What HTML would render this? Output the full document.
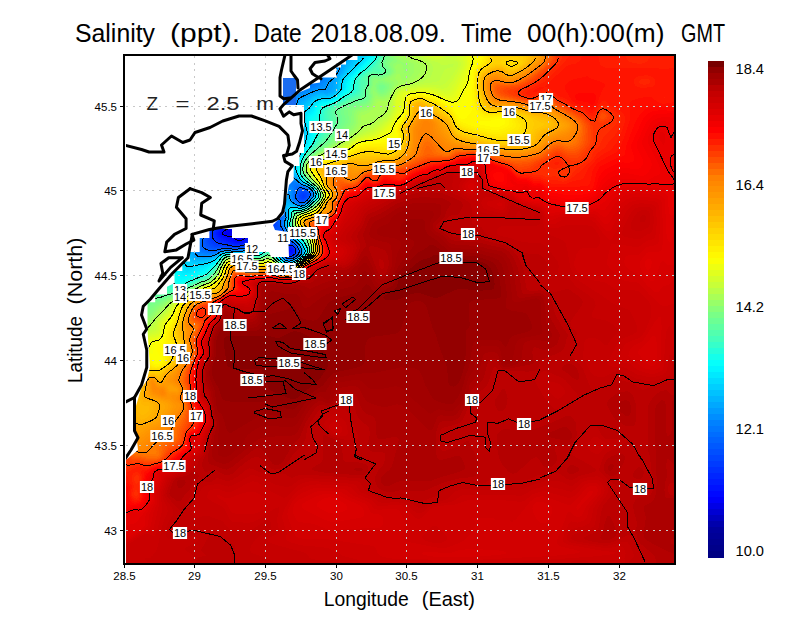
<!DOCTYPE html>
<html><head><meta charset="utf-8"><style>
html,body{margin:0;padding:0;background:#fff;}
svg{display:block;}
text{font-family:"Liberation Sans",sans-serif;}
</style></head><body>
<svg width="800" height="618" viewBox="0 0 800 618">
<rect x="0" y="0" width="800" height="618" fill="#fff"/>
<g font-size="25"><text x="75" y="42" textLength="80" lengthAdjust="spacingAndGlyphs">Salinity</text><text x="170" y="42" textLength="70" lengthAdjust="spacingAndGlyphs">(ppt).</text><text x="253.6" y="42" textLength="48" lengthAdjust="spacingAndGlyphs">Date</text><text x="310.5" y="42" textLength="135.3" lengthAdjust="spacingAndGlyphs">2018.08.09.</text><text x="461" y="42" textLength="51" lengthAdjust="spacingAndGlyphs">Time</text><text x="527" y="42" textLength="137.4" lengthAdjust="spacingAndGlyphs">00(h):00(m)</text><text x="681" y="42" textLength="44" lengthAdjust="spacingAndGlyphs">GMT</text></g>
<defs><clipPath id="pc"><rect x="126" y="56" width="548" height="507"/></clipPath></defs>
<g clip-path="url(#pc)">
<g shape-rendering="crispEdges">
<rect x="123" y="54" width="554" height="512" fill="#0000f1"/>
<path fill="#0000fa" d="M127.0 56.0 675.0 56.0 675.0 564.0 125.0 564.0 125.0 56.0zM228.0 230.0 224.6 232.0 224.7 234.0 227.0 234.7 231.0 234.8 233.3 234.0 233.9 232.0 233.3 230.0 231.0 229.4 229.0 229.7zM236.5 236.0 237.1 238.0 239.0 238.8 242.8 238.0 243.0 236.0 239.0 235.2 237.0 235.6z"/>
<path fill="#0003ff" d="M127.0 56.0 675.0 56.0 675.0 564.0 125.0 564.0 125.0 56.0zM222.0 174.0 223.0 176.5 224.6 174.0 223.0 172.0zM230.7 228.0 225.6 230.0 223.0 231.8 222.5 234.0 225.0 235.5 233.0 237.5 237.0 240.1 242.1 240.0 245.3 238.0 246.3 236.0 245.0 234.2 238.2 232.0 235.0 227.9 231.0 227.9z"/>
<path fill="#0008ff" d="M127.0 56.0 675.0 56.0 675.0 564.0 125.0 564.0 125.0 56.0zM221.2 172.0 221.0 176.3 223.0 177.7 224.9 176.0 225.3 174.0 225.0 172.7 223.0 170.8zM234.7 226.0 229.0 227.7 223.9 230.0 221.4 232.0 221.0 234.0 223.2 236.0 230.3 238.0 235.0 240.5 237.0 241.2 241.0 241.2 244.2 240.0 246.9 238.0 248.4 236.0 248.6 234.0 241.0 231.0 239.4 230.0 237.0 226.3 235.0 225.9z"/>
<path fill="#000dff" d="M127.0 56.0 675.0 56.0 675.0 564.0 125.0 564.0 125.0 56.0zM220.8 170.0 219.8 174.0 220.3 178.0 221.0 178.8 223.0 178.6 225.0 176.6 225.8 174.0 225.0 171.6 223.0 169.8 221.0 169.8zM231.1 226.0 223.0 229.7 221.0 231.3 219.9 234.0 221.0 235.7 236.2 242.0 241.0 242.0 245.0 240.4 248.2 238.0 250.0 236.0 251.0 233.5 249.9 232.0 242.9 230.0 240.5 228.0 239.0 225.0 237.0 224.4 233.0 225.4z"/>
<path fill="#0012ff" d="M127.0 56.0 675.0 56.0 675.0 564.0 125.0 564.0 125.0 56.0zM219.2 170.0 219.0 178.0 220.3 180.0 223.0 179.3 225.0 177.3 226.2 174.0 225.0 170.8 223.0 169.0 221.0 168.5zM234.3 224.0 221.2 230.0 219.3 232.0 219.0 234.2 221.0 236.8 229.0 239.7 233.5 242.0 237.0 242.8 243.0 242.1 249.3 238.0 253.0 234.0 253.4 232.0 251.0 230.6 245.0 229.2 243.0 228.1 241.0 223.6 239.0 222.9 235.0 223.8zM290.4 250.0 290.0 252.0 291.0 252.8 292.1 252.0 291.9 250.0 291.0 249.5z"/>
<path fill="#0017ff" d="M127.0 56.0 675.0 56.0 675.0 564.0 125.0 564.0 125.0 56.0zM218.5 168.0 217.6 172.0 218.1 180.0 219.0 181.2 221.0 181.0 223.0 180.0 226.1 176.0 226.6 174.0 226.1 172.0 223.0 168.3 221.0 167.4 219.0 167.5zM237.6 222.0 221.0 229.4 218.3 232.0 218.0 234.0 218.8 236.0 221.0 237.8 233.0 242.6 237.0 243.5 243.0 242.6 247.0 240.6 250.4 238.0 254.5 234.0 255.7 232.0 254.8 230.0 245.0 227.5 243.7 226.0 242.8 222.0 241.0 221.4 239.0 221.6zM289.2 250.0 289.0 252.3 291.0 253.8 293.0 252.4 293.2 250.0 291.0 248.5z"/>
<path fill="#001cff" d="M127.0 56.0 675.0 56.0 675.0 564.0 125.0 564.0 125.0 56.0zM217.5 166.0 216.4 170.0 216.5 180.0 217.0 182.3 219.0 182.7 223.0 180.5 225.0 178.4 227.0 174.0 225.0 169.5 223.0 167.6 219.0 165.7zM241.1 220.0 233.0 223.0 221.0 228.6 217.4 232.0 217.1 234.0 217.8 236.0 221.0 238.7 233.0 243.4 239.0 244.0 245.0 242.3 248.8 240.0 255.8 234.0 257.5 232.0 258.0 230.0 255.0 228.4 249.0 227.5 245.8 226.0 244.9 224.0 244.9 222.0 243.9 220.0 243.0 219.8zM290.3 248.0 289.0 249.1 288.4 252.0 289.6 254.0 292.0 254.0 293.8 252.0 293.7 250.0 293.0 248.7 291.0 247.7z"/>
<path fill="#0021ff" d="M127.0 56.0 675.0 56.0 675.0 564.0 125.0 564.0 125.0 56.0zM216.2 164.0 215.2 168.0 215.3 182.0 215.9 184.0 217.0 184.8 221.0 182.5 225.0 178.9 226.9 176.0 227.0 172.4 225.0 168.9 223.0 167.0 217.0 163.4zM238.3 220.0 219.0 229.1 216.4 232.0 216.1 234.0 216.7 236.0 219.0 238.6 232.5 244.0 239.0 244.4 245.0 242.9 254.7 236.0 259.0 232.0 260.2 230.0 259.0 227.9 248.5 226.0 246.6 224.0 246.7 220.0 245.0 218.2 239.0 219.7zM289.0 248.0 287.9 252.0 288.6 254.0 291.0 254.8 293.1 254.0 294.3 252.0 294.3 250.0 293.1 248.0 291.0 247.1 289.0 248.0z"/>
<path fill="#0026ff" d="M127.0 56.0 675.0 56.0 675.0 564.0 125.0 564.0 125.0 56.0zM214.7 162.0 214.0 170.0 214.5 186.0 215.0 186.7 217.0 186.3 225.0 179.3 227.2 176.0 227.5 174.0 227.0 171.5 223.0 166.4 217.0 161.7 215.0 161.6zM241.4 218.0 219.4 228.0 216.7 230.0 215.4 232.0 215.2 234.0 217.0 238.0 219.0 239.7 230.3 244.0 237.0 245.0 243.4 244.0 247.7 242.0 255.7 236.0 261.9 230.0 262.4 228.0 259.0 226.5 251.0 225.4 249.0 224.5 248.0 222.0 248.5 218.0 247.0 216.7 243.0 217.4zM288.5 248.0 287.4 252.0 288.1 254.0 289.0 254.8 291.0 255.2 293.6 254.0 294.8 252.0 294.8 250.0 293.7 248.0 291.0 246.6 289.0 247.2z"/>
<path fill="#002bff" d="M127.0 56.0 675.0 56.0 675.0 564.0 125.0 564.0 125.0 56.0zM213.9 160.0 212.8 164.0 212.7 184.0 213.5 188.0 215.0 188.6 225.0 179.7 227.4 176.0 227.8 174.0 227.0 170.8 225.0 167.8 217.0 160.5 215.0 159.6zM244.5 216.0 219.0 227.4 215.6 230.0 214.4 232.0 214.1 234.0 215.0 236.9 217.0 239.5 221.0 241.7 235.0 245.4 239.0 245.3 244.7 244.0 248.6 242.0 256.6 236.0 261.3 232.0 264.6 228.0 263.0 225.9 250.8 224.0 249.5 222.0 250.4 216.0 249.0 215.1 245.0 215.8zM290.9 246.0 289.0 246.4 288.0 248.0 287.0 252.0 287.6 254.0 289.0 255.3 291.0 255.7 294.1 254.0 295.2 252.0 295.2 250.0 294.2 248.0 291.0 246.0z"/>
<path fill="#0030ff" d="M127.0 56.0 675.0 56.0 675.0 564.0 125.0 564.0 125.0 56.0zM211.4 160.0 211.1 184.0 212.0 190.0 213.0 190.6 215.0 190.0 225.0 180.2 227.7 176.0 228.1 174.0 227.0 170.1 225.0 167.2 217.0 159.6 215.0 158.4 213.0 158.2zM247.7 214.0 239.0 217.3 219.0 226.4 214.4 230.0 212.9 234.0 213.3 236.0 215.0 239.1 219.0 242.2 235.0 245.9 243.0 244.9 249.0 242.3 260.0 234.0 266.2 228.0 266.6 226.0 263.0 224.7 253.0 223.4 251.0 222.0 252.1 214.0 249.0 213.7zM288.7 246.0 286.8 250.0 287.0 254.0 289.0 255.9 291.0 256.1 294.6 254.0 295.6 252.0 295.6 250.0 294.7 248.0 292.2 246.0 289.0 245.7z"/>
<path fill="#0035ff" d="M127.0 56.0 675.0 56.0 675.0 564.0 125.0 564.0 125.0 142.0 137.0 142.0 193.0 198.0 197.0 194.0 197.0 192.0 201.0 188.0 201.0 192.0 203.0 192.8 209.0 193.2 213.0 192.2 225.0 180.5 227.9 176.0 228.3 174.0 228.1 172.0 226.0 168.0 215.7 158.0 211.0 156.6 203.0 157.3 201.0 158.0 201.0 162.0 193.0 154.0 193.0 152.0 183.0 142.0 181.0 142.0 179.0 140.0 177.0 140.0 173.0 136.0 171.0 136.0 169.0 134.0 167.0 134.0 165.0 132.0 163.0 132.0 161.0 130.0 159.0 130.0 157.0 128.0 155.0 128.0 151.0 124.0 149.0 124.0 147.0 122.0 145.0 122.0 143.0 120.0 141.0 120.0 139.0 118.0 137.0 118.0 135.0 116.0 133.0 116.0 129.0 112.0 127.0 112.0 125.0 110.0 125.0 56.0zM251.0 212.0 241.0 215.6 217.0 226.5 213.3 230.0 211.8 234.0 212.0 236.0 214.0 240.0 216.0 242.0 219.0 243.4 235.0 246.3 239.7 246.0 245.0 244.7 250.2 242.0 260.9 234.0 265.6 230.0 268.8 226.0 266.6 224.0 257.0 223.1 253.0 222.0 252.3 220.0 254.1 214.0 253.6 212.0 251.0 212.0zM288.0 246.0 286.5 250.0 286.3 252.0 287.0 254.5 289.0 256.2 291.0 256.3 295.0 254.1 295.9 252.0 295.1 248.0 293.0 245.9 289.0 245.1z"/>
<path fill="#003aff" d="M127.0 56.0 675.0 56.0 675.0 564.0 125.0 564.0 125.0 152.1 127.0 152.6 131.0 155.6 189.5 214.0 193.0 216.9 195.0 216.5 197.0 214.2 209.6 196.0 215.0 191.7 225.0 180.9 227.2 178.0 228.6 174.0 227.6 170.0 225.0 166.2 217.0 158.1 209.7 154.0 191.1 132.0 181.3 126.0 167.0 118.9 159.3 114.0 145.0 106.9 137.3 102.0 125.0 96.3 125.0 56.0zM248.0 212.0 217.0 225.2 213.0 229.0 210.8 234.0 211.0 237.3 212.2 240.0 213.8 242.0 217.0 244.1 235.0 246.6 241.0 246.1 245.0 245.1 249.0 243.3 259.1 236.0 266.7 230.0 270.5 226.0 270.6 224.0 269.0 223.4 257.0 222.1 255.0 221.4 253.7 220.0 253.9 218.0 256.1 212.0 255.0 210.2 249.0 211.6zM287.3 246.0 286.0 252.0 287.0 255.1 289.0 256.5 291.0 256.6 293.0 256.0 295.0 254.4 296.3 252.0 295.5 248.0 293.0 245.5 289.0 244.4z"/>
<path fill="#003fff" d="M127.0 56.0 675.0 56.0 675.0 564.0 125.0 564.0 125.0 153.5 127.0 154.3 131.0 157.4 189.0 215.4 193.0 218.6 195.0 218.2 197.0 216.1 209.3 198.0 225.0 181.3 227.4 178.0 228.8 174.0 228.0 170.0 225.3 166.0 217.5 158.0 211.2 154.0 209.3 152.0 203.8 146.0 193.0 131.8 183.0 125.5 145.0 105.3 136.3 100.0 125.0 95.0 125.0 56.0zM302.9 194.0 301.4 196.0 302.5 198.0 303.4 198.0 305.3 196.0 305.0 194.9 303.0 193.9zM250.8 210.0 217.0 223.8 211.5 230.0 209.7 236.0 210.6 240.0 211.9 242.0 214.0 244.0 217.0 245.2 235.0 246.9 243.0 246.1 247.0 244.8 251.8 242.0 265.2 232.0 272.2 226.0 273.2 224.0 271.0 222.5 269.0 222.0 259.0 221.4 255.4 220.0 255.0 218.0 258.1 210.0 257.0 208.6 251.0 209.9zM288.3 244.0 287.0 245.1 286.2 248.0 285.6 252.0 286.0 254.0 287.3 256.0 289.0 256.8 293.0 256.3 295.8 254.0 296.6 252.0 296.6 250.0 294.1 246.0 289.0 243.7z"/>
<path fill="#0044ff" d="M127.0 56.0 675.0 56.0 675.0 564.0 125.0 564.0 125.0 154.6 127.0 155.4 130.2 158.0 189.0 216.7 193.0 219.8 195.0 219.1 197.0 217.0 210.1 198.0 225.0 181.7 227.7 178.0 229.1 174.0 228.3 170.0 225.9 166.0 218.1 158.0 210.1 152.0 193.0 130.7 182.3 124.0 169.0 117.3 138.3 100.0 125.0 93.8 125.0 56.0zM300.9 194.0 300.3 196.0 301.0 198.4 303.0 199.1 305.3 198.0 306.5 196.0 306.1 194.0 305.0 193.1 303.0 192.7 301.0 193.9zM253.8 208.0 229.0 218.1 219.0 220.2 213.0 226.6 209.0 234.0 208.7 238.0 210.1 242.0 211.8 244.0 215.0 245.9 235.0 247.3 245.0 246.0 249.5 244.0 258.0 238.0 274.1 226.0 275.0 224.0 273.0 221.7 259.0 220.3 257.0 219.3 256.4 218.0 256.7 216.0 260.2 208.0 259.0 207.0 255.0 207.6zM286.8 244.0 285.3 252.0 285.6 254.0 287.0 256.2 289.0 257.1 293.0 256.5 296.1 254.0 297.0 252.0 296.2 248.0 294.6 246.0 289.0 243.1 287.0 243.5z"/>
<path fill="#0049ff" d="M127.0 56.0 675.0 56.0 675.0 564.0 125.0 564.0 125.0 155.6 129.0 158.0 189.0 217.9 193.0 220.6 195.0 220.1 197.0 218.0 210.9 198.0 227.0 179.4 228.9 176.0 229.4 174.0 228.6 170.0 226.4 166.0 218.7 158.0 210.9 152.0 205.4 146.0 193.0 129.6 183.0 123.4 169.0 116.3 139.0 99.4 125.0 93.0 125.0 56.0zM301.8 192.0 300.0 194.0 299.3 196.0 299.7 198.0 301.0 199.5 303.0 200.0 306.1 198.0 307.3 196.0 307.0 193.6 305.2 192.0 303.0 191.6zM256.6 206.0 229.0 216.8 225.0 216.8 223.9 216.0 223.0 213.3 221.0 214.9 213.0 225.5 208.4 234.0 207.7 238.0 208.5 242.0 209.8 244.0 213.0 246.3 215.0 246.8 225.0 246.6 235.0 247.6 246.2 246.0 251.0 243.6 271.0 228.9 275.8 226.0 276.2 224.0 275.5 222.0 273.0 220.5 261.0 219.6 257.9 218.0 257.8 216.0 261.8 208.0 262.2 206.0 261.0 205.2 257.0 205.9zM286.8 242.0 285.0 252.0 285.3 254.0 286.4 256.0 289.0 257.5 291.0 257.4 295.0 255.6 296.5 254.0 297.3 252.0 296.5 248.0 293.0 244.5 287.0 241.8z"/>
<path fill="#004eff" d="M127.0 56.0 675.0 56.0 675.0 564.0 125.0 564.0 125.0 156.5 127.0 157.4 130.0 160.0 189.0 219.0 191.0 220.7 193.0 221.5 195.0 220.7 197.0 218.7 209.8 200.0 225.3 182.0 228.2 178.0 229.6 174.0 229.0 170.0 226.9 166.0 219.2 158.0 211.4 152.0 206.0 146.0 198.2 136.0 195.0 130.5 193.0 128.7 183.0 122.6 147.0 103.4 139.0 98.6 129.0 93.5 125.0 92.1 125.0 56.0zM300.4 192.0 298.6 196.0 298.8 198.0 300.5 200.0 303.0 200.6 305.0 199.7 306.9 198.0 307.9 196.0 308.0 194.0 307.0 192.4 303.0 190.9 301.0 191.4zM228.4 202.0 225.0 206.0 211.0 227.5 207.7 234.0 206.8 238.0 207.1 242.0 208.1 244.0 211.0 246.4 215.0 247.7 223.0 246.9 235.0 247.9 247.0 246.1 251.1 244.0 271.0 229.6 277.0 226.8 277.0 222.9 275.0 220.1 263.0 218.8 260.0 218.0 259.0 216.0 263.9 206.0 264.1 204.0 263.0 203.5 259.0 204.2 233.8 214.0 229.0 214.9 227.3 214.0 227.2 212.0 229.8 202.0 229.0 200.8zM284.9 240.0 285.4 244.0 284.7 252.0 284.9 254.0 286.0 256.0 289.0 257.8 293.0 257.0 296.8 254.0 297.6 252.0 296.8 248.0 295.0 245.6 285.0 239.7z"/>
<path fill="#0052ff" d="M127.0 56.0 675.0 56.0 675.0 564.0 125.0 564.0 125.0 157.4 129.0 160.1 189.0 220.0 191.0 221.7 193.0 222.2 195.0 221.3 197.0 219.3 211.9 198.0 225.6 182.0 228.5 178.0 229.9 174.0 229.3 170.0 227.0 165.3 219.7 158.0 211.9 152.0 198.8 136.0 195.0 129.4 193.4 128.0 183.0 121.7 147.0 102.6 139.0 97.7 129.0 92.7 125.0 91.3 125.0 56.0zM235.9 188.0 229.0 197.6 208.0 232.0 206.5 236.0 205.8 240.0 206.5 244.0 208.3 246.0 212.2 248.0 215.0 248.4 223.0 247.3 237.0 248.1 245.0 247.0 251.0 244.6 271.0 230.3 273.0 229.2 278.4 228.0 277.0 220.6 275.0 219.0 263.0 217.8 260.4 216.0 261.5 212.0 266.1 204.0 265.9 202.0 265.0 201.7 257.0 203.8 235.0 212.3 233.0 212.7 230.3 212.0 230.6 208.0 237.3 190.0 237.7 188.0 237.0 186.0zM299.4 192.0 297.9 196.0 298.2 198.0 299.5 200.0 301.0 200.9 303.0 201.1 305.0 200.3 307.0 198.5 308.5 196.0 308.7 194.0 307.4 192.0 305.0 190.6 301.0 190.4zM282.5 236.0 284.8 244.0 284.4 252.0 285.7 256.0 288.8 258.0 291.0 258.0 295.0 256.2 297.2 254.0 297.9 252.0 297.8 250.0 295.8 246.0 287.5 240.0 283.0 234.8z"/>
<path fill="#0057ff" d="M127.0 56.0 675.0 56.0 675.0 564.0 125.0 564.0 125.0 158.4 129.0 161.3 187.0 219.3 191.0 222.6 193.0 222.9 195.0 222.0 197.0 219.9 212.3 198.0 227.5 180.0 229.8 176.0 230.1 174.0 229.7 170.0 227.0 164.5 220.3 158.0 212.3 152.0 199.3 136.0 194.7 128.0 183.0 120.7 147.7 102.0 139.0 96.7 129.0 91.7 125.0 90.4 125.0 56.0zM244.7 172.0 235.0 186.0 209.0 229.1 205.3 238.0 205.2 244.0 207.0 246.4 209.7 248.0 213.0 248.9 223.0 247.7 235.0 248.4 245.0 247.4 251.0 245.1 271.0 230.8 275.0 229.5 277.1 230.0 279.2 232.0 283.8 242.0 284.5 246.0 284.1 252.0 285.3 256.0 288.0 258.0 291.0 258.2 295.0 256.4 297.5 254.0 298.2 252.0 297.4 248.0 295.0 244.9 288.2 240.0 282.0 232.0 279.7 228.0 277.0 219.0 275.0 217.9 265.0 217.1 262.2 216.0 261.7 214.0 262.4 212.0 268.3 202.0 267.6 200.0 261.0 201.3 239.0 209.7 235.0 210.5 233.3 210.0 232.9 208.0 234.0 204.0 245.1 176.0 245.8 172.0 245.0 171.4zM300.2 190.0 299.0 191.2 297.8 194.0 297.5 198.0 299.0 200.3 301.0 201.5 303.0 201.6 305.0 200.7 307.9 198.0 309.1 196.0 309.2 194.0 308.1 192.0 305.0 190.0 301.0 189.7z"/>
<path fill="#005cff" d="M127.0 56.0 675.0 56.0 675.0 564.0 125.0 564.0 125.0 159.5 129.0 162.6 187.0 220.6 191.0 223.6 193.0 223.5 197.0 220.4 212.8 198.0 227.8 180.0 230.1 176.0 230.4 174.0 229.6 168.0 227.4 164.0 220.8 158.0 213.0 152.2 207.4 146.0 198.3 134.0 195.0 126.9 185.0 120.7 171.7 114.0 141.0 96.7 129.0 90.6 125.0 89.4 125.0 56.0zM252.4 158.0 249.0 162.1 239.0 177.8 207.0 231.9 204.2 240.0 204.1 244.0 204.9 246.0 207.5 248.0 213.0 249.6 223.0 248.1 235.0 248.7 245.0 247.7 251.0 245.6 271.0 231.4 275.0 230.2 277.0 231.0 279.0 233.3 283.2 242.0 284.2 246.0 284.0 254.0 285.0 256.1 287.2 258.0 291.0 258.4 295.0 256.7 297.8 254.0 298.5 252.0 297.7 248.0 295.0 244.5 289.0 240.0 281.6 230.0 279.7 226.0 278.5 220.0 277.5 218.0 275.0 216.9 265.0 216.0 263.0 214.3 264.4 210.0 270.5 200.0 269.0 198.0 263.0 199.6 241.0 207.8 236.4 208.0 235.7 206.0 236.1 204.0 253.0 161.7 253.8 158.0 253.0 156.9zM298.9 190.0 296.7 196.0 296.9 198.0 299.0 200.9 301.0 202.1 303.0 202.1 305.0 201.2 308.3 198.0 309.5 196.0 309.7 194.0 308.8 192.0 306.1 190.0 303.0 189.1 301.0 189.0 299.0 189.8z"/>
<path fill="#0061ff" d="M127.0 56.0 675.0 56.0 675.0 564.0 125.0 564.0 125.0 161.2 129.0 164.5 187.0 222.4 189.0 224.0 191.0 224.6 195.0 223.0 197.0 220.9 211.7 200.0 228.1 180.0 230.3 176.0 230.7 174.0 230.2 168.0 228.5 164.0 213.2 152.0 207.8 146.0 198.8 134.0 197.0 127.8 195.0 125.3 185.0 119.1 148.7 100.0 141.0 95.1 129.0 89.1 125.0 88.1 125.0 56.0zM260.0 144.0 255.0 150.5 243.0 169.6 207.6 230.0 203.4 240.0 203.0 244.0 203.5 246.0 207.0 248.7 213.0 250.3 223.0 248.4 235.0 248.9 245.3 248.0 251.1 246.0 271.0 232.0 275.0 230.9 277.0 231.9 278.6 234.0 282.7 242.0 283.8 246.0 283.7 254.0 285.0 256.5 287.0 258.2 291.0 258.6 295.0 256.9 298.1 254.0 298.8 252.0 298.7 250.0 297.0 246.3 289.5 240.0 281.2 228.0 279.7 224.0 279.0 218.0 277.0 216.4 267.0 215.3 264.5 214.0 264.4 212.0 265.2 210.0 272.9 198.0 271.0 196.2 265.0 197.8 243.0 205.8 241.0 206.2 239.0 205.6 238.5 204.0 239.5 200.0 261.0 147.0 261.7 144.0 261.0 142.2zM298.1 190.0 296.1 196.0 297.0 199.3 299.0 201.6 301.0 202.5 303.0 202.5 305.0 201.6 308.8 198.0 309.9 196.0 310.1 194.0 309.0 191.6 305.0 189.2 301.0 188.4 299.0 188.8z"/>
<path fill="#0066ff" d="M285.0 56.0 675.0 56.0 675.0 564.0 125.0 564.0 125.0 166.0 129.0 168.3 133.0 171.9 187.0 225.5 189.0 226.0 191.0 225.6 195.0 223.5 199.0 218.8 212.0 200.0 228.4 180.0 229.8 178.0 230.9 174.0 230.5 166.0 229.9 164.0 213.6 152.0 206.5 144.0 199.2 134.0 198.4 132.0 198.3 128.0 199.0 123.2 201.0 118.1 205.6 118.0 207.0 116.0 231.0 116.0 233.0 114.0 245.0 114.0 247.0 112.0 249.0 112.0 251.0 110.0 253.0 110.0 253.0 108.0 257.0 104.0 257.0 102.0 261.0 98.0 261.0 96.0 265.0 92.0 265.0 90.0 269.0 86.0 269.0 84.0 271.0 82.0 273.0 82.1 275.0 83.4 275.0 76.0 279.0 72.0 281.0 72.0 283.0 70.0 283.0 56.0zM270.8 124.0 271.0 125.9 271.0 123.1zM268.7 128.0 263.0 135.7 243.0 168.1 207.1 230.0 202.8 240.0 202.4 246.0 205.0 248.8 209.0 250.2 213.0 250.8 223.0 248.6 235.0 249.2 247.0 248.0 253.0 245.3 271.0 232.6 275.0 231.6 277.9 234.0 282.2 242.0 283.4 246.0 283.4 254.0 284.3 256.0 286.3 258.0 289.0 259.0 293.0 258.2 296.6 256.0 298.4 254.0 299.2 252.0 299.0 250.0 297.1 246.0 289.0 238.9 281.7 228.0 280.2 224.0 280.1 218.0 279.0 216.1 277.0 215.4 267.0 214.1 265.5 212.0 267.2 208.0 274.1 198.0 275.0 195.4 273.0 194.4 269.0 195.3 245.0 203.7 243.0 203.9 241.3 202.0 243.0 196.0 267.0 137.8 269.6 130.0 269.8 128.0 269.0 127.1zM298.7 188.0 297.3 190.0 296.0 194.0 295.7 198.0 296.8 200.0 299.0 202.1 301.0 202.9 305.0 202.0 309.0 198.2 310.3 196.0 310.6 194.0 309.7 192.0 307.7 190.0 305.0 188.8 299.0 187.9z"/>
<path fill="#006aff" d="M297.0 56.0 675.0 56.0 675.0 564.0 125.0 564.0 125.0 169.8 127.0 170.3 131.0 173.2 185.0 227.0 187.0 228.3 189.0 227.9 195.0 224.0 197.0 221.8 212.4 200.0 230.2 178.0 231.3 174.0 231.4 164.0 229.4 162.0 215.0 152.8 208.6 146.0 199.6 134.0 198.8 130.0 199.6 128.0 201.0 126.6 203.0 126.2 211.1 126.0 219.0 124.2 239.0 124.0 245.0 122.9 253.0 122.3 261.0 119.0 267.0 118.7 268.2 122.0 267.7 126.0 266.7 128.0 242.4 168.0 206.7 230.0 202.2 240.0 201.4 246.0 203.0 248.7 205.5 250.0 211.0 251.3 215.0 251.1 223.0 248.9 235.0 249.4 247.0 248.3 252.7 246.0 271.0 233.1 273.0 232.3 275.0 232.3 277.0 233.7 278.6 236.0 282.5 244.0 283.1 254.0 284.0 256.0 285.8 258.0 289.0 259.2 291.0 259.1 295.0 257.4 298.7 254.0 299.5 252.0 299.3 250.0 297.0 245.5 288.7 238.0 282.1 228.0 280.6 224.0 281.2 218.0 280.7 216.0 277.0 214.4 269.0 213.5 266.9 212.0 268.0 208.0 276.4 196.0 277.3 194.0 277.0 193.0 275.0 192.6 271.0 193.5 249.0 201.2 245.0 201.3 244.1 200.0 246.5 192.0 271.0 133.1 288.2 90.0 289.6 88.0 295.2 84.0 297.0 81.6 297.6 76.0 296.1 68.0 296.0 56.0zM297.2 188.0 294.9 196.0 296.2 200.0 298.1 202.0 301.0 203.3 305.0 202.3 309.5 198.0 310.7 196.0 311.0 194.0 310.2 192.0 307.0 189.2 303.0 187.8 299.0 187.2z"/>
<path fill="#006fff" d="M303.0 56.0 675.0 56.0 675.0 564.0 125.0 564.0 125.0 171.1 129.0 173.1 131.0 174.9 185.0 228.7 187.0 230.0 189.0 229.3 197.0 222.3 212.8 200.0 230.5 178.0 231.7 174.0 232.0 168.0 232.9 164.0 231.3 162.0 225.0 159.1 214.4 152.0 207.2 144.0 201.2 136.0 199.3 132.0 199.5 130.0 201.0 128.1 203.0 127.3 211.0 126.9 221.0 125.1 239.0 124.9 251.0 123.7 255.0 122.9 261.0 120.4 265.0 120.6 266.4 122.0 266.8 124.0 265.8 128.0 234.6 180.0 206.2 230.0 201.6 240.0 200.5 246.0 201.0 248.0 203.0 250.0 211.0 251.9 215.0 251.6 223.0 249.2 235.0 249.6 247.0 248.6 253.0 246.3 271.0 233.7 273.0 232.9 275.0 233.0 278.0 236.0 282.1 244.0 282.8 248.0 282.8 254.0 283.6 256.0 285.4 258.0 289.0 259.5 291.0 259.3 295.0 257.6 299.0 254.0 299.8 252.0 299.6 250.0 297.0 245.1 289.1 238.0 282.6 228.0 281.6 226.0 281.0 222.0 282.0 218.0 282.0 216.0 279.0 213.8 269.0 212.2 268.2 210.0 270.1 206.0 278.8 194.0 279.6 192.0 279.0 190.9 277.0 190.7 273.0 191.7 251.0 199.2 249.0 199.4 246.9 198.0 249.2 190.0 287.0 99.6 289.6 92.0 293.0 88.0 300.5 84.0 302.1 82.0 302.7 76.0 304.3 68.0 301.9 56.0zM296.2 188.0 294.4 196.0 294.6 198.0 295.6 200.0 299.0 203.0 301.0 203.7 305.0 202.6 308.1 200.0 311.1 196.0 311.0 193.0 308.8 190.0 305.0 188.0 299.0 186.5 297.0 186.7z"/>
<path fill="#0074ff" d="M307.0 56.0 675.0 56.0 675.0 564.0 125.0 564.0 125.0 172.2 127.0 172.8 131.0 176.2 185.0 230.0 187.0 230.9 189.0 230.4 197.0 222.8 213.0 200.3 229.8 180.0 231.9 176.0 232.3 170.0 234.0 164.0 232.8 162.0 223.0 157.4 214.8 152.0 207.5 144.0 201.6 136.0 199.8 132.0 200.2 130.0 201.0 129.0 203.0 128.2 211.0 127.8 219.0 126.1 239.0 125.8 253.0 124.4 261.0 121.3 263.0 121.3 264.7 122.0 265.9 124.0 265.8 126.0 263.9 130.0 233.9 180.0 204.7 232.0 200.4 242.0 199.7 246.0 200.0 248.0 201.0 249.7 203.0 251.0 211.0 252.5 215.0 252.0 223.0 249.4 235.0 249.9 247.0 248.9 253.0 246.8 271.0 234.2 273.0 233.4 275.0 233.6 277.5 236.0 281.6 244.0 282.5 248.0 282.5 254.0 283.3 256.0 285.0 258.0 289.0 259.7 291.0 259.5 295.0 257.8 299.3 254.0 300.1 252.0 299.9 250.0 297.0 244.7 289.0 237.3 282.0 226.0 281.4 222.0 282.9 218.0 283.0 215.9 281.0 213.6 271.0 211.6 269.4 210.0 270.8 206.0 279.8 194.0 281.8 190.0 281.0 188.9 277.0 189.3 253.0 197.1 251.0 197.1 249.8 196.0 249.8 194.0 254.4 182.0 288.3 102.0 291.5 92.0 295.0 88.8 307.2 84.0 309.4 82.0 311.9 70.0 311.1 66.0 308.2 60.0 307.0 56.0zM295.7 186.0 293.8 196.0 294.0 198.0 297.0 202.1 300.6 204.0 303.0 203.9 307.0 201.4 310.1 198.0 311.4 196.0 311.6 194.0 311.0 192.0 307.0 188.5 297.0 185.5z"/>
<path fill="#0079ff" d="M311.0 56.0 675.0 56.0 675.0 564.0 125.0 564.0 125.0 172.9 127.0 173.8 131.0 177.1 183.9 230.0 187.0 231.8 189.0 231.2 197.0 223.2 215.0 198.2 232.0 178.0 232.8 170.0 235.0 164.0 233.9 162.0 223.0 157.0 215.0 151.8 207.9 144.0 201.9 136.0 200.2 132.0 200.9 130.0 203.0 128.8 213.0 128.1 219.0 126.6 239.0 126.4 253.0 125.0 259.0 122.7 263.0 122.2 264.9 124.0 264.3 128.0 245.5 160.0 234.0 178.0 227.0 191.7 205.4 230.0 199.8 242.0 199.1 248.0 201.0 251.1 203.0 252.0 211.0 253.0 215.0 252.5 223.0 249.7 237.0 250.1 249.0 248.9 253.0 247.3 269.0 235.9 273.0 234.0 275.0 234.3 277.0 236.1 280.3 242.0 281.9 246.0 282.2 254.0 284.7 258.0 289.0 259.9 295.1 258.0 299.6 254.0 300.4 252.0 300.2 250.0 297.0 244.4 291.7 240.0 289.0 236.8 282.4 226.0 281.9 222.0 283.5 218.0 283.6 216.0 283.0 214.4 281.0 212.7 273.0 211.0 270.9 210.0 270.8 208.0 271.7 206.0 282.2 192.0 284.2 188.0 283.0 186.9 279.0 187.4 257.0 194.7 253.0 194.4 252.6 192.0 255.4 184.0 283.0 118.1 289.0 105.7 291.5 96.0 293.0 92.5 297.0 89.6 308.1 86.0 311.9 84.0 315.8 80.0 316.2 78.0 313.9 68.0 309.1 56.0zM294.8 184.0 293.9 186.0 294.6 190.0 293.2 196.0 293.4 198.0 296.2 202.0 299.0 203.9 303.0 204.2 307.0 201.8 310.4 198.0 311.7 196.0 311.9 194.0 311.3 192.0 307.0 188.2 295.0 184.0z"/>
<path fill="#007eff" d="M313.0 56.0 675.0 56.0 675.0 564.0 125.0 564.0 125.0 173.7 127.0 174.6 130.9 178.0 183.0 230.1 185.0 231.8 187.0 232.5 189.0 232.0 197.0 223.6 215.0 198.7 223.0 189.0 229.0 182.9 229.8 184.0 227.3 190.0 200.9 238.0 198.3 246.0 199.0 250.3 201.0 252.3 203.0 252.9 211.0 253.6 215.0 252.9 223.0 250.0 237.0 250.3 249.0 249.2 253.0 247.8 269.0 236.4 273.0 234.6 275.0 235.0 277.0 236.9 279.9 242.0 281.5 246.0 281.9 254.0 284.3 258.0 287.0 259.7 289.0 260.1 291.0 259.9 295.4 258.0 299.9 254.0 300.6 252.0 299.8 248.0 297.0 244.0 290.3 238.0 283.7 228.0 282.2 224.0 282.3 222.0 284.0 218.0 284.2 216.0 283.0 213.3 279.0 211.1 273.5 210.0 272.0 208.0 273.7 204.0 284.8 190.0 287.3 186.0 285.0 184.9 281.0 185.6 259.0 192.7 257.0 192.8 255.5 192.0 255.3 190.0 258.1 182.0 283.0 122.5 291.0 106.4 292.4 98.0 293.7 94.0 297.0 91.2 307.1 88.0 315.6 84.0 318.2 82.0 321.2 78.0 321.8 76.0 321.2 74.0 317.0 69.9 311.4 56.0zM290.0 184.0 291.0 184.5 293.5 188.0 293.8 190.0 292.6 196.0 293.7 200.0 295.6 202.0 299.0 204.2 303.0 204.5 305.0 203.6 309.0 200.1 312.0 196.0 312.3 194.0 311.6 192.0 310.0 190.0 307.0 187.9 295.0 182.8 293.0 182.1 291.0 183.4zM259.0 123.4 261.0 122.9 263.0 123.2 263.9 124.0 264.3 126.0 263.7 128.0 246.1 158.0 240.4 166.0 235.0 175.4 233.0 175.9 233.0 174.0 233.7 170.0 236.0 164.0 235.0 162.0 223.0 156.6 215.0 151.5 208.2 144.0 202.3 136.0 201.1 134.0 201.0 131.1 203.0 129.4 213.0 128.6 219.0 127.1 241.0 126.7 253.0 125.7 257.7 124.0z"/>
<path fill="#0083ff" d="M319.0 56.0 675.0 56.0 675.0 564.0 125.0 564.0 125.0 174.5 127.0 175.4 130.0 178.0 183.0 231.0 185.0 232.6 187.0 233.2 189.7 232.0 197.0 224.1 215.0 199.3 223.0 189.7 227.3 186.0 227.4 188.0 225.0 193.2 203.5 232.0 198.7 242.0 197.6 246.0 197.9 250.0 199.0 252.1 201.0 253.3 211.0 254.1 215.0 253.3 223.0 250.2 237.0 250.5 249.0 249.6 253.4 248.0 269.0 237.0 273.0 235.2 275.0 235.6 277.0 237.7 279.4 242.0 281.1 246.0 281.6 254.0 284.0 258.0 287.0 260.0 289.0 260.4 291.4 260.0 295.7 258.0 300.2 254.0 300.9 252.0 300.1 248.0 297.3 244.0 290.6 238.0 284.0 228.0 282.6 224.0 282.7 222.0 284.6 218.0 284.8 216.0 283.0 212.4 281.0 210.9 275.0 209.2 273.3 208.0 273.4 206.0 279.0 197.8 289.0 187.0 291.0 186.8 293.0 189.6 292.0 196.0 293.1 200.0 295.0 202.0 299.0 204.5 303.0 204.7 307.4 202.0 312.3 196.0 312.6 194.0 311.9 192.0 307.7 188.0 299.0 184.4 293.0 180.9 263.0 190.3 259.0 190.4 258.1 188.0 260.8 180.0 284.3 124.0 291.8 110.0 293.6 98.0 295.0 94.6 298.7 92.0 310.8 88.0 318.9 84.0 322.9 80.0 327.1 74.0 327.0 70.9 321.5 64.0 318.3 56.0zM261.0 123.5 263.0 124.2 263.6 126.0 263.1 128.0 245.0 159.0 239.3 166.0 235.0 173.4 234.6 170.0 236.8 166.0 237.0 164.0 235.9 162.0 232.7 160.0 223.0 156.2 215.0 151.1 208.5 144.0 202.6 136.0 201.5 134.0 201.1 132.0 203.0 130.0 205.0 129.6 213.0 129.0 221.0 127.4 239.0 127.3 253.0 126.3 259.1 124.0z"/>
<path fill="#008aff" d="M327.0 56.0 675.0 56.0 675.0 564.0 125.0 564.0 125.0 175.2 129.1 178.0 183.0 231.8 185.0 233.3 187.0 233.8 190.3 232.0 197.0 224.6 215.0 199.8 225.0 189.0 225.4 190.0 225.0 191.5 223.0 195.8 204.1 230.0 198.2 242.0 196.9 246.0 197.0 250.0 197.8 252.0 200.1 254.0 203.0 254.6 211.0 254.6 215.0 253.8 223.0 250.4 237.0 250.7 251.0 249.4 255.0 247.5 269.0 237.5 273.0 235.7 275.0 236.3 276.6 238.0 280.0 244.0 281.1 248.0 281.3 254.0 283.7 258.0 286.5 260.0 289.0 260.6 293.0 259.6 296.1 258.0 300.5 254.0 301.2 252.0 300.3 248.0 297.6 244.0 291.0 238.0 284.4 228.0 283.0 224.0 283.1 222.0 285.1 218.0 284.6 214.0 283.0 211.5 281.0 210.0 275.3 208.0 274.5 206.0 276.4 202.0 279.5 198.0 289.0 188.6 291.0 188.6 291.9 190.0 291.4 196.0 292.4 200.0 297.1 204.0 301.0 205.2 305.2 204.0 311.4 198.0 312.6 196.0 312.9 194.0 312.2 192.0 308.2 188.0 299.1 184.0 293.0 179.8 290.5 180.0 265.0 188.3 261.4 188.0 260.8 186.0 263.5 178.0 285.0 126.7 293.0 112.9 294.3 100.0 295.7 96.0 299.0 93.4 309.0 90.0 321.0 84.7 330.7 74.0 331.7 72.0 331.8 68.0 325.7 58.0 325.1 56.0zM257.0 125.6 261.0 124.3 262.9 126.0 262.4 128.0 245.0 158.2 241.0 163.3 239.0 164.2 233.8 160.0 223.0 155.9 215.0 150.8 208.9 144.0 203.0 136.0 201.9 134.0 201.7 132.0 203.0 130.6 205.0 130.1 213.0 129.5 219.0 128.1 239.0 127.8 253.0 126.8 256.1 126.0z"/>
<path fill="#0090ff" d="M329.0 56.0 675.0 56.0 675.0 564.0 125.0 564.0 125.0 176.0 129.0 178.9 182.2 232.0 185.0 234.1 187.0 234.4 189.0 233.7 191.0 232.0 197.0 225.1 213.0 203.1 223.0 192.0 223.0 194.0 219.1 202.0 197.6 242.0 196.3 246.0 196.1 250.0 197.0 252.6 199.0 254.6 203.0 255.5 211.0 255.2 215.0 254.2 221.0 251.2 225.0 250.4 237.0 250.9 251.0 249.8 255.1 248.0 269.0 238.0 273.0 236.3 275.0 237.0 276.0 238.0 279.5 244.0 280.8 248.0 281.1 254.0 283.3 258.0 286.0 260.0 289.0 260.8 295.0 258.8 299.1 256.0 300.8 254.0 301.5 252.0 301.4 250.0 299.0 245.3 291.0 237.6 284.7 228.0 283.3 224.0 283.5 222.0 285.4 218.0 285.1 214.0 283.0 210.6 281.0 209.0 277.0 207.4 275.8 206.0 276.1 204.0 278.6 200.0 283.0 194.9 289.0 190.1 291.0 191.8 291.0 198.0 291.7 200.0 293.5 202.0 299.0 205.2 303.0 205.2 307.0 202.9 311.7 198.0 312.9 196.0 313.2 194.0 312.5 192.0 309.0 188.2 299.8 184.0 293.0 178.9 289.0 179.4 268.6 186.0 265.0 186.2 263.7 184.0 266.2 176.0 285.0 131.2 289.0 123.6 292.4 120.0 293.4 118.0 294.7 112.0 295.4 100.0 297.0 96.6 301.1 94.0 322.3 86.0 327.0 80.2 333.0 74.4 334.4 72.0 335.4 68.0 335.0 65.0 331.0 61.8 327.4 56.0zM259.0 125.4 261.0 125.2 261.9 126.0 261.7 128.0 245.8 156.0 241.0 162.4 239.0 162.9 234.8 160.0 223.0 155.5 216.8 152.0 207.6 142.0 202.3 134.0 202.3 132.0 205.0 130.5 213.0 129.9 219.0 128.5 253.0 127.4 257.6 126.0z"/>
<path fill="#0096ff" d="M331.0 56.0 675.0 56.0 675.0 564.0 125.0 564.0 125.0 176.9 129.0 179.9 181.0 231.8 185.0 234.8 187.0 234.9 189.0 234.3 191.0 232.6 198.2 224.0 213.0 203.7 219.0 197.5 219.7 198.0 217.0 204.8 200.0 236.0 196.3 244.0 195.4 248.0 195.7 252.0 196.7 254.0 199.0 255.6 203.0 256.3 211.0 255.7 215.0 254.6 221.0 251.4 225.0 250.6 235.0 251.1 251.0 250.2 255.8 248.0 269.0 238.5 273.0 236.9 275.3 238.0 279.1 244.0 280.4 248.0 280.8 254.0 283.0 258.0 285.6 260.0 289.0 261.0 295.0 259.0 299.3 256.0 301.1 254.0 301.8 252.0 301.7 250.0 299.0 244.9 291.0 237.1 285.0 228.0 283.6 224.0 283.9 222.0 285.7 218.0 285.4 214.0 283.0 209.6 277.3 206.0 277.0 204.0 279.2 200.0 283.0 195.6 287.0 192.5 289.0 191.9 291.1 200.0 292.7 202.0 299.0 205.5 303.0 205.5 307.0 203.2 311.9 198.0 313.2 196.0 313.4 194.0 312.8 192.0 309.0 187.9 300.5 184.0 293.0 178.1 289.0 178.3 275.0 182.9 269.0 184.2 267.0 183.6 266.4 182.0 266.7 180.0 287.0 131.3 289.0 127.9 293.0 124.4 295.0 120.3 295.8 114.0 295.9 104.0 297.0 98.9 299.0 96.8 304.7 94.0 317.0 89.1 323.0 87.9 324.9 86.0 327.2 82.0 333.8 76.0 336.3 72.0 338.1 66.0 338.1 62.0 337.0 60.8 333.0 59.7 331.0 58.2 329.9 56.0zM247.0 127.9 255.0 127.7 259.0 126.1 260.9 128.0 253.7 142.0 244.1 158.0 241.0 161.5 239.0 161.8 235.0 159.6 223.0 155.1 217.0 151.8 208.0 142.0 202.7 134.0 202.9 132.0 205.0 131.0 213.0 130.3 221.0 128.7 246.2 128.0z"/>
<path fill="#009dff" d="M343.0 56.0 675.0 56.0 675.0 564.0 125.0 564.0 125.0 177.9 129.0 181.2 181.0 233.1 185.0 235.5 189.0 234.8 191.0 233.1 198.6 224.0 213.0 204.7 217.0 200.6 217.3 202.0 215.0 207.4 195.8 244.0 194.7 248.0 194.7 252.0 195.4 254.0 197.5 256.0 203.0 257.0 211.0 256.2 215.0 255.1 221.0 251.7 225.0 250.8 235.0 251.3 251.0 250.5 255.0 249.0 269.0 239.0 273.0 237.5 275.0 238.3 278.7 244.0 280.0 248.0 280.5 254.0 282.7 258.0 285.1 260.0 289.0 261.2 295.0 259.2 299.6 256.0 301.4 254.0 302.1 252.0 302.0 250.0 299.0 244.5 291.0 236.7 285.3 228.0 284.0 224.0 286.1 218.0 285.8 214.0 283.0 208.5 279.3 206.0 278.2 204.0 278.7 202.0 281.5 198.0 287.0 193.6 289.0 194.6 290.3 200.0 291.8 202.0 299.0 205.8 303.0 205.8 307.0 203.5 312.2 198.0 313.5 196.0 313.7 194.0 313.1 192.0 309.0 187.7 301.0 183.9 293.0 177.3 289.0 177.3 275.0 181.5 271.0 182.0 269.2 180.0 269.5 178.0 287.0 135.7 289.0 132.3 293.0 129.4 295.0 126.8 296.8 118.0 296.8 104.0 297.9 100.0 301.0 97.3 315.0 90.9 319.0 89.8 325.0 89.7 326.5 88.0 327.8 84.0 329.0 82.3 333.0 79.0 337.9 72.0 341.2 62.0 341.5 56.0zM257.0 127.9 259.4 128.0 254.3 140.0 245.0 155.7 241.0 160.8 239.0 161.1 223.0 154.8 217.0 151.4 209.0 142.9 204.1 136.0 203.1 134.0 203.8 132.0 221.0 129.1 253.0 128.6 256.4 128.0z"/>
<path fill="#00a3ff" d="M345.0 56.3 675.0 56.0 675.0 564.0 125.0 564.0 125.0 179.6 131.0 184.9 179.0 232.8 183.0 235.9 187.0 236.0 191.0 233.7 213.0 205.8 214.0 206.0 213.0 209.8 198.0 238.0 194.5 246.0 193.7 250.0 194.2 254.0 197.0 256.8 203.0 257.7 211.0 256.8 215.0 255.5 221.0 251.9 225.0 251.0 237.0 251.5 249.0 251.1 253.0 250.3 257.0 248.2 269.0 239.5 273.0 238.1 275.0 239.0 278.3 244.0 279.7 248.0 280.2 254.0 282.4 258.0 285.0 260.2 289.0 261.4 295.0 259.4 299.9 256.0 301.7 254.0 302.4 252.0 302.3 250.0 299.0 244.1 291.0 236.3 285.6 228.0 284.3 224.0 286.4 218.0 286.1 214.0 283.0 207.3 279.4 204.0 279.7 202.0 283.0 197.2 285.0 195.5 287.0 194.8 288.2 196.0 290.8 202.0 298.8 206.0 303.0 206.0 307.0 203.7 312.5 198.0 313.8 196.0 314.0 194.0 313.0 191.5 309.7 188.0 301.0 183.5 293.0 176.4 289.0 176.3 275.0 179.8 273.0 179.5 272.0 178.0 272.2 176.0 287.0 140.1 289.0 136.6 291.0 134.8 295.0 132.9 296.1 130.0 297.8 120.0 297.7 104.0 299.0 100.6 306.4 96.0 317.0 91.2 321.0 90.9 327.0 91.4 328.9 90.0 329.1 86.0 330.0 84.0 335.0 78.6 339.4 72.0 344.6 58.0zM219.0 129.7 247.0 128.9 255.0 129.3 257.3 130.0 253.0 141.6 243.0 158.0 241.0 160.0 239.0 160.4 219.0 152.4 215.8 150.0 209.0 142.5 203.6 134.0 204.8 132.0 217.5 130.0z"/>
<path fill="#00aaff" d="M347.0 57.0 347.2 56.0 675.0 56.0 675.0 564.0 125.0 564.0 125.0 183.5 131.0 187.7 177.3 234.0 181.0 237.0 183.0 237.4 187.0 236.6 191.0 234.3 209.0 211.7 211.2 210.0 211.0 212.1 196.5 240.0 193.3 248.0 193.0 254.0 194.0 256.0 197.0 257.8 203.0 258.4 211.0 257.3 215.0 255.9 221.0 252.2 225.0 251.2 237.0 251.7 249.0 251.4 253.0 250.7 257.0 248.7 269.0 240.0 273.0 238.7 275.0 239.7 277.8 244.0 279.3 248.0 279.9 254.0 280.6 256.0 283.0 258.9 285.0 260.4 289.0 261.6 295.0 259.6 300.2 256.0 302.0 254.0 302.7 252.0 302.6 250.0 299.2 244.0 291.1 236.0 285.9 228.0 284.6 224.0 286.9 216.0 285.0 209.4 283.0 206.0 280.9 204.0 280.6 202.0 283.1 198.0 285.0 196.5 287.0 196.2 289.6 202.0 291.0 202.9 299.0 206.3 303.0 206.2 307.0 204.0 312.8 198.0 314.0 196.0 314.2 194.0 313.6 192.0 311.0 188.8 299.4 182.0 295.0 176.9 293.0 175.6 289.0 175.2 277.0 177.7 275.0 176.5 274.9 174.0 283.0 153.7 288.4 142.0 291.0 139.1 295.0 138.4 297.0 134.7 298.9 122.0 298.3 108.0 299.0 103.0 301.0 100.7 311.0 94.9 317.0 92.3 321.0 92.0 327.0 92.9 329.9 92.0 332.0 90.0 333.3 84.0 336.5 78.0 340.7 72.0 346.7 58.0zM221.0 129.8 247.0 129.4 255.0 130.5 255.7 132.0 255.4 134.0 253.0 140.8 243.0 157.2 241.0 159.3 239.0 159.7 223.0 154.0 218.9 152.0 216.2 150.0 210.7 144.0 204.9 136.0 204.2 134.0 205.0 132.7 206.6 132.0 213.0 131.5 219.5 130.0z"/>
<path fill="#00b0ff" d="M349.0 56.7 349.2 56.0 675.0 56.0 675.0 564.0 125.0 564.0 125.0 187.1 129.0 189.1 131.0 190.9 177.0 236.9 179.0 238.7 181.0 239.5 187.0 237.2 191.0 234.9 205.0 217.7 207.0 215.7 207.4 216.0 207.0 218.5 195.9 240.0 192.6 248.0 191.8 254.0 192.5 256.0 195.0 258.1 201.0 259.2 209.0 258.3 213.0 257.3 221.0 252.5 225.0 251.4 235.0 251.9 249.0 251.6 253.0 251.1 257.0 249.2 269.0 240.5 273.0 239.3 275.0 240.4 277.4 244.0 279.0 248.0 280.3 256.0 283.0 259.2 285.0 260.7 289.0 261.8 295.0 259.8 300.5 256.0 302.2 254.0 303.0 252.0 302.9 250.0 299.6 244.0 291.5 236.0 286.2 228.0 285.0 224.0 287.0 218.0 287.0 214.9 285.0 207.5 281.9 202.0 282.6 200.0 284.5 198.0 287.0 198.0 288.3 202.0 289.0 202.6 299.0 206.6 303.0 206.4 307.0 204.2 313.1 198.0 314.3 196.0 314.5 194.0 313.9 192.0 311.0 188.5 299.8 182.0 295.0 176.1 293.0 174.7 289.0 174.1 279.0 175.4 277.6 174.0 277.7 172.0 284.7 154.0 289.0 145.1 291.0 143.1 295.0 143.1 297.0 141.2 299.6 128.0 299.0 108.0 299.8 104.0 301.0 102.4 315.0 94.0 319.0 92.9 327.4 94.0 333.0 91.2 335.2 88.0 335.4 84.0 336.4 80.0 341.9 72.0 348.6 58.0zM243.0 130.0 248.5 130.0 253.0 131.0 254.4 132.0 254.6 134.0 252.9 140.0 245.0 153.2 241.0 158.6 239.0 159.1 224.0 154.0 217.0 150.3 209.0 141.4 205.4 136.0 204.7 134.0 207.0 132.5 221.0 130.3 242.1 130.0z"/>
<path fill="#00b6ff" d="M351.0 56.6 351.3 56.0 675.0 56.0 675.0 564.0 125.0 564.0 125.0 188.9 129.8 192.0 179.0 240.7 181.0 241.1 183.0 240.3 191.0 235.4 203.0 221.6 203.8 222.0 203.0 224.9 194.4 242.0 191.3 250.0 190.7 254.0 191.1 256.0 192.8 258.0 195.0 259.1 203.0 259.8 211.0 258.4 215.0 256.9 221.0 252.7 225.0 251.6 235.0 252.1 253.0 251.4 257.0 249.7 269.0 241.1 273.0 239.9 275.0 241.1 277.0 244.1 278.6 248.0 280.0 256.0 283.0 259.5 287.0 261.8 289.0 262.0 295.0 260.0 300.7 256.0 302.5 254.0 303.3 252.0 303.2 250.0 299.9 244.0 291.0 235.0 285.6 226.0 285.3 224.0 287.3 218.0 287.4 216.0 285.5 204.0 283.9 202.0 284.4 200.0 285.0 199.5 285.7 200.0 287.0 202.9 289.3 204.0 299.0 206.8 303.0 206.6 307.0 204.5 313.4 198.0 314.6 196.0 314.8 194.0 314.1 192.0 311.0 188.2 300.3 182.0 295.0 175.3 293.0 173.7 289.0 172.8 283.0 173.4 281.0 172.8 280.4 172.0 280.9 168.0 289.0 149.3 291.0 147.2 293.0 146.9 295.0 147.5 297.0 146.8 298.8 142.0 300.8 128.0 299.8 110.0 300.2 106.0 301.0 104.3 311.0 97.2 317.0 94.3 321.0 94.0 327.0 94.8 330.4 94.0 333.7 92.0 335.6 90.0 336.5 88.0 336.8 82.0 338.3 78.0 343.0 72.0 350.5 58.0zM215.0 131.9 221.0 130.7 245.0 130.4 249.0 130.8 253.0 132.4 253.6 136.0 251.3 142.0 243.0 155.5 241.0 157.8 239.0 158.5 221.0 152.3 217.2 150.0 215.2 148.0 209.0 140.8 206.0 136.0 205.5 134.0 207.0 133.1 214.5 132.0z"/>
<path fill="#00bdff" d="M353.0 56.8 353.4 56.0 675.0 56.0 675.0 564.0 125.0 564.0 125.0 190.5 129.0 193.1 175.0 239.0 179.0 242.3 181.9 242.0 191.0 236.0 199.0 227.7 199.7 228.0 199.0 231.1 192.0 246.0 190.0 252.0 189.8 256.0 191.0 258.0 193.0 259.4 199.0 260.6 209.0 259.5 215.0 257.3 221.0 253.0 225.0 251.8 235.0 252.3 253.0 251.8 257.4 250.0 269.0 241.6 271.0 240.6 273.0 240.5 275.0 241.8 277.0 244.9 278.2 248.0 279.7 256.0 283.0 259.8 287.0 262.0 289.0 262.2 295.0 260.1 301.0 256.0 302.8 254.0 303.6 252.0 303.5 250.0 300.2 244.0 291.0 234.6 285.9 226.0 285.5 224.0 287.7 216.0 286.5 210.0 286.9 206.0 289.0 204.8 293.0 205.1 301.0 207.2 305.0 206.1 307.8 204.0 313.6 198.0 314.9 196.0 315.0 194.0 313.1 190.0 311.0 188.0 300.8 182.0 293.0 172.7 291.0 171.8 285.0 171.2 283.2 170.0 283.7 166.0 287.0 157.6 290.3 152.0 291.0 151.2 293.0 150.8 295.0 151.6 297.0 151.0 299.0 147.5 300.6 140.0 301.8 130.0 300.5 112.0 300.7 108.0 301.4 106.0 311.0 98.4 315.0 96.0 319.0 94.8 327.0 95.6 329.0 95.3 335.0 92.0 337.5 88.0 337.7 82.0 339.0 78.4 344.0 72.0 347.0 66.3 352.5 58.0zM217.0 131.8 223.0 131.1 245.0 131.0 250.4 132.0 252.6 134.0 252.6 138.0 251.0 141.5 243.0 154.5 241.0 157.0 239.0 157.8 221.0 151.9 217.0 149.3 211.0 142.7 206.5 136.0 206.5 134.0 216.4 132.0z"/>
<path fill="#00c3ff" d="M355.0 57.2 355.7 56.0 675.0 56.0 675.0 564.0 125.0 564.0 125.0 192.0 129.0 194.9 177.0 242.6 179.0 243.6 181.0 243.5 192.1 236.0 195.0 233.1 196.6 234.0 190.5 248.0 188.6 254.0 188.6 256.0 189.5 258.0 193.0 260.6 201.0 261.3 209.0 260.1 215.0 257.8 221.0 253.3 225.0 252.0 235.0 252.5 253.5 252.0 258.1 250.0 269.0 242.1 271.0 241.1 273.0 241.1 275.0 242.6 277.0 245.8 279.4 256.0 282.9 260.0 286.5 262.0 289.0 262.4 295.0 260.3 301.3 256.0 303.1 254.0 303.9 252.0 303.8 250.0 300.6 244.0 291.0 234.1 286.2 226.0 285.8 224.0 287.9 216.0 287.0 208.0 288.4 206.0 291.0 205.3 301.0 207.4 305.0 206.3 308.1 204.0 313.9 198.0 315.1 196.0 315.3 194.0 313.3 190.0 311.3 188.0 301.3 182.0 299.3 180.0 295.0 173.5 293.0 171.4 287.0 169.1 285.9 168.0 286.4 164.0 289.0 157.8 291.0 155.1 293.0 154.5 295.0 154.7 297.0 153.8 299.0 150.8 300.7 146.0 302.9 130.0 301.2 112.0 301.7 108.0 303.0 106.0 307.0 103.6 311.0 99.6 315.0 97.1 319.0 95.7 329.0 96.0 333.0 94.2 336.0 92.0 338.4 88.0 338.5 82.0 340.1 78.0 345.1 72.0 354.6 58.0zM219.0 131.9 245.0 131.6 247.9 132.0 251.3 134.0 252.0 136.0 251.0 140.3 243.0 153.4 241.0 156.1 239.0 157.1 228.0 154.0 219.0 150.2 210.9 142.0 207.1 136.0 207.9 134.0 218.4 132.0zM197.0 231.6 197.0 233.0 196.6 232.0z"/>
<path fill="#00c9ff" d="M357.0 57.9 358.1 56.0 675.0 56.0 675.0 564.0 125.0 564.0 125.0 193.9 129.0 197.2 176.2 244.0 179.0 244.9 181.0 244.5 187.0 239.9 193.0 236.4 193.8 238.0 193.3 240.0 188.2 252.0 187.5 256.0 189.0 259.5 193.0 261.8 201.0 262.1 209.0 260.8 215.0 258.3 221.0 253.5 225.0 252.2 249.0 252.7 254.9 252.0 258.9 250.0 267.0 243.9 271.0 241.7 273.0 241.7 275.5 244.0 277.5 248.0 279.2 256.0 283.0 260.3 285.9 262.0 289.0 262.6 295.0 260.5 301.6 256.0 303.4 254.0 304.2 252.0 304.1 250.0 300.9 244.0 291.2 234.0 286.4 226.0 286.1 224.0 288.0 218.0 287.7 208.0 289.0 206.4 291.0 205.9 301.0 207.6 305.0 206.5 308.4 204.0 314.2 198.0 315.4 196.0 315.5 194.0 314.9 192.0 311.6 188.0 301.8 182.0 299.6 180.0 295.0 172.4 293.0 170.0 289.9 168.0 288.5 166.0 289.0 162.7 291.0 159.1 297.0 155.8 299.0 152.9 302.3 144.0 303.9 130.0 302.1 116.0 302.1 110.0 303.0 107.8 307.0 105.2 312.1 100.0 315.0 98.1 319.0 96.7 329.0 96.7 333.0 94.9 336.9 92.0 339.2 88.0 339.3 82.0 341.0 78.0 356.9 58.0zM213.0 133.9 223.0 132.1 241.0 132.1 245.0 132.2 249.7 134.0 251.1 136.0 251.1 138.0 250.3 140.0 243.0 152.2 241.0 155.0 239.0 156.3 236.0 156.0 224.1 152.0 219.6 150.0 217.0 148.0 208.8 138.0 208.0 136.0 209.0 134.7 211.5 134.0z"/>
<path fill="#00d0ff" d="M361.0 56.0 675.0 56.0 675.0 564.0 125.0 564.0 125.0 234.0 137.0 234.0 143.0 240.0 145.0 240.0 147.0 242.0 149.0 242.0 151.0 244.0 153.0 244.0 155.0 246.0 157.0 246.0 159.0 248.0 167.0 247.9 179.0 246.2 183.0 244.4 188.2 240.0 191.0 238.6 192.2 240.0 186.8 254.0 186.5 258.0 189.0 261.5 193.0 263.0 203.0 262.7 211.0 260.7 215.0 258.8 221.0 253.8 225.0 252.4 249.0 252.9 255.0 252.3 259.0 250.4 267.0 244.4 271.0 242.2 273.0 242.3 275.0 244.1 277.1 248.0 278.9 256.0 282.3 260.0 285.0 261.9 287.0 262.6 291.0 262.5 299.2 258.0 303.6 254.0 304.5 252.0 304.4 250.0 301.2 244.0 291.5 234.0 286.7 226.0 286.4 224.0 288.3 218.0 287.8 210.0 289.0 207.2 291.0 206.4 301.0 207.9 305.0 206.7 308.6 204.0 314.5 198.0 315.6 196.0 315.7 194.0 315.0 191.8 311.9 188.0 302.2 182.0 300.0 180.0 291.6 166.0 291.4 164.0 292.4 162.0 297.0 157.5 301.0 150.6 303.7 142.0 305.0 132.0 302.7 116.0 303.0 110.2 315.0 99.1 319.0 97.6 329.0 97.3 333.0 95.6 337.0 92.7 339.2 90.0 340.0 88.0 340.2 82.0 341.0 79.5 360.6 56.0zM217.0 133.8 223.0 133.0 243.0 133.0 247.0 133.8 249.0 135.1 250.0 138.0 249.0 140.8 241.0 153.6 239.0 155.2 237.0 155.3 226.3 152.0 221.0 150.0 218.1 148.0 211.0 140.2 209.1 136.0 216.0 134.0z"/>
<path fill="#00d6ff" d="M363.0 56.0 675.0 56.0 675.0 564.0 125.0 564.0 125.0 242.5 127.0 243.0 137.2 250.0 152.2 258.0 157.3 260.0 163.0 260.8 167.0 259.9 169.0 258.5 178.0 248.0 183.0 245.3 189.0 240.7 190.5 242.0 185.9 254.0 185.2 258.0 185.5 260.0 187.0 262.4 191.0 264.3 203.0 263.4 211.0 261.4 215.0 259.4 221.1 254.0 225.0 252.6 249.0 253.2 255.0 252.7 259.0 250.9 267.0 244.9 271.0 242.8 273.0 243.0 275.0 244.8 276.7 248.0 278.6 256.0 282.0 260.0 285.0 262.1 287.0 262.8 291.0 262.7 295.0 260.8 302.1 256.0 304.7 252.0 304.0 248.0 299.9 242.0 291.0 232.9 287.9 228.0 286.7 224.0 288.5 218.0 288.2 210.0 289.0 208.0 291.0 206.8 293.0 206.7 301.0 208.1 305.0 206.9 309.0 203.9 314.8 198.0 315.9 196.0 315.4 192.0 313.0 188.9 300.4 180.0 296.0 172.0 294.1 166.0 295.2 162.0 302.8 148.0 305.1 140.0 306.1 132.0 303.5 118.0 303.6 112.0 305.0 109.5 309.0 106.8 312.7 102.0 315.3 100.0 321.0 98.2 329.0 98.0 333.0 96.3 337.0 93.5 340.0 90.0 340.8 88.0 341.0 82.0 343.0 78.0 361.0 58.7 362.8 56.0zM221.0 134.0 242.5 134.0 247.6 136.0 248.5 138.0 247.0 142.0 240.5 152.0 239.0 153.6 237.0 154.1 223.8 150.0 219.8 148.0 213.0 140.9 210.9 138.0 212.0 136.0 220.9 134.0z"/>
<path fill="#00dcff" d="M365.0 56.0 675.0 56.0 675.0 564.0 125.0 564.0 125.0 243.8 129.0 245.4 135.0 250.0 153.6 260.0 163.0 263.6 165.0 263.2 169.0 260.5 179.0 248.8 187.0 243.5 188.2 244.0 187.9 246.0 184.4 256.0 183.9 260.0 185.0 264.2 187.0 266.6 189.0 267.0 205.0 263.9 211.0 262.0 215.0 259.9 221.6 254.0 225.0 252.8 249.0 253.4 255.0 253.0 259.0 251.4 267.0 245.4 271.0 243.3 273.0 243.6 275.0 245.6 276.2 248.0 278.3 256.0 281.7 260.0 285.0 262.3 287.0 263.0 291.0 262.8 295.0 261.0 302.4 256.0 305.0 252.0 304.3 248.0 301.0 242.9 291.0 232.5 288.2 228.0 287.0 224.0 288.8 218.0 288.6 210.0 289.8 208.0 293.0 207.1 301.0 208.3 305.0 207.1 309.0 204.2 315.1 198.0 316.2 196.0 315.6 192.0 313.0 188.6 300.8 180.0 297.4 174.0 295.6 168.0 295.7 164.0 296.4 162.0 304.3 146.0 306.8 136.0 306.9 130.0 304.1 118.0 304.6 112.0 309.0 108.5 314.2 102.0 317.0 100.2 321.0 99.0 329.0 98.6 333.0 97.0 337.0 94.2 340.8 90.0 341.7 88.0 342.0 82.0 344.1 78.0 361.8 60.0 364.6 56.0z"/>
<path fill="#00e3ff" d="M367.0 56.0 675.0 56.0 675.0 564.0 125.0 564.0 125.0 244.5 127.0 245.1 137.1 252.0 163.0 265.5 165.0 265.3 167.0 263.9 173.0 258.0 179.3 250.0 185.0 246.7 185.8 248.0 182.9 258.0 182.4 262.0 183.0 265.5 184.4 268.0 187.0 269.8 189.0 269.6 197.0 266.4 205.0 264.9 211.0 262.7 215.0 260.5 221.0 254.7 223.0 253.5 227.0 252.8 235.0 253.4 255.0 253.3 259.0 251.9 267.0 245.9 271.0 243.9 273.0 244.2 275.0 246.4 278.0 256.0 279.3 258.0 285.0 262.5 287.0 263.2 291.0 263.0 295.0 261.2 302.6 256.0 305.3 252.0 304.6 248.0 301.0 242.4 295.0 236.8 291.0 232.0 288.4 228.0 287.3 224.0 289.0 218.0 289.0 210.0 290.6 208.0 293.0 207.4 301.0 208.5 305.0 207.3 309.0 204.4 315.4 198.0 316.4 196.0 316.4 194.0 314.6 190.0 311.0 186.6 301.0 179.7 297.7 174.0 296.6 170.0 296.4 166.0 297.3 162.0 305.9 144.0 308.1 134.0 308.0 130.0 304.9 120.0 305.0 113.6 306.1 112.0 309.2 110.0 311.0 108.0 313.5 104.0 317.0 101.2 321.0 99.8 331.0 98.6 338.0 94.0 341.6 90.0 342.5 88.0 343.0 82.0 345.2 78.0 349.0 73.9 353.9 70.0 363.4 60.0 366.3 56.0z"/>
<path fill="#00e9ff" d="M367.0 57.3 367.8 56.0 675.0 56.0 675.0 564.0 125.0 564.0 125.0 245.1 129.0 247.0 136.0 252.0 163.0 266.8 165.0 266.8 167.0 265.4 174.2 258.0 179.0 252.0 181.0 250.0 183.0 249.2 183.8 250.0 183.6 252.0 181.2 260.0 181.0 265.5 183.2 270.0 185.0 271.4 187.0 271.7 191.0 270.6 196.4 268.0 205.0 265.9 211.0 263.3 215.0 261.0 219.9 256.0 223.0 253.7 227.0 253.0 235.0 253.6 255.0 253.6 259.5 252.0 267.0 246.4 271.0 244.4 273.0 244.9 275.0 247.2 277.7 256.0 279.0 258.0 285.0 262.8 287.0 263.4 291.0 263.2 295.0 261.4 302.9 256.0 305.5 252.0 304.9 248.0 301.0 242.0 295.0 236.4 291.0 231.6 288.7 228.0 287.5 224.0 289.2 218.0 289.5 210.0 291.0 208.3 293.0 207.8 301.0 208.6 305.0 207.5 309.0 204.6 315.7 198.0 316.7 196.0 316.7 194.0 314.8 190.0 311.0 186.4 304.1 182.0 301.0 179.3 298.1 174.0 297.1 170.0 297.8 162.0 306.7 144.0 309.1 134.0 309.1 130.0 306.0 122.0 305.4 116.0 307.0 112.8 311.0 110.1 314.8 104.0 317.0 102.3 321.0 100.7 331.0 99.3 335.0 97.2 338.8 94.0 342.5 90.0 343.5 88.0 344.2 82.0 346.4 78.0 349.0 75.2 355.0 70.5 366.6 58.0z"/>
<path fill="#00efff" d="M369.0 56.4 675.0 56.0 675.0 564.0 125.0 564.0 125.0 245.7 127.0 246.4 134.9 252.0 145.0 257.2 163.0 267.9 165.0 268.0 167.0 266.7 179.0 253.9 181.0 252.7 181.3 254.0 179.5 262.0 179.3 266.0 180.8 270.0 182.3 272.0 185.0 273.4 189.0 272.9 197.0 269.5 205.0 267.2 215.0 261.6 220.2 256.0 223.0 254.0 227.0 253.2 255.0 254.0 259.0 252.7 267.0 246.9 271.0 245.0 273.0 245.6 274.9 248.0 276.6 254.0 278.7 258.0 285.0 263.0 287.0 263.6 291.0 263.4 295.0 261.5 303.0 256.1 304.9 254.0 305.8 252.0 305.2 248.0 301.4 242.0 295.0 236.0 291.0 231.2 289.0 228.0 287.8 224.0 289.4 218.0 289.4 212.0 289.9 210.0 291.0 208.8 293.0 208.1 301.0 208.8 305.0 207.7 309.0 204.9 316.0 198.0 316.9 196.0 316.3 192.0 315.0 189.9 311.0 186.1 304.6 182.0 301.0 178.8 298.4 174.0 297.5 170.0 298.4 162.0 307.5 144.0 310.2 134.0 310.3 130.0 306.6 122.0 306.3 116.0 307.6 114.0 311.0 112.0 314.5 106.0 317.0 103.4 321.0 101.6 331.0 100.0 335.0 97.9 339.0 94.5 343.5 90.0 344.5 88.0 345.4 82.0 347.6 78.0 355.0 71.8 368.0 58.0z"/>
<path fill="#00f6ff" d="M371.0 56.0 675.0 56.0 675.0 564.0 125.0 564.0 125.0 246.2 127.0 246.8 134.2 252.0 163.0 268.7 165.0 268.9 167.0 267.9 177.0 258.4 178.2 260.0 177.9 268.0 181.0 273.7 183.0 275.0 190.1 274.0 205.0 268.7 215.0 262.2 220.6 256.0 223.5 254.0 227.0 253.3 251.0 254.4 256.6 254.0 261.0 252.0 269.0 246.1 271.0 245.5 273.0 246.2 274.4 248.0 277.1 256.0 278.4 258.0 285.0 263.2 287.0 263.8 291.0 263.6 295.0 261.7 303.0 256.3 305.2 254.0 306.0 252.0 305.5 248.0 301.8 242.0 295.0 235.6 291.0 230.8 288.4 226.0 288.1 224.0 289.7 218.0 289.8 212.0 291.0 209.3 293.0 208.5 301.0 209.0 305.0 207.9 309.0 205.1 316.3 198.0 317.2 196.0 316.5 192.0 315.0 189.6 311.0 185.9 303.0 180.5 301.0 178.3 298.8 174.0 297.9 170.0 298.4 164.0 299.6 160.0 308.3 144.0 311.6 132.0 310.8 128.0 307.4 122.0 307.0 117.1 309.0 114.6 312.8 112.0 315.7 106.0 317.9 104.0 321.0 102.5 329.0 101.2 333.0 99.7 337.0 97.1 342.7 92.0 344.6 90.0 345.5 88.0 346.7 82.0 348.9 78.0 355.9 72.0 369.4 58.0 370.6 56.0z"/>
<path fill="#00fcff" d="M371.0 57.7 371.9 56.0 675.0 56.0 675.0 564.0 125.0 564.0 125.0 246.6 163.0 269.4 165.0 269.8 167.0 269.0 175.0 262.2 176.0 264.0 176.1 268.0 177.5 272.0 181.0 276.8 183.0 277.2 205.0 270.2 215.0 262.8 221.0 256.0 225.0 253.7 251.0 254.6 257.0 254.2 261.0 252.4 269.0 246.6 271.0 246.1 273.0 246.9 273.8 248.0 276.8 256.0 278.2 258.0 285.0 263.4 287.0 264.0 291.0 263.8 295.0 261.9 303.0 256.5 305.4 254.0 306.3 252.0 305.7 248.0 302.2 242.0 295.0 235.3 291.0 230.3 288.6 226.0 288.3 224.0 289.9 218.0 290.1 212.0 291.0 209.8 293.0 208.9 301.0 209.2 305.1 208.0 309.0 205.4 316.6 198.0 317.4 196.0 316.8 192.0 315.0 189.3 311.0 185.7 303.0 180.2 301.1 178.0 299.1 174.0 298.3 170.0 298.5 166.0 300.0 160.0 309.0 144.0 312.8 132.0 312.4 128.0 308.2 122.0 307.9 118.0 309.0 116.1 313.0 113.9 315.7 108.0 319.0 104.4 333.0 100.4 337.0 97.9 343.9 92.0 345.8 90.0 347.9 82.0 350.2 78.0 355.0 74.0 370.8 58.0z"/>
<path fill="#04fffb" d="M373.0 56.4 373.2 56.0 675.0 56.0 675.0 564.0 125.0 564.0 125.0 246.9 163.0 270.1 165.0 270.6 167.0 270.0 173.0 265.9 175.2 272.0 179.0 278.1 181.0 279.7 205.0 271.6 215.0 263.4 221.3 256.0 225.0 253.9 251.0 254.9 257.0 254.5 261.0 252.9 269.0 247.2 271.0 246.7 273.3 248.0 276.5 256.0 277.9 258.0 282.2 262.0 285.0 263.6 287.0 264.2 291.0 264.0 295.0 262.1 303.0 256.7 305.6 254.0 306.6 252.0 306.0 248.0 302.6 242.0 295.0 234.9 291.1 230.0 288.9 226.0 288.6 224.0 290.1 218.0 290.4 212.0 291.5 210.0 295.0 209.0 301.0 209.4 305.4 208.0 309.0 205.6 316.9 198.0 317.7 196.0 317.0 192.0 315.0 189.0 311.0 185.4 303.2 180.0 301.5 178.0 299.4 174.0 298.7 170.0 299.3 164.0 300.4 160.0 309.8 144.0 314.0 132.0 314.0 128.0 309.2 122.0 309.0 118.4 314.7 114.0 316.9 108.0 319.0 105.6 322.3 104.0 333.0 101.1 337.0 98.7 345.2 92.0 347.0 90.0 349.2 82.0 351.5 78.0 372.1 58.0z"/>
<path fill="#0cfff3" d="M375.0 56.0 675.0 56.0 675.0 564.0 125.0 564.0 125.0 247.3 135.0 253.8 152.8 264.0 163.0 270.8 165.0 271.4 167.0 271.1 171.0 269.4 177.9 280.0 179.0 281.2 181.0 282.0 187.0 278.8 205.0 272.7 215.0 264.0 221.7 256.0 225.0 254.2 257.0 254.9 261.0 253.3 269.0 247.7 271.0 247.3 273.0 248.4 276.2 256.0 277.6 258.0 281.9 262.0 285.5 264.0 289.0 264.5 293.0 263.4 303.0 256.8 305.8 254.0 306.8 252.0 306.3 248.0 303.0 242.0 295.0 234.5 291.4 230.0 289.2 226.0 288.8 224.0 290.3 218.0 290.7 212.0 292.2 210.0 295.0 209.3 301.0 209.6 305.8 208.0 309.0 205.9 317.0 198.2 317.9 196.0 317.8 194.0 316.1 190.0 311.0 185.2 303.0 179.3 300.6 176.0 299.2 172.0 299.3 166.0 300.8 160.0 310.5 144.0 315.3 132.0 315.6 130.0 315.0 126.3 311.0 122.3 310.4 120.0 311.0 118.9 315.1 116.0 318.2 108.0 320.2 106.0 333.0 101.8 337.0 99.4 343.0 94.3 346.8 92.0 348.3 90.0 350.5 82.0 352.7 78.0 371.6 60.0 374.3 56.0z"/>
<path fill="#14ffeb" d="M375.0 56.8 375.3 56.0 675.0 56.0 675.0 564.0 125.0 564.0 125.0 247.7 135.0 254.2 152.1 264.0 163.0 271.4 165.0 272.2 169.0 272.1 171.0 273.7 177.0 282.0 179.0 283.2 181.0 283.4 189.0 279.3 205.0 273.7 215.0 264.7 222.0 256.0 225.0 254.4 257.0 255.2 261.0 253.8 269.0 248.2 271.0 247.9 273.0 249.2 275.9 256.0 279.2 260.0 284.8 264.0 289.0 264.7 293.0 263.6 303.0 257.0 306.1 254.0 307.1 252.0 306.6 248.0 303.0 241.5 295.0 234.1 291.7 230.0 289.4 226.0 289.1 224.0 290.5 218.0 291.1 212.0 292.9 210.0 301.0 209.8 306.1 208.0 309.1 206.0 317.0 198.5 318.1 196.0 317.4 192.0 315.0 188.5 302.2 178.0 300.1 174.0 299.4 170.0 300.0 164.0 301.2 160.0 305.0 153.1 311.3 144.0 316.5 132.0 317.0 128.0 316.6 126.0 314.2 122.0 313.9 120.0 316.9 116.0 318.4 110.0 321.0 106.7 335.0 101.4 343.0 95.2 348.3 92.0 349.7 90.0 351.7 82.0 353.9 78.0 374.5 58.0z"/>
<path fill="#1cffe3" d="M377.0 56.0 675.0 56.0 675.0 564.0 125.0 564.0 125.0 248.1 135.0 254.6 151.3 264.0 163.0 272.1 168.1 274.0 175.0 282.2 176.9 284.0 179.0 284.6 183.0 284.1 189.0 280.4 206.0 274.0 215.0 265.3 222.4 256.0 225.0 254.6 229.0 254.3 257.0 255.5 261.0 254.2 269.0 248.7 271.0 248.5 273.0 250.0 275.5 256.0 278.9 260.0 284.4 264.0 289.0 264.9 293.0 263.7 303.0 257.2 306.3 254.0 307.3 252.0 306.9 248.0 303.0 241.0 297.0 235.8 292.0 230.0 289.7 226.0 289.4 224.0 291.5 212.0 293.0 210.4 301.0 210.0 306.5 208.0 317.0 198.9 318.4 196.0 317.7 192.0 315.0 188.2 302.6 178.0 300.4 174.0 299.7 170.0 300.3 164.0 301.5 160.0 307.0 150.8 312.0 144.0 317.7 132.0 318.3 128.0 317.3 120.0 319.6 110.0 321.0 108.0 323.0 106.6 335.2 102.0 343.0 96.1 347.4 94.0 349.8 92.0 352.0 88.0 353.0 82.0 355.0 78.0 361.0 71.7 365.0 68.8 373.0 61.1 375.0 58.7 376.2 56.0z"/>
<path fill="#24ffdc" d="M377.0 56.1 675.0 56.0 675.0 564.0 125.0 564.0 125.0 248.5 156.7 268.0 167.0 275.5 169.0 278.8 174.3 284.0 179.0 285.6 183.0 284.9 189.0 281.5 207.0 274.2 217.0 263.7 222.7 256.0 225.0 254.8 229.0 254.5 257.0 255.8 261.0 254.6 269.0 249.3 271.0 249.1 273.0 250.9 275.2 256.0 278.6 260.0 284.0 264.0 289.0 265.1 293.0 263.9 303.0 257.4 306.5 254.0 307.5 252.0 307.2 248.0 303.0 240.5 295.0 233.4 290.0 226.0 289.6 224.0 291.3 214.0 291.9 212.0 293.0 210.8 295.0 210.2 301.0 210.2 307.0 207.9 317.0 199.2 318.6 196.0 318.5 194.0 316.8 190.0 312.8 186.0 304.9 180.0 301.0 174.8 300.1 172.0 300.1 168.0 301.9 160.0 307.0 151.5 312.8 144.0 318.9 132.0 319.6 128.0 319.4 120.0 319.9 114.0 321.0 109.8 322.5 108.0 325.0 106.6 336.5 102.0 343.0 97.1 349.0 94.0 351.4 92.0 353.0 90.0 354.2 82.0 356.0 78.0 361.0 72.6 365.0 69.9 373.0 62.3 376.3 58.0z"/>
<path fill="#2cffd4" d="M379.0 56.0 675.0 56.0 675.0 564.0 125.0 564.0 125.0 248.9 157.0 268.7 165.8 276.0 167.1 280.0 169.0 281.9 174.6 286.0 177.0 286.5 183.0 285.7 189.0 282.4 207.0 275.0 215.0 266.7 221.3 258.0 223.0 256.1 225.0 255.1 229.0 254.7 257.0 256.1 261.0 254.9 269.0 249.8 271.0 249.7 273.0 251.8 276.3 258.0 279.0 260.6 285.0 264.7 289.0 265.3 293.0 264.1 303.0 257.6 306.7 254.0 307.7 252.0 307.4 248.0 303.0 240.0 295.0 233.0 290.3 226.0 289.9 224.0 291.6 214.0 293.0 211.2 295.0 210.5 303.0 209.9 307.2 208.0 317.0 199.5 318.9 196.0 318.7 194.0 317.0 189.9 313.1 186.0 305.3 180.0 301.9 176.0 301.0 174.0 300.3 170.0 301.5 162.0 305.0 155.2 313.6 144.0 320.0 132.0 320.8 128.0 321.1 114.0 322.2 110.0 325.0 107.5 337.7 102.0 353.2 92.0 354.9 90.0 355.4 82.0 357.0 78.0 361.0 73.5 366.1 70.0 373.0 63.4 375.8 60.0 377.8 56.0z"/>
<path fill="#34ffcc" d="M379.0 56.0 675.0 56.0 675.0 564.0 125.0 564.0 125.0 249.2 158.0 270.0 164.4 276.0 165.7 282.0 167.0 283.3 173.0 286.7 177.0 287.4 183.0 286.3 189.0 283.2 207.0 275.7 215.0 267.3 221.6 258.0 225.0 255.3 229.0 254.9 257.0 256.4 261.0 255.3 269.0 250.3 271.0 250.4 273.0 252.6 276.0 258.0 278.0 260.0 283.0 263.9 287.0 265.4 291.0 265.1 293.0 264.3 303.0 257.8 307.0 254.0 307.9 252.0 307.7 248.0 303.5 240.0 295.0 232.6 290.5 226.0 290.1 224.0 291.9 214.0 293.0 211.7 295.0 210.8 303.0 210.1 307.5 208.0 317.0 199.9 318.5 198.0 319.1 196.0 318.3 192.0 317.0 189.6 313.4 186.0 305.7 180.0 302.3 176.0 301.0 173.0 300.6 170.0 301.8 162.0 307.0 153.0 314.4 144.0 321.2 132.0 322.6 122.0 322.4 114.0 323.5 110.0 325.8 108.0 339.0 102.0 355.2 92.0 356.5 90.0 356.4 82.0 358.0 78.0 361.0 74.5 367.0 70.3 373.4 64.0 377.0 59.5 378.5 56.0z"/>
<path fill="#3cffc4" d="M379.0 56.7 379.2 56.0 675.0 56.0 675.0 564.0 125.0 564.0 125.0 249.6 157.2 270.0 163.3 276.0 163.9 278.0 164.1 284.0 171.0 287.5 175.0 288.3 179.0 288.0 183.0 286.9 199.0 279.4 207.0 276.4 215.0 268.0 221.9 258.0 225.0 255.5 229.0 255.1 257.0 256.6 261.0 255.7 269.0 250.8 271.0 251.0 277.7 260.0 283.0 264.2 287.0 265.6 291.0 265.3 293.0 264.5 303.0 257.9 307.2 254.0 308.2 252.0 308.0 248.0 303.9 240.0 296.6 234.0 293.0 229.8 290.8 226.0 290.4 224.0 292.2 214.0 293.1 212.0 295.0 211.1 303.0 210.3 307.8 208.0 317.2 200.0 318.8 198.0 319.3 196.0 318.5 192.0 317.0 189.3 305.0 178.9 301.6 174.0 300.9 170.0 302.1 162.0 307.0 153.7 315.2 144.0 322.4 132.0 324.3 122.0 323.9 112.0 324.9 110.0 327.4 108.0 337.0 103.8 349.0 97.1 357.0 92.1 357.8 90.0 357.5 82.0 358.9 78.0 361.0 75.5 367.0 71.3 374.5 64.0 378.5 58.0z"/>
<path fill="#43ffbd" d="M381.0 56.0 675.0 56.0 675.0 564.0 125.0 564.0 125.0 250.0 158.7 272.0 162.2 276.0 162.7 278.0 161.9 284.0 163.0 286.6 173.0 289.1 181.6 288.0 199.0 280.0 207.0 277.0 213.0 271.1 222.2 258.0 225.0 255.7 229.0 255.2 257.0 256.9 261.0 256.1 269.0 251.4 271.0 251.7 275.4 258.0 279.7 262.0 283.0 264.4 287.0 265.8 291.0 265.5 293.0 264.7 303.1 258.0 307.4 254.0 308.4 252.0 308.2 248.0 304.4 240.0 297.0 234.0 293.5 230.0 291.1 226.0 290.7 224.0 292.5 214.0 293.8 212.0 295.0 211.4 303.0 210.5 308.2 208.0 317.5 200.0 319.0 198.0 319.6 196.0 318.8 192.0 317.0 189.0 305.0 178.5 301.9 174.0 301.1 170.0 302.5 162.0 307.0 154.3 316.1 144.0 323.6 132.0 326.0 122.0 325.0 114.0 325.2 112.0 326.3 110.0 329.0 108.0 349.0 98.1 357.0 93.5 358.5 92.0 359.0 90.0 358.6 82.0 359.9 78.0 361.6 76.0 367.0 72.2 375.0 64.6 378.1 60.0 379.9 56.0z"/>
<path fill="#4affb6" d="M381.0 56.0 675.0 56.0 675.0 564.0 125.0 564.0 125.0 250.4 155.2 270.0 159.7 274.0 161.1 276.0 161.6 278.0 160.0 286.0 161.0 288.3 171.0 290.0 181.0 288.8 199.0 280.5 207.0 277.7 215.0 269.4 222.5 258.0 224.9 256.0 227.0 255.5 257.0 257.2 261.0 256.4 269.0 251.9 271.0 252.4 275.1 258.0 281.0 263.3 285.0 265.5 287.0 266.0 291.0 265.7 293.0 264.8 303.4 258.0 305.8 256.0 308.6 252.0 308.5 248.0 304.9 240.0 297.0 233.6 293.8 230.0 291.3 226.0 291.2 222.0 292.8 214.0 295.0 211.7 303.0 210.6 308.5 208.0 317.8 200.0 319.3 198.0 319.8 196.0 319.0 192.0 317.0 188.7 305.0 178.1 302.2 174.0 301.4 170.0 302.8 162.0 307.0 155.0 316.9 144.0 323.9 134.0 327.8 122.0 328.0 120.0 326.5 114.0 326.6 112.0 327.8 110.0 330.6 108.0 339.0 104.2 359.0 93.3 360.0 90.0 359.8 82.0 361.0 78.0 375.0 65.9 378.8 60.0 380.6 56.0z"/>
<path fill="#50ffb0" d="M381.0 56.9 381.3 56.0 675.0 56.0 675.0 564.0 125.0 564.0 125.0 250.9 153.8 270.0 158.6 274.0 160.3 278.0 157.9 288.0 158.7 290.0 161.0 290.8 171.0 290.9 179.0 289.9 199.0 281.0 207.0 278.2 209.8 276.0 215.0 270.1 222.8 258.0 225.0 256.2 227.0 255.7 257.0 257.4 261.0 256.7 269.0 252.4 271.0 253.0 274.8 258.0 281.0 263.5 285.0 265.7 287.0 266.2 291.0 265.8 293.0 265.0 303.6 258.0 306.0 256.0 308.8 252.0 308.7 248.0 305.0 239.6 297.0 233.3 291.6 226.0 291.4 222.0 293.0 214.3 295.0 212.0 303.0 210.8 308.8 208.0 318.1 200.0 320.0 196.0 319.2 192.0 317.0 188.4 305.3 178.0 302.5 174.0 301.7 170.0 303.1 162.0 307.0 155.6 317.9 144.0 325.1 134.0 329.7 122.0 329.9 120.0 328.1 114.0 328.1 112.0 329.3 110.0 332.1 108.0 360.0 94.0 360.9 92.0 361.5 80.0 362.4 78.0 375.0 67.7 380.6 58.0z"/>
<path fill="#56ffaa" d="M383.0 56.0 675.0 56.0 675.0 564.0 125.0 564.0 125.0 251.4 157.0 274.0 158.7 278.0 155.6 288.0 157.0 292.0 159.0 292.7 171.0 291.8 179.0 290.5 199.0 281.6 207.0 278.7 210.5 276.0 215.0 270.8 223.1 258.0 225.0 256.5 227.0 255.9 257.0 257.7 261.0 257.0 269.0 252.9 271.0 253.7 274.5 258.0 281.0 263.8 285.0 266.0 287.0 266.4 291.0 266.0 293.0 265.2 303.8 258.0 307.0 255.1 309.0 252.0 309.0 248.0 305.0 239.1 297.0 232.9 291.9 226.0 291.7 222.0 293.0 215.5 293.5 214.0 295.0 212.4 303.0 211.0 309.2 208.0 318.4 200.0 320.3 196.0 319.4 192.0 317.0 188.0 307.7 180.0 302.8 174.0 302.0 170.0 303.4 162.0 307.0 156.3 318.9 144.0 326.4 134.0 331.7 122.0 331.4 118.0 329.8 114.0 329.7 112.0 330.8 110.0 355.0 97.4 359.4 96.0 361.0 94.7 363.0 85.5 364.5 84.0 364.8 82.0 363.7 80.0 364.1 78.0 369.0 73.2 373.0 70.5 375.0 70.3 379.1 72.0 379.9 70.0 377.9 68.0 377.7 66.0 382.0 56.0z"/>
<path fill="#5dffa3" d="M383.0 56.0 675.0 56.0 675.0 564.0 125.0 564.0 125.0 251.9 140.6 264.0 151.8 276.0 152.6 278.0 153.0 286.0 154.5 292.0 155.9 294.0 159.0 294.6 179.0 291.1 201.0 281.2 207.0 279.2 211.0 276.1 215.0 271.5 223.5 258.0 227.0 256.1 257.0 258.0 261.0 257.3 269.0 253.5 271.0 254.3 276.2 260.0 281.0 264.0 284.6 266.0 287.0 266.6 291.0 266.2 293.0 265.4 304.0 258.0 307.0 255.4 309.2 252.0 309.2 248.0 305.0 238.5 297.0 232.6 292.2 226.0 291.9 222.0 293.2 216.0 295.0 212.8 303.0 211.2 309.5 208.0 318.7 200.0 320.5 196.0 319.6 192.0 317.2 188.0 308.1 180.0 303.2 174.0 302.5 172.0 302.4 168.0 303.8 162.0 307.0 156.9 322.0 142.0 327.8 134.0 333.7 122.0 333.4 118.0 331.6 114.0 331.4 112.0 332.5 110.0 355.0 98.4 361.0 96.5 362.8 94.0 363.6 88.0 367.0 84.0 367.1 82.0 365.8 78.0 367.0 76.0 371.0 72.7 373.0 72.0 379.0 73.3 382.2 72.0 382.4 70.0 379.3 66.0 379.3 64.0 382.8 56.0z"/>
<path fill="#63ff9d" d="M383.0 57.9 383.6 56.0 675.0 56.0 675.0 564.0 125.0 564.0 125.0 252.7 132.3 258.0 138.3 264.0 151.0 288.1 153.3 294.0 154.7 296.0 157.0 296.4 179.0 291.6 199.0 282.5 207.0 279.7 209.6 278.0 215.0 272.2 223.8 258.0 227.0 256.3 259.0 258.1 269.0 254.0 271.0 254.8 275.8 260.0 281.0 264.2 284.1 266.0 287.0 266.7 291.0 266.4 293.0 265.6 304.3 258.0 307.0 255.6 309.4 252.0 309.5 248.0 306.5 240.0 305.0 238.0 297.0 232.2 292.5 226.0 292.2 222.0 293.5 216.0 295.0 213.2 303.0 211.3 309.9 208.0 319.0 200.1 320.7 196.0 319.9 192.0 317.5 188.0 308.5 180.0 303.6 174.0 302.8 172.0 302.6 168.0 304.1 162.0 309.0 155.2 323.4 142.0 329.2 134.0 335.7 122.0 335.4 118.0 333.3 112.0 334.5 110.0 355.0 99.6 361.0 98.1 363.0 96.7 364.2 94.0 364.2 90.0 364.9 88.0 368.0 84.0 367.2 78.0 368.2 76.0 371.0 73.7 373.0 73.2 379.0 74.4 381.1 74.0 384.0 72.0 384.1 70.0 380.8 66.0 380.4 64.0 383.0 58.0z"/>
<path fill="#6aff96" d="M385.0 56.0 675.0 56.0 675.0 564.0 125.0 564.0 125.0 253.6 131.1 258.0 135.0 262.0 150.0 290.0 151.0 292.0 151.6 296.0 153.0 297.9 155.0 298.3 159.0 297.7 179.0 292.2 199.0 282.9 207.4 280.0 210.2 278.0 215.0 272.9 223.0 259.5 225.0 257.4 227.0 256.5 259.0 258.4 269.0 254.4 271.0 255.3 281.0 264.5 283.6 266.0 287.0 266.9 291.0 266.6 293.0 265.8 304.5 258.0 307.0 255.8 309.6 252.0 309.7 248.0 307.0 240.3 305.5 238.0 297.1 232.0 292.7 226.0 292.4 222.0 293.8 216.0 295.0 213.6 305.0 210.8 310.2 208.0 319.0 200.4 321.0 196.0 320.1 192.0 317.7 188.0 308.9 180.0 303.9 174.0 303.1 172.0 302.9 168.0 304.5 162.0 309.0 155.9 325.0 142.0 335.8 126.0 337.7 122.0 338.0 120.0 335.4 112.0 336.6 110.0 343.6 106.0 355.0 100.9 361.0 99.5 364.1 98.0 365.5 96.0 365.3 90.0 368.9 84.0 368.2 78.0 369.4 76.0 371.0 74.8 373.0 74.3 377.0 75.0 381.0 74.8 383.2 74.0 385.6 72.0 385.6 70.0 382.3 66.0 381.5 64.0 384.5 56.0z"/>
<path fill="#70ff90" d="M385.0 57.9 385.4 56.0 675.0 56.0 675.0 564.0 125.0 564.0 125.0 254.9 129.3 258.0 133.0 262.1 148.8 292.0 149.0 298.1 150.8 300.0 153.0 300.2 159.0 299.1 169.0 295.4 179.0 292.7 199.0 283.4 208.2 280.0 215.0 273.5 223.0 259.9 225.0 257.6 227.0 256.8 259.0 258.6 269.0 254.9 271.0 255.9 281.0 264.7 283.1 266.0 287.0 267.1 291.0 266.8 293.0 265.9 304.7 258.0 307.1 256.0 309.8 252.0 309.9 248.0 307.2 240.0 305.9 238.0 299.0 233.4 295.7 230.0 293.0 226.0 292.7 222.0 294.1 216.0 295.1 214.0 297.0 213.0 305.0 211.0 310.6 208.0 319.0 200.7 320.7 198.0 321.2 196.0 320.3 192.0 318.0 188.0 309.3 180.0 304.3 174.0 303.4 172.0 303.2 168.0 304.8 162.0 309.0 156.5 326.7 142.0 336.8 128.0 339.1 124.0 340.2 120.0 337.8 112.0 339.1 110.0 345.8 106.0 355.0 102.3 363.0 100.4 365.0 99.3 367.1 96.0 366.4 90.0 369.7 84.0 369.3 78.0 370.7 76.0 373.0 75.2 379.0 75.9 381.0 75.6 384.9 74.0 387.1 72.0 387.1 70.0 382.8 64.0 383.0 62.0 385.0 58.0z"/>
<path fill="#76ff8a" d="M387.0 56.0 675.0 56.0 675.0 564.0 125.0 564.0 125.0 296.0 131.0 296.0 131.0 294.0 133.0 293.8 133.0 296.0 135.0 296.0 139.1 300.0 142.9 302.0 149.0 302.8 159.0 300.5 169.0 296.3 179.0 293.3 201.0 282.9 209.0 280.0 215.1 274.0 223.2 260.0 225.0 257.9 227.0 257.0 259.0 258.9 269.0 255.4 271.0 256.3 282.7 266.0 285.0 267.0 289.0 267.3 293.0 266.1 307.0 256.2 309.0 254.0 310.4 250.0 307.6 240.0 306.4 238.0 299.0 233.1 294.4 228.0 292.8 224.0 293.4 220.0 294.4 216.0 295.6 214.0 305.0 211.2 310.9 208.0 319.0 201.0 320.9 198.0 321.4 196.0 320.5 192.0 318.2 188.0 309.6 180.0 304.7 174.0 303.4 170.0 304.3 164.0 306.5 160.0 309.0 157.1 328.5 142.0 337.7 130.0 342.2 122.0 342.4 118.0 340.5 112.0 341.7 110.0 344.4 108.0 348.7 106.0 357.0 103.2 363.0 102.1 367.0 99.6 368.4 96.0 367.5 90.0 370.4 84.0 370.2 80.0 371.0 77.2 373.0 76.2 381.0 76.3 386.5 74.0 388.6 72.0 388.6 70.0 384.2 64.0 386.5 56.0z"/>
<path fill="#7dff83" d="M389.0 56.0 675.0 56.0 675.0 564.0 125.0 564.0 125.0 309.0 145.0 308.6 153.2 304.0 161.0 301.2 169.0 297.1 179.0 293.9 187.0 289.6 201.0 283.3 209.0 280.4 215.0 274.7 223.5 260.0 225.0 258.3 227.0 257.3 259.0 259.2 269.0 255.8 271.0 256.7 282.3 266.0 285.0 267.2 289.0 267.5 293.0 266.3 307.4 256.0 310.2 252.0 310.6 250.0 307.9 240.0 306.9 238.0 299.0 232.8 294.7 228.0 293.0 224.0 293.6 220.0 294.7 216.0 296.2 214.0 305.0 211.4 311.3 208.0 319.0 201.3 321.2 198.0 321.6 196.0 320.7 192.0 318.5 188.0 310.0 180.0 305.0 173.9 303.7 170.0 304.6 164.0 306.9 160.0 309.0 157.7 330.2 142.0 340.2 130.0 344.0 124.0 345.5 120.0 345.5 118.0 343.7 112.0 344.7 110.0 347.5 108.0 352.5 106.0 365.0 103.0 368.4 100.0 369.6 96.0 368.6 90.0 371.1 84.0 371.0 80.0 371.8 78.0 373.0 77.3 379.0 77.4 383.0 76.5 388.2 74.0 390.0 72.0 390.0 70.0 385.8 64.0 387.9 58.0 387.8 56.0zM378.6 86.0 379.0 89.1 381.0 90.6 383.0 90.1 384.7 88.0 384.5 86.0 383.0 85.0 381.0 84.5 379.0 85.4z"/>
<path fill="#84ff7c" d="M391.0 56.0 675.0 56.0 675.0 564.0 125.0 564.0 125.0 314.0 143.0 313.9 147.0 313.2 149.0 311.9 154.2 306.0 168.9 298.0 179.0 294.4 187.0 289.9 201.0 283.7 209.0 280.8 215.0 275.3 223.8 260.0 227.0 257.5 241.0 257.9 259.0 259.4 263.0 258.4 267.0 256.5 269.0 256.2 271.0 257.1 281.9 266.0 285.0 267.4 289.0 267.7 293.0 266.5 307.6 256.0 310.4 252.0 310.8 250.0 308.2 240.0 307.0 237.7 299.0 232.4 295.0 228.0 293.3 224.0 293.9 220.0 295.0 216.0 296.7 214.0 305.0 211.5 311.7 208.0 319.0 201.7 321.4 198.0 321.9 196.0 320.9 192.0 318.7 188.0 310.4 180.0 305.0 173.2 304.0 170.0 305.0 163.8 307.0 160.4 311.0 156.7 329.8 144.0 335.0 137.9 341.2 132.0 348.0 122.0 348.9 118.0 347.8 112.0 348.7 110.0 355.0 106.7 365.0 104.7 368.6 102.0 369.8 100.0 370.7 96.0 369.7 90.0 371.5 86.0 372.2 80.0 373.0 78.6 375.0 78.0 379.0 78.4 383.0 77.4 389.0 74.5 391.4 72.0 391.4 70.0 387.7 64.0 388.4 62.0 390.1 60.0 389.3 56.0zM378.2 84.0 376.9 86.0 377.0 88.0 379.0 91.6 381.0 92.6 383.0 92.3 385.0 90.9 387.1 88.0 387.1 86.0 383.0 83.3 381.0 82.9 379.0 83.3z"/>
<path fill="#8cff74" d="M393.0 56.0 675.0 56.0 675.0 564.0 125.0 564.0 125.0 319.0 139.0 318.7 144.1 318.0 147.0 316.9 150.7 314.0 157.0 306.7 169.0 298.9 179.0 295.0 187.0 290.3 201.0 284.0 209.0 281.2 213.0 278.0 216.5 274.0 224.2 260.0 227.0 257.7 239.0 258.0 259.0 259.7 263.0 258.7 267.0 256.8 269.0 256.6 271.0 257.6 283.0 266.8 289.0 267.9 293.0 266.7 307.8 256.0 310.6 252.0 311.0 250.0 308.6 240.0 307.0 237.3 299.0 232.1 295.3 228.0 293.6 224.0 294.1 220.0 295.3 216.0 297.0 214.2 307.0 210.9 314.8 206.0 320.5 200.0 322.1 196.0 321.2 192.0 319.0 188.0 310.8 180.0 305.0 172.5 304.3 168.0 305.3 164.0 309.0 158.9 331.5 144.0 337.0 137.9 343.8 132.0 349.0 125.6 351.0 122.2 351.8 112.0 352.9 110.0 357.0 107.8 365.0 106.4 369.0 103.7 371.6 98.0 371.9 96.0 370.8 90.0 373.5 84.0 373.1 82.0 373.8 80.0 375.0 79.4 381.0 79.7 391.0 74.4 392.8 72.0 392.8 70.0 390.4 66.0 390.0 64.0 393.9 60.0 391.0 56.0zM378.2 82.0 375.8 84.0 375.2 86.0 376.3 90.0 379.0 93.6 381.0 94.4 383.0 94.2 386.5 92.0 388.1 90.0 389.5 86.0 388.2 84.0 381.0 80.6 379.0 80.5z"/>
<path fill="#94ff6c" d="M395.0 56.0 675.0 56.0 675.0 564.0 125.0 564.0 125.0 323.5 137.0 323.1 147.0 319.5 151.0 316.3 158.4 308.0 168.7 300.0 179.0 295.5 187.0 290.7 195.0 287.6 201.0 284.4 209.0 281.6 213.5 278.0 216.9 274.0 223.2 262.0 225.0 259.4 227.0 258.0 239.0 258.2 259.0 260.0 263.0 259.0 267.0 257.2 269.0 257.0 271.0 258.0 283.0 267.0 289.0 268.0 293.0 266.9 308.0 256.0 310.8 252.0 311.2 250.0 308.9 240.0 307.0 236.8 299.3 232.0 295.6 228.0 293.9 224.0 294.4 220.0 295.7 216.0 297.0 214.6 307.0 211.1 315.0 206.2 320.7 200.0 322.3 196.0 321.4 192.0 319.0 187.7 311.2 180.0 305.1 172.0 304.6 168.0 305.6 164.0 307.0 161.6 311.0 157.9 333.1 144.0 339.0 138.1 344.7 134.0 350.4 128.0 353.0 124.1 353.7 122.0 354.2 114.0 355.0 111.6 357.0 109.7 367.0 107.1 369.0 105.7 371.0 103.1 373.1 96.0 373.0 89.6 375.0 91.1 377.2 94.0 381.0 95.9 385.0 95.1 388.7 92.0 391.0 88.0 391.7 86.0 391.5 84.0 384.5 80.0 386.6 78.0 391.0 75.7 393.0 74.0 394.2 72.0 394.2 70.0 392.6 66.0 393.4 64.0 396.5 62.0 396.8 60.0 393.1 56.0z"/>
<path fill="#9cff64" d="M397.0 56.0 675.0 56.0 675.0 564.0 125.0 564.0 125.0 326.9 135.0 326.9 139.6 326.0 149.0 320.2 160.8 308.0 170.3 300.0 179.0 296.1 187.0 291.1 195.0 288.0 201.0 284.8 209.0 282.0 214.0 278.0 217.0 274.5 223.5 262.0 225.0 259.7 227.0 258.3 229.0 257.9 239.0 258.4 259.0 260.2 269.0 257.4 271.0 258.3 283.0 267.3 289.0 268.2 293.0 267.0 308.2 256.0 311.0 252.0 311.4 250.0 309.0 239.4 307.0 236.4 299.7 232.0 295.9 228.0 294.1 224.0 294.6 220.0 296.0 216.0 297.0 215.0 307.0 211.3 315.0 206.5 321.0 200.0 322.6 196.0 321.6 192.0 319.0 187.3 311.6 180.0 305.5 172.0 304.9 168.0 306.0 164.0 307.2 162.0 311.0 158.5 332.1 146.0 339.0 139.9 345.2 136.0 351.9 130.0 353.6 128.0 355.5 124.0 356.0 116.0 357.0 112.5 359.0 110.9 365.0 109.5 369.0 107.6 372.0 104.0 375.0 96.5 377.0 96.2 381.0 97.4 383.0 97.3 386.9 96.0 389.0 94.1 394.4 84.0 393.5 82.0 390.0 80.0 390.3 78.0 394.8 74.0 395.9 72.0 395.2 66.0 397.0 64.5 401.0 63.0 402.9 66.0 404.1 72.0 405.0 73.6 407.0 72.7 408.5 68.0 408.2 66.0 407.0 64.0 401.0 61.6 395.5 56.0z"/>
<path fill="#a4ff5c" d="M399.0 56.0 675.0 56.0 675.0 564.0 125.0 564.0 125.0 329.0 137.0 328.9 141.0 327.9 149.0 322.2 166.6 304.0 171.0 300.6 179.0 296.7 187.0 291.4 211.0 281.1 217.0 275.1 223.8 262.0 225.1 260.0 227.0 258.6 229.0 258.1 239.0 258.6 259.0 260.5 269.0 257.8 271.0 258.6 283.0 267.5 289.0 268.4 293.0 267.2 308.4 256.0 311.2 252.0 311.6 250.0 309.0 238.6 307.0 236.0 301.0 232.7 296.2 228.0 294.4 224.0 294.9 220.0 297.0 215.4 307.0 211.5 315.0 206.9 321.0 200.2 322.8 196.0 321.8 192.0 319.0 187.0 312.0 180.0 306.0 172.0 305.2 168.0 306.4 164.0 309.0 160.6 311.0 159.0 333.6 146.0 339.0 141.5 347.0 136.8 353.0 132.0 355.0 129.9 357.1 126.0 358.1 122.0 358.0 116.0 359.0 113.6 361.0 112.3 367.0 110.7 370.9 108.0 372.7 106.0 375.4 100.0 377.0 98.6 385.0 98.7 389.0 96.3 394.0 88.0 397.4 84.0 398.2 82.0 394.5 78.0 397.0 74.6 399.0 73.2 402.1 80.0 403.0 80.4 407.0 79.7 411.3 76.0 413.9 72.0 414.5 70.0 414.4 66.0 413.4 64.0 410.6 62.0 401.0 58.1 398.3 56.0z"/>
<path fill="#acff54" d="M403.0 56.0 675.0 56.0 675.0 564.0 125.0 564.0 125.0 331.0 137.0 330.9 143.0 329.2 147.0 326.3 170.3 302.0 181.0 296.0 187.0 291.8 195.0 288.8 201.0 285.6 211.0 281.5 217.0 275.7 221.6 266.0 225.0 260.5 227.0 258.9 229.0 258.4 239.0 258.8 259.0 260.8 269.0 258.2 271.0 259.0 283.0 267.7 289.0 268.6 293.0 267.4 308.6 256.0 311.4 252.0 311.8 250.0 309.1 238.0 307.0 235.7 300.5 232.0 296.5 228.0 294.7 224.0 295.1 220.0 297.0 215.8 299.0 214.5 307.0 211.7 315.0 207.2 321.0 200.6 323.0 196.0 322.1 192.0 319.0 186.6 312.4 180.0 306.4 172.0 305.6 168.0 306.7 164.0 311.0 159.6 332.1 148.0 341.0 141.6 348.0 138.0 353.2 134.0 357.4 130.0 359.6 126.0 360.8 122.0 361.0 116.0 367.0 113.8 371.0 110.9 374.4 108.0 377.2 102.0 379.0 101.3 385.0 101.2 387.0 100.5 389.0 98.7 393.9 90.0 397.0 86.5 401.0 84.4 409.5 82.0 413.0 80.0 417.3 76.0 419.9 72.0 420.5 70.0 420.4 66.0 419.5 64.0 416.7 62.0 402.8 56.0z"/>
<path fill="#b4ff4c" d="M409.0 56.0 675.0 56.0 675.0 564.0 125.0 564.0 125.0 333.3 139.0 333.0 145.0 330.3 171.6 302.0 181.0 296.5 187.0 292.2 195.0 289.2 203.0 285.0 209.0 283.0 213.3 280.0 217.2 276.0 221.9 266.0 225.0 261.0 227.0 259.2 229.0 258.6 239.0 259.0 259.0 261.0 269.0 258.5 271.0 259.3 283.0 267.9 289.0 268.8 293.0 267.6 308.7 256.0 311.5 252.0 312.0 250.0 309.4 238.0 307.8 236.0 301.0 232.0 296.8 228.0 294.9 224.0 295.4 220.0 297.0 216.2 299.0 214.8 307.0 211.9 315.0 207.6 321.0 200.9 323.3 196.0 322.3 192.0 319.0 186.3 312.8 180.0 306.8 172.0 305.9 168.0 307.0 164.2 309.0 161.7 313.0 158.9 329.0 150.6 341.0 142.9 349.0 139.0 358.1 132.0 363.0 126.6 370.7 124.0 373.8 122.0 377.0 118.9 383.0 114.9 385.8 112.0 387.1 110.0 389.8 100.0 395.0 90.2 397.0 88.0 401.0 86.0 415.6 82.0 419.0 80.0 423.4 76.0 425.0 74.0 426.5 70.0 426.4 66.0 425.6 64.0 423.0 62.0 411.3 58.0 408.3 56.0z"/>
<path fill="#bcff44" d="M413.0 56.0 675.0 56.0 675.0 564.0 125.0 564.0 125.0 335.2 139.0 335.0 142.3 334.0 145.5 332.0 149.8 328.0 157.5 318.0 172.9 302.0 187.0 292.6 197.0 288.7 203.0 285.4 209.0 283.4 213.7 280.0 217.6 276.0 222.2 266.0 225.0 261.4 227.0 259.4 231.0 258.8 239.0 259.2 259.0 261.3 269.0 258.9 273.0 261.0 282.7 268.0 289.0 269.0 293.0 267.8 308.9 256.0 311.7 252.0 312.2 250.0 309.6 238.0 308.2 236.0 301.0 231.7 297.1 228.0 295.2 224.0 295.7 220.0 297.0 216.8 299.0 215.1 307.2 212.0 315.0 207.9 321.0 201.2 323.6 196.0 322.5 192.0 319.0 186.0 313.2 180.0 307.2 172.0 306.2 168.0 307.0 165.0 309.0 162.3 311.0 160.7 328.1 152.0 343.0 143.1 349.0 140.4 363.0 130.5 375.0 124.3 385.0 116.6 389.0 111.6 391.8 98.0 394.9 92.0 397.0 89.3 401.0 87.2 416.0 84.0 421.8 82.0 431.0 77.0 432.5 72.0 432.5 66.0 431.8 64.0 429.1 62.0 412.4 56.0z"/>
<path fill="#c3ff3d" d="M419.0 56.0 675.0 56.0 675.0 564.0 125.0 564.0 125.0 336.5 141.0 336.3 145.2 334.0 151.9 328.0 157.2 320.0 174.0 302.0 187.0 293.0 197.0 289.2 203.0 285.7 209.0 283.7 214.2 280.0 217.9 276.0 222.5 266.0 225.0 261.8 227.0 259.7 229.0 259.1 237.0 259.3 259.0 261.6 269.0 259.2 273.0 261.2 282.3 268.0 285.0 268.9 289.0 269.1 293.0 268.0 309.1 256.0 311.9 252.0 312.4 250.0 309.9 238.0 308.6 236.0 301.0 231.4 297.4 228.0 295.5 224.0 295.9 220.0 297.0 217.3 299.0 215.4 307.7 212.0 315.3 208.0 321.0 201.5 323.8 196.0 322.8 192.0 319.3 186.0 313.6 180.0 307.7 172.0 306.7 170.0 307.0 165.9 309.0 162.8 311.0 161.2 329.6 152.0 341.0 145.3 348.5 142.0 357.0 135.8 373.0 128.0 386.3 118.0 389.0 114.9 391.0 111.0 391.8 102.0 392.8 98.0 396.0 92.0 399.0 89.1 403.0 87.7 425.0 83.4 436.4 82.0 439.6 80.0 445.0 69.2 453.0 66.4 453.8 64.0 451.0 63.6 449.0 64.0 447.0 65.4 443.0 65.3 436.7 62.0 425.0 59.0 418.8 56.0z"/>
<path fill="#c9ff36" d="M423.0 56.0 675.0 56.0 675.0 564.0 125.0 564.0 125.0 337.4 141.0 337.5 143.0 336.9 147.3 334.0 154.6 328.0 158.5 320.0 165.0 313.6 172.7 304.0 175.0 302.0 187.0 293.4 197.0 289.6 203.2 286.0 209.1 284.0 214.7 280.0 218.3 276.0 222.8 266.0 227.1 260.0 231.0 259.2 237.0 259.5 259.0 261.8 269.0 259.6 273.0 261.5 281.9 268.0 285.0 269.1 289.0 269.3 293.0 268.1 309.0 256.3 311.0 254.0 312.5 250.0 310.2 238.0 309.0 236.0 301.0 231.1 297.8 228.0 295.8 224.0 296.2 220.0 297.0 217.9 299.0 215.7 309.0 211.6 315.7 208.0 321.0 201.8 324.1 196.0 323.0 192.0 319.6 186.0 314.0 180.0 308.1 172.0 307.1 170.0 307.4 166.0 309.0 163.4 313.0 160.5 327.3 154.0 341.0 146.3 349.0 142.9 357.0 136.9 373.1 130.0 387.0 119.4 389.9 116.0 392.6 110.0 392.8 102.0 393.7 98.0 397.0 92.2 399.0 90.3 403.0 88.7 423.0 85.4 431.0 85.0 441.0 85.6 445.0 83.8 451.0 77.1 457.0 68.3 458.5 64.0 457.6 62.0 455.0 60.3 451.0 59.4 441.0 60.5 431.0 59.2 426.0 58.0 422.6 56.0z"/>
<path fill="#d0ff30" d="M427.0 56.0 446.7 56.0 444.6 58.0 439.0 59.0 430.8 58.0 425.2 56.0zM457.0 56.0 675.0 56.0 675.0 564.0 125.0 564.0 125.0 338.3 141.0 338.6 143.0 338.2 151.0 332.8 156.5 330.0 157.8 324.0 159.0 321.4 167.0 312.8 173.6 304.0 187.0 293.8 197.0 290.0 203.0 286.5 209.0 284.4 212.8 282.0 218.7 276.0 223.0 266.0 225.5 262.0 227.8 260.0 231.0 259.4 239.0 259.9 259.0 262.1 269.0 259.9 273.0 261.8 283.0 268.7 289.0 269.5 293.0 268.3 300.8 262.0 307.3 258.0 311.2 254.0 312.7 250.0 311.0 239.6 309.0 235.7 301.0 230.8 298.1 228.0 296.0 224.0 296.5 220.0 297.2 218.0 299.0 215.9 311.0 210.9 316.1 208.0 321.0 202.1 324.3 196.0 324.1 194.0 321.0 187.8 312.9 178.0 307.6 170.0 307.3 168.0 309.0 164.0 311.4 162.0 317.0 158.9 328.8 154.0 341.0 147.3 349.0 143.9 357.0 137.9 372.8 132.0 378.9 128.0 389.0 119.4 391.0 116.7 393.8 110.0 393.7 102.0 394.6 98.0 398.5 92.0 401.0 90.4 407.0 88.9 423.0 86.7 433.0 86.9 443.0 88.8 447.0 87.5 453.0 80.0 460.6 66.0 461.1 64.0 460.5 62.0 457.0 58.0 456.8 56.0z"/>
<path fill="#d6ff2a" d="M429.0 56.0 443.7 56.0 441.0 57.5 439.0 57.7 428.3 56.0zM461.0 56.0 675.0 56.0 675.0 564.0 125.0 564.0 125.0 339.0 143.0 339.5 151.0 334.4 157.0 332.7 158.9 330.0 159.2 324.0 159.9 322.0 167.3 314.0 174.5 304.0 187.4 294.0 197.0 290.4 203.0 286.8 209.0 284.7 213.0 282.2 219.0 276.1 223.3 266.0 225.8 262.0 228.5 260.0 239.0 260.1 259.0 262.4 269.0 260.2 273.0 262.1 283.0 269.0 289.0 269.7 293.0 268.5 301.0 262.0 307.5 258.0 311.3 254.0 312.9 250.0 311.0 238.7 309.0 235.4 301.0 230.5 298.4 228.0 296.3 224.0 296.7 220.0 297.6 218.0 299.4 216.0 311.0 211.2 316.5 208.0 322.6 200.0 324.6 196.0 324.4 194.0 321.0 187.4 313.3 178.0 308.0 170.0 307.8 168.0 309.0 164.8 311.0 162.8 315.0 160.4 326.1 156.0 341.0 148.2 349.0 144.9 357.0 138.8 371.8 134.0 379.0 129.9 389.0 121.0 391.5 118.0 395.0 110.0 395.0 99.7 397.0 95.8 401.0 91.6 407.0 89.8 423.0 87.9 435.0 88.7 445.0 91.7 449.0 90.6 455.0 81.8 462.8 66.0 463.0 62.0 460.5 58.0 460.3 56.0z"/>
<path fill="#dcff23" d="M465.0 56.0 675.0 56.0 675.0 564.0 125.0 564.0 125.0 339.8 135.0 339.8 143.0 341.0 151.0 335.8 158.3 334.0 159.7 332.0 160.4 324.0 161.2 322.0 169.0 313.4 175.4 304.0 188.1 294.0 197.0 290.9 203.0 287.2 209.0 285.0 213.0 282.6 219.0 276.7 224.8 264.0 227.0 261.1 229.0 260.1 239.0 260.3 259.0 262.6 269.0 260.5 273.0 262.4 283.0 269.2 289.0 269.9 293.0 268.7 301.0 262.1 307.7 258.0 311.5 254.0 313.1 250.0 311.0 238.0 309.0 235.1 301.0 230.2 298.7 228.0 296.6 224.0 297.0 220.0 297.9 218.0 299.9 216.0 313.0 210.5 316.9 208.0 322.8 200.0 324.8 196.0 324.6 194.0 321.0 187.0 309.0 171.0 308.2 168.0 309.0 165.5 311.0 163.4 315.0 160.9 327.6 156.0 341.0 149.1 349.0 145.9 357.0 139.7 373.0 135.0 381.0 130.3 389.6 122.0 392.7 118.0 396.3 110.0 396.3 100.0 400.3 94.0 402.8 92.0 409.0 90.4 423.0 88.9 435.0 90.2 445.0 94.0 449.0 94.1 451.0 92.9 453.0 90.3 459.0 79.1 464.7 66.0 465.1 62.0 463.5 58.0 463.4 56.0z"/>
<path fill="#e3ff1d" d="M467.0 56.0 675.0 56.0 675.0 564.0 125.0 564.0 125.0 340.6 137.0 341.0 141.0 342.9 143.0 343.1 147.0 339.6 151.0 337.2 157.0 336.3 159.0 335.4 160.9 332.0 161.7 324.0 162.6 322.0 169.0 315.0 176.1 304.0 188.9 294.0 197.0 291.3 203.0 287.6 211.0 284.4 213.0 283.0 219.0 277.2 225.0 264.1 227.0 261.5 229.0 260.3 239.0 260.5 259.0 262.9 269.0 260.9 273.0 262.6 283.0 269.4 289.0 270.0 293.0 268.9 301.0 262.3 307.9 258.0 311.7 254.0 313.3 250.0 311.3 238.0 309.0 234.8 301.2 230.0 299.0 228.0 296.8 224.0 297.3 220.0 298.2 218.0 300.3 216.0 313.0 210.8 317.0 208.2 323.1 200.0 325.1 196.0 324.0 192.0 321.0 186.6 309.0 170.2 308.6 168.0 309.2 166.0 311.0 163.9 317.0 160.4 329.1 156.0 341.0 149.9 349.0 146.7 357.0 140.6 374.0 136.0 381.4 132.0 391.0 122.3 393.0 119.5 398.1 110.0 399.0 102.4 401.0 103.0 402.0 96.0 402.8 94.0 405.0 92.4 409.0 91.3 423.0 89.9 435.0 91.6 441.0 94.4 447.0 96.3 451.1 96.0 453.0 94.6 455.0 91.6 461.0 80.0 465.0 70.3 467.0 64.0 466.0 56.0z"/>
<path fill="#e9ff16" d="M469.0 56.0 675.0 56.0 675.0 564.0 125.0 564.0 125.0 341.6 136.9 342.0 139.5 344.0 141.0 346.7 143.0 346.5 146.3 342.0 149.0 339.7 153.0 338.0 159.0 337.0 161.3 334.0 163.0 323.8 170.8 314.0 176.8 304.0 189.0 294.4 197.0 291.7 203.0 288.0 213.0 283.4 219.0 277.7 221.0 274.2 224.2 266.0 226.8 262.0 229.0 260.6 239.0 260.7 259.0 263.2 269.0 261.2 273.0 262.9 283.0 269.6 289.0 270.2 293.0 269.0 301.0 262.4 308.1 258.0 311.9 254.0 313.5 250.0 311.5 238.0 309.0 234.5 301.6 230.0 299.0 227.6 297.1 224.0 297.5 220.0 298.5 218.0 300.8 216.0 313.0 211.1 317.0 208.6 324.6 198.0 325.4 196.0 324.3 192.0 321.0 186.2 309.4 170.0 309.1 168.0 309.7 166.0 311.6 164.0 317.0 160.9 329.0 156.7 341.0 150.8 349.0 147.6 357.0 141.5 375.0 137.0 384.0 132.0 392.7 122.0 397.0 115.0 401.1 110.0 403.0 104.1 403.9 96.0 405.0 94.0 407.0 92.8 423.0 90.7 435.0 93.0 447.0 97.9 451.0 98.3 453.0 97.6 456.2 94.0 464.2 78.0 468.7 64.0 468.0 56.0z"/>
<path fill="#efff10" d="M471.0 56.0 675.0 56.0 675.0 564.0 125.0 564.0 125.0 343.0 133.0 343.0 136.9 344.0 139.0 351.1 141.0 351.9 144.6 348.0 149.0 341.6 151.7 340.0 157.0 339.1 159.6 338.0 161.0 336.7 162.2 334.0 164.2 324.0 171.0 315.4 177.5 304.0 189.0 294.8 197.3 292.0 203.6 288.0 211.0 285.1 215.0 282.2 219.2 278.0 221.0 274.9 224.5 266.0 227.0 262.2 229.0 260.9 239.0 260.9 259.0 263.5 269.0 261.5 273.0 263.2 283.0 269.8 289.0 270.4 293.0 269.2 301.0 262.5 308.3 258.0 312.1 254.0 313.6 250.0 311.7 238.0 310.8 236.0 309.0 234.2 302.0 230.0 299.0 227.2 297.4 224.0 297.8 220.0 298.8 218.0 301.0 216.2 313.0 211.4 317.0 208.9 324.9 198.0 325.7 196.0 325.5 194.0 321.0 185.8 309.9 170.0 309.6 168.0 310.3 166.0 312.3 164.0 317.0 161.3 327.2 158.0 349.0 148.5 357.0 142.4 365.0 140.1 376.1 138.0 383.0 134.7 387.0 132.0 389.0 129.9 397.0 117.5 403.0 110.2 404.8 98.0 405.3 96.0 407.0 93.9 419.0 91.7 423.0 91.6 433.0 93.6 449.0 100.0 452.9 100.0 455.0 99.1 457.7 96.0 465.9 80.0 470.4 64.0 470.7 60.0 470.1 56.0z"/>
<path fill="#f6ff0a" d="M473.0 56.0 675.0 56.0 675.0 564.0 125.0 564.0 125.0 349.9 129.0 350.7 130.7 354.0 134.9 358.0 137.0 358.5 139.5 358.0 145.0 350.4 148.5 348.0 150.1 344.0 152.0 342.0 159.0 339.9 161.3 338.0 163.0 334.4 165.5 324.0 171.0 317.1 178.1 304.0 189.0 295.2 198.2 292.0 204.3 288.0 211.0 285.5 215.0 282.6 219.5 278.0 221.7 274.0 224.8 266.0 227.0 262.6 229.0 261.2 233.0 260.8 239.0 261.2 259.0 263.7 269.0 261.9 273.0 263.4 283.0 270.0 289.0 270.6 293.0 269.4 301.0 262.6 308.5 258.0 312.3 254.0 313.8 250.0 311.9 238.0 311.0 235.9 309.1 234.0 302.5 230.0 299.0 226.8 297.7 224.0 298.1 220.0 299.2 218.0 301.0 216.5 313.0 211.6 317.0 209.2 326.0 196.0 325.8 194.0 321.0 185.3 310.5 170.0 310.1 168.0 310.9 166.0 313.0 164.0 317.0 161.8 328.8 158.0 349.0 149.3 357.0 143.3 365.0 141.1 377.0 139.0 388.5 134.0 391.0 132.3 393.4 126.0 395.7 122.0 403.0 112.9 404.0 110.0 405.6 98.0 407.0 95.3 409.0 94.1 419.0 92.5 423.0 92.4 435.0 95.4 449.0 101.5 453.0 102.1 457.0 101.1 459.0 99.0 462.4 92.0 467.2 84.0 469.5 72.0 472.8 62.0 472.9 56.0z"/>
<path fill="#fcff03" d="M477.0 56.0 675.0 56.0 675.0 564.0 125.0 564.0 125.0 356.4 129.0 356.7 137.0 359.9 139.0 360.0 141.0 358.5 145.0 352.8 147.0 351.8 153.0 354.4 153.5 352.0 153.3 346.0 154.0 344.0 161.0 340.2 162.6 338.0 165.9 326.0 171.5 318.0 178.8 304.0 189.0 295.6 199.0 292.0 205.0 288.0 211.0 285.8 215.0 283.1 219.9 278.0 225.1 266.0 227.0 263.0 229.0 261.5 237.0 261.2 259.0 264.0 269.0 262.2 273.0 263.7 282.5 270.0 289.0 270.8 293.0 269.6 301.0 262.8 308.6 258.0 312.4 254.0 314.0 250.0 312.2 238.0 311.3 236.0 309.4 234.0 302.9 230.0 299.0 226.4 297.9 224.0 298.4 220.0 299.5 218.0 302.4 216.0 313.0 211.9 317.0 209.5 326.3 196.0 326.2 194.0 321.0 184.8 311.0 170.0 310.7 168.0 311.5 166.0 317.0 162.2 329.0 158.5 349.0 150.1 357.0 144.2 359.0 143.4 377.0 140.4 387.0 137.1 393.4 136.0 394.6 134.0 394.1 130.0 395.0 126.0 397.3 122.0 403.5 114.0 404.9 110.0 405.5 102.0 406.4 98.0 409.0 95.1 419.0 93.2 423.0 93.1 435.0 96.4 451.0 103.7 455.0 104.4 459.0 103.8 461.1 102.0 464.4 94.0 469.0 86.5 471.4 70.0 475.1 62.0 476.2 56.0z"/>
<path fill="#fffd00" d="M479.0 56.0 675.0 56.0 675.0 564.0 125.0 564.0 125.0 357.5 131.0 358.4 139.0 361.0 141.0 360.2 145.0 355.0 147.0 354.1 149.8 356.0 155.0 362.3 157.0 362.8 159.2 362.0 160.3 360.0 160.4 358.0 157.0 350.6 156.6 346.0 163.0 339.7 167.0 326.3 173.0 317.4 177.9 306.0 181.6 302.0 189.0 296.0 199.0 292.5 205.0 288.4 211.4 286.0 215.0 283.5 220.2 278.0 225.4 266.0 227.0 263.4 229.0 261.8 231.0 261.3 237.0 261.4 259.0 264.3 269.0 262.5 273.0 264.0 282.0 270.0 285.0 270.8 289.0 270.9 293.0 269.8 301.0 262.9 308.8 258.0 312.6 254.0 314.2 250.0 312.9 240.0 311.5 236.0 309.8 234.0 303.0 229.8 299.0 226.0 298.2 224.0 298.7 220.0 299.9 218.0 302.9 216.0 313.0 212.2 317.0 209.9 326.6 196.0 326.5 194.0 325.5 192.0 319.0 181.0 311.6 170.0 311.2 168.0 312.2 166.0 317.0 162.7 329.0 159.0 349.0 150.9 359.0 144.3 367.0 142.7 377.0 141.7 385.0 139.7 393.0 139.2 395.0 138.4 396.8 136.0 395.5 130.0 396.2 126.0 403.0 116.7 405.0 112.8 406.4 100.0 407.2 98.0 409.0 96.0 421.0 93.7 425.0 94.4 435.0 97.4 452.5 106.0 459.0 110.0 461.0 110.1 463.0 108.7 467.1 104.0 471.0 87.3 472.1 72.0 473.5 68.0 478.2 60.0 478.8 56.0z"/>
<path fill="#fff800" d="M481.0 56.2 675.0 56.0 675.0 564.0 125.0 564.0 125.0 358.3 129.0 358.7 139.0 362.0 141.0 361.6 145.0 356.9 147.0 356.2 149.0 357.5 153.0 362.9 155.0 364.3 159.0 364.3 161.0 362.9 163.0 360.0 163.7 354.0 163.4 350.0 161.7 346.0 164.3 340.0 167.5 328.0 173.0 319.3 178.5 306.0 181.0 303.1 189.0 296.5 199.0 292.9 205.0 288.8 212.1 286.0 215.0 283.9 221.0 277.4 225.7 266.0 229.0 262.0 231.0 261.5 237.0 261.6 259.0 264.6 269.0 262.8 273.0 264.3 281.5 270.0 285.0 271.0 289.0 271.1 293.0 270.0 301.0 263.0 309.0 258.0 312.8 254.0 314.3 250.0 313.0 239.5 311.8 236.0 310.1 234.0 303.0 229.5 299.3 226.0 298.5 224.0 298.9 220.0 300.3 218.0 303.0 216.2 313.0 212.5 317.0 210.2 326.9 196.0 326.8 194.0 325.8 192.0 312.2 170.0 311.8 168.0 312.9 166.0 315.4 164.0 319.0 162.3 327.9 160.0 349.0 151.6 359.0 145.3 367.0 143.7 391.0 141.7 395.0 140.5 397.0 138.7 398.3 136.0 396.6 130.0 397.2 126.0 405.0 114.8 406.1 110.0 407.0 100.0 409.0 97.0 411.0 96.2 421.0 94.3 435.0 98.3 445.0 103.4 452.4 108.0 459.6 118.0 463.0 119.2 466.2 118.0 472.5 110.0 472.0 94.0 473.2 72.0 474.8 68.0 479.3 62.0 480.7 58.0zM493.2 120.0 489.0 121.2 477.0 121.6 475.7 122.0 477.4 124.0 491.0 126.6 497.0 126.9 501.0 126.4 504.6 124.0 505.4 122.0 505.0 120.0 501.0 118.3 495.0 119.5z"/>
<path fill="#fff300" d="M483.0 56.0 675.0 56.0 675.0 564.0 125.0 564.0 125.0 358.9 129.0 359.3 139.0 362.8 141.0 362.9 145.0 358.8 147.0 358.2 149.0 359.7 152.3 364.0 155.0 365.6 159.0 365.6 161.6 364.0 163.5 362.0 165.2 358.0 166.6 350.0 165.5 342.0 167.3 332.0 169.0 327.6 173.0 321.3 179.1 306.0 181.0 303.6 189.0 297.0 199.0 293.3 205.0 289.2 211.0 286.9 215.0 284.5 221.0 277.9 226.0 266.0 229.0 262.4 231.0 261.7 237.0 261.9 259.0 264.9 269.0 263.2 273.0 264.5 281.0 270.0 285.0 271.2 289.0 271.3 293.0 270.1 301.0 263.1 309.2 258.0 313.0 254.0 314.5 250.0 312.8 238.0 310.4 234.0 303.0 229.2 299.7 226.0 298.8 224.0 299.0 220.7 300.6 218.0 303.0 216.5 313.0 212.8 317.0 210.5 327.2 196.0 327.1 194.0 326.1 192.0 312.7 170.0 312.5 168.0 313.6 166.0 319.0 162.8 329.0 160.2 349.0 152.4 359.0 146.3 369.0 144.6 391.0 143.8 395.0 142.4 397.0 140.7 399.0 137.6 399.2 134.0 397.5 130.0 397.5 128.0 398.1 126.0 404.0 118.0 406.0 114.0 406.7 110.0 407.1 102.0 409.0 97.9 411.0 97.0 421.0 94.9 435.0 99.2 444.2 104.0 451.0 108.6 453.8 112.0 457.0 118.0 459.0 120.4 461.0 121.7 471.8 126.0 489.0 129.3 495.0 129.8 501.0 129.4 504.7 128.0 507.7 126.0 509.1 124.0 509.5 122.0 509.1 120.0 507.2 118.0 501.0 116.6 489.0 118.2 483.0 117.6 479.0 115.4 475.9 110.0 474.0 104.0 473.7 100.0 473.8 74.0 475.0 69.7 481.0 62.0 482.6 58.0z"/>
<path fill="#ffef00" d="M485.0 56.0 675.0 56.0 675.0 564.0 125.0 564.0 125.0 359.5 131.0 360.4 141.0 364.2 145.0 360.6 147.0 360.1 153.0 366.0 155.0 366.7 159.0 366.5 163.1 364.0 166.0 360.0 169.0 348.0 169.0 345.8 167.4 340.0 168.4 332.0 174.5 320.0 179.7 306.0 181.2 304.0 189.0 297.4 199.0 293.8 205.0 289.6 213.0 286.4 215.0 285.0 221.3 278.0 225.2 268.0 227.0 264.8 229.0 262.7 231.0 262.0 236.0 262.0 259.0 265.2 269.0 263.5 273.0 264.8 281.0 270.2 285.0 271.4 289.0 271.5 293.0 270.3 301.0 263.3 309.4 258.0 313.2 254.0 314.7 250.0 313.0 238.0 310.7 234.0 301.0 227.2 299.0 224.0 299.0 221.7 301.0 218.0 303.0 216.7 313.0 213.1 317.0 210.8 327.5 196.0 327.5 194.0 326.5 192.0 313.3 170.0 313.1 168.0 314.3 166.0 319.0 163.2 327.0 161.4 349.0 153.1 357.0 148.3 361.0 146.9 371.0 145.6 389.0 146.0 395.0 144.1 397.4 142.0 399.8 138.0 400.1 134.0 398.3 130.0 398.2 128.0 400.2 124.0 405.9 116.0 407.1 112.0 407.6 102.0 409.0 98.9 410.3 98.0 421.0 95.5 435.0 100.1 443.0 104.4 450.8 110.0 453.8 114.0 457.0 120.1 459.0 122.4 463.0 124.7 471.0 127.6 491.0 131.7 497.0 132.1 503.0 131.2 511.0 127.0 512.1 126.0 512.7 124.0 511.9 120.0 510.5 118.0 507.0 116.4 503.0 115.6 491.0 116.7 485.0 116.2 480.9 114.0 477.8 110.0 475.9 106.0 474.9 100.0 474.3 88.0 474.6 74.0 477.0 68.1 482.6 62.0 484.6 56.0z"/>
<path fill="#ffea00" d="M487.0 56.0 675.0 56.0 675.0 564.0 125.0 564.0 125.0 360.1 131.0 360.9 137.0 363.3 141.0 365.7 143.0 364.7 145.0 362.5 147.0 362.1 151.2 366.0 155.0 367.6 159.0 367.4 164.2 364.0 167.2 360.0 170.8 348.0 170.9 344.0 168.8 338.0 169.5 332.0 175.0 320.9 180.3 306.0 181.8 304.0 189.0 297.9 199.0 294.2 205.0 290.0 213.0 286.9 215.0 285.5 221.6 278.0 225.6 268.0 229.0 263.1 231.0 262.3 235.0 262.2 259.0 265.5 269.0 263.8 273.0 265.1 281.0 270.4 285.0 271.6 289.0 271.7 293.0 270.5 301.0 263.4 309.6 258.0 313.4 254.0 314.9 250.0 313.2 238.0 311.0 233.9 301.0 226.8 299.3 224.0 299.2 222.0 301.0 218.4 303.0 217.0 313.0 213.3 317.0 211.2 327.8 196.0 327.8 194.0 326.8 192.0 324.0 188.0 320.1 180.0 314.0 170.0 313.8 168.0 315.0 166.0 319.0 163.7 327.0 161.9 349.0 153.9 357.0 149.4 361.0 148.0 371.0 146.7 389.0 147.9 395.0 145.7 399.0 141.6 400.7 138.0 401.0 134.0 399.1 130.0 399.0 128.0 399.7 126.0 406.5 116.0 407.6 112.0 408.1 102.0 409.0 99.9 411.0 98.4 421.0 96.1 423.0 96.4 437.0 102.0 445.0 106.7 451.0 111.6 457.0 122.0 459.0 124.2 463.0 126.4 469.0 128.6 491.0 133.5 499.0 134.1 505.0 132.8 515.0 128.0 516.2 126.0 516.0 124.0 512.9 118.0 511.0 116.6 503.0 114.7 491.0 115.5 485.0 114.9 480.9 112.0 477.1 106.0 476.0 102.0 475.1 88.0 475.4 74.0 476.8 70.0 478.2 68.0 484.2 62.0 486.0 56.0z"/>
<path fill="#ffe500" d="M487.0 57.5 487.2 56.0 675.0 56.0 675.0 564.0 125.0 564.0 125.0 360.6 129.0 360.9 135.0 362.9 137.2 364.0 141.0 367.7 143.0 366.7 145.0 364.5 147.0 364.0 152.7 368.0 157.0 368.5 161.0 367.2 165.3 364.0 168.4 360.0 172.7 346.0 172.6 344.0 170.4 338.0 170.7 332.0 175.0 322.8 180.9 306.0 182.5 304.0 189.6 298.0 199.0 294.6 205.6 290.0 215.0 286.0 222.0 278.0 225.9 268.0 229.0 263.4 231.0 262.5 235.0 262.4 259.0 265.8 269.0 264.1 273.0 265.4 281.0 270.6 285.0 271.8 289.0 271.8 293.0 270.7 301.0 263.5 309.8 258.0 313.6 254.0 315.1 250.0 313.4 238.0 311.0 233.7 301.0 226.5 299.6 224.0 299.5 222.0 301.0 218.8 303.0 217.3 313.0 213.6 317.0 211.5 328.2 196.0 328.2 194.0 327.1 192.0 324.2 188.0 320.6 180.0 314.6 170.0 314.4 168.0 315.0 167.0 319.0 164.1 331.0 161.1 350.6 154.0 361.0 149.1 371.0 147.9 389.0 149.7 391.0 149.3 395.0 147.2 399.0 143.3 401.0 139.5 401.9 136.0 401.7 134.0 399.8 130.0 399.6 128.0 400.3 126.0 405.0 119.9 407.2 116.0 408.2 112.0 408.6 102.0 411.0 99.1 421.0 96.7 435.2 102.0 443.0 106.5 450.1 112.0 453.0 115.9 457.0 123.6 459.0 125.7 463.3 128.0 469.0 129.9 491.0 135.0 499.0 135.9 505.0 135.0 517.3 130.0 519.2 128.0 519.8 126.0 519.5 124.0 515.0 118.0 512.5 116.0 503.0 113.9 491.0 114.6 487.0 114.3 482.5 112.0 478.1 106.0 476.7 100.0 475.8 88.0 476.1 74.0 477.0 71.4 479.0 68.3 485.7 62.0 486.9 58.0z"/>
<path fill="#ffe000" d="M489.0 56.0 675.0 56.0 675.0 564.0 125.0 564.0 125.0 361.0 129.0 361.4 136.1 364.0 138.4 366.0 141.0 370.4 145.0 366.5 147.0 365.9 153.0 369.0 159.0 368.9 166.4 364.0 169.5 360.0 174.0 346.0 173.6 342.0 171.4 336.0 171.7 332.0 176.0 322.0 181.5 306.0 185.3 302.0 190.4 298.0 199.0 295.0 207.0 289.6 215.0 286.7 222.3 278.0 226.2 268.0 229.0 263.7 231.0 262.8 235.0 262.6 259.0 266.1 269.0 264.5 273.0 265.6 281.0 270.9 285.0 271.9 289.0 272.0 293.0 270.9 300.5 264.0 310.0 258.0 313.8 254.0 315.2 250.0 313.6 238.0 312.9 236.0 311.0 233.4 301.0 226.1 299.9 224.0 299.8 222.0 300.4 220.0 303.0 217.5 313.0 213.9 317.0 211.8 328.5 196.0 328.5 194.0 323.4 186.0 321.0 179.8 315.2 170.0 315.1 168.0 316.5 166.0 319.0 164.6 329.0 162.3 351.0 154.6 361.0 150.3 371.0 149.1 389.0 151.4 393.0 150.1 395.0 148.7 399.0 144.8 401.6 140.0 402.6 136.0 400.3 128.0 401.0 126.0 405.6 120.0 407.7 116.0 408.7 112.0 408.7 104.0 409.2 102.0 411.0 99.8 421.0 97.3 437.0 103.9 447.0 110.4 450.9 114.0 457.8 126.0 461.0 128.2 467.0 130.6 491.0 136.4 499.0 137.5 505.0 137.0 515.0 134.1 519.1 132.0 522.1 128.0 522.3 124.0 521.0 121.7 514.7 116.0 511.0 114.5 505.0 113.4 491.0 113.8 487.0 113.4 484.1 112.0 481.9 110.0 478.3 104.0 476.4 86.0 476.9 74.0 479.0 69.6 487.3 62.0 488.4 56.0z"/>
<path fill="#ffdc00" d="M491.0 56.0 675.0 56.0 675.0 564.0 125.0 564.0 125.0 361.5 129.0 361.9 135.1 364.0 137.6 366.0 141.0 373.3 145.0 368.6 147.0 367.8 153.0 369.9 157.0 370.0 161.0 368.7 167.4 364.0 170.6 360.0 174.7 348.0 175.3 344.0 172.6 336.0 172.7 332.0 176.8 322.0 182.1 306.0 185.9 302.0 191.0 298.1 199.0 295.4 207.0 290.0 215.0 287.3 222.7 278.0 226.5 268.0 229.1 264.0 231.0 263.1 235.0 262.9 259.0 266.4 269.0 264.8 271.0 265.1 281.0 271.1 285.0 272.1 289.0 272.2 293.0 271.1 300.7 264.0 310.2 258.0 313.9 254.0 315.4 250.0 313.8 238.0 311.9 234.0 301.3 226.0 300.2 224.0 300.1 222.0 300.7 220.0 303.0 217.8 313.0 214.2 317.2 212.0 328.8 196.0 328.9 194.0 323.7 186.0 321.0 178.8 315.9 170.0 315.8 168.0 317.4 166.0 319.0 165.2 329.0 162.9 361.0 151.5 371.0 150.4 389.0 152.8 392.0 152.0 395.0 150.1 399.2 146.0 402.3 140.0 403.3 136.0 403.0 134.0 401.1 130.0 400.9 128.0 401.7 126.0 406.2 120.0 408.3 116.0 409.2 112.0 409.2 104.0 411.0 100.6 417.0 98.5 421.0 97.8 435.6 104.0 449.0 113.1 451.5 116.0 456.6 126.0 458.6 128.0 467.0 131.7 492.1 138.0 501.0 139.1 505.0 138.9 515.0 136.7 519.0 135.1 521.0 133.6 523.7 130.0 524.5 124.0 523.0 120.7 519.6 118.0 513.0 114.2 509.0 113.3 503.0 112.6 491.0 113.1 487.0 112.5 483.0 109.9 479.3 104.0 478.3 100.0 477.0 86.0 477.6 74.0 479.0 70.9 481.0 68.5 489.0 62.0 489.6 56.0zM510.1 64.0 513.1 64.0 511.0 63.3z"/>
<path fill="#ffd700" d="M491.0 56.0 675.0 56.0 675.0 564.0 125.0 564.0 125.0 362.0 133.0 363.7 136.8 366.0 137.9 368.0 139.0 372.9 141.0 375.9 145.0 370.6 147.0 369.5 155.0 370.8 159.0 370.4 168.5 364.0 171.6 360.0 175.8 348.0 176.4 344.0 173.7 336.0 173.6 332.0 182.7 306.0 186.5 302.0 191.0 298.6 201.0 294.9 207.0 290.5 214.8 288.0 217.0 286.1 223.0 278.0 226.8 268.0 229.7 264.0 233.0 263.1 237.0 263.3 259.0 266.7 269.0 265.1 271.0 265.4 281.0 271.3 285.0 272.3 289.0 272.4 293.0 271.2 300.9 264.0 310.4 258.0 314.1 254.0 315.6 250.0 313.9 238.0 312.1 234.0 301.6 226.0 300.5 224.0 300.4 222.0 301.0 220.0 303.1 218.0 314.2 214.0 317.6 212.0 329.2 196.0 329.0 193.4 324.0 186.0 321.1 178.0 316.5 170.0 316.5 168.0 319.0 165.7 329.0 163.4 363.0 152.3 371.0 151.7 389.0 154.1 394.2 152.0 399.0 147.6 402.3 142.0 403.8 136.0 401.5 128.0 408.9 116.0 409.8 112.0 409.8 104.0 411.0 101.4 413.0 100.2 421.0 98.4 433.0 103.5 437.3 106.0 447.0 112.6 450.7 116.0 457.0 127.9 459.8 130.0 465.0 132.3 489.0 138.5 499.0 140.3 505.0 140.4 515.0 139.1 519.0 138.0 521.0 136.7 523.8 134.0 525.9 130.0 526.4 124.0 525.0 119.9 522.6 118.0 515.0 114.0 511.0 113.0 503.0 111.9 491.0 112.3 487.0 111.6 483.0 108.6 480.2 104.0 479.1 100.0 477.7 88.0 477.9 76.0 479.0 72.4 481.0 69.6 489.0 64.0 491.0 62.0 491.0 56.0zM505.2 62.0 506.2 64.0 509.0 65.8 511.0 66.4 513.5 66.0 517.0 64.0 517.1 62.0 513.0 60.9 507.0 61.2z"/>
<path fill="#ffd200" d="M495.0 56.0 675.0 56.0 675.0 564.0 125.0 564.0 125.0 362.5 131.0 363.5 135.9 366.0 137.1 368.0 139.0 376.2 141.0 378.4 145.0 372.5 147.0 371.1 157.0 371.6 159.0 371.2 169.5 364.0 172.7 360.0 176.9 348.0 177.4 344.0 174.7 336.0 174.5 332.0 183.3 306.0 187.1 302.0 191.0 299.1 199.6 296.0 207.0 290.9 215.0 288.5 217.0 287.0 223.3 278.0 227.1 268.0 229.0 264.9 230.3 264.0 233.0 263.3 237.0 263.6 257.0 267.0 271.0 265.7 281.0 271.5 285.0 272.5 289.0 272.6 293.0 271.4 301.0 264.0 310.6 258.0 314.3 254.0 315.8 250.0 314.1 238.0 312.4 234.0 302.0 226.0 300.8 224.0 300.6 222.0 301.4 220.0 303.7 218.0 314.9 214.0 317.9 212.0 329.5 196.0 329.6 194.0 324.3 186.0 321.6 178.0 317.2 170.0 317.2 168.0 319.6 166.0 327.0 164.5 345.0 158.6 363.0 153.5 369.0 152.9 389.0 155.0 393.0 154.0 395.0 152.7 401.0 146.4 403.0 142.3 404.4 136.0 402.2 128.0 409.5 116.0 410.3 112.0 410.3 104.0 411.3 102.0 413.0 100.9 421.0 99.0 435.7 106.0 449.7 116.0 452.3 120.0 455.0 126.5 457.0 129.2 461.0 131.8 465.0 133.4 490.5 140.0 501.0 141.7 517.0 140.8 520.1 140.0 523.2 138.0 526.5 134.0 528.2 128.0 528.2 122.0 527.5 120.0 525.6 118.0 517.1 114.0 511.0 112.3 503.0 111.3 489.0 111.3 485.0 109.4 481.0 103.7 479.9 100.0 478.3 88.0 478.5 76.0 480.1 72.0 483.0 68.9 495.0 62.0 493.2 58.0 493.3 56.0zM503.1 60.0 500.6 62.0 509.0 67.1 513.0 67.4 516.4 66.0 519.2 64.0 519.9 62.0 519.0 61.0 513.0 59.2 505.0 59.4z"/>
<path fill="#ffce00" d="M517.0 56.0 675.0 56.0 675.0 564.0 125.0 564.0 125.0 363.1 131.0 364.0 135.1 366.0 136.3 368.0 139.0 379.9 141.0 381.0 145.0 374.1 147.0 372.4 159.0 372.0 170.6 364.0 173.7 360.0 177.8 348.0 178.1 342.0 175.7 336.0 175.4 332.0 182.1 310.0 183.9 306.0 187.7 302.0 191.0 299.5 201.0 295.8 209.0 290.4 215.0 289.1 217.0 287.8 223.7 278.0 228.5 266.0 230.9 264.0 237.0 263.8 257.0 267.3 271.0 266.0 281.0 271.7 285.0 272.7 289.0 272.7 293.0 271.6 301.0 264.2 310.8 258.0 314.5 254.0 316.0 250.0 314.3 238.0 312.7 234.0 302.3 226.0 301.1 224.0 300.9 222.0 301.8 220.0 304.2 218.0 315.0 214.3 318.3 212.0 324.9 202.0 329.9 196.0 330.0 194.0 329.1 192.0 324.5 186.0 322.2 178.0 317.9 170.0 318.1 168.0 321.0 166.1 327.0 165.0 349.0 158.0 363.0 154.9 369.0 154.3 389.0 156.0 393.0 155.0 395.0 153.8 400.9 148.0 403.1 144.0 405.0 136.0 402.8 128.0 410.0 116.0 410.8 112.0 410.9 104.0 413.0 101.6 417.3 100.0 421.0 99.5 434.1 106.0 449.0 116.2 451.0 118.7 455.0 128.0 456.6 130.0 459.0 131.9 463.7 134.0 487.0 140.3 501.0 142.7 519.0 142.2 524.4 140.0 527.9 136.0 530.2 128.0 530.4 122.0 529.7 120.0 528.1 118.0 524.5 116.0 513.0 112.0 503.0 110.7 491.0 110.9 487.0 109.8 483.2 106.0 481.3 102.0 478.8 88.0 479.2 76.0 481.0 72.0 483.0 70.0 493.0 64.6 499.0 63.8 503.0 64.7 509.0 68.3 511.0 68.7 515.0 67.8 521.0 64.0 522.0 62.0 521.0 59.8 517.9 58.0 516.4 56.0z"/>
<path fill="#ffc900" d="M525.0 56.0 675.0 56.0 675.0 564.0 125.0 564.0 125.0 363.7 129.0 364.1 133.0 365.6 135.0 367.2 136.1 370.0 139.0 385.3 141.0 384.0 144.7 376.0 147.0 373.6 151.0 372.8 159.0 373.3 171.6 364.0 175.0 359.2 178.8 348.0 179.1 342.0 176.7 336.0 176.3 332.0 182.1 312.0 184.5 306.0 191.0 300.0 201.4 296.0 209.0 290.9 215.0 289.8 217.0 288.6 224.0 278.0 228.8 266.0 231.0 264.3 237.0 264.1 257.0 267.6 271.0 266.3 281.0 271.9 285.0 272.9 289.0 272.9 293.0 271.8 301.0 264.3 311.0 258.0 314.7 254.0 316.2 250.0 314.5 238.0 312.9 234.0 302.7 226.0 301.5 224.0 301.3 222.0 302.1 220.0 304.7 218.0 315.0 214.6 318.7 212.0 325.2 202.0 330.2 196.0 330.4 194.0 329.5 192.0 324.8 186.0 322.7 178.0 318.6 170.0 318.9 168.0 321.0 166.8 327.0 165.6 353.0 157.8 367.0 155.7 389.0 156.7 392.8 156.0 395.0 154.8 401.0 149.1 403.8 144.0 405.6 136.0 403.4 128.0 410.6 116.0 411.4 112.0 411.7 104.0 413.5 102.0 419.0 100.2 421.0 100.2 435.6 108.0 449.0 117.2 451.0 120.0 455.5 130.0 459.0 133.0 463.0 134.8 487.0 141.3 501.0 143.7 519.0 143.5 524.8 142.0 527.0 140.6 529.2 138.0 531.9 130.0 534.6 124.0 532.3 120.0 530.5 118.0 527.2 116.0 515.0 111.8 503.0 110.2 491.0 110.2 487.0 108.8 484.3 106.0 482.2 102.0 480.6 96.0 479.3 86.0 479.9 76.0 482.1 72.0 485.0 69.6 493.0 65.9 499.0 64.9 503.0 65.8 509.0 69.3 513.0 69.4 517.0 67.7 522.5 64.0 523.8 62.0 523.0 58.0 523.6 56.0z"/>
<path fill="#ffc400" d="M527.0 56.0 675.0 56.0 675.0 564.0 125.0 564.0 125.0 364.4 132.2 366.0 134.5 368.0 136.5 376.0 137.2 384.0 139.0 388.1 141.0 386.7 144.4 378.0 147.0 374.7 149.0 373.8 153.0 373.4 159.0 374.7 172.7 364.0 175.6 360.0 179.8 348.0 180.0 342.0 177.8 336.0 177.1 332.0 182.0 314.0 185.2 306.0 188.9 302.0 191.8 300.0 202.2 296.0 209.0 291.3 215.0 290.4 217.0 289.4 219.0 287.2 224.3 278.0 228.0 268.0 229.2 266.0 231.0 264.6 233.0 264.1 237.0 264.4 257.0 267.9 271.0 266.6 281.0 272.2 285.0 273.1 289.0 273.1 293.0 272.0 301.0 264.4 311.2 258.0 314.9 254.0 316.3 250.0 314.7 238.0 313.0 233.8 303.0 226.0 301.8 224.0 301.6 222.0 302.5 220.0 305.0 218.2 315.0 214.9 319.0 212.1 325.5 202.0 330.6 196.0 330.7 194.0 329.9 192.0 325.1 186.0 323.2 178.0 319.4 170.0 320.1 168.0 345.0 160.4 353.0 158.6 367.0 157.3 389.0 157.4 395.0 155.8 401.0 150.4 404.5 144.0 406.1 136.0 404.1 128.0 410.3 118.0 411.7 114.0 412.5 104.0 414.9 102.0 419.0 100.8 423.0 101.6 433.0 107.3 447.0 116.7 450.2 120.0 455.0 130.7 458.8 134.0 463.0 135.8 485.9 142.0 501.0 144.5 519.0 144.6 523.0 144.0 528.2 142.0 531.0 138.6 533.3 132.0 535.0 129.2 542.6 126.0 544.8 124.0 537.0 120.6 529.6 116.0 517.0 111.6 505.0 109.8 491.0 109.5 487.4 108.0 484.1 104.0 482.3 100.0 480.2 90.0 479.7 84.0 480.6 76.0 483.0 72.2 485.0 70.6 493.0 66.8 499.0 65.9 503.0 66.7 509.0 70.3 513.0 70.3 519.0 67.5 523.9 64.0 525.4 62.0 526.1 56.0z"/>
<path fill="#ffbf00" d="M529.0 56.0 675.0 56.0 675.0 564.0 125.0 564.0 125.0 365.5 129.4 366.0 133.2 368.0 135.3 374.0 136.3 384.0 139.0 390.6 141.0 389.1 144.2 380.0 147.0 375.7 149.0 374.6 153.0 374.0 155.0 374.4 159.0 376.6 163.1 372.0 173.6 364.0 177.0 358.9 180.7 348.0 181.0 342.7 178.3 334.0 178.4 330.0 181.9 316.0 185.8 306.0 189.5 302.0 192.7 300.0 203.0 296.0 209.0 291.8 215.0 291.0 217.3 290.0 219.3 288.0 225.0 277.4 228.3 268.0 231.0 265.0 233.0 264.4 237.0 264.7 257.0 268.2 271.0 266.9 281.0 272.4 285.0 273.2 289.0 273.3 293.0 272.2 301.0 264.6 311.5 258.0 315.1 254.0 316.5 250.0 314.9 238.0 313.0 233.5 303.4 226.0 302.1 224.0 301.9 222.0 302.9 220.0 305.0 218.5 315.0 215.2 319.0 212.5 325.8 202.0 330.9 196.0 331.1 194.0 330.3 192.0 325.5 186.0 323.8 178.0 320.7 172.0 320.2 170.0 321.0 168.5 351.0 159.7 373.0 158.9 381.0 157.8 390.2 158.0 396.1 156.0 401.0 151.6 405.0 144.6 406.6 136.0 404.7 128.0 411.8 116.0 412.6 112.0 412.7 106.0 413.4 104.0 415.0 102.9 419.0 101.5 422.2 102.0 432.4 108.0 439.0 112.9 447.0 117.7 449.0 119.4 450.5 122.0 453.0 128.6 455.0 132.1 457.0 134.0 463.0 136.8 487.0 143.1 503.0 145.5 521.0 145.3 527.1 144.0 530.6 142.0 532.1 140.0 535.0 132.8 537.0 130.5 548.3 126.0 549.2 124.0 547.6 122.0 526.8 114.0 517.0 110.9 503.0 109.0 493.0 109.1 489.0 108.1 485.1 104.0 483.0 99.7 480.8 90.0 480.3 84.0 481.3 76.0 483.0 73.4 487.0 70.4 493.0 67.8 499.0 66.7 503.0 67.5 509.0 71.2 513.0 71.2 519.7 68.0 525.2 64.0 526.8 62.0 528.3 56.0z"/>
<path fill="#ffba00" d="M531.0 56.0 675.0 56.0 675.0 564.0 125.0 564.0 125.0 367.0 130.0 368.0 133.0 370.6 135.0 377.2 135.4 384.0 139.0 393.8 141.0 391.6 145.0 379.7 147.8 376.0 151.0 374.7 153.0 374.6 156.5 376.0 159.0 378.2 161.0 377.1 162.4 374.0 164.1 372.0 174.6 364.0 177.4 360.0 179.0 356.0 181.9 346.0 181.7 342.0 179.4 334.0 179.2 330.0 182.4 316.0 186.4 306.0 190.2 302.0 193.0 300.3 203.0 296.4 209.0 292.3 215.0 291.6 218.3 290.0 220.0 288.0 226.0 276.0 228.7 268.0 231.0 265.3 233.0 264.8 237.0 265.0 257.0 268.6 271.0 267.2 281.0 272.6 285.0 273.4 289.0 273.5 293.0 272.3 301.0 264.7 311.7 258.0 315.3 254.0 316.7 250.0 315.0 238.0 313.0 233.1 303.8 226.0 302.5 224.0 302.3 222.0 303.3 220.0 305.0 218.8 315.0 215.5 319.0 212.9 326.0 202.0 331.3 196.0 331.5 194.0 330.7 192.0 325.8 186.0 324.3 178.0 321.5 172.0 321.1 170.0 323.6 168.0 349.0 160.8 355.0 160.3 363.0 160.9 371.0 160.4 381.0 158.5 391.0 158.5 393.5 158.0 397.4 156.0 401.7 152.0 405.2 146.0 407.2 136.0 405.4 128.0 412.4 116.0 413.3 112.0 413.6 106.0 415.0 103.8 419.0 102.2 421.0 102.4 430.8 108.0 438.8 114.0 447.0 118.8 449.7 122.0 452.9 130.0 455.0 133.3 458.6 136.0 463.0 137.8 487.0 143.9 503.0 146.2 521.0 146.2 527.0 145.0 531.0 143.2 533.9 140.0 536.5 134.0 538.2 132.0 541.9 130.0 548.0 128.0 550.8 126.0 551.4 124.0 550.4 122.0 547.8 120.0 545.0 118.8 517.0 110.2 503.0 108.5 493.0 108.4 489.0 107.1 486.1 104.0 483.2 98.0 481.4 90.0 480.9 84.0 481.0 80.0 482.2 76.0 483.6 74.0 487.0 71.4 493.0 68.6 499.0 67.5 503.0 68.4 509.0 72.2 513.0 72.0 521.0 68.1 526.4 64.0 528.1 62.0 530.4 56.0z"/>
<path fill="#ffb600" d="M533.0 56.0 675.0 56.0 675.0 564.0 125.0 564.0 125.0 420.9 129.0 420.3 131.0 418.6 133.0 412.4 135.0 409.5 137.0 409.6 141.0 414.8 143.0 415.3 147.0 412.7 149.0 410.0 149.5 408.0 149.0 406.4 147.0 405.7 143.0 405.4 141.0 402.9 140.4 400.0 140.6 396.0 144.8 382.0 147.0 377.6 149.0 376.0 153.0 375.1 155.4 376.0 159.0 379.5 161.0 379.0 163.5 374.0 165.0 372.2 173.5 366.0 178.2 360.0 181.9 350.0 182.8 346.0 180.2 332.0 180.6 326.0 182.9 316.0 187.0 306.0 190.9 302.0 193.0 300.7 203.0 296.8 209.0 292.9 215.0 292.1 219.2 290.0 226.3 276.0 229.0 268.0 231.0 265.7 233.0 265.1 237.0 265.3 255.0 268.8 261.0 268.7 271.0 267.5 281.0 272.8 289.0 273.6 293.0 272.5 301.0 264.9 311.9 258.0 315.6 254.0 316.9 250.0 315.2 238.0 313.0 232.8 304.1 226.0 302.8 224.0 302.6 222.0 303.8 220.0 305.0 219.2 315.0 215.8 319.0 213.3 324.2 206.0 326.3 202.0 331.6 196.0 331.8 194.0 331.1 192.0 326.2 186.0 324.9 178.0 322.3 172.0 322.3 170.0 326.1 168.0 349.0 161.5 355.0 161.3 363.0 162.4 369.0 162.1 381.0 159.1 393.0 158.8 398.7 156.0 403.0 151.6 405.9 146.0 407.7 136.0 406.1 128.0 413.0 116.0 414.2 112.0 414.7 106.0 416.5 104.0 419.0 103.2 422.4 104.0 431.0 109.4 437.0 114.1 447.0 119.9 449.0 122.1 452.1 130.0 455.0 134.6 457.0 136.2 463.0 138.8 485.0 144.2 505.0 147.1 521.0 147.0 527.0 146.0 531.9 144.0 534.2 142.0 539.0 133.6 543.0 131.1 550.6 128.0 552.7 126.0 553.3 124.0 552.5 122.0 549.0 119.0 545.0 117.2 533.0 114.6 518.7 110.0 505.0 108.1 495.0 107.9 491.0 107.2 487.1 104.0 484.0 98.0 482.0 90.0 481.4 84.0 481.7 80.0 483.0 76.0 485.0 73.8 489.0 71.2 495.0 68.8 499.0 68.3 503.0 69.3 509.0 73.0 513.0 72.8 521.0 68.9 527.6 64.0 530.6 60.0 532.0 56.0zM127.0 369.9 131.0 372.0 133.0 374.9 133.8 382.0 137.7 394.0 137.8 396.0 136.9 398.0 135.1 400.0 133.0 401.0 131.0 400.9 125.0 399.5 125.0 369.6z"/>
<path fill="#ffb100" d="M533.0 57.9 533.5 56.0 675.0 56.0 675.0 564.0 125.0 564.0 125.0 423.0 129.0 422.4 131.0 421.4 132.7 420.0 135.0 416.3 137.0 416.2 141.0 419.6 143.0 419.4 147.0 417.6 149.1 416.0 151.0 413.5 153.2 408.0 153.2 406.0 152.3 404.0 149.0 402.5 144.0 402.0 143.0 401.4 141.9 398.0 142.2 394.0 145.4 382.0 147.4 378.0 151.0 375.8 153.0 375.7 155.0 376.4 159.0 380.6 161.0 380.4 165.0 373.4 175.0 365.5 179.1 360.0 182.9 350.0 183.6 346.0 181.1 330.0 181.9 322.0 185.6 310.0 189.3 304.0 193.0 301.2 203.0 297.3 209.0 293.5 217.0 292.1 220.0 290.0 226.6 276.0 229.0 268.7 231.2 266.0 233.0 265.4 237.0 265.6 255.0 269.1 271.0 267.9 281.0 273.0 289.0 273.8 293.0 272.7 301.0 265.0 312.1 258.0 315.8 254.0 317.1 250.0 315.4 238.0 313.0 232.5 304.5 226.0 303.1 224.0 302.9 222.0 305.0 219.5 315.0 216.1 319.0 213.7 323.4 208.0 326.6 202.0 330.8 198.0 332.0 196.0 332.2 194.0 331.6 192.0 326.5 186.0 325.4 178.0 323.1 172.0 323.5 170.0 335.0 165.8 347.0 162.6 353.0 162.0 363.0 163.7 367.0 163.6 381.0 159.8 393.0 159.4 399.0 156.6 403.6 152.0 406.6 146.0 408.3 136.0 406.9 128.0 413.7 116.0 417.0 105.5 419.0 104.5 421.0 104.7 423.0 105.7 447.0 121.3 449.0 123.9 453.0 133.3 455.0 135.9 457.0 137.3 465.0 140.3 490.8 146.0 511.0 148.0 521.0 147.7 529.0 146.3 533.7 144.0 535.9 142.0 541.0 134.0 552.6 128.0 554.6 126.0 555.1 124.0 554.3 122.0 551.0 118.7 547.0 116.5 543.0 115.3 533.0 113.8 517.0 109.0 505.0 107.5 493.0 107.1 490.3 106.0 488.2 104.0 485.6 100.0 484.0 96.0 482.3 88.0 482.1 82.0 483.0 77.6 486.0 74.0 493.0 70.2 499.0 69.1 502.5 70.0 509.0 73.9 513.0 73.6 520.4 70.0 526.2 66.0 530.6 62.0 533.0 58.0zM125.9 378.0 129.0 378.8 131.0 380.7 135.0 387.0 136.6 392.0 136.5 396.0 135.0 398.4 133.0 399.4 129.0 399.1 125.0 398.0 125.0 377.8z"/>
<path fill="#ffac00" d="M535.0 56.0 675.0 56.0 675.0 564.0 125.0 564.0 125.0 425.0 129.0 424.2 135.0 420.6 137.0 420.5 141.0 422.3 143.0 421.9 149.0 419.4 153.2 416.0 156.1 408.0 155.6 404.0 153.4 402.0 151.0 401.0 145.0 399.9 143.5 398.0 143.3 394.0 146.1 382.0 147.0 379.7 149.0 377.4 153.0 376.3 155.0 377.1 159.0 381.6 161.0 381.4 165.6 374.0 175.4 366.0 179.9 360.0 184.3 348.0 184.2 344.0 182.0 330.0 182.0 324.0 183.9 316.0 188.2 306.0 193.0 301.6 203.0 297.7 209.0 294.1 217.0 292.5 220.7 290.0 226.9 276.0 229.0 269.5 231.0 266.6 232.1 266.0 237.0 265.9 255.0 269.5 271.0 268.2 281.0 273.2 289.0 274.0 293.0 272.9 301.0 265.2 312.4 258.0 316.0 254.0 317.3 250.0 315.6 238.0 314.3 234.0 313.0 232.2 304.9 226.0 303.5 224.0 303.3 222.0 305.0 219.8 315.0 216.4 319.2 214.0 324.1 208.0 326.9 202.0 331.2 198.0 332.4 196.0 332.0 192.0 326.9 186.0 326.0 178.0 324.0 172.0 325.0 170.0 335.0 166.4 347.0 163.3 353.0 163.0 361.0 164.7 365.0 164.8 370.2 164.0 381.0 160.4 393.0 160.0 399.0 157.5 403.1 154.0 406.6 148.0 408.7 138.0 407.6 128.0 419.0 106.9 421.0 106.6 429.0 110.5 446.1 122.0 447.8 124.0 451.4 132.0 453.9 136.0 457.0 138.3 463.0 140.6 487.0 146.0 507.0 148.5 517.0 148.7 525.0 148.0 531.0 146.4 535.4 144.0 543.0 134.3 551.4 130.0 556.6 126.0 557.0 124.0 554.6 120.0 549.0 116.1 543.1 114.0 533.0 113.1 517.0 108.4 503.0 106.8 495.0 106.7 491.0 105.5 487.7 102.0 485.0 96.9 483.1 90.0 482.6 84.0 483.6 78.0 485.0 75.9 489.0 72.9 495.0 70.4 499.0 69.9 501.0 70.2 506.8 74.0 509.0 74.8 513.0 74.3 521.7 70.0 529.8 64.0 533.3 60.0 534.8 56.0zM127.0 383.5 131.0 384.1 133.0 385.3 135.5 390.0 136.0 394.0 135.5 396.0 133.0 398.3 131.0 398.4 125.0 397.1 125.0 383.5z"/>
<path fill="#ffa700" d="M537.0 56.0 675.0 56.0 675.0 564.0 125.0 564.0 125.0 427.8 127.0 427.4 135.0 423.0 139.0 424.5 141.0 424.7 143.0 424.0 152.7 420.0 155.6 418.0 157.1 416.0 159.8 408.0 160.1 406.0 159.2 404.0 156.9 402.0 146.4 398.0 144.6 396.0 144.8 392.0 146.7 382.0 149.0 378.1 151.0 377.0 153.0 376.8 155.3 378.0 159.0 382.4 161.0 382.4 163.0 380.3 166.8 374.0 176.4 366.0 180.8 360.0 185.1 348.0 182.5 328.0 182.8 322.0 185.0 314.3 188.8 306.0 193.1 302.0 203.2 298.0 209.0 294.7 217.0 293.0 221.0 290.3 222.6 288.0 223.6 284.0 227.3 276.0 229.1 270.0 231.0 267.0 233.0 266.0 237.0 266.2 255.0 269.8 271.0 268.5 281.0 273.4 289.0 274.2 293.0 273.1 301.0 265.3 309.0 260.7 312.6 258.0 316.2 254.0 317.1 252.0 317.4 248.0 316.2 240.0 314.5 234.0 313.1 232.0 305.3 226.0 303.9 224.0 303.8 222.0 305.3 220.0 315.0 216.7 319.7 214.0 324.8 208.0 327.3 202.0 331.6 198.0 332.8 196.0 332.4 192.0 327.3 186.0 326.5 178.0 325.0 171.9 326.6 170.0 331.0 168.3 347.0 164.0 353.0 163.9 361.0 165.9 365.0 165.9 371.0 164.6 379.0 161.4 393.0 160.6 399.5 158.0 405.0 152.7 408.1 146.0 409.3 138.0 408.4 130.0 409.2 126.0 417.0 113.3 419.0 111.1 421.0 110.1 425.0 110.3 429.0 111.8 441.4 120.0 447.0 124.9 453.0 136.4 457.0 139.3 463.0 141.5 489.0 147.0 509.0 149.3 519.0 149.3 527.0 148.3 533.0 146.4 537.0 144.1 545.0 134.5 553.5 130.0 558.9 126.0 559.0 124.0 556.4 120.0 551.0 116.0 545.0 113.3 533.0 112.4 517.0 107.8 493.0 105.6 489.0 102.6 486.2 98.0 483.8 90.0 483.2 84.0 483.7 80.0 485.0 77.2 487.0 75.1 491.0 72.7 495.0 71.2 499.0 70.7 501.0 71.2 507.0 75.0 509.0 75.6 513.0 75.1 522.9 70.0 530.8 64.0 534.6 60.0 536.3 56.0zM127.0 384.9 131.0 385.4 133.0 386.6 134.9 390.0 135.3 394.0 134.5 396.0 133.0 397.2 131.0 397.5 125.0 396.2 125.0 384.9z"/>
<path fill="#ffa200" d="M539.0 56.0 675.0 56.0 675.0 564.0 125.0 564.0 125.0 430.8 127.8 430.0 133.0 425.5 135.0 425.1 139.0 427.3 141.0 427.3 157.0 420.1 159.3 418.0 164.9 408.0 165.3 406.0 163.9 404.0 156.1 400.0 150.4 398.0 147.0 395.9 146.1 394.0 147.3 382.0 149.0 378.9 151.0 377.5 153.0 377.3 155.0 378.4 159.0 383.3 161.0 383.2 163.0 381.7 167.0 375.2 177.0 366.3 181.6 360.0 185.1 352.0 185.9 348.0 183.2 328.0 183.3 322.0 185.6 314.0 189.4 306.0 191.1 304.0 195.0 301.5 204.2 298.0 209.0 295.4 217.0 293.5 221.0 290.9 223.2 288.0 224.8 282.0 227.6 276.0 229.5 270.0 231.0 267.5 233.0 266.4 237.0 266.6 253.0 270.0 261.0 269.9 271.0 268.8 273.0 269.3 281.0 273.6 289.0 274.4 293.0 273.3 301.0 265.5 309.0 260.9 312.8 258.0 316.4 254.0 317.3 252.0 317.7 248.0 316.4 240.0 315.0 234.8 313.4 232.0 305.7 226.0 304.3 224.0 304.2 222.0 305.9 220.0 315.0 217.0 320.1 214.0 323.0 210.5 326.3 208.0 326.6 204.0 327.7 202.0 332.0 198.0 333.1 196.0 332.8 192.0 327.8 186.0 326.0 172.0 328.2 170.0 331.0 168.9 345.0 165.2 351.0 164.8 359.0 166.7 365.0 166.6 371.0 165.3 381.0 161.6 391.0 161.4 395.0 160.7 400.7 158.0 405.1 154.0 407.4 150.0 408.8 146.0 409.9 138.0 409.3 128.0 410.0 126.0 417.0 115.2 421.0 112.6 425.0 112.0 429.0 113.0 439.9 120.0 446.0 126.0 453.0 137.9 456.3 140.0 463.0 142.4 491.0 147.9 511.0 150.1 519.0 150.0 527.0 149.0 533.0 147.3 537.0 145.2 540.4 142.0 545.2 136.0 559.5 128.0 561.8 126.0 561.4 124.0 558.1 120.0 553.1 116.0 545.0 112.2 533.0 111.8 517.0 107.2 493.0 104.8 489.5 102.0 486.9 98.0 484.4 90.0 483.9 84.0 484.4 80.0 485.3 78.0 489.0 74.6 493.0 72.6 499.0 71.6 501.0 72.2 507.0 75.9 511.0 76.4 520.8 72.0 534.1 62.0 537.3 58.0 537.9 56.0zM127.0 386.1 131.0 386.5 133.0 387.8 134.2 390.0 134.5 394.0 133.0 396.2 131.0 396.6 125.0 395.4 125.0 386.1z"/>
<path fill="#ff9e00" d="M539.0 57.7 539.5 56.0 675.0 56.0 675.0 564.0 125.0 564.0 125.0 432.9 129.0 431.6 133.0 427.6 135.0 427.4 139.0 430.2 141.0 430.0 147.0 426.2 157.5 422.0 161.0 419.3 168.1 408.0 168.4 406.0 167.0 403.6 164.3 402.0 151.0 397.0 148.0 394.0 147.9 382.0 148.8 380.0 151.0 378.1 153.0 377.9 155.0 379.2 159.0 384.1 161.2 384.0 163.9 382.0 167.7 376.0 178.2 366.0 182.5 360.0 186.1 352.0 186.7 348.0 184.9 338.0 184.9 332.0 183.6 326.0 183.8 322.0 186.1 314.0 190.0 306.0 191.7 304.0 195.0 301.9 211.0 295.3 217.0 294.0 221.0 291.5 223.8 288.0 225.2 282.0 229.9 270.0 231.0 268.0 233.0 266.9 237.0 266.9 253.0 270.3 271.0 269.1 273.0 269.6 281.0 273.8 289.0 274.5 293.0 273.5 301.0 265.6 309.0 261.1 313.1 258.0 316.6 254.0 317.5 252.0 317.9 248.0 316.6 240.0 315.0 234.2 313.7 232.0 306.0 226.0 304.7 224.0 304.6 222.0 307.0 219.8 317.9 216.0 323.0 211.2 327.0 208.9 327.7 208.0 327.0 204.0 328.1 202.0 332.4 198.0 333.6 196.0 333.2 192.0 328.2 186.0 327.7 184.0 327.7 178.0 326.7 174.0 327.0 172.0 329.8 170.0 333.0 168.9 344.6 166.0 351.0 165.8 357.0 167.6 361.0 168.0 371.0 166.0 381.0 162.2 395.0 161.3 401.0 158.6 406.1 154.0 408.3 150.0 409.6 146.0 410.4 140.0 410.1 128.0 415.0 119.0 419.0 115.1 423.0 113.6 427.0 113.4 431.0 115.2 438.4 120.0 445.0 127.3 451.7 138.0 455.0 140.5 466.5 144.0 475.0 145.1 491.0 148.5 507.0 150.5 521.0 150.6 527.0 149.8 533.2 148.0 539.0 144.8 547.0 136.0 563.0 128.0 564.9 126.0 564.1 124.0 557.0 117.4 547.0 111.7 543.0 110.8 533.0 111.2 517.0 106.6 495.0 104.7 492.9 104.0 490.4 102.0 487.7 98.0 486.1 94.0 484.7 88.0 484.7 82.0 486.2 78.0 489.0 75.5 493.0 73.3 497.0 72.4 501.0 73.2 507.0 76.7 511.0 77.1 513.0 76.6 525.0 70.1 535.3 62.0 538.9 58.0zM127.0 387.0 131.0 387.5 133.5 390.0 133.6 394.0 133.0 395.0 131.0 395.7 125.0 394.5 125.0 387.0z"/>
<path fill="#ff9a00" d="M541.0 56.0 675.0 56.0 675.0 564.0 125.0 564.0 125.0 435.0 129.0 433.7 133.0 430.2 135.0 430.1 139.0 433.0 141.0 432.8 147.5 428.0 159.0 423.2 162.9 420.0 170.5 408.0 170.8 406.0 170.0 404.0 167.8 402.0 153.0 396.9 151.0 395.7 149.6 394.0 149.0 392.0 148.6 382.0 149.6 380.0 151.0 378.8 153.0 378.5 155.0 379.9 157.0 383.1 159.0 384.9 161.0 384.8 162.9 384.0 165.1 382.0 169.0 376.3 180.8 364.0 183.4 360.0 186.3 354.0 187.5 350.0 187.2 346.0 185.7 340.0 185.7 332.0 184.2 326.0 184.3 322.0 185.8 316.0 190.5 306.0 192.4 304.0 195.6 302.0 209.0 296.6 217.0 294.4 221.1 292.0 224.4 288.0 225.7 282.0 230.2 270.0 231.0 268.6 233.0 267.3 237.0 267.3 253.0 270.7 271.0 269.4 273.0 269.9 281.0 274.0 289.0 274.7 293.0 273.6 295.3 272.0 301.0 265.7 309.0 261.2 313.3 258.0 315.4 256.0 317.8 252.0 318.1 248.0 316.8 240.0 315.1 234.0 314.0 232.0 306.4 226.0 305.1 224.0 305.1 222.0 307.3 220.0 318.5 216.0 323.0 212.0 325.0 210.6 327.4 210.0 328.8 208.0 327.6 204.0 328.5 202.0 332.9 198.0 334.0 196.0 334.2 194.0 332.5 190.0 328.7 186.0 327.6 174.0 328.2 172.0 331.0 170.2 335.0 168.9 345.0 166.9 351.0 167.2 357.0 169.3 359.0 169.3 371.0 166.5 381.0 162.7 394.4 162.0 401.0 159.4 407.2 154.0 409.9 148.0 411.1 140.0 410.7 130.0 411.7 126.0 417.0 117.9 421.0 115.4 427.0 114.5 429.0 115.1 437.0 120.0 439.3 122.0 450.3 138.0 452.2 140.0 455.0 141.5 465.0 144.5 475.0 145.7 493.0 149.4 507.0 151.2 523.0 151.1 529.0 150.0 535.0 148.1 539.0 146.0 549.0 135.9 565.9 128.0 567.2 126.0 566.6 124.0 556.7 116.0 547.0 110.7 543.0 109.7 533.0 110.6 517.0 106.0 495.0 104.0 491.0 101.6 488.4 98.0 486.7 94.0 485.3 88.0 485.4 82.0 487.0 78.3 489.5 76.0 493.0 74.1 497.0 73.3 500.2 74.0 507.0 77.5 511.0 77.8 513.0 77.4 523.0 72.2 531.5 66.0 538.7 60.0 540.7 56.0zM168.0 386.0 167.8 388.0 169.0 390.5 177.0 390.5 177.0 389.3 175.3 388.0 171.0 385.6 169.0 385.2zM127.0 388.0 131.0 388.6 132.5 390.0 133.0 392.8 132.4 394.0 131.0 394.7 125.0 393.6 125.0 388.0z"/>
<path fill="#ff9600" d="M543.0 56.0 675.0 56.0 675.0 564.0 125.0 564.0 125.0 438.2 127.0 437.6 133.0 433.1 135.0 433.2 139.0 435.8 141.0 435.6 149.0 429.4 161.0 424.1 165.0 420.0 172.8 408.0 173.0 406.0 172.2 404.0 169.0 400.9 153.2 396.0 151.0 394.2 149.7 390.0 149.3 382.0 151.0 379.5 153.0 379.2 159.0 385.7 165.0 384.6 169.0 392.1 173.0 391.8 177.0 392.5 177.6 392.0 178.6 390.0 177.8 388.0 167.2 382.0 169.2 378.0 183.0 362.1 188.0 352.0 188.2 348.0 186.0 338.0 186.5 332.0 184.8 326.0 184.7 322.0 186.3 316.0 191.1 306.0 193.0 304.0 196.5 302.0 209.0 297.1 217.0 294.8 221.6 292.0 225.0 288.0 226.1 282.0 230.6 270.0 233.0 267.7 237.0 267.7 253.0 271.0 271.0 269.8 273.0 270.2 281.0 274.2 289.0 274.9 293.0 273.8 295.5 272.0 301.0 265.9 309.0 261.4 313.6 258.0 315.7 256.0 318.0 252.0 318.3 248.0 317.4 242.0 315.0 233.2 313.0 230.8 306.8 226.0 305.6 224.0 305.6 222.0 308.2 220.0 317.0 217.2 323.0 212.6 329.0 209.6 329.5 208.0 328.1 204.0 328.9 202.0 333.3 198.0 334.4 196.0 334.6 194.0 333.0 190.1 329.2 186.0 328.7 184.0 329.0 180.0 328.4 174.0 329.4 172.0 335.0 169.6 345.0 167.9 349.0 168.2 355.0 171.0 357.0 171.0 373.0 166.5 381.0 163.3 395.0 162.5 401.2 160.0 406.6 156.0 409.4 152.0 411.6 144.0 411.9 128.0 413.6 124.0 416.2 120.0 421.0 116.5 427.0 115.4 429.0 116.1 435.5 120.0 437.9 122.0 442.4 130.0 448.7 138.0 451.0 140.6 453.4 142.0 465.0 145.2 475.0 146.3 493.0 150.0 509.0 152.1 523.0 151.8 535.0 149.0 540.3 146.0 547.0 138.9 550.9 136.0 567.0 129.0 569.0 126.0 568.5 124.0 567.0 122.6 558.3 116.0 547.0 109.6 543.0 108.8 533.0 109.9 519.0 105.8 495.0 103.3 491.0 100.6 487.4 94.0 486.0 88.0 486.1 82.0 488.2 78.0 490.7 76.0 493.0 74.9 497.0 74.2 499.0 74.6 507.0 78.3 513.0 78.1 523.0 73.0 535.2 64.0 539.9 60.0 541.2 58.0 541.6 56.0zM127.0 389.4 131.1 390.0 131.7 392.0 131.0 393.2 125.0 392.4 125.0 389.4z"/>
<path fill="#ff9200" d="M543.0 56.0 675.0 56.0 675.0 564.0 125.0 564.0 125.0 442.6 127.0 441.9 133.0 436.0 135.0 436.4 139.0 438.9 141.0 438.6 151.0 430.7 163.0 424.8 165.6 422.0 176.7 406.0 169.0 398.8 163.0 398.3 152.2 394.0 150.6 390.0 149.8 384.0 150.1 382.0 151.0 380.4 153.0 379.9 155.0 381.7 157.0 385.1 159.0 386.5 163.0 386.0 165.0 386.7 167.0 391.2 169.0 393.8 173.0 393.2 177.0 393.7 178.9 392.0 179.5 390.0 179.0 387.9 170.6 382.0 170.0 380.0 183.9 362.0 188.9 352.0 188.9 348.0 186.5 338.0 187.4 332.0 185.5 326.0 185.3 322.0 186.8 316.0 191.6 306.0 193.7 304.0 197.0 302.2 217.0 295.2 222.1 292.0 225.6 288.0 226.6 282.0 230.2 272.0 231.0 269.9 233.0 268.1 237.0 268.1 253.0 271.4 271.0 270.1 273.0 270.5 281.0 274.4 289.0 275.1 293.0 274.0 295.7 272.0 301.1 266.0 309.0 261.5 313.9 258.0 315.9 256.0 318.2 252.0 318.5 248.0 317.6 242.0 315.0 232.8 307.2 226.0 306.0 224.0 306.2 222.0 309.0 220.0 317.0 217.5 323.0 213.3 329.5 210.0 330.1 208.0 328.6 204.0 329.4 202.0 333.8 198.0 335.0 194.0 333.5 190.0 329.9 186.0 329.3 184.0 329.3 174.0 330.8 172.0 337.0 169.8 343.0 169.3 348.1 170.0 353.0 173.0 355.0 173.3 363.0 169.8 373.0 167.0 380.6 164.0 395.0 163.0 399.0 161.9 402.5 160.0 407.7 156.0 410.5 152.0 412.5 144.0 412.8 128.0 417.0 120.4 421.0 117.5 427.0 116.4 430.8 118.0 436.5 122.0 441.0 131.4 448.3 140.0 451.0 142.2 465.0 145.9 475.0 146.9 493.0 150.6 509.0 152.8 523.0 152.6 535.0 149.8 541.0 146.5 547.0 140.2 551.0 137.1 567.0 130.6 569.8 128.0 570.5 126.0 570.0 124.0 569.0 122.8 559.0 115.5 547.0 108.5 543.0 107.8 533.0 109.3 519.0 105.3 495.0 102.5 491.0 99.4 488.1 94.0 486.6 88.0 486.9 82.0 489.0 78.3 491.0 76.7 493.0 75.7 497.0 75.2 507.0 79.0 511.0 79.2 515.0 78.0 525.0 72.5 538.9 62.0 541.0 60.0 542.3 56.0z"/>
<path fill="#ff8e00" d="M543.0 56.2 675.0 56.0 675.0 564.0 125.0 564.0 125.0 445.9 133.0 439.6 135.0 439.7 139.0 442.2 141.0 442.0 151.0 433.6 164.3 426.0 167.0 422.9 172.8 414.0 179.2 408.0 180.2 406.0 179.3 404.0 175.0 401.2 171.7 398.0 171.4 396.0 173.0 395.1 177.0 395.1 179.0 393.2 180.1 390.0 179.0 386.8 173.0 382.0 172.3 380.0 177.0 372.0 184.7 362.0 189.1 354.0 189.8 350.0 187.1 338.0 188.3 332.0 186.3 326.0 185.8 322.0 188.1 314.0 190.9 308.0 193.0 305.2 198.3 302.0 217.0 295.6 222.6 292.0 226.1 288.0 227.0 282.0 230.5 272.0 233.0 268.7 237.0 268.5 253.0 271.7 271.0 270.4 273.0 270.8 281.0 274.6 285.0 275.2 291.0 275.0 295.0 272.8 301.3 266.0 311.0 260.4 316.2 256.0 317.6 254.0 318.7 250.0 317.8 242.0 315.7 234.0 314.8 232.0 307.6 226.0 306.5 224.0 306.7 222.0 309.0 220.5 319.0 216.8 330.1 210.0 330.7 208.0 329.2 204.0 329.9 202.0 334.3 198.0 335.4 194.0 334.1 190.0 330.5 186.0 329.9 184.0 330.4 174.0 332.5 172.0 337.0 170.6 343.0 170.6 346.7 172.0 351.0 174.8 353.0 175.2 357.0 174.0 363.0 170.4 373.0 167.5 379.0 165.0 383.0 164.2 395.0 163.5 399.0 162.5 403.0 160.4 408.9 156.0 411.6 152.0 413.4 144.0 413.4 130.0 415.0 125.3 419.0 119.9 425.0 117.3 429.0 117.9 434.9 122.0 436.3 124.0 439.0 132.2 447.9 142.0 451.0 143.7 465.0 146.6 475.0 147.4 495.0 151.6 509.0 153.5 523.0 153.3 529.0 152.3 537.0 150.0 541.0 147.5 551.0 138.3 555.0 136.3 565.0 133.2 569.0 130.7 571.4 128.0 572.0 126.0 571.5 124.0 569.9 122.0 559.0 114.5 547.0 107.5 543.0 106.8 533.0 108.7 519.0 104.7 497.0 102.4 492.5 100.0 488.8 94.0 487.3 88.0 487.3 84.0 488.7 80.0 491.0 77.7 495.0 76.1 497.0 76.2 507.0 79.8 513.0 79.5 526.8 72.0 540.1 62.0 542.7 58.0zM151.0 381.7 153.0 380.9 157.0 386.3 159.0 387.5 163.0 387.0 164.6 388.0 167.4 394.0 167.5 396.0 165.0 397.3 163.0 397.3 153.0 393.4 151.0 387.7 150.8 382.0z"/>
<path fill="#ff8a00" d="M545.0 56.0 675.0 56.0 675.0 564.0 125.0 564.0 125.0 448.4 127.0 447.4 131.0 443.6 133.0 442.4 135.0 442.6 139.0 445.8 141.0 446.0 151.0 436.7 165.0 427.8 167.0 425.8 173.3 416.0 181.1 408.0 181.6 406.0 181.1 404.0 176.6 400.0 175.7 398.0 179.0 394.5 180.3 392.0 180.5 388.0 179.0 385.7 174.8 382.0 174.2 380.0 178.1 372.0 186.7 360.0 190.4 352.0 190.1 348.0 187.7 338.0 189.3 332.0 189.1 330.0 187.0 326.0 186.4 322.0 187.8 316.0 192.7 306.0 195.0 304.0 199.0 302.1 217.0 295.9 223.1 292.0 226.7 288.0 228.1 280.0 231.0 271.6 233.0 269.2 237.0 269.0 247.0 271.3 253.0 272.1 271.0 270.7 273.0 271.1 281.0 274.8 289.0 275.4 293.6 274.0 301.5 266.0 309.0 261.9 314.4 258.0 317.9 254.0 318.7 252.0 318.9 248.0 318.0 242.0 315.1 232.0 308.1 226.0 307.0 223.4 307.3 222.0 309.0 220.9 319.0 217.2 325.0 213.3 329.0 211.7 330.7 210.0 331.2 208.0 329.8 204.0 330.5 202.0 334.8 198.0 335.9 194.0 334.6 190.0 331.2 186.0 330.6 184.0 330.9 176.0 331.6 174.0 335.0 171.9 341.0 171.6 345.0 173.2 349.0 176.0 353.0 176.7 355.4 176.0 363.0 171.0 373.0 168.1 379.0 165.6 383.0 164.7 395.5 164.0 399.0 163.1 403.0 161.2 410.2 156.0 412.7 152.0 414.5 144.0 414.2 132.0 415.0 128.2 418.7 122.0 423.0 118.9 427.0 118.3 430.7 120.0 433.2 122.0 434.6 124.0 435.6 130.0 437.6 134.0 445.2 142.0 449.0 144.8 465.0 147.3 475.0 147.9 495.0 152.2 509.0 154.3 517.0 154.6 523.0 154.1 537.0 150.9 541.0 148.6 551.0 139.5 557.0 136.9 565.0 135.0 569.0 132.6 573.0 127.8 573.4 126.0 572.9 124.0 571.3 122.0 547.0 106.4 543.0 105.8 533.0 108.0 519.0 104.2 497.0 101.6 493.6 100.0 491.7 98.0 489.0 92.3 488.1 88.0 488.1 84.0 489.0 81.2 491.0 78.7 495.0 77.1 497.0 77.2 507.0 80.5 511.0 80.6 515.0 79.5 525.1 74.0 541.0 62.1 542.7 60.0 543.6 56.0zM153.0 382.0 157.0 387.7 159.0 388.7 163.0 388.0 164.9 390.0 166.1 394.0 165.0 396.1 161.8 396.0 153.5 392.0 152.5 390.0 151.6 384.0 152.9 382.0z"/>
<path fill="#ff8600" d="M545.0 56.0 675.0 56.0 675.0 564.0 125.0 564.0 125.0 449.8 127.0 449.2 131.0 445.6 133.0 444.7 135.0 445.3 139.0 448.8 141.0 449.3 143.0 448.6 149.0 441.5 159.0 433.8 167.0 428.6 173.0 419.1 182.1 408.0 182.6 406.0 182.0 404.0 178.6 400.0 178.0 398.0 180.9 392.0 181.2 388.0 176.3 382.0 175.9 380.0 179.2 372.0 186.3 362.0 191.0 352.7 191.1 350.0 188.3 338.0 190.5 332.0 190.4 330.0 187.2 324.0 186.9 322.0 188.3 316.0 193.3 306.0 195.8 304.0 199.0 302.5 217.6 296.0 223.5 292.0 227.2 288.0 228.5 280.0 231.0 272.6 233.0 269.7 237.0 269.4 247.0 271.7 253.0 272.4 271.0 271.0 273.0 271.4 281.0 275.0 287.0 275.7 291.0 275.3 295.0 273.2 301.7 266.0 309.1 262.0 314.7 258.0 318.2 254.0 318.9 252.0 319.1 248.0 318.2 242.0 315.4 232.0 308.5 226.0 307.4 224.0 308.0 222.0 309.0 221.4 319.0 217.6 325.0 213.9 329.0 212.3 331.2 210.0 331.7 208.0 330.4 204.0 331.0 202.1 335.3 198.0 336.4 194.0 335.2 190.0 332.0 186.0 331.3 184.0 332.0 176.0 333.0 174.0 335.0 173.0 339.0 172.4 343.0 173.7 349.0 177.5 353.0 178.0 357.0 176.1 362.2 172.0 365.0 170.6 373.0 168.6 381.0 165.6 397.0 164.3 403.0 162.0 409.1 158.0 413.0 154.0 414.5 150.0 415.8 144.0 416.1 140.0 415.5 134.0 416.1 130.0 420.8 122.0 423.3 120.0 427.0 119.4 429.0 120.1 431.3 122.0 432.6 124.0 433.0 130.0 434.8 134.0 447.0 146.3 449.0 146.9 457.0 146.5 465.0 148.0 475.0 148.4 495.0 152.9 509.0 155.1 517.0 155.4 523.0 155.0 537.0 151.8 541.0 149.6 549.0 142.2 553.0 139.6 557.0 138.1 565.0 137.2 569.0 134.8 573.0 130.9 574.6 128.0 574.8 126.0 574.2 124.0 570.4 120.0 553.8 110.0 549.0 106.4 547.0 105.4 543.0 104.9 535.0 107.2 531.0 107.2 519.0 103.7 497.0 100.9 494.9 100.0 492.7 98.0 489.7 92.0 488.8 88.0 488.9 84.0 491.0 79.9 495.0 78.1 507.0 81.2 511.0 81.2 515.5 80.0 526.4 74.0 541.0 63.1 543.4 60.0 544.2 56.0zM155.0 387.5 156.1 390.0 155.0 390.6 154.1 388.0zM161.0 389.4 163.0 389.3 164.8 392.0 164.9 394.0 163.0 395.2 160.3 394.0 158.5 392.0 159.5 390.0z"/>
<path fill="#ff8200" d="M545.0 56.0 675.0 56.0 675.0 564.0 125.0 564.0 125.0 450.6 128.1 450.0 133.0 446.9 139.0 450.8 143.0 451.3 145.0 450.4 150.1 444.0 161.0 435.1 168.6 430.0 173.0 421.9 183.0 408.4 183.4 406.0 183.0 404.0 180.0 400.0 179.3 398.0 181.5 392.0 181.9 388.0 177.8 382.0 177.4 380.0 180.3 372.0 187.0 362.2 191.3 354.0 191.8 350.0 189.0 340.5 188.9 338.0 191.6 332.0 191.9 330.0 191.2 328.0 188.3 324.0 187.8 320.0 190.5 312.0 193.9 306.0 199.0 302.9 218.4 296.0 224.0 292.0 227.8 288.0 228.4 282.0 231.0 273.8 233.0 270.3 233.9 270.0 237.0 269.8 251.0 272.6 271.0 271.4 273.0 271.7 281.0 275.2 287.0 275.8 291.0 275.5 295.0 273.4 301.9 266.0 309.4 262.0 315.0 258.0 318.4 254.0 319.2 252.0 319.3 248.0 318.4 242.0 315.6 232.0 308.9 226.0 308.0 224.0 309.0 221.8 317.0 218.9 329.0 212.7 331.7 210.0 332.1 208.0 331.0 204.0 331.8 202.0 335.8 198.0 336.8 194.0 335.9 190.0 332.9 186.0 332.1 184.0 333.1 176.0 335.0 174.1 339.0 173.6 343.0 175.1 349.0 178.8 353.0 179.0 357.0 177.1 363.0 172.1 367.0 170.4 373.0 169.1 381.0 166.2 399.0 164.4 404.3 162.0 410.5 158.0 414.4 154.0 415.9 150.0 418.1 140.0 417.9 132.0 421.0 128.0 423.0 122.6 425.0 121.1 427.0 121.0 429.2 122.0 430.4 124.0 430.0 130.0 431.7 134.0 443.0 146.0 447.0 149.0 449.0 149.1 455.0 147.4 465.0 148.6 475.0 149.0 507.0 155.6 513.0 156.3 521.0 156.1 529.0 154.9 539.0 151.9 543.0 149.1 549.0 143.4 555.0 139.9 559.0 139.2 565.0 139.6 569.0 137.8 573.0 133.9 575.6 130.0 576.3 126.0 575.6 124.0 571.0 119.3 555.0 109.9 549.0 105.4 547.0 104.3 543.0 103.9 535.0 106.5 531.0 106.6 519.0 103.1 499.0 100.6 496.7 100.0 493.8 98.0 490.5 92.0 489.6 88.0 489.9 84.0 491.0 81.4 492.5 80.0 495.0 79.1 497.0 79.2 505.0 81.6 509.0 81.9 513.0 81.5 517.0 80.1 527.0 74.4 541.0 64.0 544.1 60.0 544.8 56.0zM161.0 391.8 163.0 391.1 163.4 392.0 163.0 393.6 160.9 392.0z"/>
<path fill="#ff7c00" d="M547.0 56.0 675.0 56.0 675.0 564.0 125.0 564.0 125.0 451.4 133.0 449.2 138.0 452.0 141.0 452.8 145.0 452.9 147.3 452.0 152.5 446.0 161.0 437.9 170.2 432.0 173.6 424.0 183.2 410.0 184.1 406.0 183.7 404.0 180.3 398.0 182.7 390.0 182.7 388.0 179.1 382.0 178.8 380.0 181.3 372.0 189.0 360.1 191.2 356.0 192.4 352.0 191.9 348.0 189.5 340.0 189.6 338.0 192.8 332.0 193.1 328.0 189.0 323.4 188.4 320.0 190.9 312.0 194.5 306.0 199.0 303.3 219.0 296.0 224.4 292.0 228.3 288.0 228.9 282.0 231.4 274.0 233.0 271.0 235.0 270.2 251.0 273.0 271.0 271.7 273.0 272.0 281.0 275.4 285.0 276.0 291.0 275.7 295.0 273.6 302.1 266.0 312.7 260.0 317.0 256.3 318.7 254.0 319.4 252.0 319.6 248.0 315.9 232.0 314.3 230.0 309.4 226.0 308.5 224.0 309.5 222.0 319.0 218.3 329.0 213.2 332.1 210.0 332.6 208.0 331.7 204.0 332.5 202.0 336.3 198.0 337.3 194.0 336.5 190.0 333.0 184.0 333.8 178.0 334.7 176.0 337.0 174.9 339.0 175.0 349.0 179.9 353.0 179.9 357.0 178.0 363.0 172.7 367.0 170.9 373.0 169.6 381.0 166.7 395.0 165.7 401.9 164.0 412.0 158.0 415.9 154.0 421.0 139.5 423.0 135.8 425.0 134.0 427.0 133.9 429.0 135.0 443.0 149.7 447.0 151.7 449.0 151.4 455.0 148.4 473.0 149.3 479.0 150.2 497.0 154.7 513.0 157.2 525.0 156.5 537.0 153.7 541.0 151.8 549.0 144.7 555.0 141.2 559.0 140.6 567.0 141.8 571.0 140.0 575.0 135.3 577.0 131.5 577.9 128.0 577.0 124.0 575.5 122.0 571.0 118.3 555.0 109.0 549.0 104.3 547.0 103.3 543.0 103.0 535.0 105.7 531.0 105.9 519.0 102.6 499.0 99.9 495.0 98.0 493.0 95.7 491.0 91.0 490.4 88.0 490.8 84.0 493.0 81.0 495.0 80.2 497.0 80.3 505.0 82.3 509.0 82.6 513.0 82.2 517.0 80.9 527.0 75.3 542.1 64.0 544.9 60.0 545.5 56.0z"/>
<path fill="#ff7400" d="M547.0 56.0 675.0 56.0 675.0 564.0 125.0 564.0 125.0 452.1 133.0 451.2 137.0 453.1 143.0 454.4 155.5 454.0 156.6 452.0 156.1 448.0 156.9 446.0 163.0 439.1 171.0 435.3 172.3 434.0 174.3 426.0 184.1 410.0 184.8 406.0 184.4 404.0 181.2 398.0 181.3 396.0 183.5 390.0 183.5 388.0 180.3 382.0 180.1 380.0 182.3 372.0 191.0 357.6 193.0 352.0 190.2 340.0 191.0 336.5 193.8 332.0 194.6 328.0 193.9 326.0 189.6 322.0 189.1 320.0 191.4 312.0 195.0 306.1 199.0 303.6 219.0 296.3 227.2 290.0 228.9 288.0 229.5 286.0 229.4 282.0 231.8 274.0 233.0 271.7 235.0 270.7 251.0 273.3 271.0 272.0 273.0 272.3 281.0 275.6 287.0 276.2 291.0 275.9 295.0 273.8 302.3 266.0 309.9 262.0 315.7 258.0 317.7 256.0 319.7 252.0 319.2 244.0 316.2 232.0 314.7 230.0 309.9 226.0 309.0 224.0 310.4 222.0 319.0 218.7 329.0 213.6 331.3 212.0 332.6 210.0 333.0 208.0 332.4 204.0 333.2 202.0 336.8 198.0 337.8 194.0 337.2 190.0 334.1 184.0 335.0 178.2 337.0 176.5 341.0 177.0 349.0 180.9 353.0 180.8 357.0 178.9 362.0 174.0 367.0 171.3 375.0 169.5 381.0 167.3 397.0 166.0 403.0 164.2 416.2 156.0 417.8 154.0 422.4 142.0 425.0 138.8 427.0 138.0 429.0 138.5 431.1 140.0 441.0 151.7 445.0 153.3 449.0 153.2 453.5 150.0 457.0 149.1 465.0 149.9 473.0 149.8 481.0 151.1 499.0 155.9 515.0 158.2 527.0 157.2 539.0 154.0 543.0 151.5 551.0 144.5 555.0 142.4 559.0 141.9 567.0 144.0 569.0 143.9 573.0 142.0 576.0 138.0 578.7 132.0 579.4 128.0 578.4 124.0 576.9 122.0 572.1 118.0 555.0 108.1 549.0 103.2 547.0 102.2 543.0 102.1 535.0 105.0 531.0 105.3 521.0 102.5 501.0 99.5 497.0 98.2 495.0 96.7 492.3 92.0 491.4 86.0 492.1 84.0 493.8 82.0 497.0 81.4 505.0 83.0 509.0 83.2 515.0 82.4 519.0 80.7 530.2 74.0 543.0 64.2 545.6 60.0 546.2 56.0z"/>
<path fill="#ff6c00" d="M547.0 56.0 675.0 56.0 675.0 564.0 125.0 564.0 125.0 452.7 131.0 452.5 137.0 454.4 147.0 456.2 157.0 456.3 159.3 454.0 159.5 448.0 161.2 444.0 165.0 440.3 173.0 437.5 174.5 436.0 175.4 428.0 176.2 426.0 183.0 414.7 185.5 408.0 185.1 404.0 182.1 398.0 182.1 396.0 184.5 390.0 184.5 388.0 181.4 382.0 181.4 380.0 183.3 372.0 191.0 358.8 193.6 352.0 190.8 340.0 191.1 338.0 194.8 332.0 195.9 328.0 195.0 325.1 190.9 322.0 190.0 320.0 190.0 318.0 192.8 310.0 195.0 306.7 199.1 304.0 219.0 296.7 227.7 290.0 229.5 288.0 230.0 286.0 229.9 282.0 232.3 274.0 233.0 272.5 235.0 271.3 251.0 273.7 271.0 272.3 273.0 272.6 281.0 275.8 287.0 276.4 291.0 276.1 295.0 274.0 302.5 266.0 310.2 262.0 316.0 258.0 318.0 256.0 320.0 252.0 319.5 244.0 316.4 232.0 315.0 229.9 310.3 226.0 309.7 224.0 311.4 222.0 319.0 219.1 329.1 214.0 331.7 212.0 333.0 210.0 333.4 208.0 333.1 204.0 337.3 198.0 338.3 194.0 337.9 190.0 335.2 184.0 335.2 182.0 337.0 178.6 339.0 178.1 341.0 178.5 349.0 181.9 353.0 181.7 357.0 179.8 362.8 174.0 367.0 171.8 373.0 170.6 383.0 167.5 397.0 166.5 403.0 165.0 418.4 156.0 420.1 154.0 423.8 144.0 425.0 142.4 427.0 141.3 429.0 141.7 431.0 143.3 436.8 152.0 441.0 154.1 447.0 154.9 449.0 154.6 455.0 150.4 457.0 150.0 473.0 150.3 483.0 152.1 499.0 156.7 515.0 159.2 527.0 158.3 539.0 155.0 543.0 152.7 551.0 145.9 555.0 143.7 559.0 143.2 567.0 145.9 569.0 145.9 574.3 144.0 576.4 142.0 578.3 138.0 580.3 132.0 580.8 128.0 579.8 124.0 578.4 122.0 571.0 116.2 557.0 108.6 549.0 102.1 547.0 101.2 543.0 101.1 535.0 104.2 531.0 104.6 521.0 101.9 499.0 98.2 495.7 96.0 493.0 91.3 492.6 86.0 493.5 84.0 495.0 82.9 497.0 82.5 507.0 83.9 513.0 83.5 518.0 82.0 527.0 77.1 533.0 73.1 544.2 64.0 546.4 60.0 547.0 56.0z"/>
<path fill="#ff6400" d="M549.0 56.0 675.0 56.0 675.0 564.0 125.0 564.0 125.0 453.3 131.0 453.7 135.0 455.3 147.0 457.7 157.0 457.8 159.8 456.0 161.1 454.0 161.9 448.0 164.0 444.0 167.0 441.8 173.5 440.0 176.1 438.0 176.9 436.0 177.2 428.0 183.8 416.0 186.2 408.0 185.7 404.0 183.0 398.0 182.9 396.0 185.6 390.0 185.6 388.0 182.6 382.0 182.6 380.0 184.3 372.0 191.0 360.0 194.1 352.0 191.6 340.0 192.0 338.0 196.4 330.0 197.0 326.0 195.8 324.0 191.0 320.2 190.6 318.0 192.4 312.0 195.0 307.4 200.1 304.0 219.0 297.0 228.3 290.0 230.0 288.0 230.7 280.0 232.7 274.0 235.0 271.8 251.0 274.0 271.0 272.6 273.0 272.9 281.0 276.0 287.0 276.6 291.0 276.3 295.0 274.3 302.8 266.0 309.0 262.9 316.4 258.0 318.3 256.0 320.3 252.0 320.1 246.0 316.7 232.0 315.0 229.4 310.8 226.0 310.3 224.0 312.4 222.0 319.0 219.5 329.0 214.5 332.2 212.0 333.8 208.0 333.8 204.0 338.5 196.0 338.6 190.0 336.7 184.0 337.0 181.7 339.0 180.0 341.0 180.1 347.0 182.5 353.0 182.5 357.0 180.6 363.0 174.5 367.0 172.3 375.0 170.7 383.0 168.1 397.0 167.1 403.0 165.8 421.1 156.0 423.0 154.0 425.2 148.0 427.0 145.7 429.0 146.2 432.4 152.0 434.9 154.0 439.0 155.2 445.0 155.9 449.0 155.6 455.0 151.5 457.0 150.9 473.0 150.8 487.0 153.6 499.0 157.5 511.0 159.8 517.0 160.2 529.0 159.1 539.1 156.0 543.0 154.0 553.0 146.0 557.0 144.5 559.0 144.6 565.0 146.9 569.0 147.7 575.3 146.0 577.7 144.0 579.0 141.8 581.4 134.0 582.2 128.0 581.2 124.0 579.9 122.0 573.0 116.5 557.5 108.0 550.3 102.0 547.0 100.2 543.0 100.2 533.0 103.9 529.0 103.6 521.0 101.4 501.0 97.9 497.0 95.7 495.0 93.0 493.8 90.0 494.0 86.0 496.3 84.0 507.0 84.6 513.0 84.2 517.0 83.2 525.0 79.3 533.2 74.0 545.0 64.2 547.3 60.0 548.1 56.0z"/>
<path fill="#ff5c00" d="M549.0 57.7 549.3 56.0 675.0 56.0 675.0 564.0 125.0 564.0 125.0 453.9 129.0 454.3 135.0 456.7 141.0 457.3 147.0 458.9 157.0 458.8 159.1 458.0 161.3 456.0 165.2 446.0 167.7 444.0 175.0 441.5 177.0 440.0 178.1 438.0 179.0 428.7 184.4 418.0 186.8 410.0 186.8 406.0 184.0 398.0 183.9 396.0 186.7 390.0 186.7 388.0 183.7 382.0 183.7 380.0 186.1 370.0 191.0 361.2 194.2 354.0 194.6 350.0 192.3 340.0 197.8 328.0 198.1 326.0 197.4 324.0 192.1 320.0 191.4 318.0 192.9 312.0 195.0 308.0 197.1 306.0 201.0 304.1 211.0 300.7 219.0 297.3 228.8 290.0 230.6 288.0 231.1 286.0 230.8 282.0 232.4 276.0 233.3 274.0 235.0 272.5 237.0 272.3 251.0 274.3 271.0 272.9 273.0 273.2 281.0 276.2 291.0 276.5 295.0 274.5 303.0 266.0 309.0 263.1 316.7 258.0 318.7 256.0 320.6 252.0 320.3 246.0 317.0 232.0 315.0 229.0 311.4 226.0 311.0 224.0 313.5 222.0 329.0 214.9 332.7 212.0 334.3 208.0 334.4 204.0 339.0 196.0 339.5 192.0 338.6 186.0 339.0 183.0 341.0 182.0 349.0 183.6 355.0 182.7 358.6 180.0 363.0 175.2 367.0 172.8 375.0 171.3 383.0 168.7 399.0 167.5 403.0 166.6 427.0 154.5 429.0 154.3 437.0 156.3 447.0 156.7 450.3 156.0 455.0 152.5 457.0 151.8 473.0 151.3 485.0 153.6 497.0 157.8 505.0 159.5 515.0 161.3 521.0 161.3 529.0 160.3 541.0 156.3 552.2 148.0 556.7 146.0 559.0 146.0 565.0 148.5 569.0 149.5 575.0 148.4 578.6 146.0 580.2 144.0 581.7 140.0 583.4 132.0 583.2 126.0 581.0 121.5 574.0 116.0 559.0 108.0 551.0 101.5 547.0 99.1 543.0 99.3 533.0 103.1 529.0 102.9 501.0 96.8 497.1 94.0 495.2 90.0 495.0 88.0 497.0 85.4 515.0 84.6 519.0 83.3 525.0 80.3 534.7 74.0 544.4 66.0 547.5 62.0 549.0 58.0z"/>
<path fill="#ff5400" d="M551.0 56.0 675.0 56.0 675.0 564.0 125.0 564.0 125.0 454.5 129.0 455.3 135.0 458.0 141.0 458.4 147.0 460.1 157.0 459.7 160.7 458.0 162.6 456.0 167.0 447.1 169.0 445.7 175.0 443.4 177.0 442.1 179.0 439.7 180.0 436.0 180.5 430.0 185.0 420.8 187.7 410.0 187.5 406.0 185.0 398.0 185.0 396.0 187.5 390.0 187.0 386.1 184.8 382.0 186.2 372.0 194.7 354.0 195.2 350.0 193.4 344.0 193.0 340.0 197.1 332.0 199.1 326.0 198.8 324.0 197.0 322.1 193.5 320.0 192.3 318.0 192.7 314.0 195.7 308.0 199.0 305.5 219.0 297.6 229.4 290.0 231.2 288.0 231.7 286.0 231.4 282.0 232.9 276.0 235.0 273.2 239.0 273.0 251.0 274.6 271.0 273.2 273.0 273.5 281.0 276.5 291.0 276.7 295.0 274.7 303.0 266.2 309.0 263.3 317.1 258.0 320.3 254.0 321.0 250.0 320.6 246.0 317.0 231.4 315.0 228.6 312.1 226.0 311.8 224.0 314.7 222.0 329.0 215.4 333.2 212.0 334.2 210.0 335.1 204.0 339.5 196.0 340.2 186.0 341.0 184.5 343.0 184.0 351.0 184.4 355.0 183.5 359.0 180.5 363.0 175.9 367.0 173.4 373.0 172.5 383.0 169.3 403.0 167.5 427.0 156.7 431.0 156.6 439.0 157.5 449.0 157.2 451.8 156.0 455.0 153.5 459.0 152.3 473.0 151.8 477.0 152.3 489.0 155.3 497.0 158.6 515.0 162.5 519.0 162.8 529.0 161.7 541.0 157.5 545.0 155.2 553.0 149.0 557.0 147.4 560.7 148.0 569.0 151.3 573.0 151.1 577.0 149.8 579.3 148.0 582.5 144.0 583.8 140.0 584.9 132.0 584.9 128.0 583.9 124.0 581.2 120.0 578.7 118.0 571.0 113.1 559.0 107.0 551.0 100.4 547.0 98.1 543.0 98.4 533.0 102.4 529.0 102.2 502.0 96.0 499.1 94.0 497.0 90.0 497.1 88.0 499.0 86.6 517.0 84.9 525.0 81.4 533.0 76.4 545.6 66.0 548.5 62.0 550.9 56.0z"/>
<path fill="#ff4c00" d="M553.0 56.0 675.0 56.0 675.0 564.0 125.0 564.0 125.0 455.2 128.5 456.0 133.0 459.0 139.0 459.1 147.0 461.3 157.0 460.5 162.0 458.0 168.8 448.0 177.0 443.9 180.3 440.0 182.4 430.0 185.0 425.5 187.0 420.0 188.4 412.0 188.3 406.0 185.9 398.0 186.0 396.0 188.2 390.0 187.7 386.0 185.9 382.0 187.1 372.0 195.2 354.0 195.7 350.0 194.0 344.0 193.7 340.0 198.7 330.0 200.0 326.0 200.0 324.0 199.0 322.4 195.0 319.9 193.2 318.0 193.3 314.0 194.9 310.0 196.4 308.0 199.0 306.0 209.0 302.4 219.0 297.9 230.0 290.0 231.8 288.0 232.2 280.0 233.5 276.0 235.0 273.8 239.0 273.4 251.0 275.0 271.0 273.6 273.0 273.8 281.0 276.7 291.0 276.8 295.0 274.9 303.0 266.4 311.5 262.0 317.5 258.0 320.6 254.0 321.2 248.0 317.5 232.0 316.7 230.0 312.7 226.0 312.6 224.0 329.0 215.8 333.7 212.0 334.7 210.0 335.7 204.0 340.0 196.0 341.2 188.0 342.5 186.0 355.0 184.3 359.0 181.4 363.7 176.0 367.0 173.9 375.0 173.0 383.0 169.9 403.0 168.4 427.0 158.3 449.0 157.9 451.0 157.3 455.8 154.0 459.0 153.1 473.0 152.3 477.0 152.7 489.0 155.9 497.0 159.3 517.0 164.4 521.0 164.6 529.0 163.4 542.4 158.0 553.0 150.6 557.0 148.9 561.0 149.7 569.0 153.3 575.0 153.0 579.0 150.9 584.8 144.0 585.9 140.0 586.6 132.0 586.5 128.0 585.4 124.0 583.0 120.3 580.6 118.0 571.0 112.1 559.0 106.0 551.0 99.3 547.0 97.1 543.0 97.5 533.0 101.6 529.0 101.6 505.0 95.7 501.6 94.0 500.0 92.0 499.4 90.0 501.0 87.9 519.0 85.1 525.0 82.5 533.0 77.6 546.8 66.0 551.0 60.0 552.4 56.0z"/>
<path fill="#ff4400" d="M555.0 56.0 675.0 56.0 675.0 564.0 125.0 564.0 125.0 455.9 127.0 456.4 133.0 460.4 139.0 460.2 147.0 462.5 157.0 461.3 160.4 460.0 163.2 458.0 169.0 449.9 177.0 445.5 179.0 443.8 181.6 440.0 183.2 432.0 187.6 424.0 189.1 418.0 189.4 408.0 186.8 398.0 189.0 388.0 186.9 382.0 187.9 372.0 195.8 354.0 196.2 350.0 194.5 344.0 194.4 340.0 199.3 330.0 201.1 324.0 200.4 322.0 194.4 318.0 193.8 316.0 194.6 312.0 197.0 308.0 200.3 306.0 209.0 303.0 219.0 298.2 230.6 290.0 232.4 288.0 232.4 282.0 233.2 278.0 235.0 274.7 236.5 274.0 251.0 275.3 271.0 273.9 281.0 276.9 291.0 277.0 295.0 275.1 303.0 266.6 311.9 262.0 317.9 258.0 321.0 254.0 321.6 252.0 321.5 248.0 317.8 232.0 317.0 229.9 313.5 226.0 313.6 224.0 329.0 216.2 333.0 213.4 335.1 210.0 336.2 204.0 340.5 196.0 341.8 190.0 343.0 187.4 345.0 186.5 353.0 185.7 357.0 184.1 364.6 176.0 367.0 174.6 375.0 174.6 379.0 172.0 385.0 170.3 403.0 169.4 427.0 159.5 449.0 158.5 451.0 158.0 457.0 154.3 459.0 153.8 473.0 152.8 479.0 153.7 487.0 155.7 495.0 159.3 509.0 162.9 517.0 166.4 521.0 167.2 529.0 165.5 535.2 162.0 544.9 158.0 553.0 152.3 557.0 150.5 561.0 151.3 569.0 155.4 575.0 155.5 579.0 153.7 585.9 146.0 587.2 144.0 588.2 140.0 588.5 130.0 587.9 126.0 585.9 122.0 582.5 118.0 576.4 114.0 559.0 104.8 551.0 98.2 547.0 96.1 543.0 96.6 535.0 100.2 531.0 101.0 510.5 96.0 505.2 94.0 503.0 92.0 502.8 90.0 505.0 88.9 507.7 88.0 517.0 86.7 521.0 85.4 527.0 82.6 535.0 77.6 548.1 66.0 552.5 60.0 553.7 56.0zM601.2 114.0 600.3 116.0 600.5 118.0 601.0 118.7 603.0 118.9 604.9 118.0 605.9 116.0 604.7 114.0 603.0 113.3z"/>
<path fill="#ff3c00" d="M555.0 56.3 675.0 56.0 675.0 564.0 125.0 564.0 125.0 457.0 127.6 458.0 131.0 461.2 133.0 461.8 139.0 461.3 147.0 463.6 157.0 462.0 161.0 460.5 164.4 458.0 169.0 452.0 171.0 450.2 178.4 446.0 181.8 442.0 183.0 439.1 184.5 432.0 189.4 424.0 190.6 420.0 190.3 408.0 187.6 398.0 189.5 388.0 187.6 380.0 188.8 372.0 196.8 352.0 195.0 344.0 195.1 340.0 200.9 328.0 202.0 324.0 201.9 322.0 201.0 320.7 195.8 318.0 194.6 316.0 195.2 312.0 197.0 309.0 201.0 306.4 207.0 304.6 219.0 298.5 231.3 290.0 233.1 288.0 233.4 286.0 232.9 282.0 233.8 278.0 235.0 275.6 237.0 274.5 251.0 275.6 271.0 274.2 281.0 277.1 291.0 277.2 295.0 275.4 303.0 266.8 311.0 262.7 318.3 258.0 321.4 254.0 322.0 252.0 321.9 248.0 318.1 232.0 317.0 229.2 314.3 226.0 314.6 224.0 329.0 216.7 333.0 214.0 335.5 210.0 336.8 204.0 341.0 196.0 342.7 190.0 344.4 188.0 353.0 186.5 357.0 184.9 365.0 176.4 367.0 175.4 369.0 175.2 371.0 175.9 373.0 178.3 375.0 178.9 376.0 178.0 377.8 174.0 383.0 171.3 395.0 170.3 403.0 170.6 427.0 160.7 431.0 160.0 437.0 160.2 449.0 159.1 452.4 158.0 457.0 155.0 459.0 154.5 473.0 153.3 481.0 154.7 489.0 157.0 495.0 160.0 509.8 164.0 517.0 168.4 521.0 169.8 529.0 168.0 535.0 163.9 545.0 159.4 553.0 154.0 557.0 152.2 561.0 153.1 567.0 157.0 571.0 158.0 577.0 157.8 580.2 156.0 588.4 146.0 589.6 144.0 590.6 140.0 590.7 130.0 590.0 126.0 587.7 122.0 583.0 116.7 559.0 103.6 549.0 95.7 545.0 95.1 533.0 100.0 529.0 100.1 520.1 98.0 514.6 96.0 510.0 94.0 507.3 92.0 507.8 90.0 519.0 87.3 525.0 84.9 537.0 77.6 547.7 68.0 552.7 62.0 554.8 58.0zM601.1 112.0 599.6 114.0 598.7 118.0 599.4 120.0 601.0 121.0 603.0 120.9 607.0 118.6 608.1 116.0 607.0 113.9 603.0 111.5z"/>
<path fill="#ff3400" d="M557.0 56.0 675.0 56.0 675.0 564.0 125.0 564.0 125.0 458.5 127.0 459.7 129.0 462.1 131.0 463.1 139.0 462.5 147.0 464.8 159.0 462.1 165.7 458.0 171.0 451.9 179.0 447.0 182.9 442.0 185.5 432.0 190.1 426.0 192.5 420.0 191.2 408.0 188.4 398.0 190.1 388.0 188.5 380.0 189.5 372.0 197.3 352.0 195.6 344.0 195.7 340.0 201.5 328.0 203.3 322.0 203.0 319.8 197.9 318.0 195.7 316.0 195.5 314.0 197.0 310.0 199.2 308.0 207.0 305.7 221.0 297.6 232.1 290.0 233.8 288.0 233.5 282.0 234.4 278.0 235.6 276.0 237.0 275.1 251.0 275.9 271.0 274.5 281.0 277.3 291.0 277.4 295.0 275.6 303.0 267.1 311.0 263.0 318.8 258.0 321.8 254.0 322.4 250.0 317.9 230.0 315.2 226.0 315.7 224.0 329.0 217.2 333.6 214.0 335.9 210.0 337.3 204.0 340.7 198.0 343.0 191.4 345.0 188.8 355.0 186.8 357.0 185.8 365.0 177.3 367.0 176.2 369.0 176.2 372.9 180.0 375.0 180.4 377.0 179.1 379.5 174.0 383.0 172.1 395.0 171.2 403.0 172.1 411.0 168.2 429.0 161.2 437.0 161.0 449.0 159.7 453.0 158.4 457.0 155.8 459.0 155.2 471.0 153.8 477.0 154.2 485.0 156.2 495.0 160.6 509.0 164.5 511.9 166.0 517.0 170.1 521.0 171.7 531.0 169.7 538.5 164.0 557.0 154.0 561.0 155.0 569.0 160.4 577.0 160.8 581.0 159.3 591.0 146.0 592.2 144.0 593.1 140.0 593.4 130.0 592.7 126.0 585.0 116.7 581.0 113.7 559.0 102.4 549.0 94.6 545.0 94.1 533.0 99.1 529.0 99.3 517.7 96.0 514.9 94.0 513.4 92.0 515.3 90.0 527.0 85.3 539.0 77.7 549.0 68.4 554.6 62.0 555.8 60.0 556.6 56.0zM602.9 110.0 601.0 110.4 599.0 112.7 597.8 116.0 597.4 120.0 599.0 122.9 603.0 122.9 608.6 120.0 610.2 118.0 610.4 116.0 607.0 112.0 603.0 110.0zM207.7 312.0 207.4 314.0 209.0 315.1 210.1 314.0 210.2 312.0 209.0 310.7z"/>
<path fill="#ff2c00" d="M559.0 56.0 675.0 56.0 675.0 564.0 125.0 564.0 125.0 464.9 129.0 465.1 139.0 463.7 147.0 465.9 159.0 462.8 164.5 460.0 171.0 453.7 179.4 448.0 183.0 444.1 186.5 432.0 191.9 426.0 194.4 420.0 192.1 408.0 189.2 398.0 190.6 388.0 189.3 380.0 190.0 374.0 190.9 370.0 197.9 352.0 196.1 344.0 196.3 340.0 205.0 320.6 211.6 314.0 211.7 312.0 211.0 310.1 209.1 308.0 208.7 306.0 210.5 304.0 221.0 297.9 227.0 293.4 232.8 290.0 234.5 288.0 234.3 280.0 235.0 277.9 237.0 275.8 239.0 275.4 251.0 276.3 271.0 274.8 281.0 277.5 291.0 277.6 295.0 275.8 303.0 267.3 315.0 260.9 319.3 258.0 322.2 254.0 322.8 250.0 321.8 244.0 319.1 236.0 318.3 230.0 316.1 226.0 316.9 224.0 331.0 216.6 334.1 214.0 336.4 210.0 337.8 204.0 345.0 190.0 347.0 189.0 353.0 188.1 357.0 186.7 365.0 178.3 367.0 177.2 369.0 177.6 373.0 180.9 375.0 181.3 377.5 180.0 381.0 174.1 383.0 173.1 395.0 172.0 401.0 173.9 403.0 173.9 411.0 169.3 429.0 162.3 437.0 161.8 450.2 160.0 459.0 155.9 471.0 154.4 477.0 154.8 485.0 156.8 495.0 161.2 509.0 165.3 517.0 171.6 521.0 173.2 533.0 171.8 537.9 170.0 543.4 164.0 553.0 157.8 557.0 156.0 559.0 156.2 562.0 158.0 565.9 162.0 568.9 166.0 569.0 167.1 569.2 166.0 577.0 164.2 583.0 161.2 586.5 158.0 589.4 152.0 595.4 144.0 597.0 135.2 599.0 129.6 600.7 128.0 609.0 123.4 612.8 120.0 613.5 118.0 613.1 116.0 611.6 114.0 605.0 109.1 603.0 108.5 601.0 108.8 598.2 112.0 595.0 121.1 593.0 121.8 591.0 120.6 583.0 113.2 573.0 108.7 559.0 101.1 549.0 93.5 545.0 93.1 533.5 98.0 531.0 98.5 526.9 98.0 520.8 96.0 518.5 94.0 518.3 92.0 520.3 90.0 535.0 82.3 543.4 76.0 556.8 62.0 558.0 60.0 558.8 56.0zM565.0 168.0 560.7 170.0 558.7 172.0 558.9 174.0 560.4 176.0 563.0 177.3 565.0 177.1 567.0 176.0 568.8 174.0 569.5 170.0 569.0 168.0 567.0 167.1 565.0 168.0zM203.0 307.9 205.0 309.0 205.5 310.0 205.3 314.0 204.4 316.0 203.0 317.1 201.0 317.5 197.1 316.0 196.5 314.0 196.8 312.0 198.2 310.0 201.0 308.2 202.5 308.0z"/>
<path fill="#ff2400" d="M563.0 56.0 675.0 56.0 675.0 564.0 125.0 564.0 125.0 470.5 135.0 465.5 139.0 465.1 147.0 467.1 161.0 462.8 166.0 460.0 172.5 454.0 179.0 449.6 183.0 446.0 184.7 442.0 187.0 432.7 189.0 430.2 192.0 428.0 194.7 424.0 196.1 420.0 196.0 418.0 189.9 398.0 191.1 388.0 190.0 380.0 190.7 374.0 191.6 370.0 198.4 352.0 196.6 344.0 196.9 340.0 205.3 322.0 207.0 319.7 211.3 316.0 212.5 314.0 212.7 312.0 210.1 306.0 211.5 304.0 221.0 298.2 227.0 293.7 233.7 290.0 235.2 288.0 234.9 280.0 237.0 276.6 239.0 276.0 251.0 276.6 271.0 275.1 281.0 277.7 291.0 277.8 295.0 276.0 303.0 267.5 315.0 261.2 319.8 258.0 322.7 254.0 323.1 250.0 322.1 244.0 319.4 236.0 318.7 230.0 317.1 226.0 318.2 224.0 331.0 217.1 334.7 214.0 336.8 210.0 338.3 204.0 345.0 191.2 347.0 189.9 357.0 187.6 365.0 179.3 367.0 178.3 369.0 178.9 373.0 181.8 375.0 182.1 378.5 180.0 381.0 175.7 383.0 174.1 385.0 173.5 395.0 173.6 396.9 174.0 399.0 175.8 401.0 176.4 403.0 175.9 411.0 170.4 429.0 163.3 451.0 160.4 459.0 156.6 473.0 154.8 479.0 155.7 487.0 157.9 495.0 161.8 508.7 166.0 519.0 174.1 521.0 174.5 529.0 174.0 535.0 174.8 541.0 174.7 547.0 177.2 549.0 177.2 555.0 175.8 563.0 179.6 565.0 179.4 567.7 178.0 570.3 176.0 575.3 170.0 589.1 160.0 591.0 158.1 593.3 152.0 599.3 146.0 603.0 137.8 615.0 125.5 617.0 121.6 617.5 118.0 616.8 116.0 615.0 114.0 605.0 107.4 603.0 106.8 601.0 107.2 599.0 108.9 595.0 117.1 593.0 118.8 591.0 118.1 583.0 111.4 574.1 108.0 565.0 102.3 559.0 99.7 549.0 92.2 545.0 91.9 535.0 96.3 531.0 97.4 524.5 96.0 521.9 94.0 522.2 92.0 524.4 90.0 541.0 80.7 545.0 77.6 560.1 62.0 561.2 60.0 562.1 56.0zM134.9 476.0 134.1 478.0 134.1 480.0 135.0 482.4 137.0 484.1 139.0 481.1 139.3 478.0 138.5 476.0 137.0 475.0 135.0 475.9zM136.7 490.0 135.0 490.5 133.8 494.0 135.0 496.4 137.0 496.3 137.8 494.0 137.0 489.8zM555.0 159.0 557.0 158.3 559.0 158.6 561.1 160.0 562.5 162.0 562.9 164.0 562.0 166.0 559.0 168.1 555.0 169.1 551.4 168.0 548.3 166.0 548.4 164.0 553.0 160.0zM201.0 309.7 203.0 310.4 203.6 312.0 203.0 314.5 201.0 315.7 199.0 315.3 198.0 314.0 198.3 312.0 200.4 310.0z"/>
<path fill="#ff1c00" d="M569.0 56.0 625.7 56.0 627.0 60.0 629.7 62.0 639.0 63.8 643.0 63.4 646.0 62.0 648.2 60.0 650.5 56.0 675.0 56.0 675.0 564.0 125.0 564.0 125.0 472.9 129.0 471.7 135.0 467.6 139.0 467.0 147.0 468.3 161.0 463.5 167.6 460.0 183.0 447.4 185.0 444.0 187.1 434.0 189.0 431.2 193.8 428.0 195.1 426.0 197.1 422.0 197.5 418.0 190.6 398.0 191.6 388.0 190.7 380.0 191.4 374.0 194.2 364.0 198.9 352.0 197.1 344.0 197.4 340.0 206.0 322.0 213.0 314.7 213.3 312.0 211.3 306.0 212.3 304.0 227.0 294.0 234.7 290.0 236.1 288.0 235.2 282.0 235.5 280.0 237.0 277.4 239.0 276.6 249.0 277.0 271.0 275.4 281.0 277.9 291.0 278.0 295.3 276.0 303.0 267.7 317.0 260.4 320.3 258.0 323.2 254.0 323.6 250.0 322.5 244.0 319.7 236.0 318.1 226.0 319.6 224.0 329.0 219.0 335.3 214.0 337.3 210.0 338.8 204.0 345.5 192.0 347.0 190.9 357.0 188.5 359.0 187.0 365.0 180.4 367.0 179.5 373.0 182.5 377.0 182.2 379.4 180.0 382.2 176.0 385.0 174.7 391.0 175.3 397.0 178.0 401.0 178.3 403.0 177.5 411.0 171.5 430.1 164.0 439.0 163.2 451.0 161.0 459.0 157.3 473.0 155.4 485.5 158.0 495.0 162.5 507.0 166.1 510.6 168.0 517.0 174.1 519.0 175.2 529.0 175.4 535.0 177.3 541.0 177.4 547.0 180.1 555.0 179.7 563.0 181.9 567.0 180.8 571.6 178.0 579.0 172.3 585.3 166.0 592.8 160.0 597.0 153.4 605.0 147.7 609.0 141.7 615.0 135.3 617.0 132.1 621.0 122.0 621.4 118.0 619.3 114.0 617.0 112.1 611.0 109.3 605.0 105.2 603.0 104.6 601.0 105.1 599.0 107.0 595.0 114.0 593.1 116.0 591.0 115.6 583.9 110.0 575.0 107.0 565.0 100.4 558.8 98.0 549.0 90.7 545.0 90.4 531.0 96.0 529.0 95.7 526.1 94.0 526.5 92.0 528.8 90.0 544.0 82.0 547.0 79.8 562.9 64.0 568.9 56.0zM639.9 80.0 638.9 82.0 640.6 84.0 645.0 84.8 649.0 84.0 650.4 82.0 649.0 79.6 645.0 78.8 641.0 79.4zM135.2 472.0 132.8 474.0 131.5 478.0 131.6 480.0 133.9 486.0 132.0 494.0 132.5 496.0 134.1 498.0 137.0 498.7 139.4 496.0 139.4 486.0 141.0 478.0 139.7 474.0 137.0 471.8zM557.0 161.5 558.6 162.0 559.1 164.0 557.0 165.1 554.2 164.0 555.3 162.0z"/>
<path fill="#ff1400" d="M583.0 56.0 598.4 56.0 600.0 64.0 601.0 65.8 605.0 67.5 653.0 67.9 665.0 69.2 675.0 67.4 675.0 564.0 125.0 564.0 125.0 475.7 127.1 476.0 128.5 480.0 131.9 486.0 130.7 494.0 132.1 498.0 135.0 500.3 137.0 500.4 139.0 499.4 140.9 496.0 140.6 488.0 142.3 478.0 141.1 472.0 141.7 470.0 147.0 469.6 154.7 466.0 161.7 464.0 167.0 461.4 171.0 458.6 183.8 448.0 185.2 446.0 187.7 434.0 189.2 432.0 195.0 428.4 197.0 424.9 198.9 420.0 199.0 418.0 191.9 400.0 191.0 396.0 192.2 388.0 191.4 380.0 192.0 374.0 195.4 362.0 199.5 352.0 197.7 344.0 198.0 340.0 206.8 322.0 213.0 316.0 213.9 312.0 212.1 306.0 213.1 304.0 227.0 294.4 235.9 290.0 237.0 288.0 235.9 282.0 236.2 280.0 237.4 278.0 239.0 277.2 249.0 277.3 271.0 275.7 281.0 278.1 291.0 278.2 295.6 276.0 303.0 267.9 317.0 260.7 320.8 258.0 323.7 254.0 324.1 250.0 322.3 242.0 320.0 236.0 319.2 226.0 321.0 224.1 327.0 221.0 335.0 215.1 337.0 212.0 340.3 202.0 345.0 193.8 346.9 192.0 357.0 189.4 359.0 188.0 365.0 181.5 367.0 180.6 373.0 183.2 377.0 182.8 379.0 181.5 383.0 176.7 385.0 175.9 389.0 176.6 397.0 179.6 401.0 179.6 404.2 178.0 413.0 171.7 431.0 164.7 439.0 164.0 445.0 162.3 451.0 161.5 459.0 158.0 473.0 155.9 485.0 158.4 495.0 163.1 507.0 166.9 511.0 169.3 517.0 175.2 519.0 176.3 529.0 176.9 535.0 179.4 541.0 179.4 549.0 183.4 565.0 184.2 573.0 181.2 581.0 179.5 583.0 178.6 588.7 168.0 597.0 158.8 601.0 155.4 610.5 150.0 617.0 142.2 622.2 130.0 624.7 122.0 625.2 118.0 623.5 114.0 621.0 111.4 617.0 108.6 610.4 106.0 605.0 100.9 603.0 100.5 601.0 102.0 593.0 113.2 591.0 112.9 585.0 108.4 576.5 106.0 572.8 104.0 567.0 99.1 559.0 96.1 551.0 89.5 545.0 86.3 544.8 86.0 547.0 84.8 565.0 67.2 569.0 64.9 575.0 63.9 579.0 61.6 581.0 58.9 581.8 56.0zM638.7 76.0 635.1 78.0 634.1 80.0 634.2 84.0 635.5 86.0 641.0 87.8 651.0 87.3 653.7 86.0 654.9 84.0 655.0 80.0 653.0 77.0 647.0 75.3 639.0 75.9zM664.0 98.0 665.4 98.0 665.0 96.7zM539.0 87.5 543.0 86.9 544.3 88.0 536.1 92.0 532.6 92.0 534.3 90.0 537.6 88.0z"/>
<path fill="#ff0c00" d="M581.0 77.8 587.0 76.2 590.0 78.0 601.4 82.0 605.2 84.0 604.8 86.0 601.0 93.2 597.2 104.0 595.0 107.8 593.0 109.9 591.0 109.7 585.0 105.7 577.0 104.0 573.7 102.0 570.1 98.0 565.5 90.0 564.6 88.0 564.6 86.0 569.0 81.6 573.0 79.3 579.6 78.0zM641.0 97.8 647.0 97.0 651.0 97.1 657.5 102.0 663.0 103.7 669.0 103.3 675.0 101.8 675.0 564.0 125.0 564.0 125.0 482.5 127.0 482.9 128.6 484.0 129.8 486.0 129.3 494.0 131.0 498.8 133.0 501.2 135.0 502.0 139.0 501.2 141.0 499.1 142.2 496.0 141.9 486.0 143.5 478.0 143.6 474.0 144.5 472.0 153.0 467.4 163.0 464.3 167.9 462.0 183.0 449.9 185.1 448.0 186.1 446.0 188.3 434.0 191.0 431.5 195.0 430.1 196.6 428.0 199.6 422.0 200.2 418.0 192.7 400.0 191.6 396.0 192.7 388.0 192.1 380.0 193.0 372.0 196.6 360.0 200.1 352.0 198.2 344.0 198.5 340.0 206.1 324.0 209.0 320.3 213.6 316.0 214.4 312.0 213.0 306.0 213.8 304.0 227.0 294.7 237.5 290.0 238.2 288.0 236.5 282.0 237.0 279.8 238.7 278.0 271.0 276.0 281.0 278.3 291.0 278.5 295.9 276.0 303.3 268.0 317.0 261.0 321.0 258.4 323.3 256.0 324.7 252.0 323.9 246.0 320.3 236.0 320.5 226.0 331.0 219.1 336.4 214.0 340.8 202.0 345.0 195.1 347.0 192.9 357.0 190.3 360.0 188.0 365.0 182.6 367.0 181.7 373.0 183.8 377.0 183.4 379.4 182.0 383.0 178.1 385.0 177.3 387.0 177.5 395.0 180.4 401.0 180.6 405.0 178.6 413.0 172.7 425.0 168.6 431.0 165.7 439.0 164.8 445.0 163.0 453.0 161.6 459.0 158.8 473.0 156.5 485.0 159.0 493.0 163.0 507.0 167.7 511.0 170.4 517.0 176.4 519.0 177.4 529.0 178.3 535.0 181.3 539.0 180.9 541.0 181.3 549.0 186.4 563.0 187.5 587.8 186.0 590.0 184.0 592.3 172.0 593.8 168.0 596.6 164.0 601.0 160.4 616.7 152.0 619.0 149.7 623.9 138.0 629.7 120.0 630.5 114.0 630.4 102.0 631.0 100.9 639.7 98.0z"/>
<path fill="#ff0400" d="M577.0 93.8 581.0 92.8 589.0 92.7 593.0 93.0 595.0 94.0 595.8 96.0 595.6 100.0 595.0 102.3 593.0 104.9 591.0 104.4 587.0 102.1 579.0 101.0 577.0 100.2 575.1 98.0 575.0 96.0 576.7 94.0zM649.0 107.6 657.0 106.8 669.0 107.1 675.0 108.0 675.0 564.0 125.0 564.0 125.0 485.3 127.0 486.0 127.8 488.0 127.8 496.0 130.9 502.0 133.0 503.4 135.0 503.6 137.0 503.4 140.1 502.0 141.9 500.0 143.4 496.0 142.9 486.0 145.7 474.0 153.4 468.0 167.0 463.5 175.0 458.1 186.2 448.0 186.9 446.0 187.6 438.0 189.0 433.9 191.0 432.3 195.0 431.2 197.0 429.4 200.7 422.0 201.4 418.0 200.1 414.0 193.0 399.0 192.2 394.0 193.3 388.0 192.8 380.0 193.6 372.0 197.0 360.0 200.7 352.0 198.7 344.0 199.1 340.0 207.0 323.5 214.1 316.0 215.0 312.0 213.6 306.0 214.5 304.0 229.0 293.9 239.9 290.0 237.2 282.0 237.8 280.0 239.0 278.7 241.0 278.0 249.0 278.0 261.0 276.7 271.0 276.3 281.0 278.5 291.0 278.7 296.2 276.0 303.8 268.0 321.0 258.8 323.9 256.0 325.2 252.0 323.9 244.0 320.7 236.0 321.0 227.8 322.3 226.0 327.0 223.3 335.5 216.0 338.0 212.0 341.0 202.7 347.0 194.0 357.0 191.2 359.0 189.9 365.0 183.7 367.0 182.8 373.0 184.4 377.0 184.1 380.4 182.0 383.0 179.4 385.0 178.6 395.0 181.4 401.0 181.5 404.4 180.0 413.0 173.8 419.0 171.3 427.0 169.1 431.0 166.8 439.0 165.6 445.0 163.6 453.0 162.2 459.0 159.5 473.0 157.1 479.0 157.9 485.0 159.6 493.0 163.7 505.1 168.0 509.2 170.0 517.0 177.5 521.0 178.9 529.0 179.7 533.0 182.5 535.0 183.1 539.0 182.6 541.0 183.1 547.0 188.0 551.0 189.9 569.0 191.2 583.0 191.1 589.5 190.0 592.5 188.0 593.6 186.0 596.2 174.0 598.9 168.0 600.9 166.0 615.0 158.8 623.7 156.0 625.0 154.8 626.0 146.0 636.2 120.0 640.3 114.0 645.0 109.8 648.0 108.0z"/>
<path fill="#fc0000" d="M651.0 111.6 659.0 110.3 675.0 110.7 675.0 564.0 125.0 564.0 125.0 502.7 127.0 504.0 133.0 505.1 139.0 504.2 141.0 502.9 144.3 498.0 144.6 496.0 143.9 486.0 146.6 476.0 147.8 474.0 151.8 470.0 154.9 468.0 165.0 465.3 171.0 462.5 185.6 450.0 187.2 448.0 187.7 446.0 188.1 438.0 189.0 435.0 191.0 433.0 195.0 432.2 197.0 431.0 200.8 424.0 202.4 420.0 202.0 416.0 193.3 398.0 192.7 394.0 193.9 388.0 193.4 380.0 194.6 370.0 197.5 360.0 201.2 352.0 199.2 344.0 199.6 340.0 207.3 324.0 214.7 316.0 215.4 312.0 214.2 306.0 215.1 304.0 229.0 294.3 241.0 291.6 243.9 290.0 239.0 285.3 238.0 282.0 239.0 279.6 241.0 278.7 263.0 276.8 273.0 276.7 281.0 278.8 287.0 279.1 291.0 278.9 295.0 277.3 304.2 268.0 320.1 260.0 324.6 256.0 325.6 254.0 325.8 250.0 324.4 244.0 321.0 236.0 321.4 230.0 323.0 227.0 327.0 224.8 337.0 215.0 338.6 212.0 341.0 203.7 347.0 195.1 349.0 193.9 357.0 192.1 359.9 190.0 365.0 184.8 367.0 183.8 373.0 185.0 377.0 184.6 385.0 179.9 393.1 182.0 401.0 182.3 405.0 180.5 413.0 174.9 419.0 172.2 427.0 170.3 433.0 167.1 439.0 166.5 446.0 164.0 453.0 162.8 459.0 160.3 473.0 157.7 484.2 160.0 503.0 169.2 507.0 170.1 511.0 172.9 517.0 178.9 521.0 180.0 527.0 180.5 529.0 181.3 533.0 184.3 535.0 184.7 539.0 184.3 541.0 184.9 547.0 191.0 549.0 192.3 551.0 192.8 557.0 193.3 565.0 194.8 577.0 195.0 585.0 194.3 591.0 192.5 593.0 191.2 595.6 188.0 598.6 178.0 602.1 172.0 604.1 170.0 613.0 165.3 619.0 162.9 623.0 162.4 629.0 162.9 633.0 161.6 634.2 160.0 634.6 158.0 631.1 148.0 631.5 144.0 642.4 120.0 645.3 116.0 650.3 112.0zM496.7 172.0 493.3 174.0 493.0 176.3 495.3 180.0 498.3 182.0 501.0 182.5 503.0 181.6 503.8 180.0 504.3 176.0 503.6 174.0 501.0 171.5 497.0 171.9z"/>
<path fill="#f70000" d="M659.0 113.7 675.0 113.3 675.0 564.0 125.0 564.0 125.0 508.3 129.0 506.9 139.0 505.6 143.0 502.5 144.7 500.0 145.8 496.0 144.7 488.0 145.2 484.0 147.3 478.0 151.1 472.0 155.0 468.7 165.0 466.3 171.0 463.7 176.1 460.0 181.8 454.0 186.8 450.0 188.2 448.0 188.3 440.0 189.1 436.0 191.0 433.6 197.0 432.4 201.8 424.0 203.4 420.0 203.1 416.0 193.9 398.0 193.3 394.0 194.5 388.0 194.0 380.0 195.2 370.0 198.0 360.0 201.9 352.0 199.8 344.0 200.2 340.0 207.8 324.0 215.2 316.0 215.8 312.0 214.8 306.0 215.7 304.0 229.0 294.7 233.0 293.6 243.0 292.8 245.9 292.0 246.5 290.0 241.0 286.3 239.2 284.0 238.8 282.0 239.8 280.0 243.0 279.1 263.0 277.1 273.0 277.0 281.0 279.0 287.0 279.3 291.0 279.1 295.0 277.5 304.6 268.0 320.8 260.0 325.3 256.0 326.3 254.0 326.5 250.0 324.3 242.0 321.5 236.0 321.3 234.0 322.3 230.0 323.0 228.7 329.0 224.7 337.0 215.9 339.1 212.0 341.4 204.0 347.0 196.1 349.0 194.9 357.0 193.1 361.0 190.0 365.0 185.9 367.0 184.9 373.0 185.5 377.0 185.2 385.0 181.1 393.0 182.7 401.0 183.0 403.9 182.0 413.0 176.0 419.0 173.2 427.0 171.5 433.0 168.0 441.0 166.9 445.0 165.1 453.0 163.5 459.0 161.2 465.0 160.6 471.0 158.7 475.0 158.5 485.0 161.1 493.4 166.0 496.4 168.0 491.0 171.2 489.9 174.0 491.0 180.1 492.1 182.0 495.2 184.0 501.0 185.4 505.0 185.1 506.2 184.0 506.7 182.0 506.9 174.0 509.0 173.3 517.0 180.4 519.0 181.2 527.0 182.0 533.0 186.2 539.0 186.0 541.0 186.9 547.0 194.2 549.0 195.4 557.0 196.3 565.0 198.5 569.0 198.7 579.0 198.4 589.0 196.0 593.0 194.0 595.4 192.0 598.1 188.0 601.0 181.1 605.1 176.0 609.0 172.9 617.0 169.1 621.0 168.0 625.0 167.8 637.0 169.4 639.0 168.8 641.0 167.2 643.0 164.0 643.1 160.0 637.2 148.0 636.6 146.0 636.9 142.0 647.0 121.1 652.3 116.0 657.1 114.0z"/>
<path fill="#f20000" d="M659.0 117.6 667.0 117.1 675.0 118.1 675.0 564.0 125.0 564.0 125.0 510.1 131.0 508.0 139.0 507.0 143.0 504.4 146.9 498.0 147.1 496.0 145.7 488.0 146.3 484.0 152.2 472.0 154.1 470.0 157.0 468.7 165.0 467.3 169.0 465.8 173.0 463.7 177.8 460.0 183.0 454.0 188.0 450.0 189.2 448.0 188.8 440.0 189.7 436.0 191.0 434.4 197.0 433.6 199.0 431.4 203.0 423.6 204.3 420.0 203.3 414.0 194.6 398.0 193.9 394.0 195.2 388.0 194.7 380.0 195.7 370.0 198.5 360.0 202.0 354.0 202.5 352.0 200.3 344.0 200.7 340.0 208.3 324.0 215.7 316.0 216.2 312.0 215.4 306.0 216.2 304.0 229.0 295.1 233.0 294.2 243.6 294.0 247.8 292.0 248.0 290.0 247.0 288.7 242.2 286.0 240.2 284.0 239.8 282.0 241.0 280.2 263.0 277.4 273.0 277.3 281.0 279.2 287.0 279.5 291.0 279.3 295.0 277.8 305.0 268.1 321.5 260.0 326.1 256.0 327.1 254.0 327.2 250.0 325.6 244.0 322.0 236.0 322.4 232.0 323.5 230.0 329.0 226.5 337.7 216.0 339.7 212.0 342.1 204.0 347.0 197.2 349.0 195.9 357.0 194.0 367.0 185.9 377.0 185.8 385.0 182.2 393.0 183.5 401.0 183.8 405.0 182.3 417.0 175.0 421.0 173.4 427.0 172.5 433.0 168.9 441.0 168.0 447.0 165.2 455.0 163.7 459.0 162.0 465.0 161.9 473.0 159.3 479.0 160.0 485.2 162.0 489.9 166.0 490.1 168.0 489.0 169.2 488.2 172.0 489.9 182.0 491.0 184.0 496.4 186.0 505.0 187.5 516.7 186.0 513.0 184.7 511.0 183.0 510.4 180.0 511.0 178.5 517.0 183.7 527.0 183.8 533.0 188.5 539.1 188.0 541.7 190.0 545.5 196.0 547.0 197.5 549.0 198.3 555.0 199.0 563.0 201.5 569.0 202.0 579.0 201.6 589.0 198.7 595.0 195.3 598.1 192.0 603.4 184.0 609.0 178.9 615.0 175.5 619.0 174.0 625.0 173.1 629.0 173.4 639.0 175.6 643.0 175.8 646.6 174.0 648.4 172.0 651.2 168.0 651.8 164.0 650.4 160.0 642.8 146.0 642.1 144.0 642.4 140.0 650.0 124.0 653.0 120.8 657.7 118.0z"/>
<path fill="#ed0000" d="M661.0 121.4 665.0 121.2 668.3 122.0 673.0 127.2 675.0 127.6 675.0 564.0 125.0 564.0 125.0 511.6 131.0 509.2 139.0 508.4 141.0 507.8 143.2 506.0 146.5 502.0 148.3 498.0 148.4 496.0 146.9 490.0 146.9 486.0 153.3 472.0 157.0 469.4 165.0 468.2 169.0 466.9 174.4 464.0 179.0 460.4 183.0 455.2 189.2 450.0 190.2 448.0 189.3 440.0 190.3 436.0 193.0 434.4 197.0 434.6 198.1 434.0 203.7 424.0 205.2 420.0 204.2 414.0 202.6 410.0 195.2 398.0 194.5 394.0 195.9 388.0 195.3 380.0 196.6 368.0 199.0 360.0 202.6 354.0 203.1 352.0 200.9 344.0 201.0 341.2 208.8 324.0 214.9 318.0 216.1 316.0 216.6 312.0 215.9 306.0 216.8 304.0 229.0 295.5 233.0 294.9 245.0 294.8 247.2 294.0 249.0 292.3 249.0 289.5 247.8 288.0 241.4 284.0 241.0 281.8 243.0 280.4 244.9 280.0 261.0 277.8 273.0 277.6 281.0 279.4 287.0 279.8 291.0 279.6 295.0 278.0 305.8 268.0 321.0 260.8 326.9 256.0 328.0 254.0 328.1 250.0 325.6 242.0 322.6 236.0 323.0 232.3 325.0 230.3 329.3 228.0 338.4 216.0 340.3 212.0 342.7 204.0 347.0 198.3 349.0 196.9 357.0 195.0 367.0 186.9 377.0 186.4 385.0 183.3 399.0 184.6 402.8 184.0 419.0 175.1 427.0 173.5 433.0 169.8 441.0 169.0 447.0 165.9 455.0 164.5 459.0 163.0 467.0 163.0 473.0 160.2 477.0 160.4 483.0 162.0 486.2 164.0 487.4 166.0 487.0 174.0 489.0 183.5 491.0 185.6 503.0 188.6 513.0 189.3 519.0 190.5 524.9 186.0 527.0 186.3 533.0 192.1 537.0 190.8 539.0 190.9 541.0 192.9 544.0 198.0 547.0 200.3 565.0 204.5 581.0 204.2 591.0 200.7 597.0 196.9 603.0 189.6 606.9 186.0 613.0 182.1 619.0 179.5 627.0 178.5 643.0 180.3 649.0 179.7 655.0 176.2 659.0 174.9 660.1 174.0 660.6 172.0 659.9 168.0 657.7 162.0 648.4 144.0 647.5 140.0 648.4 136.0 652.3 128.0 655.0 124.6 659.1 122.0z"/>
<path fill="#e80000" d="M663.0 125.7 665.0 126.0 667.2 128.0 671.0 138.2 672.7 134.0 675.0 131.6 675.0 154.1 673.0 154.2 671.2 156.0 670.5 162.0 671.4 168.0 673.0 171.1 675.0 173.3 675.0 564.0 125.0 564.0 125.0 513.1 133.0 509.9 139.0 510.1 141.0 509.6 145.0 506.0 149.2 500.0 149.7 496.0 148.2 490.0 148.3 486.0 149.0 483.9 153.2 478.0 154.5 472.0 157.4 470.0 165.0 469.2 169.0 468.0 179.1 462.0 183.4 456.0 190.5 450.0 191.3 448.0 189.8 440.0 190.9 436.0 193.0 435.1 197.0 435.7 199.0 434.7 205.6 422.0 205.9 418.0 204.4 412.0 202.4 408.0 195.9 398.0 195.1 394.0 196.6 388.0 195.9 380.0 197.2 368.0 199.0 361.3 203.3 354.0 203.7 352.0 201.5 344.0 201.4 342.0 209.3 324.0 215.5 318.0 216.6 316.0 217.0 312.0 216.4 306.0 217.3 304.0 229.0 295.9 231.0 295.5 243.0 296.0 247.0 295.2 249.0 293.9 250.2 292.0 250.2 290.0 249.1 288.0 242.8 284.0 242.3 282.0 249.1 280.0 261.0 278.1 273.0 278.0 281.0 279.7 287.0 280.0 291.0 279.8 295.0 278.3 306.5 268.0 323.2 260.0 327.9 256.0 329.4 252.0 329.0 250.0 326.4 242.0 323.2 236.0 323.3 234.0 325.0 231.7 329.0 229.8 331.0 228.0 337.8 218.0 340.2 214.0 343.0 204.8 347.0 199.4 349.0 198.0 355.0 196.6 359.0 194.8 367.0 187.9 377.0 187.1 385.0 184.4 399.0 185.3 403.0 184.7 419.0 176.0 423.0 174.8 427.0 174.4 433.0 170.7 435.0 170.1 441.2 170.0 449.0 166.1 461.0 163.8 467.0 164.4 473.0 161.4 477.0 161.4 481.0 162.2 484.4 164.0 485.6 166.0 485.7 172.0 487.6 182.0 488.1 184.0 489.7 186.0 504.9 190.0 513.0 190.8 519.0 193.0 521.0 193.1 525.0 191.3 527.0 191.6 529.6 196.0 532.3 198.0 539.0 197.6 545.0 201.5 549.0 203.4 565.0 206.7 581.0 206.7 589.0 205.0 598.5 200.0 606.8 192.0 612.3 188.0 617.0 185.5 621.0 184.3 631.0 183.1 647.0 184.0 657.0 183.8 667.0 184.7 673.4 184.0 674.8 182.0 674.5 180.0 667.0 169.1 653.2 140.0 653.2 136.0 655.0 131.5 657.6 128.0 661.1 126.0z"/>
<path fill="#e30000" d="M661.0 131.9 663.0 131.8 664.5 134.0 665.2 140.0 664.4 144.0 663.0 144.8 658.9 138.0 659.0 134.5 660.8 132.0zM473.0 163.0 479.0 162.8 482.3 164.0 484.0 166.0 487.0 183.6 489.0 186.6 503.0 190.5 513.0 192.0 521.0 196.5 529.0 200.0 533.0 200.9 541.0 201.4 553.0 207.4 569.0 208.9 583.0 208.8 589.0 208.0 595.0 205.5 601.8 204.0 617.0 190.4 621.0 188.7 627.0 187.4 639.0 186.6 659.0 188.4 667.0 189.8 670.1 192.0 671.5 196.0 672.8 210.0 675.0 212.3 675.0 564.0 125.0 564.0 125.0 514.9 133.0 511.7 139.0 512.6 141.0 512.0 145.0 508.3 149.0 503.3 150.9 500.0 151.1 496.0 149.4 488.0 151.0 484.0 155.0 480.0 155.4 478.0 154.9 474.0 155.9 472.0 159.0 470.6 165.0 470.2 169.0 469.1 175.2 466.0 180.8 462.0 184.6 456.0 191.8 450.0 192.6 448.0 190.5 442.0 191.0 437.0 193.0 435.7 197.0 436.9 199.0 436.4 206.5 422.0 206.6 418.0 204.5 410.0 197.0 398.8 195.8 396.0 195.7 394.0 197.3 388.0 196.5 380.0 197.0 372.0 199.2 362.0 204.0 354.0 204.3 352.0 202.1 344.0 202.6 340.0 209.8 324.0 216.0 318.0 217.0 316.0 217.4 312.0 216.9 306.0 217.8 304.0 225.0 298.6 229.0 296.4 231.0 296.0 237.0 297.2 243.0 297.0 247.0 296.2 249.0 295.1 251.0 292.4 251.2 290.0 249.0 286.8 244.6 284.0 244.3 282.0 251.5 280.0 263.0 278.3 273.0 278.3 285.0 280.2 293.0 279.6 297.0 277.2 304.4 270.0 307.3 268.0 321.0 261.7 326.9 258.0 330.2 254.0 330.6 252.0 328.0 244.0 324.2 236.0 324.5 234.0 330.6 230.0 332.4 228.0 340.0 216.0 343.3 206.0 347.0 200.7 349.0 199.2 357.0 197.0 359.0 195.9 367.0 189.1 369.0 188.4 377.0 187.7 385.0 185.4 399.0 185.9 403.0 185.4 419.0 176.9 423.0 175.6 427.0 175.2 435.0 170.9 441.0 170.9 449.0 166.8 461.0 164.9 467.0 165.6 471.1 164.0z"/>
<path fill="#de0000" d="M477.0 163.8 481.0 164.8 482.4 166.0 486.3 184.0 487.2 186.0 489.0 187.5 503.0 191.4 513.0 193.1 522.9 200.0 531.0 202.2 541.0 203.2 546.1 206.0 551.0 209.9 553.0 210.3 585.0 210.7 597.0 208.3 603.0 210.4 605.0 209.4 610.6 202.0 619.0 194.2 623.2 192.0 631.0 190.4 641.0 190.0 660.3 192.0 665.0 193.3 667.5 196.0 669.1 214.0 671.0 215.8 675.0 215.0 675.0 564.0 125.0 564.0 125.0 526.0 135.0 523.1 137.0 521.8 151.0 503.3 152.5 500.0 152.7 498.0 151.2 488.0 152.2 486.0 156.1 482.0 157.3 480.0 157.5 478.0 156.5 474.0 157.0 472.9 159.0 471.6 165.0 471.2 169.5 470.0 181.0 463.6 185.9 456.0 193.2 450.0 194.2 448.0 191.1 442.0 191.2 438.0 193.0 436.6 197.0 438.2 199.0 438.2 207.4 422.0 207.3 418.0 205.0 409.2 197.2 398.0 196.4 396.0 196.4 394.0 198.0 388.0 197.2 380.0 197.6 372.0 199.8 362.0 204.6 354.0 204.7 350.0 202.7 344.0 203.0 340.7 210.3 324.0 217.0 317.1 217.8 314.0 217.4 306.0 218.4 304.0 225.0 299.0 229.0 296.9 231.0 296.7 237.0 298.2 241.0 298.2 245.0 297.8 249.0 296.2 251.2 294.0 252.0 290.0 251.0 287.7 246.5 284.0 246.8 282.0 253.4 280.0 263.0 278.7 273.0 278.6 285.0 280.4 293.0 279.8 297.0 277.5 305.0 270.1 308.2 268.0 323.0 261.2 328.0 258.0 331.5 254.0 332.0 252.0 325.4 236.0 326.3 234.0 331.0 231.1 333.8 228.0 340.8 216.0 344.3 206.0 347.0 202.0 350.1 200.0 359.0 197.0 367.0 190.4 385.0 186.4 399.0 186.6 403.0 186.1 419.0 177.9 423.0 176.5 427.0 176.0 435.0 171.7 441.0 171.8 443.0 171.2 449.0 167.6 461.0 166.0 469.0 166.4 475.1 164.0z"/>
<path fill="#da0000" d="M475.0 165.6 479.0 165.5 481.0 166.6 481.9 168.0 484.6 178.0 485.5 184.0 486.3 186.0 488.3 188.0 503.0 192.3 513.0 194.3 519.0 199.6 523.0 201.4 533.0 203.8 541.0 204.7 545.0 207.1 549.0 211.7 551.0 212.9 559.0 212.1 585.0 212.5 595.0 211.2 597.5 212.0 603.0 216.8 605.0 217.4 607.1 216.0 614.7 204.0 621.0 198.0 625.0 195.5 631.0 193.9 639.0 193.2 659.0 195.2 663.0 196.7 664.9 200.0 666.3 232.0 667.0 237.4 669.0 242.4 671.0 241.8 674.4 230.0 674.1 228.0 672.1 224.0 671.6 220.0 672.7 218.0 675.0 216.8 675.0 564.0 125.0 564.0 125.0 538.6 127.1 538.0 143.0 528.0 144.7 526.0 145.1 518.0 146.1 514.0 153.6 502.0 154.1 498.0 153.1 490.0 153.7 488.0 157.0 484.0 159.2 480.0 158.5 474.0 161.0 472.7 167.0 471.9 171.0 470.5 179.8 466.0 182.5 464.0 187.0 456.2 194.8 450.0 196.0 448.0 196.2 446.0 193.0 443.6 192.1 442.0 191.7 440.0 192.5 438.0 193.0 437.6 194.7 438.0 197.0 440.7 199.0 440.8 208.2 422.0 207.9 418.0 205.3 408.0 197.9 398.0 197.0 396.0 197.0 394.0 198.6 388.0 197.8 380.0 198.2 372.0 200.3 362.0 205.3 354.0 205.4 350.0 203.3 344.0 203.3 342.0 210.8 324.0 217.1 318.0 218.2 314.0 217.9 306.0 218.9 304.0 225.0 299.4 229.0 297.4 231.0 297.5 235.0 299.0 239.0 299.3 245.0 298.9 249.0 297.3 252.1 294.0 252.8 292.0 252.1 288.0 248.4 284.0 249.1 282.0 255.3 280.0 263.0 279.0 273.0 278.9 285.0 280.7 293.0 280.1 296.8 278.0 309.1 268.0 323.0 261.8 329.2 258.0 333.3 254.0 334.0 252.0 327.3 238.0 327.0 235.9 328.5 234.0 333.0 230.9 335.0 228.3 341.7 216.0 345.0 207.0 347.0 203.9 351.0 201.1 359.0 198.2 367.0 191.9 371.0 190.4 385.0 187.4 403.0 186.9 419.0 178.8 429.0 176.0 435.0 172.5 443.0 172.1 447.0 169.3 451.0 168.0 457.0 167.9 461.0 167.1 469.0 167.5 474.0 166.0zM646.5 260.0 644.9 262.0 644.7 266.0 647.0 269.6 649.0 270.0 651.0 267.1 652.0 262.0 651.0 259.5 649.0 258.8 647.0 259.5zM325.0 498.0 317.9 502.0 316.4 504.0 316.9 506.0 319.2 508.0 327.0 512.2 331.0 513.4 335.0 513.3 342.2 512.0 346.4 510.0 347.4 508.0 346.9 506.0 345.1 504.0 334.9 498.0 329.0 497.3 325.0 498.0z"/>
<path fill="#d60000" d="M473.0 167.8 477.0 166.8 479.0 167.1 481.0 169.0 483.8 178.0 484.7 184.0 487.0 188.1 491.0 189.8 513.0 195.4 517.8 200.0 521.0 202.0 533.0 204.9 541.0 206.1 545.0 209.1 549.0 215.2 551.0 216.1 561.0 214.2 594.0 214.0 597.0 215.5 603.0 222.4 605.0 224.0 607.0 224.3 609.6 222.0 618.9 206.0 623.0 201.9 627.0 199.0 633.0 197.1 641.0 196.6 657.0 198.3 661.0 200.5 662.2 204.0 662.4 208.0 662.8 242.0 662.2 248.0 661.0 250.8 659.0 251.7 651.0 251.7 647.0 252.8 642.5 258.0 640.1 262.0 639.6 264.0 640.5 268.0 645.0 275.9 649.0 280.1 651.0 281.2 653.0 281.4 655.0 279.2 661.0 261.9 663.0 260.6 667.0 264.3 669.0 265.4 675.0 265.1 675.0 564.0 125.0 564.0 125.0 540.4 129.0 538.7 145.0 528.8 147.6 526.0 149.4 514.0 155.3 502.0 155.5 490.0 160.1 482.0 160.8 480.0 161.0 476.0 162.5 474.0 171.0 471.6 183.0 465.5 184.3 464.0 187.0 457.8 197.0 449.5 204.9 430.0 208.3 424.0 209.0 420.0 206.2 408.0 203.8 404.0 198.6 398.0 197.8 396.0 197.7 394.0 199.3 388.0 198.4 380.0 198.7 372.0 200.9 362.0 205.9 354.0 206.0 350.0 204.0 344.0 204.6 340.0 211.0 324.6 217.6 318.0 218.6 314.0 218.4 306.0 219.5 304.0 225.0 299.8 229.0 298.0 237.0 300.4 245.0 300.1 249.0 298.5 251.8 296.0 253.6 292.0 253.0 288.0 250.0 284.0 251.0 282.0 257.1 280.0 263.0 279.3 273.0 279.3 285.0 281.0 293.0 280.5 297.0 278.3 310.1 268.0 325.0 261.4 333.7 256.0 336.3 254.0 336.9 252.0 331.4 244.0 328.8 238.0 328.8 236.0 335.5 230.0 347.5 206.0 351.0 203.0 359.0 199.5 367.0 193.7 371.0 191.9 385.0 188.6 403.0 187.6 421.0 178.8 429.0 176.8 435.0 173.3 443.0 172.9 449.0 169.3 457.0 169.1 463.0 168.0 469.0 168.6 472.4 168.0zM323.9 494.0 319.0 495.3 308.9 500.0 302.5 504.0 301.4 506.0 302.2 508.0 305.2 510.0 325.0 519.9 331.0 522.0 335.0 522.0 361.0 517.7 363.6 516.0 364.0 514.0 363.5 510.0 362.7 508.0 360.7 506.0 339.0 495.4 333.0 494.0 325.0 493.9zM675.0 218.7 675.0 223.7 673.9 222.0 673.9 220.0zM193.0 439.6 194.1 440.0 193.0 440.9 192.8 440.0z"/>
<path fill="#d20000" d="M451.0 169.7 457.0 170.3 463.0 169.0 471.0 169.7 477.0 168.2 479.0 168.8 481.0 171.9 483.0 177.7 484.4 186.0 487.0 189.0 505.0 194.6 511.0 195.7 513.0 196.7 518.7 202.0 521.0 203.1 541.0 207.5 544.0 210.0 547.0 216.4 549.0 219.1 551.0 219.9 553.0 219.6 559.0 217.2 563.0 216.5 593.0 216.7 595.3 218.0 603.0 227.7 607.0 231.2 609.0 231.3 611.0 229.5 621.6 210.0 625.0 205.9 630.0 202.0 637.0 200.1 645.0 200.1 655.0 201.4 657.0 202.3 658.4 204.0 659.5 210.0 659.5 234.0 659.0 240.5 657.4 244.0 655.0 245.3 647.0 246.8 639.0 254.6 637.0 255.3 631.0 255.0 627.0 255.6 624.8 258.0 624.2 262.0 625.6 266.0 629.0 269.9 631.0 271.3 637.0 273.5 639.0 274.9 647.0 285.4 655.0 292.1 657.0 292.5 658.4 292.0 663.0 286.5 669.0 284.6 673.0 280.7 675.0 279.9 675.0 564.0 125.0 564.0 125.0 541.8 129.0 540.3 139.0 533.7 149.5 528.0 150.6 526.0 153.6 512.0 156.8 504.0 157.2 492.0 161.7 482.0 163.5 476.0 181.4 468.0 184.6 466.0 188.3 458.0 196.3 452.0 199.0 449.0 204.9 432.0 209.2 424.0 209.7 420.0 207.0 408.0 204.7 404.0 199.5 398.0 198.5 396.0 199.9 388.0 199.0 380.0 199.3 372.0 201.0 363.3 205.8 356.0 206.5 354.0 206.6 350.0 204.7 344.0 205.0 341.1 211.0 325.5 218.0 318.0 219.0 314.0 218.9 306.0 220.0 304.0 225.0 300.3 229.0 298.8 233.0 300.7 237.0 301.5 245.0 301.4 249.0 299.9 252.9 296.0 253.9 294.0 254.2 290.0 251.5 284.0 252.7 282.0 259.0 280.0 263.0 279.7 273.0 279.6 285.0 281.3 293.0 280.8 297.0 278.7 311.1 268.0 325.2 262.0 333.0 257.8 338.1 256.0 340.1 254.0 340.6 252.0 339.9 250.0 335.0 246.4 333.0 243.9 330.5 238.0 330.8 236.0 335.0 232.6 337.1 230.0 347.0 210.3 349.0 207.7 353.4 204.0 359.0 201.1 367.0 195.8 371.0 194.0 385.0 189.9 393.0 188.8 403.0 188.4 421.0 179.7 429.0 177.6 435.0 174.2 443.0 173.6 449.7 170.0zM468.8 184.0 467.8 186.0 468.1 188.0 471.0 190.2 473.0 189.5 474.1 188.0 474.5 186.0 473.6 184.0 471.0 182.8 469.0 183.8zM652.6 336.0 645.0 344.8 638.9 350.0 638.0 352.0 638.5 354.0 646.8 364.0 651.0 365.9 653.0 366.0 655.0 365.1 655.9 364.0 657.0 360.0 656.8 344.0 655.3 336.0 655.0 335.5 653.0 335.5zM315.4 492.0 299.0 499.7 294.7 504.0 292.9 508.0 292.7 512.0 295.0 517.6 297.0 520.4 299.0 521.9 313.0 523.8 331.0 530.6 351.0 528.8 379.0 528.0 382.0 526.0 382.8 524.0 382.9 518.0 382.2 516.0 379.0 514.5 373.0 513.6 371.0 512.5 367.6 506.0 365.0 503.5 351.0 498.0 340.9 492.0 325.0 490.6 317.0 491.5zM588.7 492.0 576.7 506.0 576.3 508.0 577.0 509.7 579.0 509.0 582.3 504.0 592.1 494.0 593.0 491.5 591.0 490.6 589.0 491.7zM537.2 502.0 535.0 503.3 532.9 506.0 532.4 508.0 533.0 512.0 537.0 519.7 539.0 521.9 541.0 523.0 545.0 523.5 547.0 522.6 549.0 520.0 552.1 512.0 552.4 508.0 551.0 506.0 547.9 504.0 543.0 502.0 539.0 501.6zM459.9 550.0 451.0 552.9 447.0 553.5 431.0 551.7 423.5 552.0 421.4 554.0 428.6 556.0 433.0 556.5 461.0 557.3 486.2 556.0 505.3 554.0 506.9 552.0 496.4 550.0 473.0 549.1 461.0 549.7z"/>
<path fill="#ce0000" d="M463.0 170.0 471.0 171.3 477.0 169.8 479.0 170.8 481.5 176.0 483.3 186.0 484.5 188.0 487.0 190.0 503.0 195.3 511.0 196.9 513.0 198.0 517.0 202.0 521.0 204.1 539.0 208.0 541.0 209.0 543.6 212.0 547.0 220.9 549.0 223.3 551.0 224.3 555.0 223.8 561.0 220.4 565.0 219.5 591.0 219.7 595.0 222.6 605.0 236.0 609.0 239.9 611.0 240.2 613.0 237.3 625.9 212.0 631.4 206.0 635.0 204.2 641.0 203.2 651.0 204.1 655.0 206.0 656.4 210.0 656.6 222.0 656.4 232.0 655.0 237.5 653.0 239.2 647.0 240.8 639.0 246.9 635.0 247.0 615.0 243.7 612.0 244.0 611.0 244.8 609.9 248.0 606.8 262.0 606.9 264.0 609.7 268.0 622.4 280.0 627.0 281.4 635.0 281.8 639.0 283.3 649.0 294.1 661.0 305.2 663.0 306.2 665.0 306.2 675.0 303.5 675.0 564.0 476.2 564.0 475.0 562.8 472.5 562.0 483.0 559.5 551.5 556.0 572.8 554.0 581.0 552.0 575.8 550.0 561.0 546.6 557.4 544.0 556.8 542.0 557.1 540.0 567.0 514.0 569.0 511.9 571.0 512.5 574.7 516.0 577.0 517.1 581.0 516.2 582.8 514.0 586.4 506.0 597.0 494.0 598.0 490.0 597.3 488.0 595.0 486.0 593.0 485.6 589.0 486.5 586.5 488.0 575.0 500.9 571.0 504.3 569.0 505.2 545.0 496.7 541.0 496.2 535.0 497.8 529.9 502.0 517.0 518.0 515.0 520.0 513.0 520.0 513.0 522.0 511.0 522.0 509.0 520.0 495.0 520.0 493.0 518.0 471.0 518.0 479.0 526.0 475.0 526.0 474.3 528.0 473.0 528.2 472.6 530.0 470.4 534.0 464.8 540.0 461.4 542.0 451.8 546.0 447.0 547.6 443.0 548.1 435.0 547.3 418.0 544.0 408.8 542.0 403.1 540.0 401.3 538.0 401.5 536.0 406.0 526.0 404.8 522.0 400.2 512.0 398.5 510.0 397.0 509.3 393.0 508.6 379.0 509.8 375.0 509.3 373.1 508.0 370.8 504.0 368.6 502.0 353.9 496.0 350.9 494.0 347.0 490.2 343.0 488.9 317.0 487.6 311.0 489.1 301.0 493.6 297.0 496.2 292.0 502.0 288.8 508.0 287.3 514.0 288.1 518.0 293.0 530.8 295.0 535.0 297.0 537.2 299.0 538.2 303.0 538.6 325.0 538.9 373.4 546.0 375.0 546.8 375.7 548.0 377.8 554.0 381.0 556.1 387.7 558.0 397.0 559.1 427.0 559.4 429.8 560.0 433.3 562.0 433.0 564.0 125.0 564.0 125.0 543.3 129.0 541.8 143.0 533.1 147.0 531.5 151.0 530.8 152.4 530.0 153.6 528.0 158.8 506.0 158.7 496.0 159.2 492.0 164.6 478.0 166.4 476.0 185.0 467.5 187.0 465.2 190.0 458.0 199.0 451.3 201.0 447.3 205.0 434.0 210.1 424.0 210.4 420.0 207.8 408.0 205.0 403.0 199.2 396.0 200.6 388.0 199.7 380.0 199.9 372.0 201.4 364.0 203.0 360.7 206.5 356.0 207.2 354.0 207.2 350.0 205.5 344.0 205.5 342.0 211.3 326.0 218.5 318.0 219.4 314.0 219.5 306.0 220.6 304.0 227.0 299.8 229.0 299.6 233.0 302.0 235.0 302.5 247.0 302.7 249.0 301.8 251.0 299.8 254.7 294.0 255.0 290.0 252.9 284.0 254.2 282.0 259.0 280.5 265.0 279.9 273.0 279.9 285.0 281.6 293.0 281.2 305.1 274.0 312.4 268.0 333.0 259.1 339.0 258.1 341.0 257.1 343.4 254.0 343.8 250.0 342.2 248.0 335.0 243.4 333.0 240.0 332.5 238.0 333.0 236.7 337.6 232.0 343.0 221.6 349.0 212.4 357.7 204.0 367.0 198.1 389.0 190.5 403.0 189.3 421.0 180.8 429.0 178.5 435.0 175.1 443.0 174.5 449.0 171.1 451.0 170.7 457.0 171.6 463.0 170.0zM469.6 180.0 465.7 184.0 464.9 186.0 465.2 188.0 466.6 190.0 469.0 191.8 471.0 192.5 473.0 192.1 475.3 190.0 476.7 186.0 476.3 184.0 475.1 182.0 471.0 179.4zM496.3 204.0 498.6 206.0 501.6 206.0 502.4 204.0 501.0 202.6 499.0 202.3 497.0 203.3zM658.0 318.0 655.0 321.7 643.0 340.7 641.0 342.2 633.1 346.0 631.2 348.0 629.1 352.0 628.3 356.0 630.1 358.0 635.0 360.2 641.0 366.4 645.0 368.5 653.0 370.2 657.0 369.1 659.0 367.6 660.0 366.0 660.7 362.0 661.6 326.0 661.0 317.6 659.0 316.9z"/>
<path fill="#ca0000" d="M451.0 171.7 457.0 173.4 463.0 171.3 465.0 171.3 467.5 172.0 470.3 174.0 469.6 176.0 464.2 182.0 462.1 186.0 462.4 188.0 463.7 190.0 467.0 192.8 471.0 194.6 473.0 194.3 475.0 192.9 477.2 190.0 478.9 186.0 478.9 184.0 478.0 182.0 472.0 176.0 471.6 174.0 474.4 172.0 477.0 171.6 479.0 173.3 480.9 178.0 481.5 186.0 485.0 189.9 487.0 191.3 496.9 194.0 503.0 197.4 511.0 198.3 519.0 204.5 540.0 210.0 542.0 212.0 542.9 214.0 545.0 221.5 547.0 225.5 549.0 227.6 551.0 228.5 557.0 228.3 563.0 225.9 567.0 225.1 585.0 225.1 591.0 225.9 595.0 229.3 598.1 234.0 599.8 238.0 600.0 242.0 599.0 245.3 597.0 247.4 595.0 248.1 583.0 248.3 581.0 248.7 579.0 250.1 576.6 254.0 574.1 262.0 574.4 266.0 577.0 271.4 583.0 276.0 591.0 280.0 605.0 282.4 615.0 289.2 619.0 290.1 635.0 290.4 639.0 291.6 647.7 300.0 651.0 306.0 651.4 312.0 650.5 318.0 645.0 331.2 641.8 336.0 639.2 338.0 628.3 342.0 625.0 344.6 623.0 348.0 618.7 358.0 618.6 360.0 620.6 362.0 629.9 364.0 637.5 370.0 647.0 373.1 651.0 373.8 655.0 373.5 661.0 371.2 663.0 369.2 663.9 366.0 665.1 342.0 666.7 330.0 669.0 326.0 671.0 327.0 672.7 332.0 672.0 340.0 672.9 350.0 673.3 352.0 675.0 354.5 675.0 564.0 622.9 564.0 621.0 562.1 615.0 561.4 611.0 562.0 608.5 564.0 501.8 564.0 516.3 562.0 595.0 556.4 613.8 554.0 615.0 551.9 605.0 551.2 569.0 544.8 565.0 543.1 563.7 542.0 562.9 540.0 564.2 534.0 569.0 523.2 571.0 521.4 577.0 522.6 579.0 522.4 585.0 520.0 587.0 517.0 588.6 510.0 590.5 506.0 600.4 494.0 601.4 490.0 599.9 486.0 597.0 483.1 593.0 482.5 589.0 483.1 585.0 484.7 575.0 495.3 571.0 497.8 567.0 497.5 547.0 491.6 543.0 491.1 533.0 494.0 525.0 500.5 521.0 501.9 505.0 500.4 467.0 500.5 455.0 504.6 438.7 506.0 433.0 507.4 429.7 510.0 423.0 517.0 419.0 518.9 417.0 518.7 415.0 517.5 405.7 508.0 401.0 505.2 395.0 504.6 381.0 506.4 377.0 505.6 371.1 500.0 357.1 494.0 351.7 488.0 349.0 486.6 345.0 485.9 319.0 484.4 311.0 484.7 303.0 487.7 297.0 491.2 289.5 500.0 284.1 510.0 282.6 514.0 282.2 518.0 286.5 532.0 286.7 534.0 285.8 538.0 286.3 540.0 289.5 542.0 299.0 544.8 307.0 546.1 321.0 546.8 329.0 548.6 337.8 552.0 342.8 556.0 357.0 559.4 360.2 562.0 360.6 564.0 125.0 564.0 125.0 545.1 131.0 542.6 140.8 536.0 145.0 534.0 149.0 534.0 153.0 536.4 155.0 535.7 157.0 530.7 162.3 510.0 162.3 506.0 160.6 498.0 160.6 494.0 165.5 480.0 166.6 478.0 169.2 476.0 186.8 468.0 188.6 466.0 190.6 460.0 192.0 458.0 200.2 452.0 201.3 450.0 206.0 434.0 211.0 424.0 211.1 420.0 209.4 414.0 208.5 408.0 205.3 402.0 200.1 396.0 201.2 388.0 200.3 380.0 200.5 372.0 202.1 364.0 207.0 356.5 207.8 354.0 207.8 350.0 206.3 344.0 206.9 340.0 211.9 326.0 213.3 324.0 217.9 320.0 219.0 318.0 219.8 314.0 220.1 306.0 221.3 304.0 227.0 300.7 229.0 300.8 233.0 303.4 235.0 303.7 247.0 304.7 249.0 304.1 253.0 299.0 255.6 294.0 255.7 290.0 254.1 284.0 255.7 282.0 261.0 280.6 267.0 280.3 273.0 280.4 283.0 281.7 293.0 281.5 307.0 274.3 311.0 270.0 318.2 266.0 333.0 260.3 341.0 259.7 343.0 258.6 346.5 254.0 347.0 249.3 345.0 246.7 337.0 242.0 335.7 240.0 335.5 238.0 340.0 232.0 345.0 223.5 353.0 214.4 359.3 206.0 361.5 204.0 369.0 199.7 389.4 192.0 395.0 190.9 403.0 190.2 411.0 187.0 421.0 181.8 429.0 179.4 435.0 176.1 443.0 175.3 449.5 172.0zM494.8 200.0 487.0 201.8 486.6 204.0 489.0 206.0 497.0 209.1 501.5 210.0 503.0 209.8 505.0 207.5 505.5 204.0 504.9 202.0 503.0 199.7 501.0 198.9 495.0 200.0zM240.2 494.0 229.0 498.3 225.0 497.8 219.0 495.0 217.0 495.1 216.3 496.0 217.0 497.0 225.0 501.9 227.0 504.3 231.0 511.6 233.0 513.2 237.0 513.8 251.0 514.0 257.0 513.2 263.0 510.1 268.1 506.0 269.6 504.0 269.9 502.0 269.0 500.8 259.0 493.8 255.0 492.3 247.0 492.3 241.0 493.7zM637.0 207.6 643.0 206.6 649.0 207.2 651.0 208.0 652.8 210.0 653.4 212.0 653.7 222.0 652.8 230.0 651.0 232.9 647.0 234.6 641.0 238.6 637.0 239.2 627.0 237.4 623.0 236.0 621.7 234.0 623.1 228.0 629.1 216.0 633.0 210.3 636.2 208.0zM433.0 525.7 435.0 525.5 437.0 526.4 446.8 536.0 447.6 538.0 446.7 540.0 445.0 541.2 441.0 542.9 435.0 543.1 429.3 542.0 424.0 540.0 422.0 538.0 422.6 536.0 432.6 526.0zM421.0 561.8 425.7 562.0 428.5 564.0 415.3 564.0 419.0 562.0z"/>
<path fill="#c60000" d="M449.0 173.4 453.0 173.5 457.0 176.2 459.0 175.9 463.0 173.2 466.0 174.0 465.9 176.0 460.3 182.0 458.5 186.0 459.0 188.0 460.4 190.0 469.0 196.1 473.0 196.6 475.0 195.5 481.0 189.2 487.0 193.3 490.7 194.0 495.4 196.0 493.0 197.0 487.0 196.7 485.0 197.3 483.0 198.9 481.5 202.0 481.4 204.0 483.0 207.6 485.0 209.1 499.0 212.7 503.0 213.1 505.0 212.2 506.6 210.0 507.6 206.0 507.6 202.0 509.0 199.8 511.0 200.1 519.0 205.8 528.5 208.0 539.0 211.3 541.2 214.0 544.6 228.0 546.2 232.0 551.0 235.3 562.1 240.0 565.3 242.0 567.0 248.5 570.4 268.0 574.3 276.0 577.0 279.5 602.4 296.0 613.0 303.7 629.2 310.0 631.0 312.5 635.0 321.0 637.0 326.0 637.3 330.0 636.3 332.0 633.9 334.0 623.0 338.4 620.2 340.0 618.2 342.0 608.1 362.0 607.5 364.0 609.0 365.7 613.0 366.7 625.0 367.6 637.0 374.4 647.0 376.8 653.0 377.3 661.0 375.2 663.9 374.0 666.2 372.0 667.1 370.0 669.0 355.3 671.0 355.2 675.0 357.2 675.0 564.0 625.7 564.0 624.4 558.0 625.6 554.0 625.4 552.0 623.5 548.0 621.0 546.2 617.0 546.3 609.0 548.1 603.0 547.8 573.0 543.1 569.4 542.0 567.1 540.0 567.1 536.0 569.0 531.7 571.0 529.2 583.0 526.4 589.0 523.8 591.1 520.0 593.5 508.0 603.7 494.0 604.7 490.0 602.2 484.0 599.0 480.4 595.0 479.5 587.0 480.4 583.0 481.8 580.1 484.0 575.0 489.6 571.0 491.8 563.0 489.5 545.0 485.9 531.4 490.0 525.0 494.3 521.0 495.8 507.0 495.0 463.0 495.1 460.5 496.0 455.2 500.0 450.9 502.0 433.0 504.8 429.0 507.0 423.0 512.2 419.0 513.6 415.0 511.9 407.0 504.7 403.0 502.9 395.0 502.0 383.0 503.1 379.0 502.0 373.5 498.0 361.0 492.3 358.8 490.0 356.6 486.0 353.0 483.9 315.0 481.2 307.0 481.6 299.0 484.8 295.0 488.1 287.0 496.3 285.0 497.5 283.0 497.7 267.6 490.0 257.5 482.0 253.0 481.3 247.0 483.7 231.0 491.9 227.0 492.2 217.0 488.5 210.8 490.0 208.5 492.0 207.2 496.0 207.6 498.0 211.0 500.9 223.0 507.1 225.0 509.6 228.8 518.0 231.0 521.0 235.0 522.4 249.0 522.6 253.0 521.9 259.0 518.9 275.0 508.2 279.0 507.1 279.3 510.0 276.9 520.0 278.9 530.0 278.6 532.0 276.8 534.0 269.6 538.0 267.8 540.0 268.7 542.0 275.0 544.6 302.5 552.0 306.8 554.0 309.8 558.0 316.2 560.0 331.0 561.5 351.3 562.0 355.0 562.9 356.2 564.0 153.0 564.0 151.0 562.0 147.0 561.9 145.1 560.0 145.0 558.0 151.0 557.7 151.5 556.0 153.0 555.8 153.4 554.0 155.0 553.2 156.1 550.0 157.0 549.2 163.3 522.0 167.6 512.0 167.4 508.0 163.3 500.0 162.4 496.0 162.9 492.0 167.3 480.0 168.8 478.0 171.8 476.0 187.0 469.6 190.7 466.0 192.9 460.0 194.4 458.0 201.0 453.2 202.6 450.0 207.0 434.0 211.9 424.0 211.8 420.0 210.0 414.0 208.6 406.0 206.4 402.0 201.1 396.0 200.9 394.0 202.0 388.0 201.0 380.0 201.2 372.0 202.7 364.0 207.0 357.9 208.4 354.0 208.4 350.0 207.1 344.0 207.7 340.0 212.6 326.0 218.5 320.0 219.6 318.0 221.0 305.4 223.0 303.3 227.0 301.6 233.0 304.7 241.0 305.7 247.0 307.3 249.0 307.1 251.0 305.5 255.8 296.0 256.5 292.0 255.2 284.0 257.2 282.0 261.0 281.1 269.0 280.7 287.0 282.3 293.0 281.9 301.0 277.8 307.0 275.9 312.7 270.0 320.2 266.0 333.0 261.6 341.0 261.7 345.0 260.1 347.1 258.0 349.4 254.0 350.4 250.0 350.2 248.0 348.8 246.0 340.3 240.0 339.9 238.0 345.0 229.8 355.0 219.1 360.0 210.0 363.4 206.0 369.0 202.7 391.0 193.5 395.0 192.3 403.0 191.3 413.0 187.3 423.0 182.3 429.0 180.6 435.0 177.4 443.0 176.3 447.8 174.0zM334.8 422.0 333.0 422.1 330.0 424.0 328.9 426.0 329.2 428.0 330.2 430.0 333.0 432.6 337.0 434.0 339.0 433.9 342.3 432.0 342.0 428.0 339.3 424.0 335.0 422.0zM477.0 175.2 477.4 176.0 477.0 176.5 476.6 176.0zM639.0 211.2 641.0 210.4 645.0 210.1 647.0 210.5 649.3 212.0 650.5 216.0 650.3 222.0 649.2 226.0 647.0 228.1 643.0 230.2 639.0 231.2 633.0 230.1 630.6 228.0 630.8 224.0 632.5 220.0 635.0 215.3 637.8 212.0zM577.0 559.9 585.2 560.0 588.7 562.0 588.4 564.0 570.3 564.0 571.0 561.9 573.0 560.7 575.9 560.0z"/>
<path fill="#c20000" d="M449.0 175.3 451.0 175.2 452.4 176.0 453.3 178.0 452.1 186.0 452.9 188.0 455.0 190.0 469.0 198.5 476.2 200.0 479.0 209.1 481.0 211.9 483.0 213.1 493.0 214.5 501.0 216.5 505.0 216.1 507.0 214.8 508.8 212.0 511.0 203.7 513.0 203.9 518.4 208.0 519.0 209.3 525.0 209.0 528.7 210.0 531.1 212.0 530.5 216.0 531.0 218.1 533.3 218.0 535.1 214.0 537.0 213.6 539.0 215.2 540.1 222.0 539.0 225.1 535.0 225.9 503.0 225.5 499.0 227.2 497.1 230.0 496.8 232.0 497.6 234.0 500.5 236.0 511.0 238.2 519.0 241.2 531.0 242.9 541.0 243.4 545.0 245.2 549.0 249.7 557.9 262.0 558.8 266.0 557.7 274.0 558.7 276.0 561.0 277.4 567.0 277.6 569.0 278.4 577.0 287.3 589.9 296.0 594.2 300.0 595.3 302.0 595.6 306.0 591.7 314.0 591.6 316.0 593.0 317.5 595.0 318.4 605.0 320.2 609.0 321.7 614.6 326.0 618.4 330.0 618.6 332.0 612.3 338.0 607.0 345.2 605.0 345.4 599.7 340.0 595.0 338.2 589.0 338.3 587.0 338.9 585.0 340.5 584.0 344.0 583.0 358.0 591.0 372.7 593.0 375.1 597.0 376.7 603.0 377.2 607.0 375.8 613.0 371.9 619.0 371.2 623.0 372.0 637.0 378.8 649.0 381.0 655.0 380.7 665.0 377.5 669.0 375.6 670.9 372.0 672.3 362.0 675.0 360.2 675.0 564.0 628.2 564.0 629.0 560.9 632.9 558.0 634.0 556.0 633.0 552.0 630.2 546.0 627.0 541.8 623.0 541.5 611.0 545.2 605.0 545.8 579.1 542.0 572.6 540.0 571.1 538.0 571.8 536.0 573.0 534.8 591.0 528.9 594.1 526.0 595.3 522.0 597.7 508.0 605.9 496.0 607.9 492.0 607.8 488.0 603.2 480.0 601.0 477.7 597.0 476.3 587.0 477.5 581.0 479.0 573.0 485.4 571.0 486.0 569.0 485.7 563.0 482.5 559.0 481.1 547.0 480.6 531.0 485.4 523.0 489.0 519.0 489.8 479.0 490.2 467.0 489.2 461.0 489.5 455.0 491.6 448.6 498.0 445.3 500.0 431.0 503.0 423.0 507.7 421.0 508.2 417.0 507.3 409.0 502.2 405.0 500.7 399.0 499.7 383.0 499.6 367.0 491.9 364.5 490.0 361.0 483.6 359.0 481.9 355.0 480.8 305.0 478.1 299.0 479.9 291.0 486.0 287.0 487.2 275.0 484.5 263.0 477.9 255.0 475.5 251.0 475.2 233.0 485.3 229.0 486.6 225.0 486.0 219.0 483.7 204.0 486.0 195.1 498.0 190.8 506.0 190.2 510.0 192.1 514.0 195.0 516.9 197.0 517.7 199.0 517.6 205.0 515.6 207.0 515.6 221.0 520.5 223.0 521.7 229.0 529.1 233.0 531.0 245.0 531.2 249.0 530.7 253.0 529.1 265.0 521.1 267.0 520.1 269.4 520.0 271.0 523.4 271.0 528.1 269.7 530.0 261.0 534.9 254.9 540.0 251.0 546.0 250.1 550.0 250.7 552.0 253.0 553.5 267.4 558.0 275.0 562.7 278.2 564.0 191.7 564.0 193.4 558.0 193.3 556.0 191.0 553.6 184.7 550.0 184.9 548.0 197.0 542.2 198.3 540.0 197.9 538.0 195.0 536.1 191.0 535.7 171.0 539.4 169.0 539.3 166.7 538.0 165.4 534.0 166.2 528.0 168.4 522.0 173.0 514.8 173.6 512.0 172.2 508.0 166.2 500.0 164.4 496.0 164.7 492.0 168.2 482.0 171.1 478.0 177.0 474.9 187.0 471.4 193.3 466.0 195.5 460.0 197.2 458.0 201.0 455.4 203.0 452.7 207.4 436.0 212.7 424.0 212.6 420.0 210.6 414.0 209.4 406.0 206.2 400.0 202.6 396.0 202.1 394.0 202.8 388.0 201.8 380.0 201.9 372.0 203.6 364.0 208.6 356.0 209.0 350.0 207.9 344.0 208.4 340.0 213.0 326.4 219.0 320.2 220.1 318.0 221.4 306.0 223.0 304.0 227.0 302.9 231.0 305.6 239.0 307.2 245.0 310.0 249.0 310.4 251.0 309.5 252.0 308.0 256.7 296.0 257.2 292.0 256.3 284.0 258.8 282.0 263.0 281.3 271.0 281.2 285.0 282.7 293.0 282.3 301.0 278.8 307.0 277.5 309.4 276.0 314.7 270.0 317.7 268.0 322.8 266.0 333.0 262.9 341.0 263.6 345.0 262.8 350.2 258.0 352.9 252.0 353.6 248.0 353.0 245.9 346.3 240.0 345.5 238.0 345.7 236.0 348.3 232.0 357.5 222.0 362.2 212.0 365.0 208.6 369.0 206.1 393.0 195.0 403.0 192.6 413.0 188.8 422.7 184.0 431.0 181.3 435.0 179.1 443.0 177.7 447.1 176.0zM517.6 212.0 516.2 214.0 515.9 216.0 516.6 218.0 519.0 218.8 519.8 218.0 521.0 216.0 521.1 214.0 519.0 210.6zM549.6 382.0 547.8 384.0 547.7 386.0 550.0 392.0 555.0 397.5 557.0 398.5 559.0 398.5 561.0 397.5 564.6 394.0 565.3 392.0 564.8 390.0 561.8 386.0 559.1 384.0 555.0 382.3 551.0 381.7zM331.1 416.0 327.0 419.2 324.7 422.0 324.3 424.0 325.9 428.0 329.2 432.0 333.0 434.7 339.0 436.2 345.9 436.0 347.8 434.0 347.9 432.0 346.9 426.0 345.5 422.0 343.0 419.1 339.0 416.8 335.0 415.2 333.0 415.3zM592.4 438.0 588.0 444.0 587.6 448.0 589.0 450.1 595.0 453.8 597.0 454.3 599.0 453.4 606.0 446.0 607.0 444.0 597.0 436.7 595.0 436.5 593.0 437.5zM641.0 216.0 643.0 214.9 645.0 215.1 646.0 216.0 646.5 218.0 645.0 221.4 643.0 222.5 640.2 222.0 639.3 220.0 641.0 216.0zM575.0 563.6 577.0 562.7 581.0 562.5 583.8 564.0 574.6 564.0z"/>
<path fill="#bc0000" d="M437.0 183.7 441.0 184.0 444.6 188.0 449.7 192.0 461.0 197.0 468.7 202.0 470.6 204.0 471.4 206.0 472.3 224.0 481.0 226.7 484.7 232.0 489.1 236.0 495.0 239.0 509.0 243.5 525.0 253.4 537.0 253.9 541.0 255.4 543.0 257.2 546.4 262.0 547.3 266.0 545.0 272.3 539.5 282.0 540.8 284.0 553.0 291.8 555.0 292.2 565.0 289.4 569.0 289.4 578.3 296.0 582.1 300.0 582.7 302.0 581.4 306.0 570.3 322.0 570.9 326.0 576.8 332.0 576.9 334.0 574.9 340.0 572.0 356.0 582.6 368.0 591.0 389.1 593.0 390.2 595.0 390.1 605.0 387.3 617.0 381.1 621.0 380.2 631.0 382.7 643.0 389.8 665.0 382.2 675.0 380.7 675.0 564.0 645.0 564.0 643.6 558.0 641.8 554.0 637.0 546.5 633.0 538.8 631.0 536.2 629.0 535.2 627.0 535.5 612.6 542.0 607.0 543.5 594.2 542.0 585.9 540.0 583.6 538.0 586.4 536.0 595.0 532.8 597.0 531.3 599.0 526.8 601.1 512.0 603.0 506.0 611.0 495.9 618.8 490.0 618.9 488.0 617.1 486.0 609.0 480.5 598.2 470.0 599.0 469.4 603.0 458.0 605.0 454.4 607.0 452.5 623.3 444.0 626.4 442.0 627.8 440.0 625.0 438.7 623.0 438.5 611.0 439.4 605.0 438.5 602.1 436.0 597.0 426.7 595.0 425.2 593.0 424.8 591.0 425.4 589.0 427.1 583.0 434.2 572.0 452.0 571.8 454.0 573.8 456.0 591.5 466.0 596.4 470.0 594.2 472.0 579.0 476.1 573.0 479.7 571.0 480.3 567.0 479.0 559.0 473.2 557.0 472.5 549.0 474.2 537.0 475.4 523.1 482.0 517.0 483.1 513.0 483.0 508.1 482.0 495.0 476.1 493.0 476.8 492.4 478.0 486.8 482.0 482.3 484.0 477.0 484.6 463.0 483.4 453.0 485.5 447.7 488.0 437.0 495.7 425.0 500.2 419.0 501.0 403.0 496.8 389.0 496.7 383.0 495.4 376.0 492.0 371.0 488.0 366.7 480.0 361.0 478.5 305.0 474.5 299.0 475.1 293.0 477.5 291.0 477.7 285.0 474.0 283.0 473.4 273.0 474.6 259.0 472.1 253.0 469.0 249.0 468.3 245.0 470.4 238.8 476.0 231.0 480.4 227.0 481.0 217.0 478.0 211.0 481.9 209.0 482.3 203.0 481.2 201.0 482.0 198.7 484.0 194.2 492.0 189.6 498.0 183.0 510.8 181.0 511.5 179.0 509.8 167.0 496.6 166.4 494.0 166.7 492.0 171.4 480.0 173.6 478.0 177.0 476.3 187.0 473.2 194.9 468.0 196.9 466.0 198.8 460.0 202.9 456.0 204.1 454.0 208.7 436.0 213.2 426.0 213.8 422.0 211.2 414.0 210.3 406.0 207.0 399.0 203.8 394.0 203.9 388.0 202.6 380.0 202.7 372.0 204.5 364.0 208.6 358.0 209.3 356.0 209.7 350.0 208.8 342.0 211.0 333.8 214.1 326.0 219.8 320.0 221.0 316.0 221.7 308.0 223.0 305.2 225.0 304.0 227.0 304.7 231.0 307.1 237.0 308.6 243.0 312.7 245.0 313.3 251.0 313.0 253.5 310.0 255.4 302.0 257.6 296.0 258.0 292.0 257.3 286.0 257.5 284.0 259.0 282.8 263.0 281.7 271.0 281.6 285.0 283.1 293.0 282.9 301.0 279.8 307.0 279.1 309.0 278.3 317.0 270.1 321.0 267.9 333.0 264.4 343.0 265.6 347.0 264.3 351.0 261.0 353.2 258.0 356.8 248.0 355.9 244.0 352.4 240.0 351.4 238.0 351.4 236.0 353.5 232.0 360.2 224.0 363.3 216.0 365.9 212.0 369.0 209.9 396.9 196.0 413.0 190.8 419.1 188.0 435.7 184.0zM542.0 372.0 535.8 378.0 535.0 380.0 535.3 382.0 544.4 398.0 553.0 407.6 555.0 409.2 559.0 409.3 565.3 406.0 569.0 401.7 571.0 400.5 573.0 400.3 579.0 401.5 580.2 400.0 578.7 396.0 565.0 379.9 561.0 377.5 547.0 371.4 545.0 370.8 543.0 371.2zM331.7 410.0 323.3 414.0 321.0 416.4 318.4 422.0 318.7 424.0 320.0 426.0 328.7 434.0 333.0 436.6 345.0 439.7 355.0 440.7 357.0 439.7 358.1 438.0 358.3 436.0 349.0 414.7 347.0 411.4 345.0 409.3 343.0 408.5 339.0 408.5 333.0 409.6zM209.0 535.1 213.0 534.8 219.0 536.4 232.7 544.0 235.2 546.0 235.2 550.0 233.0 564.0 194.5 564.0 197.0 558.6 199.0 556.8 205.9 556.0 205.2 554.0 203.0 552.4 201.1 550.0 201.7 548.0 204.9 544.0 208.2 536.0z"/>
<path fill="#b40000" d="M413.0 193.9 421.0 192.1 441.0 192.8 457.0 199.2 461.5 202.0 462.8 204.0 462.9 206.0 459.0 213.8 457.0 215.2 453.0 214.5 451.0 215.1 441.5 224.0 440.4 226.0 441.0 228.0 453.0 236.4 457.0 237.3 481.0 239.4 503.0 244.9 507.0 246.5 512.2 250.0 517.6 256.0 523.0 268.0 524.1 272.0 525.9 286.0 527.0 289.5 529.0 290.8 531.0 291.0 541.0 290.3 544.9 292.0 547.2 294.0 550.1 298.0 552.1 302.0 555.0 314.1 562.9 328.0 567.6 334.0 567.7 336.0 566.2 340.0 565.2 346.0 563.1 350.0 559.0 352.7 541.0 360.0 538.3 368.0 537.0 369.5 535.0 370.6 527.0 371.8 517.0 370.5 503.0 371.6 501.0 371.1 495.0 367.1 493.0 368.4 489.3 380.0 487.0 385.0 483.0 389.7 474.6 394.0 473.0 396.4 471.2 402.0 467.6 408.0 464.6 416.0 462.3 420.0 459.0 423.0 455.0 424.7 443.0 427.7 440.7 430.0 439.0 435.3 438.7 440.0 439.4 446.0 441.0 449.8 443.0 450.9 447.0 450.3 459.0 446.1 467.0 440.8 469.0 441.5 470.4 446.0 473.9 452.0 477.4 460.0 477.9 466.0 476.7 474.0 475.5 476.0 473.0 477.2 461.0 478.0 445.0 481.9 425.0 490.6 413.0 490.9 401.0 489.8 393.2 492.0 389.0 492.2 383.0 490.8 378.6 488.0 377.0 485.9 375.4 482.0 375.4 476.0 377.2 472.0 383.8 464.0 385.3 458.0 385.2 454.0 383.0 452.1 373.0 452.1 369.0 450.1 367.4 448.0 367.2 444.0 369.6 436.0 369.7 432.0 369.0 428.1 367.3 426.0 361.0 420.7 357.2 416.0 353.0 402.0 351.0 399.8 347.0 398.4 343.0 398.6 341.0 399.4 337.0 404.0 333.0 406.5 327.0 408.4 321.0 408.9 318.9 410.0 308.2 426.0 306.9 430.0 306.0 438.0 303.2 444.0 300.0 448.0 293.0 454.8 286.3 464.0 283.0 466.8 279.0 468.9 275.0 469.7 271.0 468.7 267.3 466.0 261.0 458.5 259.0 457.2 257.0 456.9 253.0 457.7 249.0 459.8 243.0 464.2 233.0 473.3 229.0 475.2 225.0 474.9 215.0 469.7 211.0 470.0 207.0 472.1 205.0 471.4 202.7 468.0 202.0 464.0 202.9 460.0 206.0 454.0 207.0 447.9 210.2 436.0 214.6 424.0 214.3 420.0 212.0 414.0 211.2 406.0 206.6 394.0 203.8 382.0 203.4 376.0 203.9 370.0 205.5 364.0 209.0 358.7 210.0 356.0 210.4 350.0 209.6 342.0 211.7 334.0 214.9 326.0 220.5 320.0 221.7 316.0 223.0 307.0 225.0 305.7 229.0 308.0 234.9 310.0 239.0 314.1 242.4 316.0 251.0 316.2 253.0 315.2 255.0 311.8 256.7 302.0 258.6 296.0 258.3 286.0 259.0 283.8 263.0 282.3 269.0 282.1 291.0 283.7 295.0 283.1 301.0 281.1 307.0 280.9 311.0 279.4 321.0 270.0 333.0 266.6 335.0 266.3 343.0 267.7 345.0 267.5 348.5 266.0 355.0 260.0 359.4 250.0 360.3 246.0 360.2 244.0 357.4 238.0 357.1 236.0 358.7 232.0 362.8 226.0 365.6 218.0 367.0 215.6 369.0 213.9 378.5 210.0 395.4 200.0 412.6 194.0zM378.7 260.0 378.7 264.0 380.4 268.0 381.0 268.8 383.0 269.1 383.8 268.0 384.3 264.0 383.0 260.6 381.0 259.3 379.0 259.5zM569.0 363.6 571.0 363.8 574.8 366.0 577.6 370.0 578.9 374.0 579.1 378.0 577.0 380.1 573.0 378.2 568.3 374.0 562.4 370.0 561.6 368.0 563.2 366.0 567.0 364.0zM503.0 388.6 505.0 389.1 507.6 398.0 507.1 404.0 505.0 408.9 503.0 410.8 501.0 411.4 499.0 411.1 497.0 409.2 494.8 404.0 495.0 400.0 501.8 390.0zM621.0 391.9 627.0 391.3 629.5 392.0 631.0 393.1 632.9 396.0 635.4 402.0 636.4 410.0 635.6 422.0 635.0 424.0 633.0 426.0 631.0 426.5 625.0 425.6 615.7 420.0 612.8 416.0 607.5 406.0 607.3 402.0 608.6 400.0 615.0 394.4 620.6 392.0zM661.0 391.2 665.0 390.2 667.0 390.4 671.0 394.6 675.0 395.5 675.0 482.9 671.0 483.1 669.3 484.0 668.3 486.0 668.0 490.0 669.0 494.2 671.0 495.3 675.0 495.7 675.0 564.0 656.9 564.0 655.0 557.2 653.0 554.1 640.7 544.0 638.2 540.0 636.7 536.0 636.2 532.0 636.9 522.0 634.5 514.0 633.0 506.0 634.1 502.0 637.0 498.6 639.0 497.6 649.0 495.7 651.0 494.3 653.1 490.0 653.7 484.0 653.4 478.0 651.2 470.0 650.2 458.0 647.6 448.0 648.0 408.0 648.8 404.0 651.1 400.0 655.0 395.3 659.3 392.0zM567.0 415.7 569.0 415.6 571.0 416.4 575.7 422.0 576.4 424.0 576.6 436.0 573.0 442.3 569.0 445.4 557.0 446.0 555.0 447.8 554.9 450.0 557.0 456.7 557.0 460.0 555.0 464.0 551.0 467.4 547.0 468.0 545.0 467.3 543.0 465.8 539.0 459.6 537.0 457.6 535.0 457.2 531.0 459.8 517.0 472.6 513.0 473.8 509.0 472.2 503.3 466.0 499.1 458.0 497.7 452.0 496.5 436.0 498.8 432.0 503.0 429.5 507.0 429.2 517.0 430.2 537.0 428.4 553.3 422.0 566.1 416.0zM323.0 435.4 325.0 435.2 336.3 440.0 340.1 442.0 341.9 444.0 342.4 446.0 342.6 458.0 343.2 460.0 345.0 461.7 349.0 462.3 357.0 462.1 365.0 463.9 367.0 465.2 368.5 468.0 367.9 472.0 365.0 474.7 361.0 475.3 329.0 473.2 320.1 472.0 312.2 470.0 311.7 468.0 319.3 464.0 321.5 462.0 322.5 460.0 323.5 446.0 322.6 436.0zM619.0 453.6 623.0 454.2 624.5 456.0 624.7 460.0 623.1 464.0 618.5 472.0 616.9 474.0 613.0 476.0 609.0 475.5 605.0 472.5 603.8 470.0 604.0 466.0 605.0 462.8 607.0 459.3 611.0 456.5 617.4 454.0zM571.0 465.1 575.0 465.7 578.6 468.0 579.6 470.0 577.4 472.0 573.0 474.1 571.0 474.4 569.0 473.8 567.1 472.0 566.6 470.0 567.3 468.0 569.1 466.0zM639.0 467.1 641.6 468.0 643.3 470.0 644.0 472.0 643.2 476.0 641.0 478.5 637.0 478.9 634.7 478.0 633.1 476.0 633.1 474.0 633.9 472.0 637.1 468.0zM193.0 471.6 195.0 471.3 197.0 472.0 198.4 474.0 198.8 476.0 198.2 478.0 193.9 482.0 189.6 490.0 185.0 494.3 181.0 500.3 179.0 501.5 177.0 500.9 171.0 496.7 169.2 494.0 172.7 482.0 174.0 480.0 176.8 478.0 187.0 475.6 192.2 472.0zM609.0 515.3 611.0 517.9 613.0 522.1 616.6 532.0 616.5 534.0 615.4 536.0 613.1 538.0 609.1 540.0 603.0 540.1 599.8 538.0 602.9 532.0 605.0 522.0 607.4 516.0z"/>
<path fill="#ac0000" d="M415.0 197.8 421.0 197.3 439.0 197.7 443.0 198.5 449.8 202.0 451.0 204.0 447.0 209.7 445.0 216.0 437.0 224.0 436.2 226.0 436.6 228.0 438.5 230.0 445.3 234.0 451.0 239.6 455.0 240.9 475.0 242.2 481.0 243.1 503.0 248.2 506.8 250.0 509.2 252.0 513.7 258.0 518.0 268.0 521.9 292.0 523.0 293.7 525.0 294.4 539.0 293.0 542.4 294.0 544.8 296.0 547.4 300.0 548.8 304.0 550.4 318.0 559.7 334.0 559.9 336.0 557.1 344.0 554.8 346.0 551.0 347.8 547.0 349.4 543.0 350.0 535.0 347.2 533.0 347.9 532.3 352.0 533.7 362.0 533.0 363.9 505.0 369.4 503.0 369.2 500.8 368.0 497.0 360.5 495.0 358.9 491.0 359.0 489.0 360.3 487.3 364.0 484.9 374.0 482.6 380.0 479.2 384.0 472.8 388.0 471.0 391.2 468.4 402.0 464.0 408.0 460.1 416.0 457.0 419.0 453.0 420.7 449.0 421.4 443.0 421.1 441.0 421.7 438.9 424.0 436.3 432.0 435.5 438.0 435.5 446.0 436.3 454.0 437.6 458.0 439.0 459.7 441.0 460.1 455.0 456.3 459.0 456.0 461.0 457.1 462.8 460.0 465.0 466.0 465.0 468.0 463.4 470.0 459.2 472.0 441.0 477.1 431.0 480.8 427.0 481.2 401.0 480.8 397.0 482.1 389.0 486.2 385.0 486.0 382.0 484.0 380.9 482.0 381.0 478.0 383.0 475.2 389.2 470.0 392.0 466.0 398.1 444.0 398.7 440.0 398.0 438.0 395.0 436.9 381.0 439.3 379.0 439.4 377.0 438.2 376.3 434.0 375.9 422.0 375.0 418.7 373.0 416.5 367.0 413.9 363.0 410.8 361.0 407.6 356.6 396.0 355.0 393.8 351.0 392.1 343.0 392.8 339.0 394.2 337.0 396.6 335.1 402.0 333.2 404.0 331.0 405.1 327.0 405.9 321.0 404.8 319.0 405.2 315.3 408.0 306.0 422.0 299.7 438.0 291.6 446.0 284.1 460.0 281.0 463.6 279.0 464.8 275.0 465.3 272.6 464.0 263.0 450.2 261.0 448.3 259.0 447.7 257.0 448.0 253.0 450.2 231.0 467.8 227.0 469.6 223.0 468.9 209.9 464.0 208.3 462.0 207.8 460.0 209.0 448.3 211.0 442.0 212.6 434.0 215.5 426.0 215.8 422.0 212.8 414.0 212.6 408.0 209.8 398.0 208.9 392.0 205.0 382.3 204.6 372.0 205.8 366.0 209.2 360.0 210.7 356.0 211.1 352.0 210.5 342.0 213.0 332.3 215.0 327.5 221.2 320.0 223.5 310.0 225.0 308.2 231.0 310.6 233.4 312.0 237.0 316.9 241.0 318.9 249.0 319.3 253.0 318.7 255.0 317.0 256.7 312.0 258.1 302.0 259.6 296.0 259.3 286.0 260.3 284.0 263.0 283.1 271.0 282.9 291.0 284.5 301.0 282.7 309.0 283.1 313.0 281.6 319.0 276.5 323.0 274.2 331.0 273.1 337.0 270.5 345.0 270.2 349.0 268.6 356.6 262.0 363.0 249.6 366.1 246.0 366.1 244.0 363.6 238.0 363.2 234.0 369.0 219.4 371.0 217.6 381.0 213.4 397.0 203.4 413.8 198.0zM370.1 246.0 368.7 248.0 369.3 250.0 376.9 270.0 379.4 274.0 381.0 275.1 383.0 275.1 385.0 274.0 386.4 272.0 388.6 266.0 388.6 260.0 387.0 253.2 385.0 250.6 383.0 249.4 375.0 246.6 371.0 245.9zM675.0 399.1 675.0 466.1 669.0 459.5 667.0 459.4 666.2 466.0 667.3 476.0 665.2 482.0 664.4 490.0 665.1 496.0 667.0 498.5 675.0 498.3 675.0 539.9 671.0 538.4 670.5 540.0 671.0 543.3 672.5 544.0 673.0 545.3 674.8 546.0 675.0 547.1 675.0 563.9 674.9 556.0 674.1 554.0 661.0 548.2 647.0 540.5 644.4 538.0 643.4 534.0 645.8 518.0 645.3 514.0 643.4 508.0 644.2 506.0 651.0 502.4 653.7 500.0 655.3 496.0 656.4 490.0 656.8 480.0 656.0 468.0 656.5 454.0 655.2 442.0 655.5 408.0 657.1 404.0 661.0 400.5 663.0 400.2 665.2 402.0 666.4 408.0 666.4 432.0 667.0 435.5 669.0 436.2 671.0 433.1 671.7 430.0 671.7 404.0 671.9 402.0 673.1 400.0zM621.0 401.7 625.0 400.0 627.0 400.2 629.3 402.0 631.1 406.0 631.4 410.0 631.0 412.6 629.0 415.8 627.0 416.1 625.0 415.5 620.7 412.0 618.8 408.0 618.5 406.0 619.0 404.0 620.6 402.0zM561.0 427.8 565.0 426.9 567.0 427.6 571.0 431.9 572.3 436.0 571.0 438.7 569.0 440.1 562.9 440.0 552.6 438.0 547.4 436.0 547.8 434.0 551.0 432.0 560.5 428.0zM611.0 463.9 613.0 464.1 613.9 466.0 613.0 468.9 611.0 470.9 609.0 470.8 608.1 470.0 607.6 468.0 609.0 465.0 610.9 464.0zM357.0 467.8 361.6 468.0 363.3 470.0 361.0 471.3 353.5 470.0 355.9 468.0zM179.0 479.9 184.3 480.0 185.7 482.0 185.4 484.0 184.2 486.0 181.0 488.2 179.0 488.3 177.0 485.5 176.7 482.0 178.7 480.0z"/>
<path fill="#a60000" d="M411.0 203.6 417.0 203.0 433.0 203.0 439.5 204.0 441.2 206.0 441.2 214.0 439.0 217.6 434.3 222.0 433.2 224.0 433.1 228.0 435.0 230.7 443.6 236.0 448.7 242.0 451.0 243.7 455.0 244.6 479.0 246.2 489.0 249.0 501.0 251.2 505.8 254.0 509.9 260.0 513.1 268.0 517.2 296.0 519.0 297.7 521.0 298.1 537.0 295.5 539.9 296.0 542.5 298.0 545.0 304.0 546.1 322.0 551.8 334.0 551.8 336.0 551.0 338.0 549.0 339.9 547.0 340.8 545.0 341.2 538.7 340.0 533.0 339.9 529.0 340.6 525.4 342.0 523.7 344.0 523.0 346.0 521.3 360.0 520.0 362.0 517.1 364.0 512.0 366.0 507.0 367.3 503.0 366.8 501.0 364.0 498.8 356.0 497.0 353.3 495.0 352.3 489.0 352.1 485.0 353.2 482.9 356.0 478.5 374.0 475.8 378.0 471.0 382.2 469.2 386.0 467.1 398.0 465.3 402.0 461.8 406.0 457.0 413.4 455.0 415.0 451.0 416.4 441.0 415.3 438.8 416.0 437.0 418.0 433.0 427.9 431.0 430.5 429.0 430.0 415.0 416.1 407.0 409.2 401.0 405.1 397.0 404.2 385.0 407.2 381.0 406.6 371.0 403.6 367.0 401.6 365.0 399.4 358.8 388.0 355.5 386.0 351.0 386.0 341.0 387.7 337.0 389.3 334.6 392.0 333.2 400.0 331.0 402.7 327.0 403.4 321.0 400.7 319.0 400.9 314.5 404.0 310.7 408.0 305.0 416.6 299.0 429.1 297.0 432.6 295.0 434.7 291.0 435.9 275.0 436.5 263.0 437.7 259.0 438.8 231.0 461.1 227.0 463.4 223.0 463.8 216.8 462.0 213.0 458.5 211.8 454.0 214.7 434.0 216.9 426.0 217.0 422.0 214.0 414.0 213.6 408.0 211.8 400.0 211.0 392.0 207.0 383.4 206.1 380.0 205.9 372.0 207.1 366.0 210.3 360.0 211.6 356.0 211.5 342.0 213.0 335.2 215.9 328.0 222.1 320.0 225.0 311.1 227.0 311.1 229.1 312.0 231.3 314.0 235.0 319.8 237.0 321.2 241.0 322.0 253.0 321.8 255.9 320.0 257.6 316.0 260.8 296.0 260.6 286.0 262.6 284.0 273.0 283.7 291.0 285.7 299.0 285.1 303.8 286.0 309.0 288.6 311.0 288.5 323.0 283.1 335.0 279.1 349.0 272.3 358.3 264.0 363.0 257.2 365.0 255.5 367.0 256.5 369.0 259.6 375.5 274.0 377.9 278.0 379.0 279.1 381.0 279.7 385.0 278.5 387.7 276.0 391.9 266.0 392.3 260.0 391.2 246.0 389.9 244.0 387.0 242.6 375.9 240.0 371.5 238.0 369.8 236.0 369.2 234.0 369.7 230.0 372.5 224.0 375.0 221.7 383.0 217.7 397.0 208.2 409.2 204.0z"/>
<path fill="#a20000" d="M401.0 211.7 407.0 210.4 415.0 210.0 429.0 210.2 433.0 211.6 434.0 214.0 433.5 216.0 431.0 220.0 429.9 224.0 430.5 230.0 433.0 232.9 441.0 238.1 449.0 246.7 453.0 248.0 479.0 249.7 489.0 252.6 497.0 254.1 501.0 255.8 503.0 257.6 506.0 262.0 508.2 268.0 511.4 290.0 511.9 298.0 513.0 301.0 515.0 302.0 519.0 301.9 535.0 298.4 537.0 298.5 539.0 299.5 540.5 302.0 541.1 306.0 541.4 324.0 542.6 332.0 541.2 334.0 535.0 335.9 521.9 338.0 517.9 340.0 515.7 344.0 512.4 360.0 511.4 362.0 509.0 364.0 507.0 364.6 505.0 364.6 503.0 362.0 500.2 350.0 499.0 347.7 497.0 346.3 493.0 345.8 483.1 346.0 481.0 346.5 479.0 347.9 477.3 352.0 473.5 370.0 469.0 377.1 467.1 382.0 463.6 398.0 457.0 406.9 453.0 410.7 449.0 411.3 439.0 409.3 436.3 410.0 431.0 413.7 429.0 413.1 409.0 396.1 403.0 389.6 399.0 386.6 395.0 386.4 381.0 389.0 373.0 389.3 369.0 388.2 367.0 386.9 362.8 382.0 359.0 379.8 355.0 379.8 343.0 381.8 337.0 383.3 333.0 386.4 331.1 390.0 330.2 398.0 329.0 400.1 327.0 400.0 321.0 396.4 319.0 396.7 315.0 399.3 309.5 404.0 306.2 408.0 297.0 423.8 295.0 425.9 291.0 427.1 265.0 425.8 261.0 426.3 257.0 428.3 248.9 434.0 246.8 436.0 243.7 442.0 240.7 446.0 231.0 454.4 227.0 456.5 223.0 456.9 219.6 456.0 218.1 454.0 217.6 450.0 219.1 422.0 218.0 418.0 215.6 414.0 215.1 412.0 212.9 392.0 207.9 380.0 207.2 374.0 208.6 366.0 212.5 356.0 212.6 342.0 213.9 336.0 217.0 328.4 222.2 322.0 225.0 314.9 227.0 314.1 229.0 316.1 232.4 322.0 235.0 324.0 241.0 324.9 255.0 324.4 257.7 322.0 259.1 318.0 262.3 298.0 262.2 288.0 263.0 285.7 267.0 284.9 275.0 285.1 297.0 288.7 301.0 290.4 307.0 298.0 309.0 297.9 321.9 290.0 351.0 278.2 358.7 268.0 363.0 263.6 365.0 262.6 367.0 263.8 369.0 267.0 375.0 279.9 377.0 282.7 379.0 283.9 381.0 283.8 387.0 281.3 390.2 278.0 395.1 266.0 397.0 253.7 401.0 246.0 401.5 244.0 400.6 242.0 399.0 240.5 395.0 238.4 383.0 236.5 379.0 235.1 377.0 233.0 377.0 230.0 378.4 228.0 381.0 226.2 387.5 224.0 389.0 222.6 391.4 218.0 393.2 216.0 400.1 212.0z"/>
<path fill="#9c0000" d="M409.0 219.6 415.0 218.5 423.0 219.0 425.0 221.8 425.5 230.0 427.2 234.0 437.0 240.5 447.0 249.7 449.0 250.8 453.0 251.6 477.0 252.9 493.0 257.3 498.1 260.0 501.5 264.0 503.5 270.0 506.9 294.0 505.8 306.0 506.5 308.0 511.0 310.5 523.0 312.5 527.0 313.7 531.0 322.5 532.0 326.0 532.3 328.0 531.2 330.0 526.8 332.0 515.0 334.9 511.0 337.1 509.1 340.0 507.0 345.9 505.0 347.0 501.4 342.0 499.0 340.3 497.0 339.7 479.0 339.6 475.0 340.8 472.9 344.0 469.1 366.0 465.0 377.9 461.8 390.0 457.0 398.7 453.0 403.3 451.0 404.4 447.0 404.2 439.2 402.0 434.4 400.0 432.4 398.0 425.7 386.0 421.0 373.3 418.4 370.0 415.0 368.4 401.0 367.4 375.0 372.7 359.0 373.7 335.9 378.0 333.0 379.7 330.9 382.0 325.6 392.0 319.0 392.4 315.0 395.0 306.7 402.0 303.0 406.0 297.0 415.2 295.0 417.3 291.0 418.4 267.0 414.6 261.0 414.9 231.0 433.0 229.0 433.1 227.0 430.6 222.7 416.0 221.3 414.0 219.0 412.5 217.0 409.0 215.8 402.0 215.2 392.0 214.1 388.0 210.4 380.0 209.4 376.0 209.3 372.0 210.3 366.0 213.8 356.0 214.0 342.0 215.0 336.8 218.9 328.0 225.0 320.5 227.0 320.3 231.0 325.6 235.0 327.4 253.0 327.7 257.0 326.9 259.0 325.0 260.3 322.0 263.0 307.5 265.0 301.1 269.0 292.5 271.0 291.4 277.0 291.6 285.0 293.9 293.0 293.7 297.0 294.6 298.7 296.0 299.8 298.0 303.0 307.0 305.0 308.4 309.0 306.9 321.0 297.7 327.0 294.2 339.0 289.8 351.0 286.8 355.0 285.1 357.6 282.0 362.7 272.0 365.0 270.7 367.0 272.2 373.5 284.0 375.0 286.3 377.0 287.9 381.0 287.8 389.0 284.1 391.0 282.6 392.6 280.0 395.0 272.3 401.0 262.2 412.1 248.0 414.5 244.0 414.4 242.0 412.2 240.0 402.5 234.0 400.5 232.0 399.8 230.0 401.5 224.0 403.0 222.0 407.4 220.0z"/>
<path fill="#940000" d="M429.0 245.6 431.0 244.8 435.0 245.8 445.0 252.9 449.0 254.8 477.0 256.4 489.0 260.4 492.2 262.0 495.0 264.4 497.3 268.0 498.5 272.0 501.4 292.0 501.0 296.0 499.3 298.0 495.0 298.9 474.5 300.0 470.0 302.0 469.1 304.0 469.6 326.0 468.6 328.0 466.3 330.0 465.6 332.0 466.1 346.0 465.0 364.1 461.0 378.3 459.0 382.5 457.0 384.9 455.0 386.3 453.0 386.6 450.8 386.0 448.8 384.0 447.8 380.0 447.4 370.0 446.5 366.0 439.0 346.0 435.5 334.0 433.0 329.5 426.9 308.0 425.0 304.3 423.0 302.6 421.0 301.5 417.0 300.7 412.2 302.0 409.4 304.0 408.0 306.0 401.0 328.6 399.0 332.0 395.0 333.8 373.0 336.8 369.0 338.0 367.0 340.4 365.3 346.0 365.0 360.0 364.0 364.0 361.3 366.0 355.6 368.0 337.0 372.0 333.0 373.4 329.0 377.2 323.0 385.5 315.0 390.5 303.0 400.6 295.0 408.8 293.0 409.6 287.0 408.8 275.0 404.3 261.0 401.9 233.0 402.1 223.1 400.0 221.0 395.7 218.5 388.0 215.0 382.3 212.3 376.0 211.8 372.0 212.5 366.0 216.0 356.0 216.0 344.0 216.8 338.0 221.0 328.6 223.0 326.0 225.0 325.3 229.0 328.8 233.0 330.5 257.0 330.5 259.0 329.7 261.0 327.9 265.0 318.1 267.0 315.5 271.0 313.8 287.0 309.8 293.0 306.1 295.0 306.7 299.0 315.8 301.0 317.9 309.0 320.3 313.0 320.6 316.4 320.0 318.8 318.0 326.1 306.0 329.6 302.0 332.7 300.0 337.7 298.0 359.0 292.0 361.3 290.0 365.0 284.9 367.0 284.2 369.0 285.5 373.0 290.7 375.0 292.2 377.0 292.7 383.0 290.8 392.4 286.0 395.0 282.3 396.4 276.0 399.0 271.1 407.3 264.0 417.0 253.3 425.0 248.8 428.4 246.0z"/>
<path fill="#880000" d="M433.0 255.6 435.0 254.6 437.0 254.6 449.0 258.7 475.7 260.0 479.0 260.9 486.0 264.0 490.7 268.0 493.0 273.4 494.7 284.0 494.0 288.0 493.0 289.3 489.0 290.4 477.0 290.6 461.0 288.6 455.5 290.0 439.0 297.2 435.0 298.1 421.0 293.5 417.0 292.8 411.0 294.2 397.0 300.1 391.0 300.5 385.0 299.8 383.1 298.0 384.6 296.0 395.0 289.0 397.0 286.5 399.0 277.5 401.1 274.0 411.2 268.0 419.0 261.3 423.0 259.4 429.0 258.1 432.4 256.0zM291.0 331.9 295.0 331.2 299.5 332.0 304.4 334.0 319.1 342.0 321.0 344.3 323.0 348.9 327.0 358.3 328.6 364.0 327.3 368.0 319.0 379.8 299.0 396.6 295.0 399.1 291.0 399.0 271.0 390.9 268.6 388.0 263.0 373.1 261.0 369.6 257.0 368.5 235.0 368.5 229.0 367.3 227.5 366.0 226.8 364.0 223.7 344.0 224.4 338.0 225.0 336.8 227.0 335.9 265.0 335.5 269.7 336.0 277.0 338.2 281.0 337.2 290.6 332.0z"/>
</g>
<g fill="none" stroke="#000" stroke-width="1" shape-rendering="crispEdges">
<polyline points="223.5,176.0 224.6,174.0 223.0,172.0 222.0,174.0 222.4,176.0 223.0,176.5 223.5,176.0"/>
<polyline points="242.1,240.0 245.0,238.2 246.3,236.0 244.6,234.0 241.0,233.0 238.2,232.0 236.5,230.0 235.0,227.9 231.0,227.9 229.0,228.6 225.6,230.0 223.0,231.8 222.5,234.0 225.0,235.5 227.0,236.0 231.0,236.7 233.7,238.0 236.7,240.0 239.0,240.4 242.1,240.0"/>
<polyline points="125.0,142.0 129.0,142.0 133.0,142.0 137.0,142.0 141.0,146.0 145.0,150.0 149.0,154.0 153.0,158.0 157.0,162.0 161.0,166.0 165.0,170.0 169.0,174.0 173.0,178.0 177.0,182.0 181.0,186.0 185.0,190.0 189.0,194.0 193.0,198.0 197.0,194.0 199.0,190.0 201.0,190.0 203.0,192.8 207.0,193.2 211.0,192.9 213.3,192.0 215.7,190.0 217.7,188.0 219.5,186.0 221.5,184.0 223.6,182.0 225.4,180.0 227.0,177.8 228.3,174.0 227.3,170.0 226.0,168.0 224.3,166.0 222.1,164.0 220.2,162.0 218.3,160.0 215.7,158.0 213.0,156.9 209.0,156.5 205.0,156.9 201.0,158.0 201.0,162.0 197.0,158.0 193.0,154.0 191.0,150.0 187.0,146.0 183.0,142.0 179.0,140.0 175.0,138.0 171.0,136.0 167.0,134.0 163.0,132.0 159.0,130.0 155.0,128.0 151.0,124.0 147.0,122.0 143.0,120.0 139.0,118.0 135.0,116.0 131.0,114.0 127.0,112.0"/>
<polyline points="239.7,246.0 243.0,245.3 246.9,244.0 249.0,242.8 251.0,241.4 253.0,240.0 255.7,238.0 258.3,236.0 260.9,234.0 263.0,232.3 265.0,230.5 267.0,228.5 268.8,226.0 266.6,224.0 263.0,223.6 259.0,223.3 255.0,222.8 253.0,221.9 252.7,218.0 253.5,216.0 253.6,212.0 251.0,212.0 249.0,212.6 245.0,214.0 243.0,214.8 240.2,216.0 237.0,217.4 235.0,218.3 231.2,220.0 229.0,221.0 226.8,222.0 223.0,223.7 221.0,224.5 217.9,226.0 215.0,228.0 213.3,230.0 212.3,232.0 212.0,236.0 213.0,238.5 215.0,241.1 217.0,242.6 221.0,243.8 223.0,244.1 227.0,244.9 231.0,245.8 233.0,246.1 237.0,246.3 239.7,246.0"/>
<polyline points="292.1,256.0 295.0,254.1 295.9,252.0 295.1,248.0 293.1,246.0 291.0,245.1 288.0,246.0 287.0,248.0 286.3,252.0 287.0,254.5 289.0,256.2 292.1,256.0"/>
<polyline points="125.0,166.0 127.0,166.9 129.0,168.3 131.0,170.0 133.1,172.0 135.1,174.0 137.1,176.0 139.1,178.0 141.1,180.0 143.1,182.0 145.1,184.0 147.1,186.0 149.1,188.0 151.1,190.0 153.1,192.0 155.1,194.0 157.1,196.0 159.1,198.0 161.1,200.0 163.1,202.0 165.1,204.0 167.1,206.0 169.1,208.0 171.1,210.0 173.1,212.0 175.1,214.0 177.1,216.0 179.1,218.0 181.1,220.0 183.1,222.0 185.2,224.0 189.0,226.0 193.0,224.8 195.0,223.5 197.0,221.4 199.0,218.8 200.9,216.0 202.2,214.0 203.7,212.0 205.1,210.0 207.0,207.2 209.0,204.3 210.6,202.0 212.0,200.0 213.6,198.0 215.3,196.0 217.1,194.0 219.0,191.4 221.0,188.9 223.0,186.4 225.0,184.3 226.9,182.0 228.4,180.0 229.8,178.0 230.9,174.0 230.8,170.0 230.5,166.0 229.0,163.2 227.0,161.6 224.8,160.0 222.0,158.0 219.2,156.0 217.0,154.6 215.0,153.2 213.0,151.3 211.0,149.1 209.0,146.9 207.0,144.6 205.1,142.0 203.7,140.0 202.1,138.0 200.5,136.0 199.0,133.4 198.2,130.0 198.6,126.0 199.0,123.2 200.3,120.0 203.0,118.0 205.6,118.0 209.0,116.0 213.0,116.0 217.0,116.0 221.0,116.0 225.0,116.0 229.0,116.0 233.0,114.0 237.0,114.0 241.0,114.0 245.0,114.0 249.0,112.0 253.0,110.0 255.0,106.0 257.0,102.0 261.0,98.0 263.0,94.0 265.0,90.0 269.0,86.0 271.0,82.0 275.0,83.4 275.1,80.0 275.0,76.0 279.0,72.0 283.0,70.0 283.0,66.0 283.0,62.0 283.0,58.0"/>
<polyline points="271.2,124.0 271.0,123.1 270.8,124.0 271.0,125.9 271.2,124.0"/>
<polyline points="293.5,258.0 296.6,256.0 298.4,254.0 299.2,252.0 299.0,249.9 297.1,246.0 295.2,244.0 293.0,242.4 291.0,240.9 289.0,238.9 287.0,236.2 285.5,234.0 284.1,232.0 282.9,230.0 281.0,226.4 280.2,224.0 280.0,220.0 279.0,216.1 277.0,215.4 273.0,214.9 269.0,214.6 266.7,214.0 266.1,210.0 267.2,208.0 269.0,205.4 271.0,202.6 272.9,200.0 274.1,198.0 275.1,196.0 273.0,194.4 269.0,195.3 266.9,196.0 263.0,197.4 261.0,198.1 257.0,199.7 255.0,200.4 251.0,201.9 249.0,202.6 245.0,203.7 241.3,202.0 242.2,198.0 243.0,195.9 244.6,192.0 245.4,190.0 247.0,186.2 247.9,184.0 249.0,181.4 250.4,178.0 251.3,176.0 252.9,172.0 253.8,170.0 255.0,167.1 256.3,164.0 257.1,162.0 258.8,158.0 259.6,156.0 261.0,152.7 262.1,150.0 263.0,147.8 264.5,144.0 265.3,142.0 266.9,138.0 267.6,136.0 269.0,132.4 269.6,130.0 269.0,127.1 267.3,130.0 266.0,132.0 264.4,134.0 262.8,136.0 261.0,138.9 259.1,142.0 258.0,144.0 256.6,146.0 255.0,148.5 253.0,151.7 251.7,154.0 250.5,156.0 249.0,158.4 247.0,161.7 245.6,164.0 244.4,166.0 243.0,168.1 241.0,171.6 239.6,174.0 238.4,176.0 237.0,178.4 235.0,181.8 233.8,184.0 232.6,186.0 231.0,188.7 229.1,192.0 228.0,194.0 226.8,196.0 225.0,199.1 223.4,202.0 222.2,204.0 221.0,206.0 219.0,209.5 217.6,212.0 216.4,214.0 215.0,216.4 213.0,219.8 211.8,222.0 210.6,224.0 209.0,226.7 207.1,230.0 206.1,232.0 205.0,234.2 203.4,238.0 202.8,240.0 202.1,244.0 203.0,247.1 205.0,248.8 208.1,250.0 211.0,250.6 215.0,250.6 217.3,250.0 221.0,248.9 225.0,248.5 229.0,248.7 233.0,249.1 237.0,249.1 241.0,248.8 245.0,248.3 247.0,248.0 251.0,246.5 253.0,245.3 255.0,243.9 257.7,242.0 260.4,240.0 263.0,238.2 265.0,236.7 267.0,235.2 269.0,233.8 272.4,232.0 275.0,231.6 277.0,232.8 279.0,235.7 280.2,238.0 281.2,240.0 282.9,244.0 283.4,246.0 283.3,250.0 283.4,254.0 285.0,256.9 287.0,258.4 291.0,258.9 293.5,258.0"/>
<polyline points="305.0,202.0 307.4,200.0 309.2,198.0 310.6,194.0 309.0,191.1 307.0,189.6 303.0,188.2 301.0,187.8 298.7,188.0 297.0,190.7 296.0,194.0 295.7,198.0 297.0,200.3 299.0,202.1 303.0,202.8 305.0,202.0"/>
<polyline points="125.0,177.9 127.0,179.3 129.0,181.2 131.0,183.2 133.0,185.2 135.0,187.2 137.0,189.2 139.0,191.2 141.0,193.2 143.0,195.2 145.0,197.2 147.0,199.2 149.0,201.2 151.0,203.2 153.0,205.2 155.0,207.2 157.0,209.2 159.0,211.2 161.0,213.2 163.0,215.2 165.0,217.2 167.0,219.2 169.0,221.2 171.0,223.2 173.0,225.2 175.0,227.2 177.0,229.2 179.0,231.2 181.0,233.1 183.0,234.8 187.0,235.5 190.0,234.0 192.0,232.0 193.6,230.0 195.3,228.0 197.0,226.0 199.0,223.4 201.0,220.8 203.0,218.0 204.5,216.0 206.1,214.0 207.5,212.0 209.0,209.8 211.0,207.3 213.0,204.7 215.0,202.3 215.6,206.0 214.6,208.0 213.0,211.2 211.5,214.0 210.4,216.0 209.0,218.7 207.2,222.0 206.0,224.0 205.0,226.0 203.0,229.6 201.6,232.0 200.6,234.0 199.0,237.0 197.5,240.0 196.6,242.0 195.1,246.0 194.7,248.0 194.7,252.0 195.4,254.0 197.5,256.0 201.0,256.9 205.0,256.9 209.0,256.5 211.9,256.0 215.0,255.1 217.0,254.0 220.3,252.0 223.0,251.1 227.0,250.7 231.0,251.0 235.0,251.3 239.0,251.2 243.0,251.0 247.0,250.9 251.0,250.5 253.0,250.0 256.6,248.0 259.0,246.3 261.0,244.8 263.0,243.4 265.0,241.9 267.6,240.0 270.8,238.0 273.0,237.5 275.0,238.3 277.0,240.8 278.7,244.0 279.5,246.0 280.2,250.0 280.5,254.0 281.2,256.0 283.0,258.3 285.1,260.0 289.0,261.2 293.0,260.2 295.0,259.2 297.0,258.0 299.6,256.0 301.4,254.0 302.0,250.0 301.0,247.6 299.0,244.5 297.0,242.4 295.0,240.7 293.0,238.9 291.0,236.7 289.0,234.0 287.7,232.0 286.5,230.0 285.0,227.3 284.0,224.0 285.0,220.6 286.1,218.0 285.8,214.0 285.0,211.8 283.0,208.5 281.0,206.9 279.0,205.7 278.7,202.0 280.0,200.0 281.5,198.0 283.5,196.0 286.4,194.0 288.4,194.0 289.3,196.0 290.3,200.0 291.8,202.0 295.0,203.9 297.0,204.9 300.3,206.0 301.6,206.0 305.0,204.9 307.0,203.5 309.0,201.5 311.0,199.3 313.0,196.8 313.7,194.0 313.0,191.8 311.0,189.4 309.0,187.7 305.8,186.0 303.0,184.9 301.0,183.9 298.3,182.0 296.4,180.0 294.2,178.0 291.0,177.0 287.0,177.8 285.0,178.4 281.0,179.7 279.0,180.4 275.0,181.5 271.5,182.0 270.9,182.0 269.5,178.0 270.8,174.0 271.6,172.0 273.0,168.6 274.1,166.0 275.0,163.9 276.6,160.0 277.5,158.0 279.0,154.3 280.0,152.0 281.0,149.5 282.5,146.0 283.3,144.0 285.0,140.1 285.9,138.0 287.0,135.7 289.0,132.3 291.0,130.4 293.0,129.4 295.0,126.8 295.8,124.0 296.6,120.0 296.9,116.0 296.9,112.0 296.7,108.0 296.8,104.0 297.1,102.0 299.0,98.6 301.0,97.3 303.5,96.0 307.0,94.4 309.0,93.5 312.5,92.0 315.0,90.9 318.0,90.0 321.0,89.7 325.0,89.7 327.0,86.0 327.8,84.0 329.2,82.0 331.7,80.0 333.8,78.0 335.4,76.0 337.0,73.6 338.9,70.0 339.5,68.0 340.6,64.0 341.2,62.0 341.6,58.0"/>
<polyline points="241.0,160.8 237.0,160.2 235.0,159.2 231.9,158.0 229.0,157.0 226.2,156.0 223.0,154.8 221.0,153.8 217.8,152.0 215.3,150.0 213.6,148.0 211.8,146.0 210.0,144.0 208.3,142.0 206.9,140.0 205.0,137.2 203.1,134.0 205.0,131.4 209.0,131.0 213.0,130.7 216.0,130.0 219.0,129.3 223.0,129.0 227.0,129.0 231.0,129.0 235.0,129.0 239.0,129.0 243.0,128.7 247.0,128.4 251.0,128.5 255.0,128.4 257.0,127.9 259.4,128.0 258.8,130.0 257.0,133.6 256.0,136.0 255.0,138.5 253.3,142.0 252.1,144.0 250.9,146.0 249.0,149.1 247.2,152.0 246.0,154.0 244.8,156.0 243.0,158.8 241.0,160.8"/>
<polyline points="217.0,203.0 215.7,202.0 217.0,200.6 217.3,202.0 217.0,203.0"/>
<polyline points="125.0,243.8 127.0,244.3 129.7,246.0 132.2,248.0 135.0,250.0 137.0,251.0 139.0,252.1 142.6,254.0 145.0,255.1 147.0,256.3 149.8,258.0 153.0,259.7 155.0,260.6 158.1,262.0 161.0,263.1 165.0,263.2 167.1,262.0 169.6,260.0 171.6,258.0 173.3,256.0 175.0,253.6 177.0,251.0 179.0,248.8 181.0,247.5 183.6,246.0 186.4,244.0 188.2,244.0 187.3,248.0 186.5,250.0 185.0,254.0 184.4,256.0 183.9,260.0 184.9,264.0 186.4,266.0 189.0,267.0 192.7,266.0 195.0,265.5 199.0,264.9 203.0,264.3 205.0,263.9 209.0,262.8 211.0,262.0 214.8,260.0 217.0,258.2 219.0,256.2 221.0,254.4 223.0,253.3 227.0,252.6 231.0,252.9 235.0,253.2 239.0,253.2 243.0,253.2 247.0,253.3 251.0,253.4 255.0,253.0 257.9,252.0 261.0,250.0 263.0,248.5 265.0,246.9 267.0,245.4 269.3,244.0 273.0,243.6 275.0,245.6 276.2,248.0 277.0,250.8 277.5,254.0 279.0,257.1 281.0,259.4 283.0,261.1 285.0,262.3 289.0,263.2 293.0,262.1 295.0,261.0 297.0,259.8 299.7,258.0 302.4,256.0 304.1,254.0 305.0,252.0 305.0,250.0 303.2,246.0 301.9,244.0 300.3,242.0 298.2,240.0 295.9,238.0 293.9,236.0 292.2,234.0 290.7,232.0 289.0,229.4 287.3,226.0 287.0,224.0 287.4,222.0 288.8,218.0 288.7,214.0 288.6,210.0 289.8,208.0 293.0,207.1 297.0,207.8 299.0,208.2 302.5,208.0 305.0,207.1 307.0,205.9 309.2,204.0 311.0,202.0 313.0,200.0 315.1,198.0 316.2,194.0 315.0,191.0 313.0,188.6 311.0,186.8 309.0,185.3 306.7,184.0 303.2,182.0 301.0,180.2 299.4,178.0 298.3,176.0 297.0,172.9 295.9,170.0 295.5,166.0 296.4,162.0 297.3,160.0 299.0,156.9 300.6,154.0 301.6,152.0 303.0,149.1 304.3,146.0 305.1,144.0 306.1,140.0 306.8,136.0 307.1,134.0 307.0,130.7 306.4,128.0 305.2,124.0 304.7,122.0 304.1,118.0 304.1,114.0 305.0,111.3 307.0,109.8 309.5,108.0 311.0,106.0 313.0,103.2 315.0,101.3 317.4,100.0 321.0,99.0 325.0,98.9 329.0,98.6 331.0,98.0 334.6,96.0 337.0,94.2 339.0,92.2 340.8,90.0 341.7,88.0 341.9,84.0 342.7,80.0 344.1,78.0 345.8,76.0 347.7,74.0 349.8,72.0 352.2,70.0 354.1,68.0 355.7,66.0 357.6,64.0 359.8,62.0 361.8,60.0 363.5,58.0"/>
<polyline points="125.0,248.5 127.8,250.0 130.4,252.0 133.0,253.8 135.0,255.0 137.0,256.2 140.4,258.0 143.0,259.4 145.0,260.6 147.3,262.0 150.5,264.0 153.0,265.6 155.0,266.9 157.0,268.2 159.5,270.0 162.0,272.0 165.0,273.9 167.0,275.5 168.5,278.0 170.3,280.0 172.5,282.0 174.3,284.0 177.0,285.4 181.0,285.4 184.9,284.0 187.0,282.5 189.0,281.5 193.0,280.0 195.0,279.1 197.5,278.0 201.0,276.6 203.3,276.0 207.0,274.2 209.0,272.2 211.0,270.0 213.0,268.0 215.0,266.0 216.7,264.0 218.2,262.0 219.6,260.0 221.0,257.9 223.0,255.8 227.0,254.5 231.0,254.7 235.0,255.1 239.0,255.1 243.0,255.2 247.0,255.5 251.0,255.8 255.0,255.9 259.0,255.4 262.0,254.0 264.7,252.0 267.0,250.3 269.0,249.3 272.2,250.0 273.5,252.0 275.0,255.4 276.6,258.0 278.6,260.0 280.9,262.0 283.0,263.5 285.0,264.5 289.0,265.1 292.8,264.0 295.0,262.7 297.0,261.4 299.0,260.0 302.2,258.0 304.8,256.0 306.5,254.0 307.5,252.0 307.2,248.0 306.3,246.0 305.0,243.5 303.0,240.5 301.0,238.7 299.0,237.2 297.0,235.4 295.0,233.4 293.0,231.0 291.0,228.1 290.0,226.0 289.9,222.0 291.0,218.0 291.2,216.0 291.9,212.0 295.0,210.2 299.0,210.3 301.7,210.0 305.0,209.0 307.0,207.9 309.7,206.0 311.7,204.0 313.6,202.0 316.2,200.0 318.0,198.0 318.5,194.0 317.0,190.3 315.1,188.0 313.0,186.2 311.0,184.5 309.0,183.0 307.0,181.6 304.9,180.0 302.9,178.0 301.0,174.8 300.1,172.0 300.1,168.0 300.7,164.0 301.2,162.0 302.9,158.0 304.1,156.0 305.4,154.0 307.0,151.5 309.0,148.9 311.0,146.4 312.8,144.0 313.8,142.0 315.0,139.2 316.8,136.0 317.9,134.0 319.0,131.4 319.6,128.0 319.4,124.0 319.4,120.0 319.8,116.0 320.2,112.0 321.0,109.8 323.0,107.7 326.5,106.0 329.0,105.2 332.2,104.0 335.0,102.8 337.0,101.7 339.5,100.0 341.9,98.0 345.0,96.1 347.0,95.2 349.1,94.0 351.4,92.0 353.0,90.0 353.8,86.0 354.2,82.0 355.0,79.8 357.0,76.9 359.0,74.6 361.0,72.6 363.0,71.2 365.0,69.9 367.0,68.0 369.0,65.9 371.1,64.0 373.3,62.0 375.0,60.0 377.0,56.1"/>
<polyline points="125.0,253.6 127.0,254.8 129.0,256.4 131.1,258.0 133.2,260.0 135.0,262.0 137.0,265.2 138.5,268.0 139.5,270.0 141.0,273.0 142.5,276.0 143.5,278.0 145.0,281.0 146.5,284.0 147.6,286.0 149.0,288.4 151.0,292.0 151.3,294.0 153.0,297.9 155.0,298.3 157.5,298.0 161.0,297.2 164.4,296.0 167.0,295.1 171.0,294.1 173.0,293.7 177.0,292.8 179.4,292.0 183.0,290.4 185.0,289.4 187.9,288.0 191.0,286.6 193.0,285.9 196.9,284.0 199.0,282.9 201.3,282.0 205.0,280.9 207.4,280.0 210.2,278.0 212.3,276.0 214.0,274.0 215.6,272.0 217.0,269.7 219.0,266.1 220.3,264.0 221.5,262.0 223.0,259.5 225.0,257.4 229.0,256.4 233.0,256.8 237.0,257.0 241.0,257.1 245.0,257.5 249.0,257.8 251.0,258.0 255.0,258.4 259.0,258.4 261.0,258.0 264.9,256.0 267.0,254.9 271.0,255.3 273.0,257.4 275.0,259.5 277.0,261.3 279.0,262.9 281.0,264.5 283.6,266.0 287.0,266.9 291.0,266.6 293.0,265.8 295.6,264.0 298.2,262.0 301.0,260.1 303.0,258.9 305.0,257.6 307.0,255.8 309.0,253.2 310.0,250.0 309.1,246.0 308.3,244.0 307.0,240.3 305.5,238.0 303.0,236.3 301.0,235.2 299.0,233.8 297.0,231.9 295.0,229.6 293.0,226.5 292.2,224.0 292.9,220.0 293.3,218.0 294.6,214.0 297.0,212.7 301.0,212.0 303.0,211.5 306.7,210.0 309.0,208.7 311.0,207.4 313.0,205.8 315.0,203.9 317.3,202.0 319.3,200.0 321.0,196.0 320.1,192.0 319.0,189.8 317.0,187.2 315.0,185.3 313.0,183.6 311.0,181.9 308.9,180.0 307.0,178.0 305.0,175.6 303.1,172.0 302.8,170.0 303.0,167.3 303.7,164.0 305.0,160.9 307.0,158.1 308.9,156.0 311.0,154.0 313.0,152.3 315.0,150.6 317.0,148.9 319.0,147.2 321.0,145.5 323.0,143.9 325.0,142.0 327.0,139.6 329.0,136.7 330.8,134.0 332.1,132.0 333.3,130.0 335.0,127.3 336.9,124.0 337.7,122.0 337.5,118.0 336.7,116.0 335.4,112.0 337.0,109.8 339.8,108.0 343.0,106.3 345.0,105.3 348.2,104.0 351.0,102.9 353.0,101.9 357.0,100.3 359.0,99.9 363.0,98.7 365.0,96.9 365.6,94.0 365.3,90.0 367.0,87.2 368.9,84.0 368.4,80.0 369.0,76.5 371.0,74.8 375.0,74.6 379.0,75.1 383.0,74.1 385.0,72.5 385.6,70.0 384.1,68.0 382.3,66.0 381.9,62.0 383.0,59.8 384.5,56.0"/>
<polyline points="125.0,333.3 129.0,333.3 133.0,333.3 137.0,333.2 141.0,332.4 143.0,331.5 145.4,330.0 147.6,328.0 149.5,326.0 151.1,324.0 153.0,321.7 155.0,319.3 157.0,317.0 159.0,315.0 161.0,313.1 163.0,311.1 165.0,308.9 167.0,306.5 169.0,304.3 171.0,302.5 173.0,301.1 175.0,299.9 178.5,298.0 181.0,296.5 183.0,295.0 185.0,293.5 187.4,292.0 191.0,290.6 193.0,289.9 197.0,288.3 199.0,287.1 201.0,286.0 205.0,284.4 207.0,283.8 210.8,282.0 213.0,280.2 215.0,278.4 217.0,276.2 218.4,274.0 219.3,272.0 220.8,268.0 221.9,266.0 223.1,264.0 225.0,261.0 227.0,259.2 231.0,258.6 235.0,258.8 239.0,259.0 243.0,259.4 247.0,259.8 249.0,260.0 253.0,260.5 257.0,261.0 261.0,260.8 263.6,260.0 267.0,258.6 271.0,259.3 273.0,260.7 275.0,262.2 277.2,264.0 279.8,266.0 283.0,267.9 285.0,268.5 289.0,268.8 292.0,268.0 295.0,266.2 297.0,264.5 299.0,262.8 301.0,261.4 303.5,260.0 306.5,258.0 308.7,256.0 310.4,254.0 311.5,252.0 311.9,248.0 311.0,244.2 310.5,242.0 309.4,238.0 307.8,236.0 305.0,234.2 303.0,233.2 300.9,232.0 298.6,230.0 296.8,228.0 295.0,224.2 295.0,222.0 295.4,220.0 297.0,216.2 299.0,214.8 301.1,214.0 305.0,212.7 307.0,211.9 310.9,210.0 313.0,208.8 315.0,207.6 317.0,205.8 319.0,203.6 321.0,200.9 322.7,198.0 323.3,196.0 323.0,193.9 321.3,190.0 320.2,188.0 318.8,186.0 316.9,184.0 314.7,182.0 312.8,180.0 311.0,177.8 309.0,175.1 307.0,172.4 306.0,170.0 306.3,166.0 307.1,164.0 309.0,161.7 311.3,160.0 314.7,158.0 317.0,156.8 319.0,155.8 322.7,154.0 325.0,152.8 327.0,151.8 330.2,150.0 333.0,148.3 335.0,147.1 337.0,145.8 339.5,144.0 342.8,142.0 345.0,141.0 347.3,140.0 350.3,138.0 352.8,136.0 355.0,134.4 357.0,132.8 359.0,131.0 361.0,128.8 363.0,126.6 365.0,125.5 369.0,124.6 371.0,123.8 373.8,122.0 376.0,120.0 378.3,118.0 381.0,116.4 383.0,114.9 385.0,112.9 387.0,110.1 387.6,108.0 388.4,104.0 389.1,102.0 390.8,98.0 391.8,96.0 393.0,93.7 395.0,90.2 397.0,88.0 399.0,86.8 401.1,86.0 405.0,85.0 409.0,84.2 411.0,83.6 415.0,82.2 417.0,81.2 419.0,80.0 421.4,78.0 423.4,76.0 425.0,74.0 426.5,70.0 426.4,66.0 425.0,63.6 423.0,62.0 419.0,60.4 417.0,59.8 413.0,58.7 411.0,57.8 408.3,56.0"/>
<polyline points="125.0,349.9 127.0,350.0 129.3,352.0 131.0,354.1 133.0,356.3 135.0,358.0 139.0,358.4 141.0,356.1 142.1,354.0 143.7,352.0 145.7,350.0 148.5,348.0 149.4,346.0 151.0,342.9 153.0,341.5 157.0,340.6 159.0,339.9 161.3,338.0 163.0,334.4 163.6,332.0 164.2,328.0 165.0,325.1 166.9,322.0 168.7,320.0 170.4,318.0 171.7,316.0 173.0,313.7 174.7,310.0 175.6,308.0 177.0,305.6 179.0,303.2 181.0,301.5 183.0,299.9 185.2,298.0 187.7,296.0 191.0,294.4 193.0,293.8 197.0,292.5 199.0,291.6 201.4,290.0 204.3,288.0 207.0,286.9 209.7,286.0 213.0,284.3 215.0,282.6 217.0,280.8 219.0,278.7 220.8,276.0 221.7,274.0 222.9,270.0 223.7,268.0 225.0,265.6 227.0,262.6 229.0,261.2 233.0,260.8 237.0,261.0 241.0,261.4 245.0,261.8 247.0,262.1 251.0,262.7 255.0,263.4 259.0,263.7 263.0,263.3 267.0,262.0 269.0,261.9 271.0,262.4 273.8,264.0 276.6,266.0 279.0,267.8 281.0,269.1 283.0,270.0 287.0,270.6 291.0,270.2 293.0,269.4 295.0,268.0 297.1,266.0 299.2,264.0 302.1,262.0 305.0,260.4 307.0,259.1 309.0,257.5 311.0,255.5 313.0,252.6 313.8,250.0 313.5,246.0 313.0,243.0 312.5,240.0 311.1,236.0 309.1,234.0 307.0,232.7 305.0,231.5 302.5,230.0 300.0,228.0 298.5,226.0 297.6,222.0 299.0,218.3 301.0,216.5 303.0,215.5 307.0,214.1 309.0,213.3 312.2,212.0 315.0,210.7 317.0,209.2 319.0,206.9 321.0,204.0 322.3,202.0 323.7,200.0 325.1,198.0 325.8,194.0 324.8,192.0 323.0,188.9 321.4,186.0 320.2,184.0 318.9,182.0 317.0,179.6 315.0,176.9 313.0,174.0 311.6,172.0 310.5,170.0 310.9,166.0 313.0,164.0 315.0,162.8 317.0,161.8 321.0,160.4 323.0,159.9 327.0,158.6 329.0,157.9 333.0,156.2 335.0,155.3 337.8,154.0 341.0,152.4 343.0,151.5 347.0,150.1 349.0,149.3 351.2,148.0 353.5,146.0 355.9,144.0 359.0,142.5 361.0,141.9 365.0,141.1 369.0,140.4 372.7,140.0 375.0,139.6 379.0,138.3 381.0,137.4 384.1,136.0 387.0,134.6 389.0,133.7 391.2,132.0 392.6,128.0 393.4,126.0 395.0,123.2 397.0,120.0 398.5,118.0 400.4,116.0 402.1,114.0 403.4,112.0 404.3,108.0 404.6,104.0 405.0,101.3 405.6,98.0 407.0,95.3 409.8,94.0 413.0,93.6 417.0,92.9 421.0,92.3 425.0,92.8 429.0,93.8 431.0,94.3 435.0,95.4 437.0,96.3 440.5,98.0 443.0,99.1 445.2,100.0 449.0,101.5 451.3,102.0 453.9,102.0 457.0,101.1 459.0,99.0 460.4,96.0 461.3,94.0 463.0,90.8 464.8,88.0 466.1,86.0 467.2,84.0 468.3,80.0 468.8,76.0 469.1,74.0 470.0,70.0 471.0,67.0 472.2,64.0 473.0,60.3 473.0,58.0 472.9,56.0"/>
<polyline points="125.0,362.0 127.0,362.1 131.0,363.0 133.9,364.0 136.8,366.0 137.9,368.0 138.8,372.0 139.6,374.0 142.6,374.0 144.0,372.0 146.0,370.0 149.0,369.9 151.0,370.4 155.0,370.8 159.0,370.4 161.0,369.4 163.2,368.0 166.0,366.0 168.5,364.0 170.4,362.0 171.6,360.0 173.0,356.6 173.9,354.0 175.0,350.8 175.8,348.0 176.4,344.0 175.3,340.0 174.3,338.0 173.4,334.0 174.2,330.0 175.0,328.0 176.7,324.0 177.4,322.0 178.6,318.0 179.1,316.0 180.3,312.0 181.0,309.9 182.7,306.0 184.3,304.0 186.5,302.0 188.8,300.0 191.0,298.6 193.0,297.8 197.0,296.5 199.0,295.9 202.4,294.0 204.8,292.0 207.0,290.5 209.0,289.6 213.0,288.7 215.0,287.9 217.1,286.0 219.0,283.6 221.0,281.0 223.0,278.0 224.1,276.0 225.0,273.5 226.0,270.0 227.0,267.5 229.0,264.5 231.0,263.4 235.0,263.1 239.0,263.6 242.0,264.0 245.0,264.6 249.0,265.3 252.6,266.0 255.0,266.4 259.0,266.7 263.0,266.4 265.0,266.0 269.0,265.1 272.5,266.0 275.0,267.4 277.0,268.8 279.0,270.2 283.0,272.0 285.0,272.3 289.0,272.4 291.1,272.0 294.7,270.0 296.8,268.0 298.7,266.0 300.9,264.0 303.0,262.7 305.0,261.7 307.9,260.0 310.4,258.0 312.5,256.0 314.1,254.0 315.2,252.0 315.6,248.0 315.1,244.0 314.8,242.0 313.9,238.0 313.0,235.3 311.0,232.9 309.0,231.5 306.6,230.0 303.7,228.0 301.6,226.0 300.5,224.0 301.0,220.1 303.0,218.1 305.0,217.1 308.4,216.0 311.0,215.2 314.2,214.0 317.0,212.5 319.0,210.5 320.7,208.0 322.0,206.0 323.2,204.0 325.0,201.3 327.0,198.9 329.0,196.2 329.3,194.0 328.3,192.0 326.6,190.0 325.0,188.0 323.2,184.0 322.6,182.0 321.1,178.0 319.9,176.0 318.7,174.0 317.0,171.1 316.5,168.0 318.4,166.0 321.0,165.1 325.0,164.4 327.0,164.0 331.0,162.7 333.0,162.0 337.0,160.6 339.0,159.9 343.0,158.6 345.0,157.9 349.0,156.7 351.2,156.0 355.0,154.6 357.0,153.9 361.0,152.7 364.5,152.0 367.0,151.7 371.0,151.7 373.8,152.0 377.0,152.5 381.0,153.2 385.0,153.8 387.0,154.0 389.4,154.0 393.0,152.8 395.0,151.4 397.0,149.7 399.0,147.6 401.0,145.0 402.3,142.0 403.0,140.0 403.8,136.0 403.0,132.6 401.7,130.0 402.3,126.0 403.8,124.0 405.4,122.0 407.0,119.8 408.9,116.0 409.5,114.0 409.8,110.0 409.6,106.0 410.5,102.0 413.0,100.2 415.0,99.6 419.0,98.5 423.0,98.9 425.2,100.0 429.0,101.9 431.0,102.7 433.9,104.0 437.0,105.8 439.0,107.1 441.0,108.4 443.3,110.0 446.1,112.0 448.8,114.0 450.7,116.0 452.0,118.0 453.0,120.1 454.6,124.0 455.6,126.0 457.1,128.0 459.8,130.0 463.0,131.5 465.0,132.3 469.0,133.4 471.8,134.0 475.0,134.6 479.0,135.6 481.0,136.2 485.0,137.4 487.0,138.0 491.0,138.9 495.0,139.8 497.0,140.1 501.0,140.5 505.0,140.4 508.8,140.0 511.0,139.6 515.0,139.1 519.0,138.0 521.0,136.7 523.0,135.0 525.0,132.4 525.9,130.0 526.5,126.0 526.1,122.0 525.0,119.9 522.6,118.0 519.0,116.1 517.0,115.1 514.9,114.0 511.0,113.0 507.0,112.3 504.2,112.0 501.0,111.8 497.2,112.0 495.0,112.2 491.0,112.3 488.5,112.0 485.0,110.5 483.0,108.6 481.2,106.0 480.2,104.0 479.1,100.0 478.8,98.0 478.4,94.0 477.9,90.0 477.6,86.0 477.5,82.0 477.6,78.0 478.3,74.0 479.2,72.0 481.0,69.6 483.0,67.9 485.9,66.0 489.0,64.0 491.0,62.0 491.2,60.0 490.9,58.0"/>
<polyline points="513.5,66.0 517.0,64.0 517.1,62.0 515.0,61.2 511.0,60.8 507.0,61.2 506.2,64.0 509.0,65.8 511.0,66.4 513.5,66.0"/>
<polyline points="125.0,427.8 129.0,426.1 131.0,424.9 133.0,423.7 137.0,423.4 139.0,424.5 143.0,424.0 145.0,423.2 148.1,422.0 151.0,420.8 153.0,419.8 155.6,418.0 157.1,416.0 158.5,412.0 159.1,410.0 160.1,406.0 159.0,403.9 156.9,402.0 153.0,400.2 151.0,399.5 147.0,398.2 145.0,397.0 144.5,394.0 145.0,391.1 145.8,388.0 146.3,384.0 147.0,381.2 149.0,378.1 151.0,377.0 155.0,377.7 156.8,380.0 158.6,382.0 161.0,382.4 163.0,380.3 164.2,378.0 165.2,376.0 167.0,373.8 169.0,372.0 171.7,370.0 174.2,368.0 176.4,366.0 178.2,364.0 179.7,362.0 181.0,359.5 182.5,356.0 183.3,354.0 184.8,350.0 185.1,348.0 185.0,345.1 184.4,342.0 183.7,338.0 183.4,334.0 183.0,330.9 182.5,328.0 182.6,324.0 183.0,321.2 183.8,318.0 185.0,314.3 185.9,312.0 187.0,309.4 188.8,306.0 190.5,304.0 193.0,302.1 195.0,301.1 197.9,300.0 201.0,298.9 203.2,298.0 207.0,296.0 209.0,294.7 212.0,294.0 215.0,293.7 219.0,292.0 221.0,290.3 222.6,288.0 223.1,286.0 224.4,282.0 225.4,280.0 227.0,276.6 227.9,274.0 229.0,270.3 230.2,268.0 233.0,266.0 235.0,265.9 237.0,266.2 241.0,267.1 244.9,268.0 247.0,268.5 251.0,269.4 255.0,269.8 259.0,269.7 263.0,269.5 267.0,268.9 271.0,268.5 274.9,270.0 277.0,271.3 279.0,272.5 283.0,273.9 285.0,274.2 289.0,274.2 291.0,273.9 294.5,272.0 296.7,270.0 298.4,268.0 300.2,266.0 302.8,264.0 305.0,262.9 307.0,261.9 310.1,260.0 312.6,258.0 314.7,256.0 316.2,254.0 317.1,252.0 317.4,248.0 317.0,244.7 316.6,242.0 315.7,238.0 315.0,235.4 313.1,232.0 311.0,230.5 309.0,229.1 307.0,227.6 305.0,225.6 303.8,222.0 305.3,220.0 309.0,218.5 311.0,217.9 315.0,216.7 317.0,215.8 319.7,214.0 321.4,212.0 323.0,209.8 325.0,207.6 326.2,204.0 327.3,202.0 329.3,200.0 331.6,198.0 332.9,194.0 331.0,190.1 329.0,188.2 327.3,186.0 326.8,184.0 326.8,180.0 325.9,176.0 325.0,172.3 325.0,171.9 327.0,169.8 331.0,168.3 333.0,167.6 337.0,166.4 339.0,165.8 343.0,164.8 347.0,164.0 349.0,163.8 353.0,163.9 355.0,164.3 359.0,165.5 362.9,166.0 363.1,166.0 367.0,165.5 371.0,164.6 373.0,163.9 377.0,162.1 379.0,161.4 383.0,160.8 387.0,160.9 391.0,160.8 395.0,160.1 397.0,159.4 399.5,158.0 402.1,156.0 404.1,154.0 405.5,152.0 407.0,148.9 408.1,146.0 408.9,142.0 409.1,140.0 409.4,136.0 409.0,132.9 408.4,130.0 409.0,126.5 410.4,124.0 411.7,122.0 413.0,119.8 415.0,116.4 416.7,114.0 418.4,112.0 421.0,110.1 423.0,110.0 425.0,110.3 429.0,111.8 431.0,113.1 433.0,114.6 435.0,116.0 438.4,118.0 441.0,119.7 443.0,121.3 445.0,122.8 447.0,124.9 448.6,128.0 449.5,130.0 451.0,133.1 452.7,136.0 454.7,138.0 457.0,139.3 459.0,140.1 463.0,141.5 465.0,142.1 469.0,142.8 473.0,143.4 475.7,144.0 479.0,144.7 483.0,145.8 485.0,146.2 489.0,147.0 493.0,147.6 496.0,148.0 499.0,148.4 503.0,148.9 507.0,149.2 511.0,149.4 515.0,149.4 519.0,149.3 523.0,149.0 527.0,148.3 529.0,147.8 533.0,146.4 535.0,145.4 537.1,144.0 539.0,142.0 541.0,139.0 543.0,136.4 545.0,134.5 547.0,133.3 549.6,132.0 553.0,130.3 555.0,129.1 557.0,127.8 559.0,124.2 559.0,124.0 557.0,120.8 555.0,118.7 553.0,117.2 551.0,116.0 547.1,114.0 545.0,113.3 541.0,112.8 537.0,112.9 533.0,112.4 531.0,112.0 527.0,110.8 524.9,110.0 521.0,108.7 518.3,108.0 515.0,107.5 511.0,107.1 507.0,106.6 503.0,106.3 499.0,106.2 495.0,106.0 493.0,105.6 490.3,104.0 488.6,102.0 487.0,99.6 485.4,96.0 484.7,94.0 483.8,90.0 483.3,86.0 483.3,82.0 484.5,78.0 486.0,76.0 488.6,74.0 491.0,72.7 493.0,71.8 497.0,70.8 501.0,71.2 503.0,72.3 505.2,74.0 509.0,75.6 513.0,75.1 515.4,74.0 519.0,72.2 521.0,71.2 523.0,70.0 525.7,68.0 528.4,66.0 530.8,64.0 533.0,62.0 534.6,60.0 535.8,58.0"/>
<polyline points="125.0,384.9 129.0,385.0 132.0,386.0 134.0,388.0 135.0,390.4 135.3,394.0 134.5,396.0 131.0,397.5 127.0,396.6"/>
<polyline points="125.0,451.4 129.0,450.7 131.0,449.7 134.5,450.0 137.0,451.6 139.0,452.3 143.0,453.0 147.0,452.1 149.0,450.3 150.8,448.0 152.5,446.0 154.6,444.0 156.8,442.0 158.9,440.0 160.9,438.0 163.0,436.3 165.0,435.1 167.5,434.0 170.2,432.0 171.2,430.0 172.6,426.0 173.6,424.0 175.0,421.7 177.0,419.0 179.0,416.3 180.5,414.0 181.8,412.0 183.2,410.0 184.1,406.0 183.0,402.6 181.1,400.0 180.3,398.0 181.0,394.9 182.2,392.0 182.7,388.0 181.0,384.8 179.1,382.0 178.8,380.0 179.5,378.0 180.8,374.0 181.3,372.0 183.0,369.1 185.0,366.4 186.7,364.0 187.9,362.0 189.0,360.0 191.0,356.4 191.9,354.0 192.4,350.0 191.3,346.0 190.6,344.0 189.5,340.0 190.4,336.0 191.7,334.0 193.0,331.2 193.1,328.0 191.6,326.0 189.5,324.0 188.5,322.0 188.7,318.0 189.3,316.0 190.9,312.0 191.8,310.0 193.0,307.8 195.0,305.5 197.3,304.0 201.0,302.5 203.0,301.8 207.0,300.5 209.0,299.8 213.0,298.4 215.0,297.7 219.0,296.0 221.0,294.8 223.0,293.2 225.0,291.4 227.0,289.6 228.9,286.0 228.9,282.0 229.4,280.0 230.7,276.0 231.4,274.0 233.0,271.0 237.0,270.3 241.0,271.2 244.6,272.0 247.0,272.5 251.0,273.0 255.0,272.9 259.0,272.6 263.0,272.3 267.0,272.0 269.0,271.8 273.0,272.0 275.0,272.7 277.4,274.0 281.0,275.4 285.0,276.0 287.0,276.0 289.0,276.0 293.0,275.0 295.0,273.6 297.0,271.7 299.0,269.3 301.0,267.0 303.0,265.4 305.6,264.0 309.0,262.4 311.0,261.1 313.0,259.8 315.3,258.0 317.3,256.0 319.0,253.1 319.7,250.0 319.3,246.0 318.9,244.0 318.1,240.0 317.0,236.1 316.6,234.0 315.0,230.7 313.0,229.0 311.0,227.6 309.0,225.2 309.0,222.8 311.0,221.3 314.7,220.0 317.0,219.2 319.6,218.0 323.0,216.0 325.0,214.9 327.2,214.0 330.7,212.0 332.1,210.0 332.3,206.0 332.5,202.0 334.7,200.0 336.3,198.0 337.1,196.0 337.1,192.0 336.5,190.0 335.0,187.5 333.0,184.1 333.0,182.4 333.4,180.0 334.7,176.0 337.0,174.9 341.0,175.5 343.0,176.5 345.2,178.0 349.0,179.9 351.0,180.1 353.0,179.9 357.0,178.0 359.0,176.2 361.0,174.2 363.0,172.7 365.0,171.6 369.0,170.4 371.0,170.0 375.0,169.0 377.5,168.0 381.0,166.7 385.0,166.2 389.0,166.1 391.0,166.0 395.0,165.7 399.0,165.0 401.9,164.0 405.0,162.4 407.0,161.2 409.0,160.0 412.0,158.0 414.4,156.0 415.9,154.0 417.0,151.2 417.9,148.0 419.0,144.4 419.9,142.0 421.0,139.5 422.9,136.0 425.0,134.0 427.0,133.9 429.0,135.0 431.0,136.7 433.0,138.7 435.0,140.8 437.0,143.0 439.0,145.3 441.0,147.7 443.0,149.7 445.0,151.0 449.0,151.4 451.2,150.0 455.0,148.4 459.0,148.4 463.0,149.0 467.0,149.3 471.0,149.3 475.0,149.5 478.1,150.0 481.0,150.6 485.0,151.6 487.0,152.1 491.0,153.1 494.3,154.0 497.0,154.7 501.0,155.4 504.3,156.0 507.0,156.5 511.0,157.0 515.0,157.2 519.0,157.2 523.0,156.8 527.0,156.2 529.0,155.8 533.0,154.8 536.0,154.0 539.0,153.0 541.0,151.8 543.3,150.0 545.4,148.0 547.5,146.0 549.9,144.0 553.0,142.0 555.0,141.2 559.0,140.6 563.0,141.3 567.0,141.8 571.0,140.0 573.0,138.0 574.5,136.0 575.7,134.0 577.0,131.5 577.9,128.0 577.0,124.0 575.5,122.0 573.3,120.0 571.0,118.3 569.0,117.0 567.0,115.8 563.9,114.0 561.0,112.4 559.0,111.3 556.5,110.0 553.6,108.0 551.2,106.0 549.0,104.3 547.0,103.3 543.0,103.0 539.8,104.0 537.0,105.1 533.2,106.0 532.5,106.0 529.0,105.5 525.0,104.1 523.0,103.5 519.0,102.6 515.0,102.0 513.0,101.7 509.0,101.2 505.0,100.7 501.0,100.3 499.0,99.9 495.0,98.0 493.2,96.0 492.1,94.0 491.0,91.0 490.4,88.0 490.8,84.0 492.0,82.0 495.0,80.2 499.0,80.7 503.0,81.9 505.0,82.3 509.0,82.6 513.0,82.2 515.0,81.7 518.7,80.0 521.0,78.7 523.0,77.7 525.8,76.0 528.9,74.0 531.0,72.5 533.0,71.0 535.0,69.4 537.0,67.8 539.5,66.0 542.1,64.0 543.9,62.0 545.0,59.4 545.5,56.0"/>
<polyline points="125.0,464.9 129.0,465.1 133.0,464.5 135.0,464.0 139.0,463.7 141.0,464.2 145.0,465.6 149.0,465.6 153.0,464.3 155.0,463.8 159.0,462.8 161.1,462.0 164.5,460.0 167.0,458.0 168.9,456.0 170.7,454.0 173.0,452.1 175.0,450.9 177.0,449.7 179.4,448.0 181.6,446.0 183.0,444.0 184.4,440.0 185.0,437.5 185.6,434.0 187.0,431.2 189.0,428.9 191.0,427.0 193.0,424.0 193.9,422.0 194.3,418.0 193.2,414.0 192.8,412.0 192.1,408.0 191.0,404.3 190.2,402.0 189.2,398.0 189.6,394.0 190.4,390.0 190.4,386.0 189.4,382.0 189.5,378.0 190.0,374.0 190.9,370.0 191.7,368.0 193.0,364.6 193.9,362.0 195.0,359.2 196.4,356.0 197.3,354.0 197.8,350.0 197.0,347.2 196.1,344.0 196.3,340.0 197.1,338.0 199.0,334.3 200.2,332.0 201.2,330.0 202.9,326.0 203.6,324.0 205.0,320.6 207.0,318.3 209.0,316.8 211.0,315.1 211.7,312.0 210.9,310.0 209.0,307.5 209.0,305.8 211.0,303.7 213.5,302.0 217.0,300.2 219.0,299.1 221.0,297.9 223.6,296.0 226.2,294.0 229.0,292.2 231.0,291.1 233.0,289.8 234.7,286.0 234.1,282.0 234.9,278.0 236.6,276.0 239.0,275.4 243.0,275.8 245.0,276.0 249.0,276.3 253.0,276.1 255.0,275.9 259.0,275.4 263.0,275.1 267.0,275.0 271.0,274.8 275.0,275.5 277.0,276.3 281.0,277.5 285.0,277.8 289.0,277.8 293.0,277.0 295.0,275.8 297.0,273.9 299.0,271.7 301.0,269.2 303.0,267.3 305.0,266.0 309.0,264.2 311.0,263.2 313.0,262.0 316.6,260.0 319.0,258.2 321.0,256.1 322.2,254.0 322.8,250.0 322.2,246.0 321.1,242.0 320.5,240.0 319.1,236.0 318.8,234.0 318.3,230.0 317.0,227.4 316.9,224.0 319.0,222.9 321.0,221.8 324.6,220.0 327.0,218.8 329.0,217.7 331.8,216.0 334.1,214.0 335.5,212.0 336.9,208.0 337.3,206.0 338.8,202.0 340.0,200.0 341.2,198.0 342.8,194.0 343.6,192.0 345.0,190.0 349.0,188.6 353.0,188.1 355.0,187.6 357.9,186.0 360.0,184.0 361.7,182.0 363.3,180.0 365.5,178.0 369.0,177.6 371.0,179.5 373.0,180.9 377.0,180.4 378.7,178.0 379.6,176.0 381.1,174.0 385.0,172.6 389.0,172.3 393.0,172.1 395.0,172.0 397.0,172.3 401.0,173.9 405.0,172.9 407.0,171.5 409.5,170.0 413.0,168.4 415.0,167.7 419.0,166.2 421.0,165.4 424.6,164.0 427.0,163.0 430.3,162.0 433.0,161.8 437.0,161.8 441.0,161.2 445.0,160.6 449.0,160.2 451.0,159.8 454.7,158.0 457.0,156.6 459.0,155.9 463.0,155.5 467.0,154.9 471.0,154.4 475.0,154.4 479.0,155.2 482.2,156.0 485.0,156.8 488.6,158.0 491.0,159.2 493.0,160.4 497.0,161.8 499.0,162.3 503.0,163.5 505.0,164.0 509.0,165.3 511.0,166.4 513.0,168.0 515.2,170.0 517.7,172.0 521.0,173.2 525.0,172.9 529.0,172.3 531.8,172.0 535.0,171.3 537.9,170.0 539.9,168.0 541.2,166.0 543.4,164.0 546.4,162.0 549.0,160.4 551.0,159.1 553.0,157.8 557.0,156.0 561.0,157.2 563.0,158.9 565.0,161.1 567.0,163.7 568.9,166.0 565.0,168.0 563.0,168.8 560.7,170.0 558.7,172.0 559.0,174.2 561.0,176.4 565.0,177.1 567.0,176.0 569.0,173.3 569.5,170.0 568.9,168.0 569.2,166.0 573.0,165.3 577.0,164.2 579.0,163.5 581.9,162.0 584.6,160.0 586.5,158.0 587.6,156.0 589.0,152.7 590.8,150.0 592.5,148.0 594.2,146.0 595.4,144.0 596.4,140.0 596.9,136.0 597.3,134.0 598.8,130.0 600.7,128.0 603.0,126.9 605.0,125.8 608.0,124.0 610.9,122.0 612.8,120.0 613.5,118.0 613.0,115.9 611.0,113.5 609.0,111.8 606.4,110.0 603.0,108.5 599.7,110.0 598.2,112.0 597.0,115.2 596.1,118.0 595.0,121.1 591.0,120.6 589.0,118.8 587.0,116.7 585.0,114.8 583.0,113.2 580.8,112.0 577.0,110.6 575.0,109.7 571.6,108.0 569.0,106.5 567.0,105.3 564.8,104.0 561.0,102.0 559.0,101.1 557.0,99.8 554.8,98.0 552.6,96.0 549.9,94.0 547.0,92.9 543.0,93.7 541.0,94.5 538.0,96.0 535.0,97.4 533.0,98.2 529.0,98.4 526.9,98.0 523.0,96.7 520.8,96.0 518.5,94.0 519.0,91.3 521.0,89.7 524.2,88.0 527.0,86.8 529.0,85.7 532.2,84.0 535.0,82.3 537.0,81.0 539.0,79.7 541.2,78.0 543.4,76.0 545.5,74.0 547.6,72.0 549.7,70.0 551.6,68.0 553.5,66.0 555.3,64.0 557.0,61.7 558.6,58.0"/>
<polyline points="203.0,317.1 199.0,317.1 197.0,315.9 196.8,312.0 198.2,310.0 201.0,308.2 203.0,307.9 205.0,309.0 205.5,312.0 205.0,314.8 203.0,317.1"/>
<polyline points="125.0,513.1 127.7,512.0 131.0,510.5 133.0,509.9 137.0,509.9 139.0,510.1 141.0,509.6 143.2,508.0 145.0,506.0 147.0,503.5 149.0,500.5 149.8,498.0 149.3,494.0 148.7,492.0 148.0,488.0 149.0,484.0 150.4,482.0 152.1,480.0 153.2,478.0 153.6,474.0 155.0,471.5 157.4,470.0 161.0,469.5 165.0,469.2 169.0,468.0 171.0,467.2 173.1,466.0 176.3,464.0 179.0,462.1 180.7,460.0 182.0,458.0 183.4,456.0 185.6,454.0 188.3,452.0 190.5,450.0 191.3,448.0 190.9,446.0 189.9,442.0 190.0,438.0 191.0,435.9 195.0,435.3 199.0,434.7 200.5,432.0 201.4,430.0 203.0,426.8 204.7,424.0 205.6,422.0 205.9,418.0 205.0,414.0 204.4,412.0 203.0,409.0 201.2,406.0 199.9,404.0 198.6,402.0 197.0,399.9 195.2,396.0 195.5,392.0 196.6,388.0 196.3,384.0 195.9,380.0 196.1,376.0 196.5,372.0 197.0,368.8 197.6,366.0 198.7,362.0 199.6,360.0 201.0,357.5 203.0,354.5 203.7,352.0 203.0,348.6 202.0,346.0 201.4,342.0 202.9,338.0 203.9,336.0 205.0,333.8 206.7,330.0 207.4,328.0 209.0,324.5 210.9,322.0 213.0,320.2 215.0,318.5 216.6,316.0 217.0,314.0 217.0,311.5 216.5,308.0 217.0,304.7 219.0,302.5 221.0,301.1 223.0,299.7 225.3,298.0 228.8,296.0 231.0,295.5 235.0,295.9 237.0,296.1 241.0,296.2 243.4,296.0 247.0,295.2 249.0,293.9 250.2,290.0 249.0,287.9 246.0,286.0 243.0,284.2 242.3,282.0 245.0,280.9 249.0,280.0 251.0,279.7 255.0,279.0 259.0,278.3 263.0,278.0 265.0,278.0 269.0,277.9 273.0,278.0 275.0,278.3 279.0,279.3 283.0,279.8 287.0,280.0 291.0,279.8 295.0,278.3 297.0,276.9 299.0,274.9 301.0,272.8 303.0,270.7 305.0,269.1 307.0,267.8 310.5,266.0 313.0,264.9 315.0,263.9 319.0,262.2 321.0,261.2 323.2,260.0 326.0,258.0 327.9,256.0 329.0,253.9 329.0,250.0 328.4,248.0 327.1,244.0 326.4,242.0 325.0,239.6 323.2,236.0 324.7,232.0 327.0,230.8 329.0,229.8 331.0,227.9 333.0,224.7 334.7,222.0 336.2,220.0 337.8,218.0 339.2,216.0 340.9,212.0 341.5,210.0 342.6,206.0 343.4,204.0 345.0,201.6 347.0,199.4 349.0,198.0 353.0,197.0 356.9,196.0 359.0,194.8 361.0,193.2 363.0,191.3 365.0,189.3 367.0,187.9 371.0,187.4 375.0,187.3 379.0,186.6 381.0,185.7 385.0,184.4 389.0,184.6 393.0,184.9 397.0,185.2 401.0,185.2 404.6,184.0 407.0,182.7 409.0,181.6 411.5,180.0 415.0,178.0 417.0,177.0 419.0,176.0 423.0,174.8 427.0,174.4 429.0,173.5 431.0,171.9 435.0,170.1 437.0,169.9 439.0,170.0 441.2,170.0 444.6,168.0 447.0,166.7 449.5,166.0 453.0,165.6 457.0,164.7 459.1,164.0 462.2,164.0 465.0,164.5 468.3,164.0 471.0,162.2 473.0,161.4 477.0,161.4 480.2,162.0 483.0,163.1 485.0,165.0 485.7,168.0 485.7,172.0 486.5,176.0 487.0,178.9 487.6,182.0 489.0,185.4 491.0,186.6 495.0,187.6 497.0,188.1 501.0,189.1 504.9,190.0 507.0,190.2 511.0,190.5 515.0,191.4 517.0,192.3 521.0,193.1 523.7,192.0 527.0,191.6 528.5,194.0 529.6,196.0 532.3,198.0 535.0,198.1 537.0,197.5 539.5,198.0 542.6,200.0 545.0,201.5 547.0,202.6 551.0,203.9 553.0,204.5 557.0,205.3 560.4,206.0 563.0,206.5 567.0,206.9 571.0,207.0 575.0,206.9 579.0,206.9 583.0,206.5 586.0,206.0 589.0,205.0 591.2,204.0 595.0,202.0 597.0,200.9 599.0,199.7 601.0,197.9 603.0,195.8 605.0,193.6 607.0,191.8 609.4,190.0 612.3,188.0 615.0,186.4 617.0,185.5 621.0,184.3 623.0,183.9 627.0,183.4 631.0,183.1 635.0,183.2 639.0,183.4 643.0,183.7 647.0,184.0 649.0,184.0 651.0,184.0 655.0,183.8 659.0,184.0 661.0,184.2 665.0,184.6 669.0,184.7 673.0,184.1 674.8,182.0 673.0,178.0 671.6,176.0 670.1,174.0 668.7,172.0 667.0,169.1 665.5,166.0 664.5,164.0 663.0,160.9 661.8,158.0 660.8,156.0 659.0,152.0 658.1,150.0 657.0,147.9 655.0,144.2 653.9,142.0 653.0,138.7 653.0,137.5 653.8,134.0 655.0,131.5 657.0,128.6 659.0,126.9 661.1,126.0 664.8,126.0 667.0,127.6 668.2,130.0 669.0,132.7 670.4,136.0 671.0,138.2 671.7,136.0 673.0,133.7 675.0,131.6"/>
<polyline points="675.0,154.1 671.2,156.0 670.7,158.0 670.5,162.0 670.9,166.0 671.4,168.0 673.0,171.1 675.0,173.3"/>
<polyline points="204.7,452.0 205.1,450.0 206.0,446.0 207.0,442.2 207.6,440.0 208.7,436.0 209.4,434.0 211.0,430.5 212.3,428.0 213.2,426.0 213.8,422.0 213.0,419.1 211.8,416.0 211.1,412.0 211.0,409.8 210.3,406.0 209.0,402.9 207.5,400.0 206.3,398.0 204.6,396.0 203.9,392.0 203.9,388.0 203.1,384.0 202.8,382.0 202.5,378.0 202.6,374.0 202.9,370.0 203.3,368.0 204.5,364.0 205.7,362.0 207.3,360.0 209.0,356.8 209.7,354.0 209.7,350.0 209.0,346.0 208.7,344.0 209.0,341.0 209.8,338.0 210.9,334.0 211.6,332.0 213.0,328.0 214.1,326.0 215.9,324.0 218.2,322.0 219.8,320.0 221.0,316.0 221.3,314.0 221.6,310.0 222.4,306.0 225.0,304.0 228.6,306.0 231.0,307.1 235.0,307.9 237.0,308.6 239.5,310.0 241.8,312.0 245.0,313.3 249.0,313.5 252.3,312.0 253.5,310.0 254.6,306.0 255.0,303.8 256.1,300.0 257.0,297.9 258.0,294.0 257.9,290.0 257.3,286.0 259.0,282.8 261.0,282.0 265.0,281.7 269.0,281.6 273.0,281.7 276.2,282.0 279.0,282.6 283.0,283.0 287.0,283.2 291.0,283.2 295.0,282.3 297.0,281.5 300.4,280.0 303.0,279.5 307.0,279.1 309.5,278.0 311.7,276.0 313.3,274.0 315.0,272.0 317.1,270.0 320.7,268.0 323.0,267.3 327.0,266.0 329.0,265.5"/>
<polyline points="417.0,188.9 419.1,188.0 423.0,186.9 427.0,186.0 429.0,185.7 433.0,184.7 435.7,184.0 439.0,183.6 441.0,184.0 443.0,186.1 445.0,188.3"/>
<polyline points="329.0,411.1 326.9,412.0 323.3,414.0 321.3,416.0 320.0,418.0 318.9,420.0 318.7,424.0 320.0,426.0 322.1,428.0 324.2,430.0 326.4,432.0 328.7,434.0"/>
<polyline points="540,284.75 550.5,293.5 568,325 576.75,344.25 569.75,356.5"/>
<polyline points="540,419.75 557.5,411 583.75,395.25 599.5,388.25 611.75,384.75 617,374.25 624,376 632.75,382 653.75,385.6 667.75,379.5 674,379.5"/>
<polyline points="566.25,460 575,442.5 590.75,425 601.25,425 617,430.25 632.75,444.25 641.5,460"/>
<polyline points="639.6,455 652,478 653.9,488.8 639.6,488.8 629,487 620,480 611,479 607.6,482.6 620,501.3 627.2,512 627.2,526 634.3,538.6 645,561.7"/>
<polyline points="540,478 556,471 570,455"/>
<polyline points="400,193.5 426.25,181.25 447.25,172.5 477,172.5 482.25,179.5 482.25,188.25 494.5,193.5 522.5,205.75 540,212.75"/>
<polyline points="540,219.75 505,218 470,217 443.75,221.5 440,228.5 452.5,233.75 478.75,235.5 505,242.5 522.5,253 524.25,260"/>
<polyline points="522.5,255 526,265.5 540,283"/>
<polyline points="470,405.75 470,412.75 477,418 475.25,422.4 456,428.5 440.25,435.5 440.25,440.75 447.25,442.5 470,435.5 485.75,437.25 485.75,447.75 489.25,451.25 491,444.25 487.5,433.75 487.5,422.4 498,423.25 508.5,418.9 517.25,422.4 540,420.6"/>
<polyline points="472.6,400.5 480.5,402.25 492.75,390 498,370.75 505,370.75 519,382 534.75,379.5 540,369"/>
<polyline points="400,497.7 426.7,504 437.4,502.1 439.1,490.6 449.8,486.1 462.3,482.6 476.5,485.2 492.5,485.2 521,483.5 540,479"/>
<polyline points="215,470 197.5,484 194,498 183.5,510.25 176.5,520.75 169.5,529.5 173,533 194,530.4 220.25,536.5 230.75,545.25 234.25,554 234.25,565"/>
<polyline points="260,465.7 270.7,473.7 277.8,472.8 304.5,455"/>
<polyline points="354.3,455 375.6,463.9 365,478 370.3,483.5 368.5,490.6 388,497.7 400,498.6"/>
<polyline points="340.5,404 321.25,411 323,416.25 310.75,426.75 312.5,437.25 317.75,446 316,453 303.75,460"/>
<polyline points="349.25,405.75 351,421.5 354.5,440.75 356.25,449.5 354.5,456.5 361.5,460"/>
<polyline points="235,308 244,312.5 265,311 272.5,303.5 283,298 290.5,305 298,317 301,323 292,329 304,327.5 313,330.5 325,335 332,340 326,344"/>
<polyline points="235,308 230.5,332 230.5,339.5 235,353 233.5,368 242.5,371 265,377 272.5,375.5 287.5,378.5 299.5,383 316,384.5 313,380 304,372.5"/>
<polyline points="275.5,341 283,342.5 290.5,348.5 310,351.5 325,354.5 326.5,358 310,356 290.5,353 278,346 275.5,341"/>
<polyline points="254.5,360.5 259,357.5 277,359 301,362.5 325,370 304,368 292,367.25 265,366.5 256,365 254.5,360.5"/>
<polyline points="272.5,328 280,323 286,328 272.5,328"/>
<polyline points="323.5,324.5 332.5,317 332.5,330.5 326,330.5 323.5,324.5"/>
<polyline points="248.5,398 286,393.5 283,381.5 265,381.5"/>
<polyline points="265,404 272.5,407 316,398 295,389 284.5,380"/>
<polyline points="254.5,411.5 265,408.5 280,411.5 281.5,417.5 269.5,419 254.5,413 254.5,411.5"/>
<polyline points="400,277.75 417.5,270.75 440.25,262 477,263 485.75,269 489.25,281.25 478.75,283 461.25,277.75 443.75,276 426.25,281.25 400,290 382.5,293.5 368.5,305.75 352,318 345,320"/>
<polyline points="400,277.75 382.5,284.75 368.5,298.75 358,309.25 346,314"/>
<polyline points="342,304 352.75,297 355.4,299.6 345.75,307.5 342,304"/>
<polyline points="334.4,311 340.5,308.4 337.9,314.5 334.4,311"/>
<polyline points="323,323 331.75,318 333.5,328.5 326.5,332 323,323"/>
</g>
<polygon fill="#fff" points="124,55 360,55 357.5,56 357.5,60 346,60 346,64.4 341,64.4 341,67.5 336,67.5 336,77.5 320,77.5 320,82.5 310,84 310,88 300,92 289,102 288.75,105 304,105 304,153 299.5,153 299.5,166 293.7,166 293.7,180 289,185 286,200 284,214 277,221 273,225 275,230 288,232 289,257 271,257 269,252 248,252 248,238 232,238 232,229 222,229 209.4,229 209.4,238 199.7,238 199.7,252 190,252 190,261.5 182.3,261.5 182.3,271 174.5,271 174.5,283 167,286.7 167,294.4 155.2,294.4 155.2,302.2 147.5,302.2 147.5,329 148,338 150,367 147,380 141,389 136,406 136,431 138,450 126,460 124,460"/>
<polygon fill="#1a6cf0" points="283,78 296,78 296,105 283,105"/>
<g stroke="#c8c8c8" stroke-width="1" stroke-dasharray="2 4.5" shape-rendering="crispEdges">
<line x1="194.5" y1="56" x2="194.5" y2="563"/>
<line x1="265.5" y1="56" x2="265.5" y2="563"/>
<line x1="336.5" y1="56" x2="336.5" y2="563"/>
<line x1="406.5" y1="56" x2="406.5" y2="563"/>
<line x1="477.5" y1="56" x2="477.5" y2="563"/>
<line x1="548.5" y1="56" x2="548.5" y2="563"/>
<line x1="619.5" y1="56" x2="619.5" y2="563"/>
<line x1="126" y1="106.5" x2="674" y2="106.5"/>
<line x1="126" y1="190.5" x2="674" y2="190.5"/>
<line x1="126" y1="275.5" x2="674" y2="275.5"/>
<line x1="126" y1="360.5" x2="674" y2="360.5"/>
<line x1="126" y1="445.5" x2="674" y2="445.5"/>
<line x1="126" y1="530.5" x2="674" y2="530.5"/>
</g>
<g fill="none" stroke="#000" stroke-width="3" stroke-linejoin="round" stroke-linecap="round">
<polyline points="124,145 141.5,149.5 149,152 164,152 161.5,145 171.5,136 182.75,142.5 190,140 195,132.5 210,127.5 222.75,121 239,116 251.5,116 264.6,120.6 279.1,126.4 287.9,135.2 289.3,145.4 286.4,155.6"/>
<polyline points="352,55 330,70 315,80 300,90 295.2,94.4 283.5,104.6 279.9,108.9 283.5,116.2 289.3,111.9 293.7,114.8 301,113.3 301,123.5 302.5,130.8 299.5,142.5 296.6,151.2 292.3,154.1 283.5,155.6 285,161.4 292.3,165.8 287.9,171.6 286.4,180 284.5,204 282.5,212.5 277.5,218.75 272.5,221.25 252.5,223.75 230,226.25 218,228 209.4,229.5 192,234.4"/>
<polyline points="285,55 281.5,70 280,77.5 280,96 283.75,98.75 290,98"/>
<polyline points="291,55 291,71 293.75,75 297.5,80 298,88"/>
<polyline points="327.5,55 330,58.75 325,61 315,62.5 310,68.75 312.5,73.75 316,76 321,78.75"/>
<polyline points="190,188.7 201.7,192.6 210.4,197.5 201.7,203.3 200.7,215 214.3,220.8 213.3,228.5"/>
<polyline points="190,188.7 178.4,197.5 176.4,207.2 186.1,218.8 186.1,228.5 174.5,234.4 166.7,242.1 164.8,251.8 176.4,249.9 186.1,244 193.9,240.2 192,234.4"/>
<polyline points="182.3,257.7 170.6,267.4 159,281 162.8,273.2 160.9,263.5 168.7,257.7 182.3,257.7"/>
<polyline points="192,236 188,257.7 172.5,273.2 159,288.7 150.25,299.25 143.25,306.25 141.5,315 146.75,329 143.25,334.25 146.75,350 146.75,367.5 141.5,385 134.5,397.5 134.5,406.25 134.5,430.75 138,437.75 131,450 124,460.5"/>
<polyline points="134.5,397.5 124,402.75"/>
</g>
<g font-size="11">
<rect x="309.325" y="121" width="23.35" height="12" fill="#fff"/>
<text x="321" y="131" text-anchor="middle">13.5</text>
<rect x="334.9" y="129" width="14.2" height="12" fill="#fff"/>
<text x="342" y="139" text-anchor="middle">14</text>
<rect x="324.325" y="148" width="23.35" height="12" fill="#fff"/>
<text x="336" y="158" text-anchor="middle">14.5</text>
<rect x="386.9" y="138" width="14.2" height="12" fill="#fff"/>
<text x="394" y="148" text-anchor="middle">15</text>
<rect x="418.9" y="107" width="14.2" height="12" fill="#fff"/>
<text x="426" y="117" text-anchor="middle">16</text>
<rect x="501.9" y="106" width="14.2" height="12" fill="#fff"/>
<text x="509" y="116" text-anchor="middle">16</text>
<rect x="538.9" y="93" width="14.2" height="12" fill="#fff"/>
<text x="546" y="103" text-anchor="middle">17</text>
<rect x="528.325" y="100" width="23.35" height="12" fill="#fff"/>
<text x="540" y="110" text-anchor="middle">17.5</text>
<rect x="507.325" y="134" width="23.35" height="12" fill="#fff"/>
<text x="519" y="144" text-anchor="middle">15.5</text>
<rect x="476.325" y="144" width="23.35" height="12" fill="#fff"/>
<text x="488" y="154" text-anchor="middle">16.5</text>
<rect x="475.9" y="152" width="14.2" height="12" fill="#fff"/>
<text x="483" y="162" text-anchor="middle">17</text>
<rect x="308.9" y="156" width="14.2" height="12" fill="#fff"/>
<text x="316" y="166" text-anchor="middle">16</text>
<rect x="324.325" y="165" width="23.35" height="12" fill="#fff"/>
<text x="336" y="175" text-anchor="middle">16.5</text>
<rect x="372.325" y="163" width="23.35" height="12" fill="#fff"/>
<text x="384" y="173" text-anchor="middle">15.5</text>
<rect x="372.325" y="187" width="23.35" height="12" fill="#fff"/>
<text x="384" y="197" text-anchor="middle">17.5</text>
<rect x="459.9" y="166" width="14.2" height="12" fill="#fff"/>
<text x="467" y="176" text-anchor="middle">18</text>
<rect x="565.325" y="202" width="23.35" height="12" fill="#fff"/>
<text x="577" y="212" text-anchor="middle">17.5</text>
<rect x="460.9" y="228" width="14.2" height="12" fill="#fff"/>
<text x="468" y="238" text-anchor="middle">18</text>
<rect x="439.325" y="252" width="23.35" height="12" fill="#fff"/>
<text x="451" y="262" text-anchor="middle">18.5</text>
<rect x="314.4" y="214" width="14.2" height="12" fill="#fff"/>
<text x="321.5" y="224" text-anchor="middle">17</text>
<rect x="287.775" y="227" width="29.45" height="12" fill="#fff"/>
<text x="302.5" y="237" text-anchor="middle">115.5</text>
<rect x="275.9" y="232" width="14.2" height="12" fill="#fff"/>
<text x="283" y="242" text-anchor="middle">11</text>
<rect x="244.9" y="243" width="14.2" height="12" fill="#fff"/>
<text x="252" y="253" text-anchor="middle">12</text>
<rect x="230.325" y="253" width="23.35" height="12" fill="#fff"/>
<text x="242" y="263" text-anchor="middle">16.5</text>
<rect x="235.325" y="260.3" width="23.35" height="12" fill="#fff"/>
<text x="247" y="270.3" text-anchor="middle">17.5</text>
<rect x="266.275" y="263" width="29.45" height="12" fill="#fff"/>
<text x="281" y="273" text-anchor="middle">164.5</text>
<rect x="291.9" y="268" width="14.2" height="12" fill="#fff"/>
<text x="299" y="278" text-anchor="middle">18</text>
<rect x="172.9" y="284" width="14.2" height="12" fill="#fff"/>
<text x="180" y="294" text-anchor="middle">13</text>
<rect x="172.9" y="291" width="14.2" height="12" fill="#fff"/>
<text x="180" y="301" text-anchor="middle">14</text>
<rect x="188.325" y="289" width="23.35" height="12" fill="#fff"/>
<text x="200" y="299" text-anchor="middle">15.5</text>
<rect x="207.9" y="303" width="14.2" height="12" fill="#fff"/>
<text x="215" y="313" text-anchor="middle">17</text>
<rect x="223.325" y="319" width="23.35" height="12" fill="#fff"/>
<text x="235" y="329" text-anchor="middle">18.5</text>
<rect x="346.325" y="311" width="23.35" height="12" fill="#fff"/>
<text x="358" y="321" text-anchor="middle">18.5</text>
<rect x="303.325" y="338" width="23.35" height="12" fill="#fff"/>
<text x="315" y="348" text-anchor="middle">18.5</text>
<rect x="163.325" y="344" width="23.35" height="12" fill="#fff"/>
<text x="175" y="354" text-anchor="middle">16.5</text>
<rect x="175.9" y="352" width="14.2" height="12" fill="#fff"/>
<text x="183" y="362" text-anchor="middle">16</text>
<rect x="277.325" y="357" width="23.35" height="12" fill="#fff"/>
<text x="289" y="367" text-anchor="middle">18.5</text>
<rect x="240.325" y="374" width="23.35" height="12" fill="#fff"/>
<text x="252" y="384" text-anchor="middle">18.5</text>
<rect x="338.9" y="394" width="14.2" height="12" fill="#fff"/>
<text x="346" y="404" text-anchor="middle">18</text>
<rect x="464.9" y="394" width="14.2" height="12" fill="#fff"/>
<text x="472" y="404" text-anchor="middle">18</text>
<rect x="182.9" y="390" width="14.2" height="12" fill="#fff"/>
<text x="190" y="400" text-anchor="middle">18</text>
<rect x="188.9" y="410" width="14.2" height="12" fill="#fff"/>
<text x="196" y="420" text-anchor="middle">17</text>
<rect x="160.9" y="415" width="14.2" height="12" fill="#fff"/>
<text x="168" y="425" text-anchor="middle">16</text>
<rect x="150.325" y="430" width="23.35" height="12" fill="#fff"/>
<text x="162" y="440" text-anchor="middle">16.5</text>
<rect x="516.9" y="418" width="14.2" height="12" fill="#fff"/>
<text x="524" y="428" text-anchor="middle">18</text>
<rect x="162.325" y="460" width="23.35" height="12" fill="#fff"/>
<text x="174" y="470" text-anchor="middle">17.5</text>
<rect x="139.9" y="481" width="14.2" height="12" fill="#fff"/>
<text x="147" y="491" text-anchor="middle">18</text>
<rect x="490.9" y="478" width="14.2" height="12" fill="#fff"/>
<text x="498" y="488" text-anchor="middle">18</text>
<rect x="632.9" y="483" width="14.2" height="12" fill="#fff"/>
<text x="640" y="493" text-anchor="middle">18</text>
<rect x="172.9" y="527" width="14.2" height="12" fill="#fff"/>
<text x="180" y="537" text-anchor="middle">18</text>
</g>
</g>
<rect x="124" y="55" width="551" height="509" fill="none" stroke="#000" stroke-width="2"/>
<g stroke="#000" stroke-width="1" shape-rendering="crispEdges">
<line x1="124.5" y1="565" x2="124.5" y2="568"/>
<line x1="194.5" y1="565" x2="194.5" y2="568"/>
<line x1="265.5" y1="565" x2="265.5" y2="568"/>
<line x1="336.5" y1="565" x2="336.5" y2="568"/>
<line x1="406.5" y1="565" x2="406.5" y2="568"/>
<line x1="477.5" y1="565" x2="477.5" y2="568"/>
<line x1="548.5" y1="565" x2="548.5" y2="568"/>
<line x1="619.5" y1="565" x2="619.5" y2="568"/>
<line x1="120" y1="106.5" x2="123" y2="106.5"/>
<line x1="120" y1="190.5" x2="123" y2="190.5"/>
<line x1="120" y1="275.5" x2="123" y2="275.5"/>
<line x1="120" y1="360.5" x2="123" y2="360.5"/>
<line x1="120" y1="445.5" x2="123" y2="445.5"/>
<line x1="120" y1="530.5" x2="123" y2="530.5"/>
</g><g font-size="11.5">
<text x="124.5" y="580" text-anchor="middle">28.5</text>
<text x="194.5" y="580" text-anchor="middle">29</text>
<text x="265.5" y="580" text-anchor="middle">29.5</text>
<text x="336.5" y="580" text-anchor="middle">30</text>
<text x="406.5" y="580" text-anchor="middle">30.5</text>
<text x="477.5" y="580" text-anchor="middle">31</text>
<text x="548.5" y="580" text-anchor="middle">31.5</text>
<text x="619.5" y="580" text-anchor="middle">32</text>
<text x="117" y="110.5" text-anchor="end">45.5</text>
<text x="117" y="194.5" text-anchor="end">45</text>
<text x="117" y="279.5" text-anchor="end">44.5</text>
<text x="117" y="364.5" text-anchor="end">44</text>
<text x="117" y="449.5" text-anchor="end">43.5</text>
<text x="117" y="534.5" text-anchor="end">43</text>
</g>
<g font-size="20.5"><text x="323.75" y="606" textLength="85" lengthAdjust="spacingAndGlyphs">Longitude</text><text x="421.75" y="606" textLength="53.25" lengthAdjust="spacingAndGlyphs">(East)</text></g>
<g font-size="20.5" transform="translate(82,0) rotate(-90)"><text x="-383" y="0" textLength="67" lengthAdjust="spacingAndGlyphs">Latitude</text><text x="-304.5" y="0" textLength="67" lengthAdjust="spacingAndGlyphs">(North)</text></g>
<g font-size="18" fill="#222">
<text x="146.5" y="109.7" textLength="11.6" lengthAdjust="spacingAndGlyphs">Z</text>
<text x="175.6" y="109.7" textLength="14" lengthAdjust="spacingAndGlyphs">=</text>
<text x="206.6" y="109.7" textLength="32.8" lengthAdjust="spacingAndGlyphs">2.5</text>
<text x="256.3" y="109.7" textLength="17.7" lengthAdjust="spacingAndGlyphs">m</text>
</g>
<g shape-rendering="crispEdges">
<rect x="708" y="61.00" width="16" height="6.48" fill="#780000"/>
<rect x="708" y="66.98" width="16" height="6.48" fill="#910000"/>
<rect x="708" y="72.95" width="16" height="6.48" fill="#a00000"/>
<rect x="708" y="78.93" width="16" height="6.48" fill="#a90000"/>
<rect x="708" y="84.90" width="16" height="6.48" fill="#ba0000"/>
<rect x="708" y="90.88" width="16" height="6.48" fill="#c50000"/>
<rect x="708" y="96.86" width="16" height="6.48" fill="#cd0000"/>
<rect x="708" y="102.83" width="16" height="6.48" fill="#d50000"/>
<rect x="708" y="108.81" width="16" height="6.48" fill="#de0000"/>
<rect x="708" y="114.78" width="16" height="6.48" fill="#e80000"/>
<rect x="708" y="120.76" width="16" height="6.48" fill="#f20000"/>
<rect x="708" y="126.73" width="16" height="6.48" fill="#fd0000"/>
<rect x="708" y="132.71" width="16" height="6.48" fill="#ff0d00"/>
<rect x="708" y="138.69" width="16" height="6.48" fill="#ff1d00"/>
<rect x="708" y="144.66" width="16" height="6.48" fill="#ff2e00"/>
<rect x="708" y="150.64" width="16" height="6.48" fill="#ff3e00"/>
<rect x="708" y="156.61" width="16" height="6.48" fill="#ff4e00"/>
<rect x="708" y="162.59" width="16" height="6.48" fill="#ff5f00"/>
<rect x="708" y="168.57" width="16" height="6.48" fill="#ff6f00"/>
<rect x="708" y="174.54" width="16" height="6.48" fill="#ff8000"/>
<rect x="708" y="180.52" width="16" height="6.48" fill="#ff8800"/>
<rect x="708" y="186.49" width="16" height="6.48" fill="#ff9000"/>
<rect x="708" y="192.47" width="16" height="6.48" fill="#ff9800"/>
<rect x="708" y="198.45" width="16" height="6.48" fill="#ffa100"/>
<rect x="708" y="204.42" width="16" height="6.48" fill="#ffaa00"/>
<rect x="708" y="210.40" width="16" height="6.48" fill="#ffb400"/>
<rect x="708" y="216.37" width="16" height="6.48" fill="#ffbe00"/>
<rect x="708" y="222.35" width="16" height="6.48" fill="#ffc800"/>
<rect x="708" y="228.33" width="16" height="6.48" fill="#ffd200"/>
<rect x="708" y="234.30" width="16" height="6.48" fill="#ffdb00"/>
<rect x="708" y="240.28" width="16" height="6.48" fill="#ffe500"/>
<rect x="708" y="246.25" width="16" height="6.48" fill="#ffef00"/>
<rect x="708" y="252.23" width="16" height="6.48" fill="#fff800"/>
<rect x="708" y="258.20" width="16" height="6.48" fill="#fbff04"/>
<rect x="708" y="264.18" width="16" height="6.48" fill="#eeff11"/>
<rect x="708" y="270.16" width="16" height="6.48" fill="#e1ff1e"/>
<rect x="708" y="276.13" width="16" height="6.48" fill="#d4ff2b"/>
<rect x="708" y="282.11" width="16" height="6.48" fill="#c8ff38"/>
<rect x="708" y="288.08" width="16" height="6.48" fill="#b9ff47"/>
<rect x="708" y="294.06" width="16" height="6.48" fill="#a9ff57"/>
<rect x="708" y="300.04" width="16" height="6.48" fill="#98ff68"/>
<rect x="708" y="306.01" width="16" height="6.48" fill="#88ff78"/>
<rect x="708" y="311.99" width="16" height="6.48" fill="#79ff87"/>
<rect x="708" y="317.96" width="16" height="6.48" fill="#6cff94"/>
<rect x="708" y="323.94" width="16" height="6.48" fill="#5fffa1"/>
<rect x="708" y="329.92" width="16" height="6.48" fill="#52ffae"/>
<rect x="708" y="335.89" width="16" height="6.48" fill="#45ffbb"/>
<rect x="708" y="341.87" width="16" height="6.48" fill="#36ffca"/>
<rect x="708" y="347.84" width="16" height="6.48" fill="#25ffda"/>
<rect x="708" y="353.82" width="16" height="6.48" fill="#15ffea"/>
<rect x="708" y="359.80" width="16" height="6.48" fill="#05fffb"/>
<rect x="708" y="365.77" width="16" height="6.48" fill="#00f6ff"/>
<rect x="708" y="371.75" width="16" height="6.48" fill="#00e9ff"/>
<rect x="708" y="377.72" width="16" height="6.48" fill="#00dcff"/>
<rect x="708" y="383.70" width="16" height="6.48" fill="#00cfff"/>
<rect x="708" y="389.67" width="16" height="6.48" fill="#00c2ff"/>
<rect x="708" y="395.65" width="16" height="6.48" fill="#00b5ff"/>
<rect x="708" y="401.63" width="16" height="6.48" fill="#00a8ff"/>
<rect x="708" y="407.60" width="16" height="6.48" fill="#009bff"/>
<rect x="708" y="413.58" width="16" height="6.48" fill="#008eff"/>
<rect x="708" y="419.55" width="16" height="6.48" fill="#0081ff"/>
<rect x="708" y="425.53" width="16" height="6.48" fill="#0077ff"/>
<rect x="708" y="431.51" width="16" height="6.48" fill="#006dff"/>
<rect x="708" y="437.48" width="16" height="6.48" fill="#0063ff"/>
<rect x="708" y="443.46" width="16" height="6.48" fill="#0059ff"/>
<rect x="708" y="449.43" width="16" height="6.48" fill="#004fff"/>
<rect x="708" y="455.41" width="16" height="6.48" fill="#0045ff"/>
<rect x="708" y="461.39" width="16" height="6.48" fill="#003bff"/>
<rect x="708" y="467.36" width="16" height="6.48" fill="#0030ff"/>
<rect x="708" y="473.34" width="16" height="6.48" fill="#0026ff"/>
<rect x="708" y="479.31" width="16" height="6.48" fill="#001cff"/>
<rect x="708" y="485.29" width="16" height="6.48" fill="#0012ff"/>
<rect x="708" y="491.27" width="16" height="6.48" fill="#0008ff"/>
<rect x="708" y="497.24" width="16" height="6.48" fill="#0000fa"/>
<rect x="708" y="503.22" width="16" height="6.48" fill="#0000e6"/>
<rect x="708" y="509.19" width="16" height="6.48" fill="#0000d3"/>
<rect x="708" y="515.17" width="16" height="6.48" fill="#0000bf"/>
<rect x="708" y="521.14" width="16" height="6.48" fill="#0000ac"/>
<rect x="708" y="527.12" width="16" height="6.48" fill="#00009d"/>
<rect x="708" y="533.10" width="16" height="6.48" fill="#000097"/>
<rect x="708" y="539.07" width="16" height="6.48" fill="#000090"/>
<rect x="708" y="545.05" width="16" height="6.48" fill="#00008a"/>
<rect x="708" y="551.02" width="16" height="6.48" fill="#000083"/>
</g><g font-size="13.8">
<text x="735.5" y="74" textLength="28.5" lengthAdjust="spacingAndGlyphs">18.4</text>
<text x="735.5" y="190" textLength="28.5" lengthAdjust="spacingAndGlyphs">16.4</text>
<text x="735.5" y="312" textLength="28.5" lengthAdjust="spacingAndGlyphs">14.2</text>
<text x="735.5" y="434" textLength="28.5" lengthAdjust="spacingAndGlyphs">12.1</text>
<text x="735.5" y="556" textLength="28.5" lengthAdjust="spacingAndGlyphs">10.0</text>
</g>
</svg>
</body></html>
